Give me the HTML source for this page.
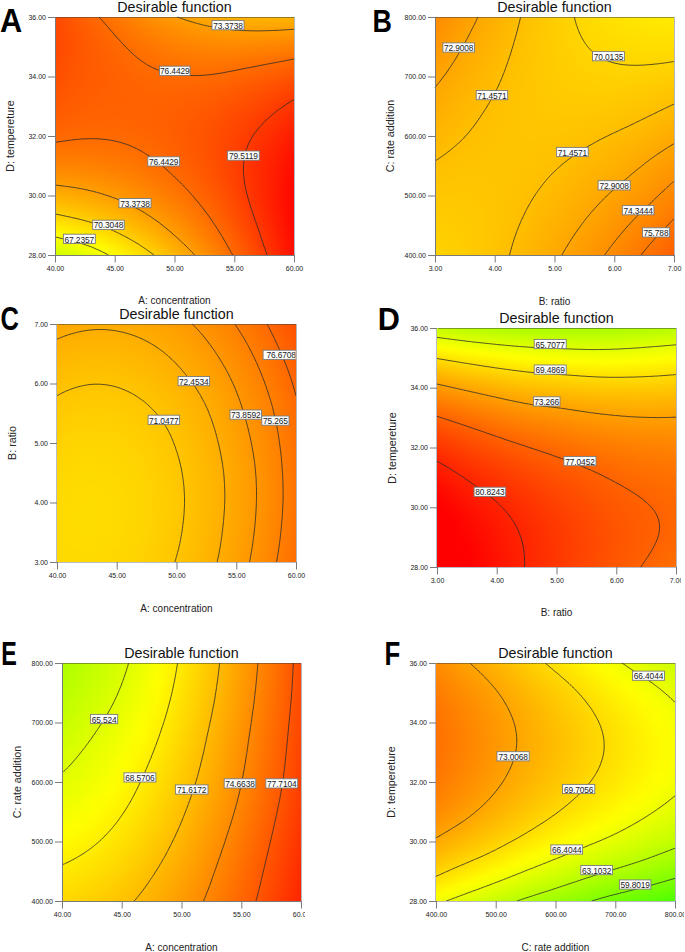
<!DOCTYPE html>
<html><head><meta charset="utf-8"><style>
html,body{margin:0;padding:0;background:#fff;}
body{width:685px;height:952px;position:relative;overflow:hidden;font-family:"Liberation Sans",sans-serif;}
.fld{position:absolute;overflow:hidden}
.fld i{position:absolute;left:0;right:0;height:2px;display:block}
svg{position:absolute;left:0;top:0}
.ct path{fill:none;stroke:#2a2a2a;stroke-width:0.8}
.ax{fill:none;stroke:#7a7a7a;stroke-width:1}
.bd{fill:none;stroke:rgba(60,60,60,0.5);stroke-width:1}
.bdr{fill:none;stroke:#b4b8bc;stroke-width:1}
.axl{fill:none;stroke:#b8bcc6;stroke-width:1}
.lbs rect{fill:#fff;stroke:#7a7a7a;stroke-width:0.9}
.lbs text{font-size:8.4px;text-anchor:middle;fill:#1a1a1a;letter-spacing:-0.12px}
.le{font-weight:bold;fill:#000}
.tk{position:absolute;font-size:7px;line-height:8px;color:#222;white-space:nowrap}
.at{position:absolute;font-size:10px;line-height:12px;color:#222;white-space:nowrap}
.yt{transform:rotate(-90deg);font-size:10.7px}
.ti{position:absolute;font-size:14.3px;line-height:16px;color:#111;white-space:nowrap}

</style></head><body>
<div class="fld" style="left:55px;top:17px;width:239px;height:238px">
<i style="top:0px;background:linear-gradient(90deg,#ff4800 0%,#ff5600 6.667%,#ff6300 13.33%,#ff6e00 20%,#ff7900 26.67%,#ff8400 33.33%,#ff8f00 40%,#ff9800 46.67%,#ff9f00 53.33%,#ffa600 60%,#ffab00 66.67%,#ffb000 73.33%,#ffb200 80%,#ffb400 86.67%,#ffb400 93.33%,#ffb300 100%)"></i>
<i style="top:2px;background:linear-gradient(90deg,#ff4800 0%,#ff5600 6.667%,#ff6200 13.33%,#ff6d00 20%,#ff7800 26.67%,#ff8200 33.33%,#ff8d00 40%,#ff9600 46.67%,#ff9d00 53.33%,#ffa300 60%,#ffa800 66.67%,#ffac00 73.33%,#ffaf00 80%,#ffb100 86.67%,#ffb100 93.33%,#ffaf00 100%)"></i>
<i style="top:4px;background:linear-gradient(90deg,#ff4800 0%,#ff5500 6.667%,#ff6100 13.33%,#ff6b00 20%,#ff7600 26.67%,#ff8100 33.33%,#ff8b00 40%,#ff9300 46.67%,#ff9b00 53.33%,#ffa100 60%,#ffa600 66.67%,#ffa900 73.33%,#ffac00 80%,#ffad00 86.67%,#ffad00 93.33%,#ffac00 100%)"></i>
<i style="top:6px;background:linear-gradient(90deg,#ff4700 0%,#ff5400 6.667%,#ff6000 13.33%,#ff6a00 20%,#ff7500 26.67%,#ff7f00 33.33%,#ff8900 40%,#ff9100 46.67%,#ff9800 53.33%,#ff9e00 60%,#ffa300 66.67%,#ffa600 73.33%,#ffa900 80%,#ffaa00 86.67%,#ffa900 93.33%,#ffa800 100%)"></i>
<i style="top:8px;background:linear-gradient(90deg,#ff4700 0%,#ff5400 6.667%,#ff5f00 13.33%,#ff6900 20%,#ff7300 26.67%,#ff7d00 33.33%,#ff8700 40%,#ff8f00 46.67%,#ff9600 53.33%,#ff9c00 60%,#ffa000 66.67%,#ffa400 73.33%,#ffa600 80%,#ffa600 86.67%,#ffa600 93.33%,#ffa400 100%)"></i>
<i style="top:10px;background:linear-gradient(90deg,#ff4700 0%,#ff5300 6.667%,#ff5e00 13.33%,#ff6800 20%,#ff7200 26.67%,#ff7c00 33.33%,#ff8500 40%,#ff8d00 46.67%,#ff9400 53.33%,#ff9900 60%,#ff9d00 66.67%,#ffa100 73.33%,#ffa300 80%,#ffa300 86.67%,#ffa200 93.33%,#ffa100 100%)"></i>
<i style="top:12px;background:linear-gradient(90deg,#ff4600 0%,#ff5300 6.667%,#ff5e00 13.33%,#ff6700 20%,#ff7100 26.67%,#ff7a00 33.33%,#ff8300 40%,#ff8b00 46.67%,#ff9200 53.33%,#ff9700 60%,#ff9b00 66.67%,#ff9e00 73.33%,#ff9f00 80%,#ffa000 86.67%,#ff9f00 93.33%,#ff9d00 100%)"></i>
<i style="top:14px;background:linear-gradient(90deg,#ff4600 0%,#ff5200 6.667%,#ff5d00 13.33%,#ff6600 20%,#ff7000 26.67%,#ff7900 33.33%,#ff8200 40%,#ff8900 46.67%,#ff8f00 53.33%,#ff9400 60%,#ff9800 66.67%,#ff9b00 73.33%,#ff9c00 80%,#ff9c00 86.67%,#ff9b00 93.33%,#ff9900 100%)"></i>
<i style="top:16px;background:linear-gradient(90deg,#ff4600 0%,#ff5200 6.667%,#ff5c00 13.33%,#ff6600 20%,#ff6f00 26.67%,#ff7800 33.33%,#ff8000 40%,#ff8700 46.67%,#ff8d00 53.33%,#ff9200 60%,#ff9600 66.67%,#ff9800 73.33%,#ff9900 80%,#ff9900 86.67%,#ff9800 93.33%,#ff9600 100%)"></i>
<i style="top:18px;background:linear-gradient(90deg,#ff4600 0%,#ff5200 6.667%,#ff5c00 13.33%,#ff6500 20%,#ff6e00 26.67%,#ff7600 33.33%,#ff7e00 40%,#ff8500 46.67%,#ff8b00 53.33%,#ff9000 60%,#ff9300 66.67%,#ff9500 73.33%,#ff9600 80%,#ff9600 86.67%,#ff9500 93.33%,#ff9200 100%)"></i>
<i style="top:20px;background:linear-gradient(90deg,#ff4600 0%,#ff5200 6.667%,#ff5b00 13.33%,#ff6400 20%,#ff6d00 26.67%,#ff7500 33.33%,#ff7d00 40%,#ff8400 46.67%,#ff8900 53.33%,#ff8e00 60%,#ff9100 66.67%,#ff9300 73.33%,#ff9300 80%,#ff9300 86.67%,#ff9100 93.33%,#ff8f00 100%)"></i>
<i style="top:22px;background:linear-gradient(90deg,#ff4600 0%,#ff5200 6.667%,#ff5b00 13.33%,#ff6300 20%,#ff6c00 26.67%,#ff7400 33.33%,#ff7b00 40%,#ff8200 46.67%,#ff8700 53.33%,#ff8b00 60%,#ff8e00 66.67%,#ff9000 73.33%,#ff9000 80%,#ff9000 86.67%,#ff8e00 93.33%,#ff8b00 100%)"></i>
<i style="top:24px;background:linear-gradient(90deg,#ff4600 0%,#ff5100 6.667%,#ff5b00 13.33%,#ff6300 20%,#ff6b00 26.67%,#ff7300 33.33%,#ff7a00 40%,#ff8000 46.67%,#ff8500 53.33%,#ff8900 60%,#ff8c00 66.67%,#ff8d00 73.33%,#ff8d00 80%,#ff8c00 86.67%,#ff8a00 93.33%,#ff8800 100%)"></i>
<i style="top:26px;background:linear-gradient(90deg,#ff4700 0%,#ff5100 6.667%,#ff5a00 13.33%,#ff6200 20%,#ff6a00 26.67%,#ff7100 33.33%,#ff7900 40%,#ff7f00 46.67%,#ff8300 53.33%,#ff8700 60%,#ff8a00 66.67%,#ff8b00 73.33%,#ff8b00 80%,#ff8900 86.67%,#ff8700 93.33%,#ff8400 100%)"></i>
<i style="top:28px;background:linear-gradient(90deg,#ff4700 0%,#ff5100 6.667%,#ff5a00 13.33%,#ff6200 20%,#ff6900 26.67%,#ff7000 33.33%,#ff7700 40%,#ff7d00 46.67%,#ff8200 53.33%,#ff8500 60%,#ff8700 66.67%,#ff8800 73.33%,#ff8800 80%,#ff8600 86.67%,#ff8400 93.33%,#ff8100 100%)"></i>
<i style="top:30px;background:linear-gradient(90deg,#ff4700 0%,#ff5100 6.667%,#ff5a00 13.33%,#ff6100 20%,#ff6800 26.67%,#ff6f00 33.33%,#ff7600 40%,#ff7b00 46.67%,#ff8000 53.33%,#ff8300 60%,#ff8500 66.67%,#ff8600 73.33%,#ff8500 80%,#ff8300 86.67%,#ff8100 93.33%,#ff7d00 100%)"></i>
<i style="top:32px;background:linear-gradient(90deg,#ff4700 0%,#ff5200 6.667%,#ff5a00 13.33%,#ff6100 20%,#ff6800 26.67%,#ff6e00 33.33%,#ff7500 40%,#ff7a00 46.67%,#ff7e00 53.33%,#ff8100 60%,#ff8300 66.67%,#ff8300 73.33%,#ff8200 80%,#ff8000 86.67%,#ff7e00 93.33%,#ff7a00 100%)"></i>
<i style="top:34px;background:linear-gradient(90deg,#ff4800 0%,#ff5200 6.667%,#ff5a00 13.33%,#ff6000 20%,#ff6700 26.67%,#ff6d00 33.33%,#ff7300 40%,#ff7800 46.67%,#ff7c00 53.33%,#ff7f00 60%,#ff8100 66.67%,#ff8100 73.33%,#ff8000 80%,#ff7e00 86.67%,#ff7b00 93.33%,#ff7700 100%)"></i>
<i style="top:36px;background:linear-gradient(90deg,#ff4800 0%,#ff5200 6.667%,#ff5900 13.33%,#ff6000 20%,#ff6600 26.67%,#ff6d00 33.33%,#ff7200 40%,#ff7700 46.67%,#ff7b00 53.33%,#ff7d00 60%,#ff7e00 66.67%,#ff7e00 73.33%,#ff7d00 80%,#ff7b00 86.67%,#ff7800 93.33%,#ff7400 100%)"></i>
<i style="top:38px;background:linear-gradient(90deg,#ff4800 0%,#ff5200 6.667%,#ff5900 13.33%,#ff6000 20%,#ff6600 26.67%,#ff6c00 33.33%,#ff7100 40%,#ff7600 46.67%,#ff7900 53.33%,#ff7b00 60%,#ff7c00 66.67%,#ff7c00 73.33%,#ff7a00 80%,#ff7800 86.67%,#ff7500 93.33%,#ff7100 100%)"></i>
<i style="top:40px;background:linear-gradient(90deg,#ff4900 0%,#ff5200 6.667%,#ff5900 13.33%,#ff5f00 20%,#ff6500 26.67%,#ff6b00 33.33%,#ff7000 40%,#ff7400 46.67%,#ff7800 53.33%,#ff7a00 60%,#ff7a00 66.67%,#ff7a00 73.33%,#ff7800 80%,#ff7500 86.67%,#ff7200 93.33%,#ff6d00 100%)"></i>
<i style="top:42px;background:linear-gradient(90deg,#ff4900 0%,#ff5200 6.667%,#ff5900 13.33%,#ff5f00 20%,#ff6500 26.67%,#ff6a00 33.33%,#ff6f00 40%,#ff7300 46.67%,#ff7600 53.33%,#ff7800 60%,#ff7800 66.67%,#ff7800 73.33%,#ff7500 80%,#ff7200 86.67%,#ff6f00 93.33%,#ff6a00 100%)"></i>
<i style="top:44px;background:linear-gradient(90deg,#ff4a00 0%,#ff5300 6.667%,#ff5900 13.33%,#ff5f00 20%,#ff6400 26.67%,#ff6900 33.33%,#ff6e00 40%,#ff7200 46.67%,#ff7500 53.33%,#ff7600 60%,#ff7600 66.67%,#ff7500 73.33%,#ff7300 80%,#ff7000 86.67%,#ff6c00 93.33%,#ff6700 100%)"></i>
<i style="top:46px;background:linear-gradient(90deg,#ff4a00 0%,#ff5300 6.667%,#ff5900 13.33%,#ff5f00 20%,#ff6400 26.67%,#ff6900 33.33%,#ff6d00 40%,#ff7100 46.67%,#ff7300 53.33%,#ff7500 60%,#ff7500 66.67%,#ff7300 73.33%,#ff7100 80%,#ff6d00 86.67%,#ff6900 93.33%,#ff6400 100%)"></i>
<i style="top:48px;background:linear-gradient(90deg,#ff4b00 0%,#ff5300 6.667%,#ff5900 13.33%,#ff5f00 20%,#ff6300 26.67%,#ff6800 33.33%,#ff6c00 40%,#ff6f00 46.67%,#ff7200 53.33%,#ff7300 60%,#ff7300 66.67%,#ff7100 73.33%,#ff6e00 80%,#ff6b00 86.67%,#ff6700 93.33%,#ff6200 100%)"></i>
<i style="top:50px;background:linear-gradient(90deg,#ff4b00 0%,#ff5400 6.667%,#ff5a00 13.33%,#ff5f00 20%,#ff6300 26.67%,#ff6700 33.33%,#ff6b00 40%,#ff6e00 46.67%,#ff7000 53.33%,#ff7100 60%,#ff7100 66.67%,#ff6f00 73.33%,#ff6c00 80%,#ff6800 86.67%,#ff6400 93.33%,#ff5f00 100%)"></i>
<i style="top:52px;background:linear-gradient(90deg,#ff4c00 0%,#ff5400 6.667%,#ff5a00 13.33%,#ff5e00 20%,#ff6300 26.67%,#ff6700 33.33%,#ff6a00 40%,#ff6d00 46.67%,#ff6f00 53.33%,#ff7000 60%,#ff6f00 66.67%,#ff6d00 73.33%,#ff6a00 80%,#ff6600 86.67%,#ff6100 93.33%,#ff5c00 100%)"></i>
<i style="top:54px;background:linear-gradient(90deg,#ff4c00 0%,#ff5400 6.667%,#ff5a00 13.33%,#ff5e00 20%,#ff6200 26.67%,#ff6600 33.33%,#ff6a00 40%,#ff6c00 46.67%,#ff6e00 53.33%,#ff6e00 60%,#ff6e00 66.67%,#ff6b00 73.33%,#ff6800 80%,#ff6400 86.67%,#ff5f00 93.33%,#ff5900 100%)"></i>
<i style="top:56px;background:linear-gradient(90deg,#ff4d00 0%,#ff5500 6.667%,#ff5a00 13.33%,#ff5e00 20%,#ff6200 26.67%,#ff6600 33.33%,#ff6900 40%,#ff6b00 46.67%,#ff6d00 53.33%,#ff6d00 60%,#ff6c00 66.67%,#ff6900 73.33%,#ff6600 80%,#ff6200 86.67%,#ff5d00 93.33%,#ff5700 100%)"></i>
<i style="top:58px;background:linear-gradient(90deg,#ff4e00 0%,#ff5500 6.667%,#ff5a00 13.33%,#ff5e00 20%,#ff6200 26.67%,#ff6500 33.33%,#ff6800 40%,#ff6a00 46.67%,#ff6b00 53.33%,#ff6c00 60%,#ff6a00 66.67%,#ff6800 73.33%,#ff6400 80%,#ff5f00 86.67%,#ff5a00 93.33%,#ff5400 100%)"></i>
<i style="top:60px;background:linear-gradient(90deg,#ff4e00 0%,#ff5500 6.667%,#ff5a00 13.33%,#ff5e00 20%,#ff6200 26.67%,#ff6500 33.33%,#ff6700 40%,#ff6900 46.67%,#ff6a00 53.33%,#ff6a00 60%,#ff6900 66.67%,#ff6600 73.33%,#ff6200 80%,#ff5d00 86.67%,#ff5800 93.33%,#ff5200 100%)"></i>
<i style="top:62px;background:linear-gradient(90deg,#ff4f00 0%,#ff5600 6.667%,#ff5b00 13.33%,#ff5e00 20%,#ff6200 26.67%,#ff6400 33.33%,#ff6700 40%,#ff6800 46.67%,#ff6900 53.33%,#ff6900 60%,#ff6700 66.67%,#ff6400 73.33%,#ff6000 80%,#ff5b00 86.67%,#ff5600 93.33%,#ff4f00 100%)"></i>
<i style="top:64px;background:linear-gradient(90deg,#ff4f00 0%,#ff5600 6.667%,#ff5b00 13.33%,#ff5e00 20%,#ff6100 26.67%,#ff6400 33.33%,#ff6600 40%,#ff6800 46.67%,#ff6800 53.33%,#ff6800 60%,#ff6600 66.67%,#ff6300 73.33%,#ff5e00 80%,#ff5900 86.67%,#ff5300 93.33%,#ff4d00 100%)"></i>
<i style="top:66px;background:linear-gradient(90deg,#ff5000 0%,#ff5700 6.667%,#ff5b00 13.33%,#ff5e00 20%,#ff6100 26.67%,#ff6400 33.33%,#ff6600 40%,#ff6700 46.67%,#ff6700 53.33%,#ff6600 60%,#ff6400 66.67%,#ff6100 73.33%,#ff5c00 80%,#ff5700 86.67%,#ff5100 93.33%,#ff4a00 100%)"></i>
<i style="top:68px;background:linear-gradient(90deg,#ff5100 0%,#ff5700 6.667%,#ff5b00 13.33%,#ff5f00 20%,#ff6100 26.67%,#ff6300 33.33%,#ff6500 40%,#ff6600 46.67%,#ff6600 53.33%,#ff6500 60%,#ff6300 66.67%,#ff5f00 73.33%,#ff5b00 80%,#ff5500 86.67%,#ff4f00 93.33%,#ff4800 100%)"></i>
<i style="top:70px;background:linear-gradient(90deg,#ff5100 0%,#ff5800 6.667%,#ff5c00 13.33%,#ff5f00 20%,#ff6100 26.67%,#ff6300 33.33%,#ff6500 40%,#ff6500 46.67%,#ff6500 53.33%,#ff6400 60%,#ff6200 66.67%,#ff5e00 73.33%,#ff5900 80%,#ff5400 86.67%,#ff4d00 93.33%,#ff4600 100%)"></i>
<i style="top:72px;background:linear-gradient(90deg,#ff5200 0%,#ff5800 6.667%,#ff5c00 13.33%,#ff5f00 20%,#ff6100 26.67%,#ff6300 33.33%,#ff6400 40%,#ff6500 46.67%,#ff6400 53.33%,#ff6300 60%,#ff6000 66.67%,#ff5c00 73.33%,#ff5700 80%,#ff5200 86.67%,#ff4b00 93.33%,#ff4300 100%)"></i>
<i style="top:74px;background:linear-gradient(90deg,#ff5300 0%,#ff5900 6.667%,#ff5c00 13.33%,#ff5f00 20%,#ff6100 26.67%,#ff6300 33.33%,#ff6400 40%,#ff6400 46.67%,#ff6300 53.33%,#ff6200 60%,#ff5f00 66.67%,#ff5b00 73.33%,#ff5600 80%,#ff5000 86.67%,#ff4900 93.33%,#ff4100 100%)"></i>
<i style="top:76px;background:linear-gradient(90deg,#ff5400 0%,#ff5900 6.667%,#ff5d00 13.33%,#ff5f00 20%,#ff6100 26.67%,#ff6200 33.33%,#ff6300 40%,#ff6300 46.67%,#ff6300 53.33%,#ff6100 60%,#ff5e00 66.67%,#ff5a00 73.33%,#ff5400 80%,#ff4e00 86.67%,#ff4700 93.33%,#ff3f00 100%)"></i>
<i style="top:78px;background:linear-gradient(90deg,#ff5400 0%,#ff5a00 6.667%,#ff5d00 13.33%,#ff5f00 20%,#ff6100 26.67%,#ff6200 33.33%,#ff6300 40%,#ff6300 46.67%,#ff6200 53.33%,#ff6000 60%,#ff5d00 66.67%,#ff5800 73.33%,#ff5300 80%,#ff4d00 86.67%,#ff4500 93.33%,#ff3d00 100%)"></i>
<i style="top:80px;background:linear-gradient(90deg,#ff5500 0%,#ff5a00 6.667%,#ff5d00 13.33%,#ff6000 20%,#ff6100 26.67%,#ff6200 33.33%,#ff6300 40%,#ff6200 46.67%,#ff6100 53.33%,#ff5f00 60%,#ff5c00 66.67%,#ff5700 73.33%,#ff5100 80%,#ff4b00 86.67%,#ff4400 93.33%,#ff3b00 100%)"></i>
<i style="top:82px;background:linear-gradient(90deg,#ff5600 0%,#ff5b00 6.667%,#ff5e00 13.33%,#ff6000 20%,#ff6100 26.67%,#ff6200 33.33%,#ff6200 40%,#ff6200 46.67%,#ff6000 53.33%,#ff5e00 60%,#ff5b00 66.67%,#ff5600 73.33%,#ff5000 80%,#ff4900 86.67%,#ff4200 93.33%,#ff3900 100%)"></i>
<i style="top:84px;background:linear-gradient(90deg,#ff5700 0%,#ff5b00 6.667%,#ff5e00 13.33%,#ff6000 20%,#ff6100 26.67%,#ff6200 33.33%,#ff6200 40%,#ff6100 46.67%,#ff6000 53.33%,#ff5d00 60%,#ff5a00 66.67%,#ff5500 73.33%,#ff4f00 80%,#ff4800 86.67%,#ff4000 93.33%,#ff3700 100%)"></i>
<i style="top:86px;background:linear-gradient(90deg,#ff5700 0%,#ff5c00 6.667%,#ff5f00 13.33%,#ff6000 20%,#ff6200 26.67%,#ff6200 33.33%,#ff6200 40%,#ff6100 46.67%,#ff5f00 53.33%,#ff5c00 60%,#ff5900 66.67%,#ff5300 73.33%,#ff4d00 80%,#ff4600 86.67%,#ff3e00 93.33%,#ff3500 100%)"></i>
<i style="top:88px;background:linear-gradient(90deg,#ff5800 0%,#ff5d00 6.667%,#ff5f00 13.33%,#ff6100 20%,#ff6200 26.67%,#ff6200 33.33%,#ff6200 40%,#ff6100 46.67%,#ff5f00 53.33%,#ff5c00 60%,#ff5800 66.67%,#ff5200 73.33%,#ff4c00 80%,#ff4500 86.67%,#ff3d00 93.33%,#ff3300 100%)"></i>
<i style="top:90px;background:linear-gradient(90deg,#ff5900 0%,#ff5d00 6.667%,#ff6000 13.33%,#ff6100 20%,#ff6200 26.67%,#ff6200 33.33%,#ff6200 40%,#ff6000 46.67%,#ff5e00 53.33%,#ff5b00 60%,#ff5700 66.67%,#ff5100 73.33%,#ff4b00 80%,#ff4400 86.67%,#ff3b00 93.33%,#ff3100 100%)"></i>
<i style="top:92px;background:linear-gradient(90deg,#ff5a00 0%,#ff5e00 6.667%,#ff6000 13.33%,#ff6200 20%,#ff6200 26.67%,#ff6200 33.33%,#ff6200 40%,#ff6000 46.67%,#ff5e00 53.33%,#ff5a00 60%,#ff5600 66.67%,#ff5000 73.33%,#ff4a00 80%,#ff4200 86.67%,#ff3a00 93.33%,#ff3000 100%)"></i>
<i style="top:94px;background:linear-gradient(90deg,#ff5a00 0%,#ff5e00 6.667%,#ff6100 13.33%,#ff6200 20%,#ff6200 26.67%,#ff6200 33.33%,#ff6200 40%,#ff6000 46.67%,#ff5d00 53.33%,#ff5a00 60%,#ff5500 66.67%,#ff4f00 73.33%,#ff4900 80%,#ff4100 86.67%,#ff3800 93.33%,#ff2e00 100%)"></i>
<i style="top:96px;background:linear-gradient(90deg,#ff5b00 0%,#ff5f00 6.667%,#ff6100 13.33%,#ff6200 20%,#ff6300 26.67%,#ff6300 33.33%,#ff6200 40%,#ff6000 46.67%,#ff5d00 53.33%,#ff5900 60%,#ff5400 66.67%,#ff4e00 73.33%,#ff4700 80%,#ff4000 86.67%,#ff3600 93.33%,#ff2c00 100%)"></i>
<i style="top:98px;background:linear-gradient(90deg,#ff5c00 0%,#ff6000 6.667%,#ff6200 13.33%,#ff6300 20%,#ff6300 26.67%,#ff6300 33.33%,#ff6200 40%,#ff6000 46.67%,#ff5d00 53.33%,#ff5900 60%,#ff5400 66.67%,#ff4d00 73.33%,#ff4600 80%,#ff3e00 86.67%,#ff3500 93.33%,#ff2a00 100%)"></i>
<i style="top:100px;background:linear-gradient(90deg,#ff5d00 0%,#ff6100 6.667%,#ff6300 13.33%,#ff6300 20%,#ff6400 26.67%,#ff6300 33.33%,#ff6200 40%,#ff5f00 46.67%,#ff5c00 53.33%,#ff5800 60%,#ff5300 66.67%,#ff4d00 73.33%,#ff4500 80%,#ff3d00 86.67%,#ff3400 93.33%,#ff2900 100%)"></i>
<i style="top:102px;background:linear-gradient(90deg,#ff5e00 0%,#ff6100 6.667%,#ff6300 13.33%,#ff6400 20%,#ff6400 26.67%,#ff6300 33.33%,#ff6200 40%,#ff5f00 46.67%,#ff5c00 53.33%,#ff5800 60%,#ff5200 66.67%,#ff4c00 73.33%,#ff4400 80%,#ff3c00 86.67%,#ff3200 93.33%,#ff2700 100%)"></i>
<i style="top:104px;background:linear-gradient(90deg,#ff5f00 0%,#ff6200 6.667%,#ff6400 13.33%,#ff6500 20%,#ff6500 26.67%,#ff6400 33.33%,#ff6200 40%,#ff5f00 46.67%,#ff5c00 53.33%,#ff5700 60%,#ff5200 66.67%,#ff4b00 73.33%,#ff4300 80%,#ff3b00 86.67%,#ff3100 93.33%,#ff2600 100%)"></i>
<i style="top:106px;background:linear-gradient(90deg,#ff6000 0%,#ff6300 6.667%,#ff6500 13.33%,#ff6500 20%,#ff6500 26.67%,#ff6400 33.33%,#ff6200 40%,#ff5f00 46.67%,#ff5c00 53.33%,#ff5700 60%,#ff5100 66.67%,#ff4a00 73.33%,#ff4200 80%,#ff3a00 86.67%,#ff2f00 93.33%,#ff2400 100%)"></i>
<i style="top:108px;background:linear-gradient(90deg,#ff6100 0%,#ff6400 6.667%,#ff6600 13.33%,#ff6600 20%,#ff6600 26.67%,#ff6400 33.33%,#ff6200 40%,#ff5f00 46.67%,#ff5c00 53.33%,#ff5700 60%,#ff5100 66.67%,#ff4a00 73.33%,#ff4100 80%,#ff3800 86.67%,#ff2e00 93.33%,#ff2300 100%)"></i>
<i style="top:110px;background:linear-gradient(90deg,#ff6200 0%,#ff6500 6.667%,#ff6600 13.33%,#ff6700 20%,#ff6600 26.67%,#ff6500 33.33%,#ff6300 40%,#ff6000 46.67%,#ff5b00 53.33%,#ff5600 60%,#ff5000 66.67%,#ff4900 73.33%,#ff4100 80%,#ff3700 86.67%,#ff2d00 93.33%,#ff2100 100%)"></i>
<i style="top:112px;background:linear-gradient(90deg,#ff6300 0%,#ff6600 6.667%,#ff6700 13.33%,#ff6800 20%,#ff6700 26.67%,#ff6500 33.33%,#ff6300 40%,#ff6000 46.67%,#ff5b00 53.33%,#ff5600 60%,#ff5000 66.67%,#ff4800 73.33%,#ff4000 80%,#ff3600 86.67%,#ff2c00 93.33%,#ff2000 100%)"></i>
<i style="top:114px;background:linear-gradient(90deg,#ff6500 0%,#ff6700 6.667%,#ff6800 13.33%,#ff6800 20%,#ff6800 26.67%,#ff6600 33.33%,#ff6300 40%,#ff6000 46.67%,#ff5b00 53.33%,#ff5600 60%,#ff4f00 66.67%,#ff4800 73.33%,#ff3f00 80%,#ff3500 86.67%,#ff2a00 93.33%,#ff1e00 100%)"></i>
<i style="top:116px;background:linear-gradient(90deg,#ff6600 0%,#ff6800 6.667%,#ff6900 13.33%,#ff6900 20%,#ff6800 26.67%,#ff6700 33.33%,#ff6400 40%,#ff6000 46.67%,#ff5b00 53.33%,#ff5600 60%,#ff4f00 66.67%,#ff4700 73.33%,#ff3e00 80%,#ff3400 86.67%,#ff2900 93.33%,#ff1d00 100%)"></i>
<i style="top:118px;background:linear-gradient(90deg,#ff6700 0%,#ff6900 6.667%,#ff6a00 13.33%,#ff6a00 20%,#ff6900 26.67%,#ff6700 33.33%,#ff6400 40%,#ff6000 46.67%,#ff5c00 53.33%,#ff5600 60%,#ff4f00 66.67%,#ff4700 73.33%,#ff3d00 80%,#ff3300 86.67%,#ff2800 93.33%,#ff1b00 100%)"></i>
<i style="top:120px;background:linear-gradient(90deg,#ff6900 0%,#ff6a00 6.667%,#ff6b00 13.33%,#ff6b00 20%,#ff6a00 26.67%,#ff6800 33.33%,#ff6500 40%,#ff6100 46.67%,#ff5c00 53.33%,#ff5600 60%,#ff4e00 66.67%,#ff4600 73.33%,#ff3d00 80%,#ff3200 86.67%,#ff2700 93.33%,#ff1a00 100%)"></i>
<i style="top:122px;background:linear-gradient(90deg,#ff6a00 0%,#ff6c00 6.667%,#ff6d00 13.33%,#ff6c00 20%,#ff6b00 26.67%,#ff6900 33.33%,#ff6500 40%,#ff6100 46.67%,#ff5c00 53.33%,#ff5600 60%,#ff4e00 66.67%,#ff4600 73.33%,#ff3c00 80%,#ff3200 86.67%,#ff2600 93.33%,#ff1900 100%)"></i>
<i style="top:124px;background:linear-gradient(90deg,#ff6c00 0%,#ff6d00 6.667%,#ff6e00 13.33%,#ff6d00 20%,#ff6c00 26.67%,#ff6900 33.33%,#ff6600 40%,#ff6200 46.67%,#ff5c00 53.33%,#ff5600 60%,#ff4e00 66.67%,#ff4500 73.33%,#ff3b00 80%,#ff3100 86.67%,#ff2500 93.33%,#ff1800 100%)"></i>
<i style="top:126px;background:linear-gradient(90deg,#ff6d00 0%,#ff6f00 6.667%,#ff6f00 13.33%,#ff6f00 20%,#ff6d00 26.67%,#ff6a00 33.33%,#ff6700 40%,#ff6200 46.67%,#ff5c00 53.33%,#ff5600 60%,#ff4e00 66.67%,#ff4500 73.33%,#ff3b00 80%,#ff3000 86.67%,#ff2400 93.33%,#ff1600 100%)"></i>
<i style="top:128px;background:linear-gradient(90deg,#ff6f00 0%,#ff7000 6.667%,#ff7100 13.33%,#ff7000 20%,#ff6e00 26.67%,#ff6b00 33.33%,#ff6700 40%,#ff6200 46.67%,#ff5d00 53.33%,#ff5600 60%,#ff4e00 66.67%,#ff4500 73.33%,#ff3a00 80%,#ff2f00 86.67%,#ff2300 93.33%,#ff1500 100%)"></i>
<i style="top:130px;background:linear-gradient(90deg,#ff7100 0%,#ff7200 6.667%,#ff7200 13.33%,#ff7100 20%,#ff6f00 26.67%,#ff6c00 33.33%,#ff6800 40%,#ff6300 46.67%,#ff5d00 53.33%,#ff5600 60%,#ff4e00 66.67%,#ff4400 73.33%,#ff3a00 80%,#ff2e00 86.67%,#ff2200 93.33%,#ff1400 100%)"></i>
<i style="top:132px;background:linear-gradient(90deg,#ff7300 0%,#ff7400 6.667%,#ff7400 13.33%,#ff7200 20%,#ff7000 26.67%,#ff6d00 33.33%,#ff6900 40%,#ff6400 46.67%,#ff5d00 53.33%,#ff5600 60%,#ff4e00 66.67%,#ff4400 73.33%,#ff3900 80%,#ff2e00 86.67%,#ff2100 93.33%,#ff1300 100%)"></i>
<i style="top:134px;background:linear-gradient(90deg,#ff7500 0%,#ff7500 6.667%,#ff7500 13.33%,#ff7400 20%,#ff7100 26.67%,#ff6e00 33.33%,#ff6a00 40%,#ff6400 46.67%,#ff5e00 53.33%,#ff5600 60%,#ff4e00 66.67%,#ff4400 73.33%,#ff3900 80%,#ff2d00 86.67%,#ff2000 93.33%,#ff1200 100%)"></i>
<i style="top:136px;background:linear-gradient(90deg,#ff7700 0%,#ff7700 6.667%,#ff7700 13.33%,#ff7500 20%,#ff7300 26.67%,#ff6f00 33.33%,#ff6a00 40%,#ff6500 46.67%,#ff5e00 53.33%,#ff5700 60%,#ff4e00 66.67%,#ff4400 73.33%,#ff3900 80%,#ff2c00 86.67%,#ff1f00 93.33%,#ff1100 100%)"></i>
<i style="top:138px;background:linear-gradient(90deg,#ff7900 0%,#ff7900 6.667%,#ff7800 13.33%,#ff7700 20%,#ff7400 26.67%,#ff7000 33.33%,#ff6b00 40%,#ff6600 46.67%,#ff5f00 53.33%,#ff5700 60%,#ff4e00 66.67%,#ff4400 73.33%,#ff3800 80%,#ff2c00 86.67%,#ff1f00 93.33%,#ff1000 100%)"></i>
<i style="top:140px;background:linear-gradient(90deg,#ff7b00 0%,#ff7b00 6.667%,#ff7a00 13.33%,#ff7800 20%,#ff7500 26.67%,#ff7100 33.33%,#ff6c00 40%,#ff6600 46.67%,#ff6000 53.33%,#ff5800 60%,#ff4e00 66.67%,#ff4400 73.33%,#ff3800 80%,#ff2b00 86.67%,#ff1e00 93.33%,#ff0f00 100%)"></i>
<i style="top:142px;background:linear-gradient(90deg,#ff7d00 0%,#ff7d00 6.667%,#ff7c00 13.33%,#ff7a00 20%,#ff7700 26.67%,#ff7300 33.33%,#ff6d00 40%,#ff6700 46.67%,#ff6000 53.33%,#ff5800 60%,#ff4e00 66.67%,#ff4400 73.33%,#ff3800 80%,#ff2b00 86.67%,#ff1d00 93.33%,#ff0e00 100%)"></i>
<i style="top:144px;background:linear-gradient(90deg,#ff7f00 0%,#ff7f00 6.667%,#ff7e00 13.33%,#ff7c00 20%,#ff7800 26.67%,#ff7400 33.33%,#ff6e00 40%,#ff6800 46.67%,#ff6100 53.33%,#ff5800 60%,#ff4f00 66.67%,#ff4400 73.33%,#ff3700 80%,#ff2a00 86.67%,#ff1c00 93.33%,#ff0d00 100%)"></i>
<i style="top:146px;background:linear-gradient(90deg,#ff8200 0%,#ff8100 6.667%,#ff8000 13.33%,#ff7d00 20%,#ff7a00 26.67%,#ff7500 33.33%,#ff7000 40%,#ff6900 46.67%,#ff6200 53.33%,#ff5900 60%,#ff4f00 66.67%,#ff4400 73.33%,#ff3700 80%,#ff2a00 86.67%,#ff1c00 93.33%,#ff0d00 100%)"></i>
<i style="top:148px;background:linear-gradient(90deg,#ff8400 0%,#ff8300 6.667%,#ff8200 13.33%,#ff7f00 20%,#ff7b00 26.67%,#ff7700 33.33%,#ff7100 40%,#ff6a00 46.67%,#ff6200 53.33%,#ff5a00 60%,#ff4f00 66.67%,#ff4400 73.33%,#ff3700 80%,#ff2a00 86.67%,#ff1b00 93.33%,#ff0c00 100%)"></i>
<i style="top:150px;background:linear-gradient(90deg,#ff8700 0%,#ff8600 6.667%,#ff8400 13.33%,#ff8100 20%,#ff7d00 26.67%,#ff7800 33.33%,#ff7200 40%,#ff6b00 46.67%,#ff6300 53.33%,#ff5a00 60%,#ff5000 66.67%,#ff4400 73.33%,#ff3700 80%,#ff2900 86.67%,#ff1b00 93.33%,#ff0b00 100%)"></i>
<i style="top:152px;background:linear-gradient(90deg,#ff8900 0%,#ff8800 6.667%,#ff8600 13.33%,#ff8300 20%,#ff7f00 26.67%,#ff7900 33.33%,#ff7300 40%,#ff6c00 46.67%,#ff6400 53.33%,#ff5b00 60%,#ff5000 66.67%,#ff4400 73.33%,#ff3700 80%,#ff2900 86.67%,#ff1a00 93.33%,#ff0a00 100%)"></i>
<i style="top:154px;background:linear-gradient(90deg,#ff8c00 0%,#ff8a00 6.667%,#ff8800 13.33%,#ff8500 20%,#ff8000 26.67%,#ff7b00 33.33%,#ff7500 40%,#ff6d00 46.67%,#ff6500 53.33%,#ff5c00 60%,#ff5100 66.67%,#ff4400 73.33%,#ff3700 80%,#ff2900 86.67%,#ff1a00 93.33%,#ff0a00 100%)"></i>
<i style="top:156px;background:linear-gradient(90deg,#ff8f00 0%,#ff8d00 6.667%,#ff8a00 13.33%,#ff8700 20%,#ff8200 26.67%,#ff7d00 33.33%,#ff7600 40%,#ff6e00 46.67%,#ff6600 53.33%,#ff5c00 60%,#ff5100 66.67%,#ff4500 73.33%,#ff3700 80%,#ff2900 86.67%,#ff1900 93.33%,#ff0900 100%)"></i>
<i style="top:158px;background:linear-gradient(90deg,#ff9100 0%,#ff8f00 6.667%,#ff8d00 13.33%,#ff8900 20%,#ff8400 26.67%,#ff7e00 33.33%,#ff7700 40%,#ff7000 46.67%,#ff6700 53.33%,#ff5d00 60%,#ff5200 66.67%,#ff4500 73.33%,#ff3700 80%,#ff2900 86.67%,#ff1900 93.33%,#ff0900 100%)"></i>
<i style="top:160px;background:linear-gradient(90deg,#ff9400 0%,#ff9200 6.667%,#ff8f00 13.33%,#ff8b00 20%,#ff8600 26.67%,#ff8000 33.33%,#ff7900 40%,#ff7100 46.67%,#ff6800 53.33%,#ff5e00 60%,#ff5200 66.67%,#ff4500 73.33%,#ff3700 80%,#ff2900 86.67%,#ff1900 93.33%,#ff0800 100%)"></i>
<i style="top:162px;background:linear-gradient(90deg,#ff9700 0%,#ff9500 6.667%,#ff9200 13.33%,#ff8d00 20%,#ff8800 26.67%,#ff8200 33.33%,#ff7a00 40%,#ff7200 46.67%,#ff6900 53.33%,#ff5f00 60%,#ff5300 66.67%,#ff4600 73.33%,#ff3800 80%,#ff2800 86.67%,#ff1900 93.33%,#ff0800 100%)"></i>
<i style="top:164px;background:linear-gradient(90deg,#ff9a00 0%,#ff9700 6.667%,#ff9400 13.33%,#ff9000 20%,#ff8a00 26.67%,#ff8300 33.33%,#ff7c00 40%,#ff7300 46.67%,#ff6a00 53.33%,#ff6000 60%,#ff5400 66.67%,#ff4600 73.33%,#ff3800 80%,#ff2800 86.67%,#ff1800 93.33%,#ff0700 100%)"></i>
<i style="top:166px;background:linear-gradient(90deg,#ff9d00 0%,#ff9a00 6.667%,#ff9700 13.33%,#ff9200 20%,#ff8c00 26.67%,#ff8500 33.33%,#ff7d00 40%,#ff7500 46.67%,#ff6b00 53.33%,#ff6100 60%,#ff5500 66.67%,#ff4700 73.33%,#ff3800 80%,#ff2900 86.67%,#ff1800 93.33%,#ff0700 100%)"></i>
<i style="top:168px;background:linear-gradient(90deg,#ffa000 0%,#ff9d00 6.667%,#ff9900 13.33%,#ff9400 20%,#ff8e00 26.67%,#ff8700 33.33%,#ff7f00 40%,#ff7600 46.67%,#ff6d00 53.33%,#ff6200 60%,#ff5500 66.67%,#ff4700 73.33%,#ff3800 80%,#ff2900 86.67%,#ff1800 93.33%,#ff0600 100%)"></i>
<i style="top:170px;background:linear-gradient(90deg,#ffa300 0%,#ffa000 6.667%,#ff9c00 13.33%,#ff9700 20%,#ff9000 26.67%,#ff8900 33.33%,#ff8100 40%,#ff7800 46.67%,#ff6e00 53.33%,#ff6300 60%,#ff5600 66.67%,#ff4800 73.33%,#ff3900 80%,#ff2900 86.67%,#ff1800 93.33%,#ff0600 100%)"></i>
<i style="top:172px;background:linear-gradient(90deg,#ffa600 0%,#ffa300 6.667%,#ff9f00 13.33%,#ff9900 20%,#ff9300 26.67%,#ff8b00 33.33%,#ff8300 40%,#ff7900 46.67%,#ff6f00 53.33%,#ff6400 60%,#ff5700 66.67%,#ff4900 73.33%,#ff3900 80%,#ff2900 86.67%,#ff1800 93.33%,#ff0600 100%)"></i>
<i style="top:174px;background:linear-gradient(90deg,#ffa900 0%,#ffa600 6.667%,#ffa100 13.33%,#ff9c00 20%,#ff9500 26.67%,#ff8d00 33.33%,#ff8400 40%,#ff7b00 46.67%,#ff7100 53.33%,#ff6500 60%,#ff5800 66.67%,#ff4a00 73.33%,#ff3a00 80%,#ff2900 86.67%,#ff1800 93.33%,#ff0500 100%)"></i>
<i style="top:176px;background:linear-gradient(90deg,#ffad00 0%,#ffa900 6.667%,#ffa400 13.33%,#ff9e00 20%,#ff9700 26.67%,#ff8f00 33.33%,#ff8600 40%,#ff7c00 46.67%,#ff7200 53.33%,#ff6600 60%,#ff5900 66.67%,#ff4a00 73.33%,#ff3a00 80%,#ff2900 86.67%,#ff1800 93.33%,#ff0500 100%)"></i>
<i style="top:178px;background:linear-gradient(90deg,#ffb000 0%,#ffac00 6.667%,#ffa700 13.33%,#ffa100 20%,#ff9a00 26.67%,#ff9100 33.33%,#ff8800 40%,#ff7e00 46.67%,#ff7300 53.33%,#ff6800 60%,#ff5a00 66.67%,#ff4b00 73.33%,#ff3b00 80%,#ff2a00 86.67%,#ff1800 93.33%,#ff0500 100%)"></i>
<i style="top:180px;background:linear-gradient(90deg,#ffb300 0%,#ffaf00 6.667%,#ffaa00 13.33%,#ffa400 20%,#ff9c00 26.67%,#ff9400 33.33%,#ff8a00 40%,#ff8000 46.67%,#ff7500 53.33%,#ff6900 60%,#ff5b00 66.67%,#ff4c00 73.33%,#ff3b00 80%,#ff2a00 86.67%,#ff1800 93.33%,#ff0500 100%)"></i>
<i style="top:182px;background:linear-gradient(90deg,#ffb700 0%,#ffb200 6.667%,#ffad00 13.33%,#ffa600 20%,#ff9f00 26.67%,#ff9600 33.33%,#ff8c00 40%,#ff8100 46.67%,#ff7600 53.33%,#ff6a00 60%,#ff5c00 66.67%,#ff4d00 73.33%,#ff3c00 80%,#ff2a00 86.67%,#ff1800 93.33%,#ff0500 100%)"></i>
<i style="top:184px;background:linear-gradient(90deg,#ffba00 0%,#ffb500 6.667%,#ffb000 13.33%,#ffa900 20%,#ffa100 26.67%,#ff9800 33.33%,#ff8e00 40%,#ff8300 46.67%,#ff7800 53.33%,#ff6b00 60%,#ff5d00 66.67%,#ff4e00 73.33%,#ff3d00 80%,#ff2b00 86.67%,#ff1800 93.33%,#ff0500 100%)"></i>
<i style="top:186px;background:linear-gradient(90deg,#ffbe00 0%,#ffb900 6.667%,#ffb300 13.33%,#ffac00 20%,#ffa400 26.67%,#ff9a00 33.33%,#ff9000 40%,#ff8500 46.67%,#ff7900 53.33%,#ff6d00 60%,#ff5f00 66.67%,#ff4f00 73.33%,#ff3d00 80%,#ff2b00 86.67%,#ff1900 93.33%,#ff0500 100%)"></i>
<i style="top:188px;background:linear-gradient(90deg,#ffc200 0%,#ffbc00 6.667%,#ffb600 13.33%,#ffaf00 20%,#ffa700 26.67%,#ff9d00 33.33%,#ff9200 40%,#ff8700 46.67%,#ff7b00 53.33%,#ff6e00 60%,#ff6000 66.67%,#ff5000 73.33%,#ff3e00 80%,#ff2c00 86.67%,#ff1900 93.33%,#ff0500 100%)"></i>
<i style="top:190px;background:linear-gradient(90deg,#ffc500 0%,#ffc000 6.667%,#ffb900 13.33%,#ffb200 20%,#ffa900 26.67%,#ff9f00 33.33%,#ff9400 40%,#ff8900 46.67%,#ff7d00 53.33%,#ff7000 60%,#ff6100 66.67%,#ff5100 73.33%,#ff3f00 80%,#ff2c00 86.67%,#ff1900 93.33%,#ff0500 100%)"></i>
<i style="top:192px;background:linear-gradient(90deg,#ffc900 0%,#ffc300 6.667%,#ffbd00 13.33%,#ffb500 20%,#ffac00 26.67%,#ffa200 33.33%,#ff9700 40%,#ff8b00 46.67%,#ff7e00 53.33%,#ff7100 60%,#ff6200 66.67%,#ff5200 73.33%,#ff4000 80%,#ff2d00 86.67%,#ff1900 93.33%,#ff0500 100%)"></i>
<i style="top:194px;background:linear-gradient(90deg,#ffcd00 0%,#ffc700 6.667%,#ffc000 13.33%,#ffb800 20%,#ffaf00 26.67%,#ffa400 33.33%,#ff9900 40%,#ff8d00 46.67%,#ff8000 53.33%,#ff7300 60%,#ff6400 66.67%,#ff5300 73.33%,#ff4100 80%,#ff2e00 86.67%,#ff1a00 93.33%,#ff0500 100%)"></i>
<i style="top:196px;background:linear-gradient(90deg,#ffd100 0%,#ffcb00 6.667%,#ffc400 13.33%,#ffbb00 20%,#ffb200 26.67%,#ffa700 33.33%,#ff9b00 40%,#ff8f00 46.67%,#ff8200 53.33%,#ff7400 60%,#ff6500 66.67%,#ff5400 73.33%,#ff4100 80%,#ff2e00 86.67%,#ff1a00 93.33%,#ff0500 100%)"></i>
<i style="top:198px;background:linear-gradient(90deg,#ffd500 0%,#ffce00 6.667%,#ffc700 13.33%,#ffbf00 20%,#ffb500 26.67%,#ffaa00 33.33%,#ff9e00 40%,#ff9100 46.67%,#ff8300 53.33%,#ff7600 60%,#ff6600 66.67%,#ff5500 73.33%,#ff4200 80%,#ff2f00 86.67%,#ff1b00 93.33%,#ff0500 100%)"></i>
<i style="top:200px;background:linear-gradient(90deg,#ffd900 0%,#ffd200 6.667%,#ffcb00 13.33%,#ffc200 20%,#ffb800 26.67%,#ffac00 33.33%,#ffa000 40%,#ff9300 46.67%,#ff8500 53.33%,#ff7700 60%,#ff6800 66.67%,#ff5600 73.33%,#ff4300 80%,#ff3000 86.67%,#ff1b00 93.33%,#ff0500 100%)"></i>
<i style="top:202px;background:linear-gradient(90deg,#ffdd00 0%,#ffd600 6.667%,#ffcf00 13.33%,#ffc600 20%,#ffbb00 26.67%,#ffaf00 33.33%,#ffa200 40%,#ff9500 46.67%,#ff8700 53.33%,#ff7900 60%,#ff6900 66.67%,#ff5700 73.33%,#ff4400 80%,#ff3100 86.67%,#ff1b00 93.33%,#ff0600 100%)"></i>
<i style="top:204px;background:linear-gradient(90deg,#ffe200 0%,#ffda00 6.667%,#ffd200 13.33%,#ffc900 20%,#ffbe00 26.67%,#ffb200 33.33%,#ffa500 40%,#ff9700 46.67%,#ff8900 53.33%,#ff7a00 60%,#ff6a00 66.67%,#ff5900 73.33%,#ff4500 80%,#ff3100 86.67%,#ff1c00 93.33%,#ff0600 100%)"></i>
<i style="top:206px;background:linear-gradient(90deg,#ffe600 0%,#ffde00 6.667%,#ffd600 13.33%,#ffcd00 20%,#ffc100 26.67%,#ffb500 33.33%,#ffa800 40%,#ff9900 46.67%,#ff8b00 53.33%,#ff7c00 60%,#ff6c00 66.67%,#ff5a00 73.33%,#ff4600 80%,#ff3200 86.67%,#ff1d00 93.33%,#ff0600 100%)"></i>
<i style="top:208px;background:linear-gradient(90deg,#ffea00 0%,#ffe300 6.667%,#ffda00 13.33%,#ffd000 20%,#ffc500 26.67%,#ffb800 33.33%,#ffaa00 40%,#ff9b00 46.67%,#ff8d00 53.33%,#ff7d00 60%,#ff6d00 66.67%,#ff5b00 73.33%,#ff4700 80%,#ff3300 86.67%,#ff1d00 93.33%,#ff0600 100%)"></i>
<i style="top:210px;background:linear-gradient(90deg,#ffef00 0%,#ffe700 6.667%,#ffde00 13.33%,#ffd400 20%,#ffc800 26.67%,#ffbb00 33.33%,#ffad00 40%,#ff9e00 46.67%,#ff8f00 53.33%,#ff7f00 60%,#ff6f00 66.67%,#ff5c00 73.33%,#ff4800 80%,#ff3400 86.67%,#ff1e00 93.33%,#ff0700 100%)"></i>
<i style="top:212px;background:linear-gradient(90deg,#fff300 0%,#ffeb00 6.667%,#ffe200 13.33%,#ffd800 20%,#ffcb00 26.67%,#ffbe00 33.33%,#ffaf00 40%,#ffa000 46.67%,#ff9100 53.33%,#ff8100 60%,#ff7000 66.67%,#ff5e00 73.33%,#ff4900 80%,#ff3500 86.67%,#ff1e00 93.33%,#ff0700 100%)"></i>
<i style="top:214px;background:linear-gradient(90deg,#fff800 0%,#fff000 6.667%,#ffe700 13.33%,#ffdb00 20%,#ffcf00 26.67%,#ffc100 33.33%,#ffb200 40%,#ffa200 46.67%,#ff9300 53.33%,#ff8300 60%,#ff7200 66.67%,#ff5f00 73.33%,#ff4b00 80%,#ff3500 86.67%,#ff1f00 93.33%,#ff0800 100%)"></i>
<i style="top:216px;background:linear-gradient(90deg,#fffd00 0%,#fff400 6.667%,#ffeb00 13.33%,#ffdf00 20%,#ffd200 26.67%,#ffc400 33.33%,#ffb500 40%,#ffa500 46.67%,#ff9500 53.33%,#ff8400 60%,#ff7300 66.67%,#ff6000 73.33%,#ff4c00 80%,#ff3600 86.67%,#ff2000 93.33%,#ff0800 100%)"></i>
<i style="top:218px;background:linear-gradient(90deg,#fdff00 0%,#fff900 6.667%,#ffef00 13.33%,#ffe300 20%,#ffd600 26.67%,#ffc700 33.33%,#ffb800 40%,#ffa700 46.67%,#ff9700 53.33%,#ff8600 60%,#ff7500 66.67%,#ff6100 73.33%,#ff4d00 80%,#ff3700 86.67%,#ff2000 93.33%,#ff0900 100%)"></i>
<i style="top:220px;background:linear-gradient(90deg,#f8ff00 0%,#fffd00 6.667%,#fff300 13.33%,#ffe700 20%,#ffd900 26.67%,#ffca00 33.33%,#ffbb00 40%,#ffaa00 46.67%,#ff9900 53.33%,#ff8800 60%,#ff7600 66.67%,#ff6300 73.33%,#ff4e00 80%,#ff3800 86.67%,#ff2100 93.33%,#ff0900 100%)"></i>
<i style="top:222px;background:linear-gradient(90deg,#f3ff00 0%,#fcff00 6.667%,#fff800 13.33%,#ffeb00 20%,#ffdd00 26.67%,#ffce00 33.33%,#ffbe00 40%,#ffad00 46.67%,#ff9b00 53.33%,#ff8a00 60%,#ff7800 66.67%,#ff6400 73.33%,#ff4f00 80%,#ff3900 86.67%,#ff2200 93.33%,#ff0a00 100%)"></i>
<i style="top:224px;background:linear-gradient(90deg,#eeff00 0%,#f8ff00 6.667%,#fffc00 13.33%,#ffef00 20%,#ffe000 26.67%,#ffd100 33.33%,#ffc100 40%,#ffaf00 46.67%,#ff9e00 53.33%,#ff8c00 60%,#ff7900 66.67%,#ff6500 73.33%,#ff5000 80%,#ff3a00 86.67%,#ff2300 93.33%,#ff0a00 100%)"></i>
<i style="top:226px;background:linear-gradient(90deg,#eaff00 0%,#f3ff00 6.667%,#fdff00 13.33%,#fff300 20%,#ffe400 26.67%,#ffd400 33.33%,#ffc400 40%,#ffb200 46.67%,#ffa000 53.33%,#ff8e00 60%,#ff7b00 66.67%,#ff6700 73.33%,#ff5100 80%,#ff3b00 86.67%,#ff2300 93.33%,#ff0b00 100%)"></i>
<i style="top:228px;background:linear-gradient(90deg,#e5ff00 0%,#eeff00 6.667%,#f9ff00 13.33%,#fff700 20%,#ffe800 26.67%,#ffd800 33.33%,#ffc700 40%,#ffb500 46.67%,#ffa200 53.33%,#ff9000 60%,#ff7d00 66.67%,#ff6800 73.33%,#ff5300 80%,#ff3c00 86.67%,#ff2400 93.33%,#ff0b00 100%)"></i>
<i style="top:230px;background:linear-gradient(90deg,#e0ff00 0%,#eaff00 6.667%,#f5ff00 13.33%,#fffb00 20%,#ffeb00 26.67%,#ffdb00 33.33%,#ffca00 40%,#ffb700 46.67%,#ffa500 53.33%,#ff9200 60%,#ff7f00 66.67%,#ff6a00 73.33%,#ff5400 80%,#ff3d00 86.67%,#ff2500 93.33%,#ff0c00 100%)"></i>
<i style="top:232px;background:linear-gradient(90deg,#dbff00 0%,#e5ff00 6.667%,#f0ff00 13.33%,#ffff00 20%,#ffef00 26.67%,#ffdf00 33.33%,#ffcd00 40%,#ffba00 46.67%,#ffa700 53.33%,#ff9400 60%,#ff8000 66.67%,#ff6b00 73.33%,#ff5500 80%,#ff3e00 86.67%,#ff2600 93.33%,#ff0d00 100%)"></i>
<i style="top:234px;background:linear-gradient(90deg,#d6ff00 0%,#e0ff00 6.667%,#ecff00 13.33%,#fbff00 20%,#fff300 26.67%,#ffe200 33.33%,#ffd000 40%,#ffbd00 46.67%,#ffaa00 53.33%,#ff9600 60%,#ff8200 66.67%,#ff6d00 73.33%,#ff5700 80%,#ff3f00 86.67%,#ff2700 93.33%,#ff0e00 100%)"></i>
<i style="top:236px;background:linear-gradient(90deg,#d1ff00 0%,#dcff00 6.667%,#e8ff00 13.33%,#f7ff00 20%,#fff700 26.67%,#ffe600 33.33%,#ffd300 40%,#ffc000 46.67%,#ffac00 53.33%,#ff9900 60%,#ff8400 66.67%,#ff6e00 73.33%,#ff5800 80%,#ff4000 86.67%,#ff2800 93.33%,#ff0e00 100%)"></i>
</div>
<div class="fld" style="left:435px;top:17px;width:239px;height:238px">
<i style="top:0px;background:linear-gradient(90deg,#ff8a00 0%,#ff9500 6.667%,#ffa000 13.33%,#ffa900 20%,#ffb200 26.67%,#ffbb00 33.33%,#ffc300 40%,#ffca00 46.67%,#ffd100 53.33%,#ffd700 60%,#ffdc00 66.67%,#ffe100 73.33%,#ffe400 80%,#ffe700 86.67%,#ffea00 93.33%,#ffeb00 100%)"></i>
<i style="top:2px;background:linear-gradient(90deg,#ff8b00 0%,#ff9600 6.667%,#ffa000 13.33%,#ffaa00 20%,#ffb300 26.67%,#ffbb00 33.33%,#ffc300 40%,#ffca00 46.67%,#ffd100 53.33%,#ffd700 60%,#ffdc00 66.67%,#ffe000 73.33%,#ffe400 80%,#ffe700 86.67%,#ffe900 93.33%,#ffeb00 100%)"></i>
<i style="top:4px;background:linear-gradient(90deg,#ff8c00 0%,#ff9700 6.667%,#ffa100 13.33%,#ffaa00 20%,#ffb300 26.67%,#ffbc00 33.33%,#ffc300 40%,#ffca00 46.67%,#ffd100 53.33%,#ffd700 60%,#ffdc00 66.67%,#ffe000 73.33%,#ffe300 80%,#ffe600 86.67%,#ffe800 93.33%,#ffea00 100%)"></i>
<i style="top:6px;background:linear-gradient(90deg,#ff8c00 0%,#ff9700 6.667%,#ffa100 13.33%,#ffab00 20%,#ffb400 26.67%,#ffbc00 33.33%,#ffc300 40%,#ffca00 46.67%,#ffd100 53.33%,#ffd600 60%,#ffdb00 66.67%,#ffdf00 73.33%,#ffe300 80%,#ffe500 86.67%,#ffe700 93.33%,#ffe900 100%)"></i>
<i style="top:8px;background:linear-gradient(90deg,#ff8d00 0%,#ff9800 6.667%,#ffa200 13.33%,#ffab00 20%,#ffb400 26.67%,#ffbc00 33.33%,#ffc400 40%,#ffca00 46.67%,#ffd100 53.33%,#ffd600 60%,#ffdb00 66.67%,#ffdf00 73.33%,#ffe200 80%,#ffe500 86.67%,#ffe600 93.33%,#ffe800 100%)"></i>
<i style="top:10px;background:linear-gradient(90deg,#ff8e00 0%,#ff9900 6.667%,#ffa300 13.33%,#ffac00 20%,#ffb400 26.67%,#ffbc00 33.33%,#ffc400 40%,#ffca00 46.67%,#ffd100 53.33%,#ffd600 60%,#ffdb00 66.67%,#ffde00 73.33%,#ffe100 80%,#ffe400 86.67%,#ffe600 93.33%,#ffe700 100%)"></i>
<i style="top:12px;background:linear-gradient(90deg,#ff8f00 0%,#ff9a00 6.667%,#ffa300 13.33%,#ffac00 20%,#ffb500 26.67%,#ffbd00 33.33%,#ffc400 40%,#ffca00 46.67%,#ffd000 53.33%,#ffd600 60%,#ffda00 66.67%,#ffde00 73.33%,#ffe100 80%,#ffe300 86.67%,#ffe500 93.33%,#ffe600 100%)"></i>
<i style="top:14px;background:linear-gradient(90deg,#ff9000 0%,#ff9a00 6.667%,#ffa400 13.33%,#ffad00 20%,#ffb500 26.67%,#ffbd00 33.33%,#ffc400 40%,#ffca00 46.67%,#ffd000 53.33%,#ffd500 60%,#ffda00 66.67%,#ffdd00 73.33%,#ffe000 80%,#ffe200 86.67%,#ffe400 93.33%,#ffe500 100%)"></i>
<i style="top:16px;background:linear-gradient(90deg,#ff9100 0%,#ff9b00 6.667%,#ffa500 13.33%,#ffad00 20%,#ffb600 26.67%,#ffbd00 33.33%,#ffc400 40%,#ffca00 46.67%,#ffd000 53.33%,#ffd500 60%,#ffd900 66.67%,#ffdd00 73.33%,#ffe000 80%,#ffe200 86.67%,#ffe300 93.33%,#ffe400 100%)"></i>
<i style="top:18px;background:linear-gradient(90deg,#ff9200 0%,#ff9c00 6.667%,#ffa500 13.33%,#ffae00 20%,#ffb600 26.67%,#ffbd00 33.33%,#ffc400 40%,#ffcb00 46.67%,#ffd000 53.33%,#ffd500 60%,#ffd900 66.67%,#ffdc00 73.33%,#ffdf00 80%,#ffe100 86.67%,#ffe200 93.33%,#ffe300 100%)"></i>
<i style="top:20px;background:linear-gradient(90deg,#ff9200 0%,#ff9c00 6.667%,#ffa600 13.33%,#ffae00 20%,#ffb600 26.67%,#ffbe00 33.33%,#ffc400 40%,#ffcb00 46.67%,#ffd000 53.33%,#ffd500 60%,#ffd900 66.67%,#ffdc00 73.33%,#ffde00 80%,#ffe000 86.67%,#ffe100 93.33%,#ffe200 100%)"></i>
<i style="top:22px;background:linear-gradient(90deg,#ff9300 0%,#ff9d00 6.667%,#ffa600 13.33%,#ffaf00 20%,#ffb700 26.67%,#ffbe00 33.33%,#ffc400 40%,#ffca00 46.67%,#ffd000 53.33%,#ffd400 60%,#ffd800 66.67%,#ffdb00 73.33%,#ffde00 80%,#ffdf00 86.67%,#ffe000 93.33%,#ffe100 100%)"></i>
<i style="top:24px;background:linear-gradient(90deg,#ff9400 0%,#ff9e00 6.667%,#ffa700 13.33%,#ffaf00 20%,#ffb700 26.67%,#ffbe00 33.33%,#ffc500 40%,#ffca00 46.67%,#ffd000 53.33%,#ffd400 60%,#ffd800 66.67%,#ffdb00 73.33%,#ffdd00 80%,#ffdf00 86.67%,#ffe000 93.33%,#ffe000 100%)"></i>
<i style="top:26px;background:linear-gradient(90deg,#ff9500 0%,#ff9f00 6.667%,#ffa800 13.33%,#ffb000 20%,#ffb700 26.67%,#ffbe00 33.33%,#ffc500 40%,#ffca00 46.67%,#ffd000 53.33%,#ffd400 60%,#ffd800 66.67%,#ffda00 73.33%,#ffdd00 80%,#ffde00 86.67%,#ffdf00 93.33%,#ffdf00 100%)"></i>
<i style="top:28px;background:linear-gradient(90deg,#ff9600 0%,#ff9f00 6.667%,#ffa800 13.33%,#ffb000 20%,#ffb800 26.67%,#ffbf00 33.33%,#ffc500 40%,#ffca00 46.67%,#ffcf00 53.33%,#ffd400 60%,#ffd700 66.67%,#ffda00 73.33%,#ffdc00 80%,#ffdd00 86.67%,#ffde00 93.33%,#ffde00 100%)"></i>
<i style="top:30px;background:linear-gradient(90deg,#ff9700 0%,#ffa000 6.667%,#ffa900 13.33%,#ffb100 20%,#ffb800 26.67%,#ffbf00 33.33%,#ffc500 40%,#ffca00 46.67%,#ffcf00 53.33%,#ffd300 60%,#ffd700 66.67%,#ffd900 73.33%,#ffdb00 80%,#ffdc00 86.67%,#ffdd00 93.33%,#ffdd00 100%)"></i>
<i style="top:32px;background:linear-gradient(90deg,#ff9700 0%,#ffa100 6.667%,#ffa900 13.33%,#ffb100 20%,#ffb900 26.67%,#ffbf00 33.33%,#ffc500 40%,#ffca00 46.67%,#ffcf00 53.33%,#ffd300 60%,#ffd600 66.67%,#ffd900 73.33%,#ffdb00 80%,#ffdc00 86.67%,#ffdc00 93.33%,#ffdc00 100%)"></i>
<i style="top:34px;background:linear-gradient(90deg,#ff9800 0%,#ffa100 6.667%,#ffaa00 13.33%,#ffb200 20%,#ffb900 26.67%,#ffbf00 33.33%,#ffc500 40%,#ffca00 46.67%,#ffcf00 53.33%,#ffd300 60%,#ffd600 66.67%,#ffd800 73.33%,#ffda00 80%,#ffdb00 86.67%,#ffdb00 93.33%,#ffdb00 100%)"></i>
<i style="top:36px;background:linear-gradient(90deg,#ff9900 0%,#ffa200 6.667%,#ffab00 13.33%,#ffb200 20%,#ffb900 26.67%,#ffc000 33.33%,#ffc500 40%,#ffca00 46.67%,#ffcf00 53.33%,#ffd300 60%,#ffd600 66.67%,#ffd800 73.33%,#ffd900 80%,#ffda00 86.67%,#ffda00 93.33%,#ffda00 100%)"></i>
<i style="top:38px;background:linear-gradient(90deg,#ff9a00 0%,#ffa300 6.667%,#ffab00 13.33%,#ffb300 20%,#ffba00 26.67%,#ffc000 33.33%,#ffc500 40%,#ffca00 46.67%,#ffcf00 53.33%,#ffd200 60%,#ffd500 66.67%,#ffd700 73.33%,#ffd900 80%,#ffd900 86.67%,#ffd900 93.33%,#ffd900 100%)"></i>
<i style="top:40px;background:linear-gradient(90deg,#ff9b00 0%,#ffa300 6.667%,#ffac00 13.33%,#ffb300 20%,#ffba00 26.67%,#ffc000 33.33%,#ffc500 40%,#ffca00 46.67%,#ffce00 53.33%,#ffd200 60%,#ffd500 66.67%,#ffd700 73.33%,#ffd800 80%,#ffd800 86.67%,#ffd800 93.33%,#ffd800 100%)"></i>
<i style="top:42px;background:linear-gradient(90deg,#ff9b00 0%,#ffa400 6.667%,#ffac00 13.33%,#ffb400 20%,#ffba00 26.67%,#ffc000 33.33%,#ffc600 40%,#ffca00 46.67%,#ffce00 53.33%,#ffd200 60%,#ffd400 66.67%,#ffd600 73.33%,#ffd700 80%,#ffd800 86.67%,#ffd700 93.33%,#ffd600 100%)"></i>
<i style="top:44px;background:linear-gradient(90deg,#ff9c00 0%,#ffa500 6.667%,#ffad00 13.33%,#ffb400 20%,#ffba00 26.67%,#ffc000 33.33%,#ffc600 40%,#ffca00 46.67%,#ffce00 53.33%,#ffd100 60%,#ffd400 66.67%,#ffd600 73.33%,#ffd700 80%,#ffd700 86.67%,#ffd600 93.33%,#ffd500 100%)"></i>
<i style="top:46px;background:linear-gradient(90deg,#ff9d00 0%,#ffa500 6.667%,#ffad00 13.33%,#ffb400 20%,#ffbb00 26.67%,#ffc100 33.33%,#ffc600 40%,#ffca00 46.67%,#ffce00 53.33%,#ffd100 60%,#ffd300 66.67%,#ffd500 73.33%,#ffd600 80%,#ffd600 86.67%,#ffd600 93.33%,#ffd400 100%)"></i>
<i style="top:48px;background:linear-gradient(90deg,#ff9e00 0%,#ffa600 6.667%,#ffae00 13.33%,#ffb500 20%,#ffbb00 26.67%,#ffc100 33.33%,#ffc600 40%,#ffca00 46.67%,#ffce00 53.33%,#ffd100 60%,#ffd300 66.67%,#ffd400 73.33%,#ffd500 80%,#ffd500 86.67%,#ffd500 93.33%,#ffd300 100%)"></i>
<i style="top:50px;background:linear-gradient(90deg,#ff9f00 0%,#ffa700 6.667%,#ffae00 13.33%,#ffb500 20%,#ffbb00 26.67%,#ffc100 33.33%,#ffc600 40%,#ffca00 46.67%,#ffce00 53.33%,#ffd000 60%,#ffd300 66.67%,#ffd400 73.33%,#ffd500 80%,#ffd400 86.67%,#ffd400 93.33%,#ffd200 100%)"></i>
<i style="top:52px;background:linear-gradient(90deg,#ff9f00 0%,#ffa700 6.667%,#ffaf00 13.33%,#ffb600 20%,#ffbc00 26.67%,#ffc100 33.33%,#ffc600 40%,#ffca00 46.67%,#ffcd00 53.33%,#ffd000 60%,#ffd200 66.67%,#ffd300 73.33%,#ffd400 80%,#ffd400 86.67%,#ffd300 93.33%,#ffd100 100%)"></i>
<i style="top:54px;background:linear-gradient(90deg,#ffa000 0%,#ffa800 6.667%,#ffaf00 13.33%,#ffb600 20%,#ffbc00 26.67%,#ffc100 33.33%,#ffc600 40%,#ffca00 46.67%,#ffcd00 53.33%,#ffd000 60%,#ffd200 66.67%,#ffd300 73.33%,#ffd300 80%,#ffd300 86.67%,#ffd200 93.33%,#ffd000 100%)"></i>
<i style="top:56px;background:linear-gradient(90deg,#ffa100 0%,#ffa900 6.667%,#ffb000 13.33%,#ffb700 20%,#ffbc00 26.67%,#ffc100 33.33%,#ffc600 40%,#ffca00 46.67%,#ffcd00 53.33%,#ffcf00 60%,#ffd100 66.67%,#ffd200 73.33%,#ffd300 80%,#ffd200 86.67%,#ffd100 93.33%,#ffcf00 100%)"></i>
<i style="top:58px;background:linear-gradient(90deg,#ffa200 0%,#ffa900 6.667%,#ffb100 13.33%,#ffb700 20%,#ffbd00 26.67%,#ffc200 33.33%,#ffc600 40%,#ffca00 46.67%,#ffcd00 53.33%,#ffcf00 60%,#ffd100 66.67%,#ffd200 73.33%,#ffd200 80%,#ffd100 86.67%,#ffd000 93.33%,#ffce00 100%)"></i>
<i style="top:60px;background:linear-gradient(90deg,#ffa300 0%,#ffaa00 6.667%,#ffb100 13.33%,#ffb700 20%,#ffbd00 26.67%,#ffc200 33.33%,#ffc600 40%,#ffca00 46.67%,#ffcc00 53.33%,#ffcf00 60%,#ffd000 66.67%,#ffd100 73.33%,#ffd100 80%,#ffd000 86.67%,#ffcf00 93.33%,#ffcd00 100%)"></i>
<i style="top:62px;background:linear-gradient(90deg,#ffa300 0%,#ffab00 6.667%,#ffb200 13.33%,#ffb800 20%,#ffbd00 26.67%,#ffc200 33.33%,#ffc600 40%,#ffc900 46.67%,#ffcc00 53.33%,#ffce00 60%,#ffd000 66.67%,#ffd000 73.33%,#ffd000 80%,#ffd000 86.67%,#ffce00 93.33%,#ffcc00 100%)"></i>
<i style="top:64px;background:linear-gradient(90deg,#ffa400 0%,#ffab00 6.667%,#ffb200 13.33%,#ffb800 20%,#ffbd00 26.67%,#ffc200 33.33%,#ffc600 40%,#ffc900 46.67%,#ffcc00 53.33%,#ffce00 60%,#ffcf00 66.67%,#ffd000 73.33%,#ffd000 80%,#ffcf00 86.67%,#ffcd00 93.33%,#ffcb00 100%)"></i>
<i style="top:66px;background:linear-gradient(90deg,#ffa500 0%,#ffac00 6.667%,#ffb300 13.33%,#ffb900 20%,#ffbe00 26.67%,#ffc200 33.33%,#ffc600 40%,#ffc900 46.67%,#ffcc00 53.33%,#ffce00 60%,#ffcf00 66.67%,#ffcf00 73.33%,#ffcf00 80%,#ffce00 86.67%,#ffcc00 93.33%,#ffc900 100%)"></i>
<i style="top:68px;background:linear-gradient(90deg,#ffa600 0%,#ffad00 6.667%,#ffb300 13.33%,#ffb900 20%,#ffbe00 26.67%,#ffc200 33.33%,#ffc600 40%,#ffc900 46.67%,#ffcc00 53.33%,#ffcd00 60%,#ffce00 66.67%,#ffcf00 73.33%,#ffce00 80%,#ffcd00 86.67%,#ffcb00 93.33%,#ffc800 100%)"></i>
<i style="top:70px;background:linear-gradient(90deg,#ffa600 0%,#ffad00 6.667%,#ffb400 13.33%,#ffb900 20%,#ffbe00 26.67%,#ffc300 33.33%,#ffc600 40%,#ffc900 46.67%,#ffcb00 53.33%,#ffcd00 60%,#ffce00 66.67%,#ffce00 73.33%,#ffcd00 80%,#ffcc00 86.67%,#ffca00 93.33%,#ffc700 100%)"></i>
<i style="top:72px;background:linear-gradient(90deg,#ffa700 0%,#ffae00 6.667%,#ffb400 13.33%,#ffba00 20%,#ffbf00 26.67%,#ffc300 33.33%,#ffc600 40%,#ffc900 46.67%,#ffcb00 53.33%,#ffcd00 60%,#ffcd00 66.67%,#ffcd00 73.33%,#ffcd00 80%,#ffcb00 86.67%,#ffc900 93.33%,#ffc600 100%)"></i>
<i style="top:74px;background:linear-gradient(90deg,#ffa800 0%,#ffaf00 6.667%,#ffb500 13.33%,#ffba00 20%,#ffbf00 26.67%,#ffc300 33.33%,#ffc600 40%,#ffc900 46.67%,#ffcb00 53.33%,#ffcc00 60%,#ffcd00 66.67%,#ffcd00 73.33%,#ffcc00 80%,#ffca00 86.67%,#ffc800 93.33%,#ffc500 100%)"></i>
<i style="top:76px;background:linear-gradient(90deg,#ffa900 0%,#ffaf00 6.667%,#ffb500 13.33%,#ffbb00 20%,#ffbf00 26.67%,#ffc300 33.33%,#ffc600 40%,#ffc900 46.67%,#ffcb00 53.33%,#ffcc00 60%,#ffcc00 66.67%,#ffcc00 73.33%,#ffcb00 80%,#ffca00 86.67%,#ffc700 93.33%,#ffc400 100%)"></i>
<i style="top:78px;background:linear-gradient(90deg,#ffa900 0%,#ffb000 6.667%,#ffb600 13.33%,#ffbb00 20%,#ffbf00 26.67%,#ffc300 33.33%,#ffc600 40%,#ffc900 46.67%,#ffca00 53.33%,#ffcb00 60%,#ffcc00 66.67%,#ffcc00 73.33%,#ffca00 80%,#ffc900 86.67%,#ffc600 93.33%,#ffc300 100%)"></i>
<i style="top:80px;background:linear-gradient(90deg,#ffaa00 0%,#ffb000 6.667%,#ffb600 13.33%,#ffbb00 20%,#ffc000 26.67%,#ffc300 33.33%,#ffc600 40%,#ffc800 46.67%,#ffca00 53.33%,#ffcb00 60%,#ffcb00 66.67%,#ffcb00 73.33%,#ffca00 80%,#ffc800 86.67%,#ffc500 93.33%,#ffc100 100%)"></i>
<i style="top:82px;background:linear-gradient(90deg,#ffab00 0%,#ffb100 6.667%,#ffb700 13.33%,#ffbc00 20%,#ffc000 26.67%,#ffc300 33.33%,#ffc600 40%,#ffc800 46.67%,#ffca00 53.33%,#ffcb00 60%,#ffcb00 66.67%,#ffca00 73.33%,#ffc900 80%,#ffc700 86.67%,#ffc400 93.33%,#ffc000 100%)"></i>
<i style="top:84px;background:linear-gradient(90deg,#ffab00 0%,#ffb200 6.667%,#ffb700 13.33%,#ffbc00 20%,#ffc000 26.67%,#ffc300 33.33%,#ffc600 40%,#ffc800 46.67%,#ffc900 53.33%,#ffca00 60%,#ffca00 66.67%,#ffca00 73.33%,#ffc800 80%,#ffc600 86.67%,#ffc300 93.33%,#ffbf00 100%)"></i>
<i style="top:86px;background:linear-gradient(90deg,#ffac00 0%,#ffb200 6.667%,#ffb800 13.33%,#ffbc00 20%,#ffc000 26.67%,#ffc400 33.33%,#ffc600 40%,#ffc800 46.67%,#ffc900 53.33%,#ffca00 60%,#ffca00 66.67%,#ffc900 73.33%,#ffc700 80%,#ffc500 86.67%,#ffc200 93.33%,#ffbe00 100%)"></i>
<i style="top:88px;background:linear-gradient(90deg,#ffad00 0%,#ffb300 6.667%,#ffb800 13.33%,#ffbd00 20%,#ffc100 26.67%,#ffc400 33.33%,#ffc600 40%,#ffc800 46.67%,#ffc900 53.33%,#ffc900 60%,#ffc900 66.67%,#ffc800 73.33%,#ffc700 80%,#ffc400 86.67%,#ffc100 93.33%,#ffbd00 100%)"></i>
<i style="top:90px;background:linear-gradient(90deg,#ffad00 0%,#ffb300 6.667%,#ffb900 13.33%,#ffbd00 20%,#ffc100 26.67%,#ffc400 33.33%,#ffc600 40%,#ffc800 46.67%,#ffc900 53.33%,#ffc900 60%,#ffc900 66.67%,#ffc800 73.33%,#ffc600 80%,#ffc300 86.67%,#ffc000 93.33%,#ffbc00 100%)"></i>
<i style="top:92px;background:linear-gradient(90deg,#ffae00 0%,#ffb400 6.667%,#ffb900 13.33%,#ffbd00 20%,#ffc100 26.67%,#ffc400 33.33%,#ffc600 40%,#ffc700 46.67%,#ffc800 53.33%,#ffc800 60%,#ffc800 66.67%,#ffc700 73.33%,#ffc500 80%,#ffc200 86.67%,#ffbf00 93.33%,#ffbb00 100%)"></i>
<i style="top:94px;background:linear-gradient(90deg,#ffaf00 0%,#ffb400 6.667%,#ffb900 13.33%,#ffbe00 20%,#ffc100 26.67%,#ffc400 33.33%,#ffc600 40%,#ffc700 46.67%,#ffc800 53.33%,#ffc800 60%,#ffc700 66.67%,#ffc600 73.33%,#ffc400 80%,#ffc100 86.67%,#ffbe00 93.33%,#ffb900 100%)"></i>
<i style="top:96px;background:linear-gradient(90deg,#ffb000 0%,#ffb500 6.667%,#ffba00 13.33%,#ffbe00 20%,#ffc100 26.67%,#ffc400 33.33%,#ffc600 40%,#ffc700 46.67%,#ffc800 53.33%,#ffc800 60%,#ffc700 66.67%,#ffc600 73.33%,#ffc300 80%,#ffc000 86.67%,#ffbd00 93.33%,#ffb800 100%)"></i>
<i style="top:98px;background:linear-gradient(90deg,#ffb000 0%,#ffb600 6.667%,#ffba00 13.33%,#ffbe00 20%,#ffc200 26.67%,#ffc400 33.33%,#ffc600 40%,#ffc700 46.67%,#ffc700 53.33%,#ffc700 60%,#ffc600 66.67%,#ffc500 73.33%,#ffc300 80%,#ffc000 86.67%,#ffbc00 93.33%,#ffb700 100%)"></i>
<i style="top:100px;background:linear-gradient(90deg,#ffb100 0%,#ffb600 6.667%,#ffbb00 13.33%,#ffbf00 20%,#ffc200 26.67%,#ffc400 33.33%,#ffc600 40%,#ffc700 46.67%,#ffc700 53.33%,#ffc700 60%,#ffc600 66.67%,#ffc400 73.33%,#ffc200 80%,#ffbf00 86.67%,#ffbb00 93.33%,#ffb600 100%)"></i>
<i style="top:102px;background:linear-gradient(90deg,#ffb200 0%,#ffb700 6.667%,#ffbb00 13.33%,#ffbf00 20%,#ffc200 26.67%,#ffc400 33.33%,#ffc600 40%,#ffc600 46.67%,#ffc700 53.33%,#ffc600 60%,#ffc500 66.67%,#ffc300 73.33%,#ffc100 80%,#ffbe00 86.67%,#ffb900 93.33%,#ffb500 100%)"></i>
<i style="top:104px;background:linear-gradient(90deg,#ffb200 0%,#ffb700 6.667%,#ffbc00 13.33%,#ffbf00 20%,#ffc200 26.67%,#ffc400 33.33%,#ffc600 40%,#ffc600 46.67%,#ffc600 53.33%,#ffc600 60%,#ffc400 66.67%,#ffc300 73.33%,#ffc000 80%,#ffbd00 86.67%,#ffb800 93.33%,#ffb300 100%)"></i>
<i style="top:106px;background:linear-gradient(90deg,#ffb300 0%,#ffb800 6.667%,#ffbc00 13.33%,#ffbf00 20%,#ffc200 26.67%,#ffc400 33.33%,#ffc500 40%,#ffc600 46.67%,#ffc600 53.33%,#ffc500 60%,#ffc400 66.67%,#ffc200 73.33%,#ffbf00 80%,#ffbc00 86.67%,#ffb700 93.33%,#ffb200 100%)"></i>
<i style="top:108px;background:linear-gradient(90deg,#ffb300 0%,#ffb800 6.667%,#ffbc00 13.33%,#ffc000 20%,#ffc200 26.67%,#ffc400 33.33%,#ffc500 40%,#ffc600 46.67%,#ffc600 53.33%,#ffc500 60%,#ffc300 66.67%,#ffc100 73.33%,#ffbe00 80%,#ffbb00 86.67%,#ffb600 93.33%,#ffb100 100%)"></i>
<i style="top:110px;background:linear-gradient(90deg,#ffb400 0%,#ffb900 6.667%,#ffbd00 13.33%,#ffc000 20%,#ffc200 26.67%,#ffc400 33.33%,#ffc500 40%,#ffc600 46.67%,#ffc500 53.33%,#ffc400 60%,#ffc300 66.67%,#ffc000 73.33%,#ffbe00 80%,#ffba00 86.67%,#ffb500 93.33%,#ffb000 100%)"></i>
<i style="top:112px;background:linear-gradient(90deg,#ffb500 0%,#ffb900 6.667%,#ffbd00 13.33%,#ffc000 20%,#ffc300 26.67%,#ffc400 33.33%,#ffc500 40%,#ffc500 46.67%,#ffc500 53.33%,#ffc400 60%,#ffc200 66.67%,#ffc000 73.33%,#ffbd00 80%,#ffb900 86.67%,#ffb400 93.33%,#ffaf00 100%)"></i>
<i style="top:114px;background:linear-gradient(90deg,#ffb500 0%,#ffba00 6.667%,#ffbd00 13.33%,#ffc000 20%,#ffc300 26.67%,#ffc400 33.33%,#ffc500 40%,#ffc500 46.67%,#ffc500 53.33%,#ffc300 60%,#ffc100 66.67%,#ffbf00 73.33%,#ffbc00 80%,#ffb800 86.67%,#ffb300 93.33%,#ffad00 100%)"></i>
<i style="top:116px;background:linear-gradient(90deg,#ffb600 0%,#ffba00 6.667%,#ffbe00 13.33%,#ffc100 20%,#ffc300 26.67%,#ffc400 33.33%,#ffc500 40%,#ffc500 46.67%,#ffc400 53.33%,#ffc300 60%,#ffc100 66.67%,#ffbe00 73.33%,#ffbb00 80%,#ffb700 86.67%,#ffb200 93.33%,#ffac00 100%)"></i>
<i style="top:118px;background:linear-gradient(90deg,#ffb700 0%,#ffbb00 6.667%,#ffbe00 13.33%,#ffc100 20%,#ffc300 26.67%,#ffc400 33.33%,#ffc500 40%,#ffc500 46.67%,#ffc400 53.33%,#ffc200 60%,#ffc000 66.67%,#ffbd00 73.33%,#ffba00 80%,#ffb600 86.67%,#ffb100 93.33%,#ffab00 100%)"></i>
<i style="top:120px;background:linear-gradient(90deg,#ffb700 0%,#ffbb00 6.667%,#ffbf00 13.33%,#ffc100 20%,#ffc300 26.67%,#ffc400 33.33%,#ffc500 40%,#ffc400 46.67%,#ffc300 53.33%,#ffc200 60%,#ffbf00 66.67%,#ffbd00 73.33%,#ffb900 80%,#ffb500 86.67%,#ffaf00 93.33%,#ffaa00 100%)"></i>
<i style="top:122px;background:linear-gradient(90deg,#ffb800 0%,#ffbc00 6.667%,#ffbf00 13.33%,#ffc100 20%,#ffc300 26.67%,#ffc400 33.33%,#ffc500 40%,#ffc400 46.67%,#ffc300 53.33%,#ffc100 60%,#ffbf00 66.67%,#ffbc00 73.33%,#ffb800 80%,#ffb400 86.67%,#ffae00 93.33%,#ffa800 100%)"></i>
<i style="top:124px;background:linear-gradient(90deg,#ffb800 0%,#ffbc00 6.667%,#ffbf00 13.33%,#ffc200 20%,#ffc300 26.67%,#ffc400 33.33%,#ffc400 40%,#ffc400 46.67%,#ffc300 53.33%,#ffc100 60%,#ffbe00 66.67%,#ffbb00 73.33%,#ffb700 80%,#ffb200 86.67%,#ffad00 93.33%,#ffa700 100%)"></i>
<i style="top:126px;background:linear-gradient(90deg,#ffb900 0%,#ffbd00 6.667%,#ffc000 13.33%,#ffc200 20%,#ffc300 26.67%,#ffc400 33.33%,#ffc400 40%,#ffc400 46.67%,#ffc200 53.33%,#ffc000 60%,#ffbe00 66.67%,#ffba00 73.33%,#ffb600 80%,#ffb100 86.67%,#ffac00 93.33%,#ffa600 100%)"></i>
<i style="top:128px;background:linear-gradient(90deg,#ffba00 0%,#ffbd00 6.667%,#ffc000 13.33%,#ffc200 20%,#ffc300 26.67%,#ffc400 33.33%,#ffc400 40%,#ffc300 46.67%,#ffc200 53.33%,#ffc000 60%,#ffbd00 66.67%,#ffb900 73.33%,#ffb500 80%,#ffb000 86.67%,#ffab00 93.33%,#ffa500 100%)"></i>
<i style="top:130px;background:linear-gradient(90deg,#ffba00 0%,#ffbe00 6.667%,#ffc000 13.33%,#ffc200 20%,#ffc400 26.67%,#ffc400 33.33%,#ffc400 40%,#ffc300 46.67%,#ffc100 53.33%,#ffbf00 60%,#ffbc00 66.67%,#ffb900 73.33%,#ffb400 80%,#ffaf00 86.67%,#ffaa00 93.33%,#ffa300 100%)"></i>
<i style="top:132px;background:linear-gradient(90deg,#ffbb00 0%,#ffbe00 6.667%,#ffc100 13.33%,#ffc200 20%,#ffc400 26.67%,#ffc400 33.33%,#ffc400 40%,#ffc300 46.67%,#ffc100 53.33%,#ffbf00 60%,#ffbc00 66.67%,#ffb800 73.33%,#ffb300 80%,#ffae00 86.67%,#ffa800 93.33%,#ffa200 100%)"></i>
<i style="top:134px;background:linear-gradient(90deg,#ffbb00 0%,#ffbe00 6.667%,#ffc100 13.33%,#ffc300 20%,#ffc400 26.67%,#ffc400 33.33%,#ffc400 40%,#ffc200 46.67%,#ffc100 53.33%,#ffbe00 60%,#ffbb00 66.67%,#ffb700 73.33%,#ffb300 80%,#ffad00 86.67%,#ffa700 93.33%,#ffa100 100%)"></i>
<i style="top:136px;background:linear-gradient(90deg,#ffbc00 0%,#ffbf00 6.667%,#ffc100 13.33%,#ffc300 20%,#ffc400 26.67%,#ffc400 33.33%,#ffc300 40%,#ffc200 46.67%,#ffc000 53.33%,#ffbd00 60%,#ffba00 66.67%,#ffb600 73.33%,#ffb200 80%,#ffac00 86.67%,#ffa600 93.33%,#ffa000 100%)"></i>
<i style="top:138px;background:linear-gradient(90deg,#ffbc00 0%,#ffbf00 6.667%,#ffc200 13.33%,#ffc300 20%,#ffc400 26.67%,#ffc400 33.33%,#ffc300 40%,#ffc200 46.67%,#ffc000 53.33%,#ffbd00 60%,#ffb900 66.67%,#ffb500 73.33%,#ffb100 80%,#ffab00 86.67%,#ffa500 93.33%,#ff9e00 100%)"></i>
<i style="top:140px;background:linear-gradient(90deg,#ffbd00 0%,#ffc000 6.667%,#ffc200 13.33%,#ffc300 20%,#ffc400 26.67%,#ffc400 33.33%,#ffc300 40%,#ffc200 46.67%,#ffbf00 53.33%,#ffbc00 60%,#ffb900 66.67%,#ffb500 73.33%,#ffb000 80%,#ffaa00 86.67%,#ffa400 93.33%,#ff9d00 100%)"></i>
<i style="top:142px;background:linear-gradient(90deg,#ffbe00 0%,#ffc000 6.667%,#ffc200 13.33%,#ffc300 20%,#ffc400 26.67%,#ffc400 33.33%,#ffc300 40%,#ffc100 46.67%,#ffbf00 53.33%,#ffbc00 60%,#ffb800 66.67%,#ffb400 73.33%,#ffaf00 80%,#ffa900 86.67%,#ffa300 93.33%,#ff9c00 100%)"></i>
<i style="top:144px;background:linear-gradient(90deg,#ffbe00 0%,#ffc100 6.667%,#ffc200 13.33%,#ffc400 20%,#ffc400 26.67%,#ffc400 33.33%,#ffc300 40%,#ffc100 46.67%,#ffbe00 53.33%,#ffbb00 60%,#ffb700 66.67%,#ffb300 73.33%,#ffae00 80%,#ffa800 86.67%,#ffa100 93.33%,#ff9b00 100%)"></i>
<i style="top:146px;background:linear-gradient(90deg,#ffbf00 0%,#ffc100 6.667%,#ffc300 13.33%,#ffc400 20%,#ffc400 26.67%,#ffc400 33.33%,#ffc300 40%,#ffc100 46.67%,#ffbe00 53.33%,#ffbb00 60%,#ffb700 66.67%,#ffb200 73.33%,#ffad00 80%,#ffa700 86.67%,#ffa000 93.33%,#ff9900 100%)"></i>
<i style="top:148px;background:linear-gradient(90deg,#ffbf00 0%,#ffc100 6.667%,#ffc300 13.33%,#ffc400 20%,#ffc400 26.67%,#ffc400 33.33%,#ffc200 40%,#ffc000 46.67%,#ffbd00 53.33%,#ffba00 60%,#ffb600 66.67%,#ffb100 73.33%,#ffac00 80%,#ffa600 86.67%,#ff9f00 93.33%,#ff9800 100%)"></i>
<i style="top:150px;background:linear-gradient(90deg,#ffc000 0%,#ffc200 6.667%,#ffc300 13.33%,#ffc400 20%,#ffc400 26.67%,#ffc400 33.33%,#ffc200 40%,#ffc000 46.67%,#ffbd00 53.33%,#ffb900 60%,#ffb500 66.67%,#ffb100 73.33%,#ffab00 80%,#ffa500 86.67%,#ff9e00 93.33%,#ff9700 100%)"></i>
<i style="top:152px;background:linear-gradient(90deg,#ffc000 0%,#ffc200 6.667%,#ffc400 13.33%,#ffc400 20%,#ffc400 26.67%,#ffc300 33.33%,#ffc200 40%,#ffc000 46.67%,#ffbd00 53.33%,#ffb900 60%,#ffb500 66.67%,#ffb000 73.33%,#ffaa00 80%,#ffa400 86.67%,#ff9d00 93.33%,#ff9500 100%)"></i>
<i style="top:154px;background:linear-gradient(90deg,#ffc100 0%,#ffc300 6.667%,#ffc400 13.33%,#ffc400 20%,#ffc400 26.67%,#ffc300 33.33%,#ffc200 40%,#ffbf00 46.67%,#ffbc00 53.33%,#ffb800 60%,#ffb400 66.67%,#ffaf00 73.33%,#ffa900 80%,#ffa300 86.67%,#ff9c00 93.33%,#ff9400 100%)"></i>
<i style="top:156px;background:linear-gradient(90deg,#ffc100 0%,#ffc300 6.667%,#ffc400 13.33%,#ffc500 20%,#ffc400 26.67%,#ffc300 33.33%,#ffc100 40%,#ffbf00 46.67%,#ffbc00 53.33%,#ffb800 60%,#ffb300 66.67%,#ffae00 73.33%,#ffa800 80%,#ffa200 86.67%,#ff9b00 93.33%,#ff9300 100%)"></i>
<i style="top:158px;background:linear-gradient(90deg,#ffc200 0%,#ffc400 6.667%,#ffc400 13.33%,#ffc500 20%,#ffc400 26.67%,#ffc300 33.33%,#ffc100 40%,#ffbf00 46.67%,#ffbb00 53.33%,#ffb700 60%,#ffb200 66.67%,#ffad00 73.33%,#ffa700 80%,#ffa100 86.67%,#ff9a00 93.33%,#ff9200 100%)"></i>
<i style="top:160px;background:linear-gradient(90deg,#ffc200 0%,#ffc400 6.667%,#ffc500 13.33%,#ffc500 20%,#ffc400 26.67%,#ffc300 33.33%,#ffc100 40%,#ffbe00 46.67%,#ffbb00 53.33%,#ffb600 60%,#ffb200 66.67%,#ffac00 73.33%,#ffa700 80%,#ffa000 86.67%,#ff9800 93.33%,#ff9000 100%)"></i>
<i style="top:162px;background:linear-gradient(90deg,#ffc300 0%,#ffc400 6.667%,#ffc500 13.33%,#ffc500 20%,#ffc400 26.67%,#ffc300 33.33%,#ffc100 40%,#ffbe00 46.67%,#ffba00 53.33%,#ffb600 60%,#ffb100 66.67%,#ffac00 73.33%,#ffa600 80%,#ff9f00 86.67%,#ff9700 93.33%,#ff8f00 100%)"></i>
<i style="top:164px;background:linear-gradient(90deg,#ffc300 0%,#ffc500 6.667%,#ffc500 13.33%,#ffc500 20%,#ffc400 26.67%,#ffc300 33.33%,#ffc100 40%,#ffbe00 46.67%,#ffba00 53.33%,#ffb500 60%,#ffb000 66.67%,#ffab00 73.33%,#ffa500 80%,#ff9e00 86.67%,#ff9600 93.33%,#ff8e00 100%)"></i>
<i style="top:166px;background:linear-gradient(90deg,#ffc400 0%,#ffc500 6.667%,#ffc600 13.33%,#ffc500 20%,#ffc400 26.67%,#ffc300 33.33%,#ffc000 40%,#ffbd00 46.67%,#ffb900 53.33%,#ffb500 60%,#ffaf00 66.67%,#ffaa00 73.33%,#ffa400 80%,#ff9d00 86.67%,#ff9500 93.33%,#ff8d00 100%)"></i>
<i style="top:168px;background:linear-gradient(90deg,#ffc400 0%,#ffc500 6.667%,#ffc600 13.33%,#ffc500 20%,#ffc400 26.67%,#ffc300 33.33%,#ffc000 40%,#ffbd00 46.67%,#ffb900 53.33%,#ffb400 60%,#ffaf00 66.67%,#ffa900 73.33%,#ffa300 80%,#ff9c00 86.67%,#ff9400 93.33%,#ff8b00 100%)"></i>
<i style="top:170px;background:linear-gradient(90deg,#ffc500 0%,#ffc600 6.667%,#ffc600 13.33%,#ffc600 20%,#ffc400 26.67%,#ffc200 33.33%,#ffc000 40%,#ffbc00 46.67%,#ffb800 53.33%,#ffb300 60%,#ffae00 66.67%,#ffa800 73.33%,#ffa200 80%,#ff9b00 86.67%,#ff9300 93.33%,#ff8a00 100%)"></i>
<i style="top:172px;background:linear-gradient(90deg,#ffc500 0%,#ffc600 6.667%,#ffc600 13.33%,#ffc600 20%,#ffc400 26.67%,#ffc200 33.33%,#ffc000 40%,#ffbc00 46.67%,#ffb800 53.33%,#ffb300 60%,#ffad00 66.67%,#ffa700 73.33%,#ffa100 80%,#ff9a00 86.67%,#ff9200 93.33%,#ff8900 100%)"></i>
<i style="top:174px;background:linear-gradient(90deg,#ffc600 0%,#ffc700 6.667%,#ffc700 13.33%,#ffc600 20%,#ffc400 26.67%,#ffc200 33.33%,#ffbf00 40%,#ffbc00 46.67%,#ffb700 53.33%,#ffb200 60%,#ffad00 66.67%,#ffa600 73.33%,#ffa000 80%,#ff9900 86.67%,#ff9100 93.33%,#ff8800 100%)"></i>
<i style="top:176px;background:linear-gradient(90deg,#ffc600 0%,#ffc700 6.667%,#ffc700 13.33%,#ffc600 20%,#ffc400 26.67%,#ffc200 33.33%,#ffbf00 40%,#ffbb00 46.67%,#ffb700 53.33%,#ffb100 60%,#ffac00 66.67%,#ffa600 73.33%,#ff9f00 80%,#ff9800 86.67%,#ff8f00 93.33%,#ff8700 100%)"></i>
<i style="top:178px;background:linear-gradient(90deg,#ffc700 0%,#ffc700 6.667%,#ffc700 13.33%,#ffc600 20%,#ffc400 26.67%,#ffc200 33.33%,#ffbf00 40%,#ffbb00 46.67%,#ffb600 53.33%,#ffb100 60%,#ffab00 66.67%,#ffa500 73.33%,#ff9e00 80%,#ff9700 86.67%,#ff8e00 93.33%,#ff8500 100%)"></i>
<i style="top:180px;background:linear-gradient(90deg,#ffc700 0%,#ffc800 6.667%,#ffc700 13.33%,#ffc600 20%,#ffc400 26.67%,#ffc200 33.33%,#ffbf00 40%,#ffba00 46.67%,#ffb600 53.33%,#ffb000 60%,#ffaa00 66.67%,#ffa400 73.33%,#ff9d00 80%,#ff9600 86.67%,#ff8d00 93.33%,#ff8400 100%)"></i>
<i style="top:182px;background:linear-gradient(90deg,#ffc800 0%,#ffc800 6.667%,#ffc700 13.33%,#ffc600 20%,#ffc400 26.67%,#ffc200 33.33%,#ffbe00 40%,#ffba00 46.67%,#ffb500 53.33%,#ffb000 60%,#ffaa00 66.67%,#ffa300 73.33%,#ff9c00 80%,#ff9400 86.67%,#ff8c00 93.33%,#ff8300 100%)"></i>
<i style="top:184px;background:linear-gradient(90deg,#ffc800 0%,#ffc800 6.667%,#ffc800 13.33%,#ffc600 20%,#ffc400 26.67%,#ffc100 33.33%,#ffbe00 40%,#ffba00 46.67%,#ffb500 53.33%,#ffaf00 60%,#ffa900 66.67%,#ffa200 73.33%,#ff9b00 80%,#ff9300 86.67%,#ff8b00 93.33%,#ff8200 100%)"></i>
<i style="top:186px;background:linear-gradient(90deg,#ffc900 0%,#ffc900 6.667%,#ffc800 13.33%,#ffc600 20%,#ffc400 26.67%,#ffc100 33.33%,#ffbe00 40%,#ffb900 46.67%,#ffb400 53.33%,#ffae00 60%,#ffa800 66.67%,#ffa100 73.33%,#ff9a00 80%,#ff9200 86.67%,#ff8a00 93.33%,#ff8000 100%)"></i>
<i style="top:188px;background:linear-gradient(90deg,#ffc900 0%,#ffc900 6.667%,#ffc800 13.33%,#ffc600 20%,#ffc400 26.67%,#ffc100 33.33%,#ffbd00 40%,#ffb900 46.67%,#ffb400 53.33%,#ffae00 60%,#ffa700 66.67%,#ffa000 73.33%,#ff9900 80%,#ff9100 86.67%,#ff8900 93.33%,#ff7f00 100%)"></i>
<i style="top:190px;background:linear-gradient(90deg,#ffca00 0%,#ffc900 6.667%,#ffc800 13.33%,#ffc700 20%,#ffc400 26.67%,#ffc100 33.33%,#ffbd00 40%,#ffb800 46.67%,#ffb300 53.33%,#ffad00 60%,#ffa600 66.67%,#ffa000 73.33%,#ff9800 80%,#ff9000 86.67%,#ff8700 93.33%,#ff7e00 100%)"></i>
<i style="top:192px;background:linear-gradient(90deg,#ffca00 0%,#ffca00 6.667%,#ffc800 13.33%,#ffc700 20%,#ffc400 26.67%,#ffc100 33.33%,#ffbd00 40%,#ffb800 46.67%,#ffb200 53.33%,#ffac00 60%,#ffa600 66.67%,#ff9f00 73.33%,#ff9700 80%,#ff8f00 86.67%,#ff8600 93.33%,#ff7c00 100%)"></i>
<i style="top:194px;background:linear-gradient(90deg,#ffcb00 0%,#ffca00 6.667%,#ffc900 13.33%,#ffc700 20%,#ffc400 26.67%,#ffc100 33.33%,#ffbc00 40%,#ffb800 46.67%,#ffb200 53.33%,#ffac00 60%,#ffa500 66.67%,#ff9e00 73.33%,#ff9600 80%,#ff8e00 86.67%,#ff8500 93.33%,#ff7b00 100%)"></i>
<i style="top:196px;background:linear-gradient(90deg,#ffcb00 0%,#ffca00 6.667%,#ffc900 13.33%,#ffc700 20%,#ffc400 26.67%,#ffc000 33.33%,#ffbc00 40%,#ffb700 46.67%,#ffb100 53.33%,#ffab00 60%,#ffa400 66.67%,#ff9d00 73.33%,#ff9500 80%,#ff8d00 86.67%,#ff8400 93.33%,#ff7a00 100%)"></i>
<i style="top:198px;background:linear-gradient(90deg,#ffcb00 0%,#ffcb00 6.667%,#ffc900 13.33%,#ffc700 20%,#ffc400 26.67%,#ffc000 33.33%,#ffbc00 40%,#ffb700 46.67%,#ffb100 53.33%,#ffaa00 60%,#ffa300 66.67%,#ff9c00 73.33%,#ff9400 80%,#ff8c00 86.67%,#ff8300 93.33%,#ff7900 100%)"></i>
<i style="top:200px;background:linear-gradient(90deg,#ffcc00 0%,#ffcb00 6.667%,#ffc900 13.33%,#ffc700 20%,#ffc400 26.67%,#ffc000 33.33%,#ffbb00 40%,#ffb600 46.67%,#ffb000 53.33%,#ffaa00 60%,#ffa300 66.67%,#ff9b00 73.33%,#ff9300 80%,#ff8b00 86.67%,#ff8100 93.33%,#ff7700 100%)"></i>
<i style="top:202px;background:linear-gradient(90deg,#ffcc00 0%,#ffcb00 6.667%,#ffc900 13.33%,#ffc700 20%,#ffc400 26.67%,#ffc000 33.33%,#ffbb00 40%,#ffb600 46.67%,#ffb000 53.33%,#ffa900 60%,#ffa200 66.67%,#ff9a00 73.33%,#ff9200 80%,#ff8a00 86.67%,#ff8000 93.33%,#ff7600 100%)"></i>
<i style="top:204px;background:linear-gradient(90deg,#ffcd00 0%,#ffcb00 6.667%,#ffca00 13.33%,#ffc700 20%,#ffc400 26.67%,#ffc000 33.33%,#ffbb00 40%,#ffb500 46.67%,#ffaf00 53.33%,#ffa800 60%,#ffa100 66.67%,#ff9a00 73.33%,#ff9100 80%,#ff8800 86.67%,#ff7f00 93.33%,#ff7500 100%)"></i>
<i style="top:206px;background:linear-gradient(90deg,#ffcd00 0%,#ffcc00 6.667%,#ffca00 13.33%,#ffc700 20%,#ffc400 26.67%,#ffbf00 33.33%,#ffbb00 40%,#ffb500 46.67%,#ffaf00 53.33%,#ffa800 60%,#ffa000 66.67%,#ff9900 73.33%,#ff9000 80%,#ff8700 86.67%,#ff7e00 93.33%,#ff7300 100%)"></i>
<i style="top:208px;background:linear-gradient(90deg,#ffce00 0%,#ffcc00 6.667%,#ffca00 13.33%,#ffc700 20%,#ffc300 26.67%,#ffbf00 33.33%,#ffba00 40%,#ffb400 46.67%,#ffae00 53.33%,#ffa700 60%,#ffa000 66.67%,#ff9800 73.33%,#ff8f00 80%,#ff8600 86.67%,#ff7c00 93.33%,#ff7200 100%)"></i>
<i style="top:210px;background:linear-gradient(90deg,#ffce00 0%,#ffcc00 6.667%,#ffca00 13.33%,#ffc700 20%,#ffc300 26.67%,#ffbf00 33.33%,#ffba00 40%,#ffb400 46.67%,#ffae00 53.33%,#ffa600 60%,#ff9f00 66.67%,#ff9700 73.33%,#ff8e00 80%,#ff8500 86.67%,#ff7b00 93.33%,#ff7000 100%)"></i>
<i style="top:212px;background:linear-gradient(90deg,#ffce00 0%,#ffcd00 6.667%,#ffca00 13.33%,#ffc700 20%,#ffc300 26.67%,#ffbf00 33.33%,#ffba00 40%,#ffb400 46.67%,#ffad00 53.33%,#ffa600 60%,#ff9e00 66.67%,#ff9600 73.33%,#ff8d00 80%,#ff8400 86.67%,#ff7a00 93.33%,#ff6f00 100%)"></i>
<i style="top:214px;background:linear-gradient(90deg,#ffcf00 0%,#ffcd00 6.667%,#ffca00 13.33%,#ffc700 20%,#ffc300 26.67%,#ffbf00 33.33%,#ffb900 40%,#ffb300 46.67%,#ffac00 53.33%,#ffa500 60%,#ff9d00 66.67%,#ff9500 73.33%,#ff8c00 80%,#ff8300 86.67%,#ff7900 93.33%,#ff6e00 100%)"></i>
<i style="top:216px;background:linear-gradient(90deg,#ffcf00 0%,#ffcd00 6.667%,#ffcb00 13.33%,#ffc700 20%,#ffc300 26.67%,#ffbe00 33.33%,#ffb900 40%,#ffb300 46.67%,#ffac00 53.33%,#ffa400 60%,#ff9d00 66.67%,#ff9400 73.33%,#ff8b00 80%,#ff8200 86.67%,#ff7700 93.33%,#ff6c00 100%)"></i>
<i style="top:218px;background:linear-gradient(90deg,#ffd000 0%,#ffcd00 6.667%,#ffcb00 13.33%,#ffc700 20%,#ffc300 26.67%,#ffbe00 33.33%,#ffb800 40%,#ffb200 46.67%,#ffab00 53.33%,#ffa400 60%,#ff9c00 66.67%,#ff9300 73.33%,#ff8a00 80%,#ff8100 86.67%,#ff7600 93.33%,#ff6b00 100%)"></i>
<i style="top:220px;background:linear-gradient(90deg,#ffd000 0%,#ffce00 6.667%,#ffcb00 13.33%,#ffc700 20%,#ffc300 26.67%,#ffbe00 33.33%,#ffb800 40%,#ffb200 46.67%,#ffab00 53.33%,#ffa300 60%,#ff9b00 66.67%,#ff9300 73.33%,#ff8900 80%,#ff7f00 86.67%,#ff7500 93.33%,#ff6a00 100%)"></i>
<i style="top:222px;background:linear-gradient(90deg,#ffd000 0%,#ffce00 6.667%,#ffcb00 13.33%,#ffc700 20%,#ffc300 26.67%,#ffbe00 33.33%,#ffb800 40%,#ffb100 46.67%,#ffaa00 53.33%,#ffa200 60%,#ff9a00 66.67%,#ff9200 73.33%,#ff8800 80%,#ff7e00 86.67%,#ff7400 93.33%,#ff6800 100%)"></i>
<i style="top:224px;background:linear-gradient(90deg,#ffd100 0%,#ffce00 6.667%,#ffcb00 13.33%,#ffc700 20%,#ffc300 26.67%,#ffbd00 33.33%,#ffb700 40%,#ffb100 46.67%,#ffaa00 53.33%,#ffa200 60%,#ff9a00 66.67%,#ff9100 73.33%,#ff8700 80%,#ff7d00 86.67%,#ff7200 93.33%,#ff6700 100%)"></i>
<i style="top:226px;background:linear-gradient(90deg,#ffd100 0%,#ffcf00 6.667%,#ffcb00 13.33%,#ffc700 20%,#ffc300 26.67%,#ffbd00 33.33%,#ffb700 40%,#ffb000 46.67%,#ffa900 53.33%,#ffa100 60%,#ff9900 66.67%,#ff9000 73.33%,#ff8600 80%,#ff7c00 86.67%,#ff7100 93.33%,#ff6500 100%)"></i>
<i style="top:228px;background:linear-gradient(90deg,#ffd200 0%,#ffcf00 6.667%,#ffcb00 13.33%,#ffc700 20%,#ffc200 26.67%,#ffbd00 33.33%,#ffb700 40%,#ffb000 46.67%,#ffa800 53.33%,#ffa000 60%,#ff9800 66.67%,#ff8f00 73.33%,#ff8500 80%,#ff7b00 86.67%,#ff7000 93.33%,#ff6400 100%)"></i>
<i style="top:230px;background:linear-gradient(90deg,#ffd200 0%,#ffcf00 6.667%,#ffcc00 13.33%,#ffc700 20%,#ffc200 26.67%,#ffbd00 33.33%,#ffb600 40%,#ffaf00 46.67%,#ffa800 53.33%,#ffa000 60%,#ff9700 66.67%,#ff8e00 73.33%,#ff8400 80%,#ff7a00 86.67%,#ff6f00 93.33%,#ff6300 100%)"></i>
<i style="top:232px;background:linear-gradient(90deg,#ffd200 0%,#ffcf00 6.667%,#ffcc00 13.33%,#ffc700 20%,#ffc200 26.67%,#ffbc00 33.33%,#ffb600 40%,#ffaf00 46.67%,#ffa700 53.33%,#ff9f00 60%,#ff9600 66.67%,#ff8d00 73.33%,#ff8300 80%,#ff7900 86.67%,#ff6d00 93.33%,#ff6100 100%)"></i>
<i style="top:234px;background:linear-gradient(90deg,#ffd300 0%,#ffd000 6.667%,#ffcc00 13.33%,#ffc700 20%,#ffc200 26.67%,#ffbc00 33.33%,#ffb600 40%,#ffaf00 46.67%,#ffa700 53.33%,#ff9e00 60%,#ff9600 66.67%,#ff8c00 73.33%,#ff8200 80%,#ff7800 86.67%,#ff6c00 93.33%,#ff6000 100%)"></i>
<i style="top:236px;background:linear-gradient(90deg,#ffd300 0%,#ffd000 6.667%,#ffcc00 13.33%,#ffc700 20%,#ffc200 26.67%,#ffbc00 33.33%,#ffb500 40%,#ffae00 46.67%,#ffa600 53.33%,#ff9e00 60%,#ff9500 66.67%,#ff8b00 73.33%,#ff8100 80%,#ff7600 86.67%,#ff6b00 93.33%,#ff5e00 100%)"></i>
</div>
<div class="fld" style="left:57px;top:324px;width:239px;height:238px">
<i style="top:0px;background:linear-gradient(90deg,#ffa600 0%,#ffa900 6.667%,#ffab00 13.33%,#ffab00 20%,#ffaa00 26.67%,#ffa800 33.33%,#ffa500 40%,#ffa000 46.67%,#ff9a00 53.33%,#ff9300 60%,#ff8b00 66.67%,#ff8100 73.33%,#ff7700 80%,#ff6b00 86.67%,#ff5e00 93.33%,#ff5000 100%)"></i>
<i style="top:2px;background:linear-gradient(90deg,#ffa700 0%,#ffaa00 6.667%,#ffac00 13.33%,#ffac00 20%,#ffab00 26.67%,#ffa900 33.33%,#ffa600 40%,#ffa100 46.67%,#ff9b00 53.33%,#ff9400 60%,#ff8c00 66.67%,#ff8200 73.33%,#ff7800 80%,#ff6c00 86.67%,#ff5f00 93.33%,#ff5100 100%)"></i>
<i style="top:4px;background:linear-gradient(90deg,#ffa800 0%,#ffab00 6.667%,#ffad00 13.33%,#ffad00 20%,#ffac00 26.67%,#ffaa00 33.33%,#ffa700 40%,#ffa200 46.67%,#ff9c00 53.33%,#ff9500 60%,#ff8c00 66.67%,#ff8300 73.33%,#ff7800 80%,#ff6d00 86.67%,#ff6000 93.33%,#ff5200 100%)"></i>
<i style="top:6px;background:linear-gradient(90deg,#ffa900 0%,#ffac00 6.667%,#ffae00 13.33%,#ffae00 20%,#ffad00 26.67%,#ffab00 33.33%,#ffa700 40%,#ffa300 46.67%,#ff9d00 53.33%,#ff9600 60%,#ff8d00 66.67%,#ff8400 73.33%,#ff7900 80%,#ff6d00 86.67%,#ff6000 93.33%,#ff5200 100%)"></i>
<i style="top:8px;background:linear-gradient(90deg,#ffaa00 0%,#ffad00 6.667%,#ffaf00 13.33%,#ffaf00 20%,#ffae00 26.67%,#ffac00 33.33%,#ffa800 40%,#ffa400 46.67%,#ff9e00 53.33%,#ff9700 60%,#ff8e00 66.67%,#ff8500 73.33%,#ff7a00 80%,#ff6e00 86.67%,#ff6100 93.33%,#ff5300 100%)"></i>
<i style="top:10px;background:linear-gradient(90deg,#ffab00 0%,#ffae00 6.667%,#ffb000 13.33%,#ffb000 20%,#ffaf00 26.67%,#ffad00 33.33%,#ffa900 40%,#ffa500 46.67%,#ff9f00 53.33%,#ff9700 60%,#ff8f00 66.67%,#ff8600 73.33%,#ff7b00 80%,#ff6f00 86.67%,#ff6200 93.33%,#ff5400 100%)"></i>
<i style="top:12px;background:linear-gradient(90deg,#ffac00 0%,#ffaf00 6.667%,#ffb100 13.33%,#ffb100 20%,#ffb000 26.67%,#ffae00 33.33%,#ffaa00 40%,#ffa500 46.67%,#ff9f00 53.33%,#ff9800 60%,#ff9000 66.67%,#ff8600 73.33%,#ff7c00 80%,#ff7000 86.67%,#ff6300 93.33%,#ff5500 100%)"></i>
<i style="top:14px;background:linear-gradient(90deg,#ffad00 0%,#ffb000 6.667%,#ffb200 13.33%,#ffb200 20%,#ffb100 26.67%,#ffaf00 33.33%,#ffab00 40%,#ffa600 46.67%,#ffa000 53.33%,#ff9900 60%,#ff9100 66.67%,#ff8700 73.33%,#ff7d00 80%,#ff7100 86.67%,#ff6400 93.33%,#ff5600 100%)"></i>
<i style="top:16px;background:linear-gradient(90deg,#ffae00 0%,#ffb100 6.667%,#ffb300 13.33%,#ffb300 20%,#ffb200 26.67%,#ffaf00 33.33%,#ffac00 40%,#ffa700 46.67%,#ffa100 53.33%,#ff9a00 60%,#ff9100 66.67%,#ff8800 73.33%,#ff7d00 80%,#ff7100 86.67%,#ff6400 93.33%,#ff5600 100%)"></i>
<i style="top:18px;background:linear-gradient(90deg,#ffaf00 0%,#ffb200 6.667%,#ffb400 13.33%,#ffb400 20%,#ffb300 26.67%,#ffb000 33.33%,#ffad00 40%,#ffa800 46.67%,#ffa200 53.33%,#ff9b00 60%,#ff9200 66.67%,#ff8900 73.33%,#ff7e00 80%,#ff7200 86.67%,#ff6500 93.33%,#ff5700 100%)"></i>
<i style="top:20px;background:linear-gradient(90deg,#ffb000 0%,#ffb300 6.667%,#ffb500 13.33%,#ffb500 20%,#ffb400 26.67%,#ffb100 33.33%,#ffae00 40%,#ffa900 46.67%,#ffa300 53.33%,#ff9c00 60%,#ff9300 66.67%,#ff8a00 73.33%,#ff7f00 80%,#ff7300 86.67%,#ff6600 93.33%,#ff5800 100%)"></i>
<i style="top:22px;background:linear-gradient(90deg,#ffb100 0%,#ffb400 6.667%,#ffb500 13.33%,#ffb600 20%,#ffb500 26.67%,#ffb200 33.33%,#ffaf00 40%,#ffaa00 46.67%,#ffa400 53.33%,#ff9c00 60%,#ff9400 66.67%,#ff8a00 73.33%,#ff8000 80%,#ff7400 86.67%,#ff6700 93.33%,#ff5900 100%)"></i>
<i style="top:24px;background:linear-gradient(90deg,#ffb200 0%,#ffb500 6.667%,#ffb600 13.33%,#ffb700 20%,#ffb500 26.67%,#ffb300 33.33%,#ffaf00 40%,#ffab00 46.67%,#ffa400 53.33%,#ff9d00 60%,#ff9500 66.67%,#ff8b00 73.33%,#ff8000 80%,#ff7500 86.67%,#ff6700 93.33%,#ff5900 100%)"></i>
<i style="top:26px;background:linear-gradient(90deg,#ffb300 0%,#ffb600 6.667%,#ffb700 13.33%,#ffb700 20%,#ffb600 26.67%,#ffb400 33.33%,#ffb000 40%,#ffab00 46.67%,#ffa500 53.33%,#ff9e00 60%,#ff9500 66.67%,#ff8c00 73.33%,#ff8100 80%,#ff7500 86.67%,#ff6800 93.33%,#ff5a00 100%)"></i>
<i style="top:28px;background:linear-gradient(90deg,#ffb400 0%,#ffb700 6.667%,#ffb800 13.33%,#ffb800 20%,#ffb700 26.67%,#ffb500 33.33%,#ffb100 40%,#ffac00 46.67%,#ffa600 53.33%,#ff9f00 60%,#ff9600 66.67%,#ff8d00 73.33%,#ff8200 80%,#ff7600 86.67%,#ff6900 93.33%,#ff5b00 100%)"></i>
<i style="top:30px;background:linear-gradient(90deg,#ffb500 0%,#ffb800 6.667%,#ffb900 13.33%,#ffb900 20%,#ffb800 26.67%,#ffb600 33.33%,#ffb200 40%,#ffad00 46.67%,#ffa700 53.33%,#ff9f00 60%,#ff9700 66.67%,#ff8d00 73.33%,#ff8300 80%,#ff7700 86.67%,#ff6a00 93.33%,#ff5c00 100%)"></i>
<i style="top:32px;background:linear-gradient(90deg,#ffb600 0%,#ffb800 6.667%,#ffba00 13.33%,#ffba00 20%,#ffb900 26.67%,#ffb600 33.33%,#ffb300 40%,#ffae00 46.67%,#ffa800 53.33%,#ffa000 60%,#ff9800 66.67%,#ff8e00 73.33%,#ff8300 80%,#ff7700 86.67%,#ff6a00 93.33%,#ff5c00 100%)"></i>
<i style="top:34px;background:linear-gradient(90deg,#ffb700 0%,#ffb900 6.667%,#ffbb00 13.33%,#ffbb00 20%,#ffba00 26.67%,#ffb700 33.33%,#ffb400 40%,#ffaf00 46.67%,#ffa800 53.33%,#ffa100 60%,#ff9800 66.67%,#ff8f00 73.33%,#ff8400 80%,#ff7800 86.67%,#ff6b00 93.33%,#ff5d00 100%)"></i>
<i style="top:36px;background:linear-gradient(90deg,#ffb700 0%,#ffba00 6.667%,#ffbc00 13.33%,#ffbc00 20%,#ffba00 26.67%,#ffb800 33.33%,#ffb400 40%,#ffaf00 46.67%,#ffa900 53.33%,#ffa200 60%,#ff9900 66.67%,#ff8f00 73.33%,#ff8500 80%,#ff7900 86.67%,#ff6c00 93.33%,#ff5e00 100%)"></i>
<i style="top:38px;background:linear-gradient(90deg,#ffb800 0%,#ffbb00 6.667%,#ffbc00 13.33%,#ffbc00 20%,#ffbb00 26.67%,#ffb900 33.33%,#ffb500 40%,#ffb000 46.67%,#ffaa00 53.33%,#ffa200 60%,#ff9a00 66.67%,#ff9000 73.33%,#ff8500 80%,#ff7a00 86.67%,#ff6d00 93.33%,#ff5e00 100%)"></i>
<i style="top:40px;background:linear-gradient(90deg,#ffb900 0%,#ffbc00 6.667%,#ffbd00 13.33%,#ffbd00 20%,#ffbc00 26.67%,#ffba00 33.33%,#ffb600 40%,#ffb100 46.67%,#ffab00 53.33%,#ffa300 60%,#ff9b00 66.67%,#ff9100 73.33%,#ff8600 80%,#ff7a00 86.67%,#ff6d00 93.33%,#ff5f00 100%)"></i>
<i style="top:42px;background:linear-gradient(90deg,#ffba00 0%,#ffbd00 6.667%,#ffbe00 13.33%,#ffbe00 20%,#ffbd00 26.67%,#ffba00 33.33%,#ffb700 40%,#ffb200 46.67%,#ffab00 53.33%,#ffa400 60%,#ff9b00 66.67%,#ff9200 73.33%,#ff8700 80%,#ff7b00 86.67%,#ff6e00 93.33%,#ff6000 100%)"></i>
<i style="top:44px;background:linear-gradient(90deg,#ffbb00 0%,#ffbd00 6.667%,#ffbf00 13.33%,#ffbf00 20%,#ffbe00 26.67%,#ffbb00 33.33%,#ffb700 40%,#ffb200 46.67%,#ffac00 53.33%,#ffa500 60%,#ff9c00 66.67%,#ff9200 73.33%,#ff8700 80%,#ff7c00 86.67%,#ff6f00 93.33%,#ff6000 100%)"></i>
<i style="top:46px;background:linear-gradient(90deg,#ffbc00 0%,#ffbe00 6.667%,#ffc000 13.33%,#ffc000 20%,#ffbe00 26.67%,#ffbc00 33.33%,#ffb800 40%,#ffb300 46.67%,#ffad00 53.33%,#ffa500 60%,#ff9d00 66.67%,#ff9300 73.33%,#ff8800 80%,#ff7c00 86.67%,#ff6f00 93.33%,#ff6100 100%)"></i>
<i style="top:48px;background:linear-gradient(90deg,#ffbc00 0%,#ffbf00 6.667%,#ffc000 13.33%,#ffc000 20%,#ffbf00 26.67%,#ffbd00 33.33%,#ffb900 40%,#ffb400 46.67%,#ffad00 53.33%,#ffa600 60%,#ff9d00 66.67%,#ff9400 73.33%,#ff8900 80%,#ff7d00 86.67%,#ff7000 93.33%,#ff6200 100%)"></i>
<i style="top:50px;background:linear-gradient(90deg,#ffbd00 0%,#ffc000 6.667%,#ffc100 13.33%,#ffc100 20%,#ffc000 26.67%,#ffbd00 33.33%,#ffba00 40%,#ffb500 46.67%,#ffae00 53.33%,#ffa700 60%,#ff9e00 66.67%,#ff9400 73.33%,#ff8900 80%,#ff7d00 86.67%,#ff7000 93.33%,#ff6200 100%)"></i>
<i style="top:52px;background:linear-gradient(90deg,#ffbe00 0%,#ffc000 6.667%,#ffc200 13.33%,#ffc200 20%,#ffc100 26.67%,#ffbe00 33.33%,#ffba00 40%,#ffb500 46.67%,#ffaf00 53.33%,#ffa700 60%,#ff9f00 66.67%,#ff9500 73.33%,#ff8a00 80%,#ff7e00 86.67%,#ff7100 93.33%,#ff6300 100%)"></i>
<i style="top:54px;background:linear-gradient(90deg,#ffbf00 0%,#ffc100 6.667%,#ffc300 13.33%,#ffc300 20%,#ffc100 26.67%,#ffbf00 33.33%,#ffbb00 40%,#ffb600 46.67%,#ffb000 53.33%,#ffa800 60%,#ff9f00 66.67%,#ff9500 73.33%,#ff8b00 80%,#ff7f00 86.67%,#ff7200 93.33%,#ff6400 100%)"></i>
<i style="top:56px;background:linear-gradient(90deg,#ffbf00 0%,#ffc200 6.667%,#ffc300 13.33%,#ffc300 20%,#ffc200 26.67%,#ffc000 33.33%,#ffbc00 40%,#ffb700 46.67%,#ffb000 53.33%,#ffa900 60%,#ffa000 66.67%,#ff9600 73.33%,#ff8b00 80%,#ff7f00 86.67%,#ff7200 93.33%,#ff6400 100%)"></i>
<i style="top:58px;background:linear-gradient(90deg,#ffc000 0%,#ffc300 6.667%,#ffc400 13.33%,#ffc400 20%,#ffc300 26.67%,#ffc000 33.33%,#ffbc00 40%,#ffb700 46.67%,#ffb100 53.33%,#ffaa00 60%,#ffa100 66.67%,#ff9700 73.33%,#ff8c00 80%,#ff8000 86.67%,#ff7300 93.33%,#ff6500 100%)"></i>
<i style="top:60px;background:linear-gradient(90deg,#ffc100 0%,#ffc300 6.667%,#ffc500 13.33%,#ffc500 20%,#ffc300 26.67%,#ffc100 33.33%,#ffbd00 40%,#ffb800 46.67%,#ffb200 53.33%,#ffaa00 60%,#ffa100 66.67%,#ff9700 73.33%,#ff8c00 80%,#ff8000 86.67%,#ff7300 93.33%,#ff6500 100%)"></i>
<i style="top:62px;background:linear-gradient(90deg,#ffc200 0%,#ffc400 6.667%,#ffc500 13.33%,#ffc500 20%,#ffc400 26.67%,#ffc200 33.33%,#ffbe00 40%,#ffb900 46.67%,#ffb200 53.33%,#ffab00 60%,#ffa200 66.67%,#ff9800 73.33%,#ff8d00 80%,#ff8100 86.67%,#ff7400 93.33%,#ff6600 100%)"></i>
<i style="top:64px;background:linear-gradient(90deg,#ffc200 0%,#ffc500 6.667%,#ffc600 13.33%,#ffc600 20%,#ffc500 26.67%,#ffc200 33.33%,#ffbe00 40%,#ffb900 46.67%,#ffb300 53.33%,#ffac00 60%,#ffa300 66.67%,#ff9800 73.33%,#ff8d00 80%,#ff8100 86.67%,#ff7500 93.33%,#ff6600 100%)"></i>
<i style="top:66px;background:linear-gradient(90deg,#ffc300 0%,#ffc600 6.667%,#ffc700 13.33%,#ffc700 20%,#ffc500 26.67%,#ffc300 33.33%,#ffbf00 40%,#ffba00 46.67%,#ffb400 53.33%,#ffac00 60%,#ffa300 66.67%,#ff9900 73.33%,#ff8e00 80%,#ff8200 86.67%,#ff7500 93.33%,#ff6700 100%)"></i>
<i style="top:68px;background:linear-gradient(90deg,#ffc400 0%,#ffc600 6.667%,#ffc700 13.33%,#ffc700 20%,#ffc600 26.67%,#ffc400 33.33%,#ffc000 40%,#ffbb00 46.67%,#ffb400 53.33%,#ffad00 60%,#ffa400 66.67%,#ff9a00 73.33%,#ff8e00 80%,#ff8200 86.67%,#ff7600 93.33%,#ff6700 100%)"></i>
<i style="top:70px;background:linear-gradient(90deg,#ffc400 0%,#ffc700 6.667%,#ffc800 13.33%,#ffc800 20%,#ffc700 26.67%,#ffc400 33.33%,#ffc000 40%,#ffbb00 46.67%,#ffb500 53.33%,#ffad00 60%,#ffa400 66.67%,#ff9a00 73.33%,#ff8f00 80%,#ff8300 86.67%,#ff7600 93.33%,#ff6800 100%)"></i>
<i style="top:72px;background:linear-gradient(90deg,#ffc500 0%,#ffc800 6.667%,#ffc900 13.33%,#ffc900 20%,#ffc700 26.67%,#ffc500 33.33%,#ffc100 40%,#ffbc00 46.67%,#ffb600 53.33%,#ffae00 60%,#ffa500 66.67%,#ff9b00 73.33%,#ff8f00 80%,#ff8300 86.67%,#ff7700 93.33%,#ff6800 100%)"></i>
<i style="top:74px;background:linear-gradient(90deg,#ffc600 0%,#ffc800 6.667%,#ffc900 13.33%,#ffc900 20%,#ffc800 26.67%,#ffc500 33.33%,#ffc200 40%,#ffbd00 46.67%,#ffb600 53.33%,#ffaf00 60%,#ffa600 66.67%,#ff9b00 73.33%,#ff9000 80%,#ff8400 86.67%,#ff7700 93.33%,#ff6900 100%)"></i>
<i style="top:76px;background:linear-gradient(90deg,#ffc600 0%,#ffc900 6.667%,#ffca00 13.33%,#ffca00 20%,#ffc900 26.67%,#ffc600 33.33%,#ffc200 40%,#ffbd00 46.67%,#ffb700 53.33%,#ffaf00 60%,#ffa600 66.67%,#ff9c00 73.33%,#ff9000 80%,#ff8400 86.67%,#ff7800 93.33%,#ff6900 100%)"></i>
<i style="top:78px;background:linear-gradient(90deg,#ffc700 0%,#ffc900 6.667%,#ffcb00 13.33%,#ffcb00 20%,#ffc900 26.67%,#ffc700 33.33%,#ffc300 40%,#ffbe00 46.67%,#ffb700 53.33%,#ffb000 60%,#ffa700 66.67%,#ff9c00 73.33%,#ff9100 80%,#ff8500 86.67%,#ff7800 93.33%,#ff6a00 100%)"></i>
<i style="top:80px;background:linear-gradient(90deg,#ffc800 0%,#ffca00 6.667%,#ffcb00 13.33%,#ffcb00 20%,#ffca00 26.67%,#ffc700 33.33%,#ffc300 40%,#ffbe00 46.67%,#ffb800 53.33%,#ffb000 60%,#ffa700 66.67%,#ff9d00 73.33%,#ff9100 80%,#ff8500 86.67%,#ff7800 93.33%,#ff6a00 100%)"></i>
<i style="top:82px;background:linear-gradient(90deg,#ffc800 0%,#ffcb00 6.667%,#ffcc00 13.33%,#ffcc00 20%,#ffca00 26.67%,#ffc800 33.33%,#ffc400 40%,#ffbf00 46.67%,#ffb800 53.33%,#ffb100 60%,#ffa800 66.67%,#ff9d00 73.33%,#ff9200 80%,#ff8600 86.67%,#ff7900 93.33%,#ff6b00 100%)"></i>
<i style="top:84px;background:linear-gradient(90deg,#ffc900 0%,#ffcb00 6.667%,#ffcc00 13.33%,#ffcc00 20%,#ffcb00 26.67%,#ffc800 33.33%,#ffc500 40%,#ffbf00 46.67%,#ffb900 53.33%,#ffb100 60%,#ffa800 66.67%,#ff9e00 73.33%,#ff9200 80%,#ff8600 86.67%,#ff7900 93.33%,#ff6b00 100%)"></i>
<i style="top:86px;background:linear-gradient(90deg,#ffc900 0%,#ffcc00 6.667%,#ffcd00 13.33%,#ffcd00 20%,#ffcc00 26.67%,#ffc900 33.33%,#ffc500 40%,#ffc000 46.67%,#ffba00 53.33%,#ffb200 60%,#ffa900 66.67%,#ff9e00 73.33%,#ff9300 80%,#ff8700 86.67%,#ff7a00 93.33%,#ff6b00 100%)"></i>
<i style="top:88px;background:linear-gradient(90deg,#ffca00 0%,#ffcc00 6.667%,#ffce00 13.33%,#ffcd00 20%,#ffcc00 26.67%,#ffc900 33.33%,#ffc600 40%,#ffc000 46.67%,#ffba00 53.33%,#ffb200 60%,#ffa900 66.67%,#ff9f00 73.33%,#ff9300 80%,#ff8700 86.67%,#ff7a00 93.33%,#ff6c00 100%)"></i>
<i style="top:90px;background:linear-gradient(90deg,#ffcb00 0%,#ffcd00 6.667%,#ffce00 13.33%,#ffce00 20%,#ffcd00 26.67%,#ffca00 33.33%,#ffc600 40%,#ffc100 46.67%,#ffbb00 53.33%,#ffb300 60%,#ffaa00 66.67%,#ff9f00 73.33%,#ff9400 80%,#ff8800 86.67%,#ff7a00 93.33%,#ff6c00 100%)"></i>
<i style="top:92px;background:linear-gradient(90deg,#ffcb00 0%,#ffce00 6.667%,#ffcf00 13.33%,#ffcf00 20%,#ffcd00 26.67%,#ffcb00 33.33%,#ffc700 40%,#ffc100 46.67%,#ffbb00 53.33%,#ffb300 60%,#ffaa00 66.67%,#ff9f00 73.33%,#ff9400 80%,#ff8800 86.67%,#ff7b00 93.33%,#ff6c00 100%)"></i>
<i style="top:94px;background:linear-gradient(90deg,#ffcc00 0%,#ffce00 6.667%,#ffcf00 13.33%,#ffcf00 20%,#ffce00 26.67%,#ffcb00 33.33%,#ffc700 40%,#ffc200 46.67%,#ffbb00 53.33%,#ffb400 60%,#ffaa00 66.67%,#ffa000 73.33%,#ff9400 80%,#ff8800 86.67%,#ff7b00 93.33%,#ff6d00 100%)"></i>
<i style="top:96px;background:linear-gradient(90deg,#ffcc00 0%,#ffcf00 6.667%,#ffd000 13.33%,#ffd000 20%,#ffce00 26.67%,#ffcb00 33.33%,#ffc800 40%,#ffc200 46.67%,#ffbc00 53.33%,#ffb400 60%,#ffab00 66.67%,#ffa000 73.33%,#ff9500 80%,#ff8900 86.67%,#ff7c00 93.33%,#ff6d00 100%)"></i>
<i style="top:98px;background:linear-gradient(90deg,#ffcd00 0%,#ffcf00 6.667%,#ffd000 13.33%,#ffd000 20%,#ffcf00 26.67%,#ffcc00 33.33%,#ffc800 40%,#ffc300 46.67%,#ffbc00 53.33%,#ffb500 60%,#ffab00 66.67%,#ffa100 73.33%,#ff9500 80%,#ff8900 86.67%,#ff7c00 93.33%,#ff6d00 100%)"></i>
<i style="top:100px;background:linear-gradient(90deg,#ffcd00 0%,#ffd000 6.667%,#ffd100 13.33%,#ffd100 20%,#ffcf00 26.67%,#ffcc00 33.33%,#ffc900 40%,#ffc300 46.67%,#ffbd00 53.33%,#ffb500 60%,#ffac00 66.67%,#ffa100 73.33%,#ff9600 80%,#ff8900 86.67%,#ff7c00 93.33%,#ff6e00 100%)"></i>
<i style="top:102px;background:linear-gradient(90deg,#ffce00 0%,#ffd000 6.667%,#ffd100 13.33%,#ffd100 20%,#ffd000 26.67%,#ffcd00 33.33%,#ffc900 40%,#ffc400 46.67%,#ffbd00 53.33%,#ffb500 60%,#ffac00 66.67%,#ffa100 73.33%,#ff9600 80%,#ff8a00 86.67%,#ff7d00 93.33%,#ff6e00 100%)"></i>
<i style="top:104px;background:linear-gradient(90deg,#ffce00 0%,#ffd100 6.667%,#ffd200 13.33%,#ffd100 20%,#ffd000 26.67%,#ffcd00 33.33%,#ffc900 40%,#ffc400 46.67%,#ffbe00 53.33%,#ffb600 60%,#ffac00 66.67%,#ffa200 73.33%,#ff9600 80%,#ff8a00 86.67%,#ff7d00 93.33%,#ff6e00 100%)"></i>
<i style="top:106px;background:linear-gradient(90deg,#ffcf00 0%,#ffd100 6.667%,#ffd200 13.33%,#ffd200 20%,#ffd000 26.67%,#ffce00 33.33%,#ffca00 40%,#ffc500 46.67%,#ffbe00 53.33%,#ffb600 60%,#ffad00 66.67%,#ffa200 73.33%,#ff9700 80%,#ff8a00 86.67%,#ff7d00 93.33%,#ff6f00 100%)"></i>
<i style="top:108px;background:linear-gradient(90deg,#ffcf00 0%,#ffd200 6.667%,#ffd300 13.33%,#ffd200 20%,#ffd100 26.67%,#ffce00 33.33%,#ffca00 40%,#ffc500 46.67%,#ffbe00 53.33%,#ffb600 60%,#ffad00 66.67%,#ffa300 73.33%,#ff9700 80%,#ff8b00 86.67%,#ff7d00 93.33%,#ff6f00 100%)"></i>
<i style="top:110px;background:linear-gradient(90deg,#ffd000 0%,#ffd200 6.667%,#ffd300 13.33%,#ffd300 20%,#ffd100 26.67%,#ffcf00 33.33%,#ffcb00 40%,#ffc500 46.67%,#ffbf00 53.33%,#ffb700 60%,#ffad00 66.67%,#ffa300 73.33%,#ff9700 80%,#ff8b00 86.67%,#ff7e00 93.33%,#ff6f00 100%)"></i>
<i style="top:112px;background:linear-gradient(90deg,#ffd000 0%,#ffd300 6.667%,#ffd300 13.33%,#ffd300 20%,#ffd200 26.67%,#ffcf00 33.33%,#ffcb00 40%,#ffc600 46.67%,#ffbf00 53.33%,#ffb700 60%,#ffae00 66.67%,#ffa300 73.33%,#ff9800 80%,#ff8b00 86.67%,#ff7e00 93.33%,#ff6f00 100%)"></i>
<i style="top:114px;background:linear-gradient(90deg,#ffd100 0%,#ffd300 6.667%,#ffd400 13.33%,#ffd400 20%,#ffd200 26.67%,#ffcf00 33.33%,#ffcb00 40%,#ffc600 46.67%,#ffbf00 53.33%,#ffb700 60%,#ffae00 66.67%,#ffa400 73.33%,#ff9800 80%,#ff8c00 86.67%,#ff7e00 93.33%,#ff7000 100%)"></i>
<i style="top:116px;background:linear-gradient(90deg,#ffd100 0%,#ffd300 6.667%,#ffd400 13.33%,#ffd400 20%,#ffd300 26.67%,#ffd000 33.33%,#ffcc00 40%,#ffc600 46.67%,#ffc000 53.33%,#ffb800 60%,#ffae00 66.67%,#ffa400 73.33%,#ff9800 80%,#ff8c00 86.67%,#ff7f00 93.33%,#ff7000 100%)"></i>
<i style="top:118px;background:linear-gradient(90deg,#ffd200 0%,#ffd400 6.667%,#ffd500 13.33%,#ffd400 20%,#ffd300 26.67%,#ffd000 33.33%,#ffcc00 40%,#ffc700 46.67%,#ffc000 53.33%,#ffb800 60%,#ffaf00 66.67%,#ffa400 73.33%,#ff9900 80%,#ff8c00 86.67%,#ff7f00 93.33%,#ff7000 100%)"></i>
<i style="top:120px;background:linear-gradient(90deg,#ffd200 0%,#ffd400 6.667%,#ffd500 13.33%,#ffd500 20%,#ffd300 26.67%,#ffd000 33.33%,#ffcc00 40%,#ffc700 46.67%,#ffc000 53.33%,#ffb800 60%,#ffaf00 66.67%,#ffa500 73.33%,#ff9900 80%,#ff8d00 86.67%,#ff7f00 93.33%,#ff7000 100%)"></i>
<i style="top:122px;background:linear-gradient(90deg,#ffd200 0%,#ffd500 6.667%,#ffd500 13.33%,#ffd500 20%,#ffd400 26.67%,#ffd100 33.33%,#ffcd00 40%,#ffc700 46.67%,#ffc100 53.33%,#ffb900 60%,#ffaf00 66.67%,#ffa500 73.33%,#ff9900 80%,#ff8d00 86.67%,#ff7f00 93.33%,#ff7100 100%)"></i>
<i style="top:124px;background:linear-gradient(90deg,#ffd300 0%,#ffd500 6.667%,#ffd600 13.33%,#ffd600 20%,#ffd400 26.67%,#ffd100 33.33%,#ffcd00 40%,#ffc800 46.67%,#ffc100 53.33%,#ffb900 60%,#ffb000 66.67%,#ffa500 73.33%,#ff9a00 80%,#ff8d00 86.67%,#ff7f00 93.33%,#ff7100 100%)"></i>
<i style="top:126px;background:linear-gradient(90deg,#ffd300 0%,#ffd500 6.667%,#ffd600 13.33%,#ffd600 20%,#ffd400 26.67%,#ffd100 33.33%,#ffcd00 40%,#ffc800 46.67%,#ffc100 53.33%,#ffb900 60%,#ffb000 66.67%,#ffa500 73.33%,#ff9a00 80%,#ff8d00 86.67%,#ff8000 93.33%,#ff7100 100%)"></i>
<i style="top:128px;background:linear-gradient(90deg,#ffd400 0%,#ffd600 6.667%,#ffd700 13.33%,#ffd600 20%,#ffd500 26.67%,#ffd200 33.33%,#ffce00 40%,#ffc800 46.67%,#ffc100 53.33%,#ffb900 60%,#ffb000 66.67%,#ffa600 73.33%,#ff9a00 80%,#ff8e00 86.67%,#ff8000 93.33%,#ff7100 100%)"></i>
<i style="top:130px;background:linear-gradient(90deg,#ffd400 0%,#ffd600 6.667%,#ffd700 13.33%,#ffd700 20%,#ffd500 26.67%,#ffd200 33.33%,#ffce00 40%,#ffc800 46.67%,#ffc200 53.33%,#ffba00 60%,#ffb000 66.67%,#ffa600 73.33%,#ff9a00 80%,#ff8e00 86.67%,#ff8000 93.33%,#ff7100 100%)"></i>
<i style="top:132px;background:linear-gradient(90deg,#ffd400 0%,#ffd600 6.667%,#ffd700 13.33%,#ffd700 20%,#ffd500 26.67%,#ffd200 33.33%,#ffce00 40%,#ffc900 46.67%,#ffc200 53.33%,#ffba00 60%,#ffb100 66.67%,#ffa600 73.33%,#ff9b00 80%,#ff8e00 86.67%,#ff8000 93.33%,#ff7100 100%)"></i>
<i style="top:134px;background:linear-gradient(90deg,#ffd500 0%,#ffd700 6.667%,#ffd800 13.33%,#ffd700 20%,#ffd500 26.67%,#ffd300 33.33%,#ffce00 40%,#ffc900 46.67%,#ffc200 53.33%,#ffba00 60%,#ffb100 66.67%,#ffa600 73.33%,#ff9b00 80%,#ff8e00 86.67%,#ff8000 93.33%,#ff7200 100%)"></i>
<i style="top:136px;background:linear-gradient(90deg,#ffd500 0%,#ffd700 6.667%,#ffd800 13.33%,#ffd700 20%,#ffd600 26.67%,#ffd300 33.33%,#ffcf00 40%,#ffc900 46.67%,#ffc200 53.33%,#ffba00 60%,#ffb100 66.67%,#ffa700 73.33%,#ff9b00 80%,#ff8e00 86.67%,#ff8100 93.33%,#ff7200 100%)"></i>
<i style="top:138px;background:linear-gradient(90deg,#ffd500 0%,#ffd700 6.667%,#ffd800 13.33%,#ffd800 20%,#ffd600 26.67%,#ffd300 33.33%,#ffcf00 40%,#ffc900 46.67%,#ffc300 53.33%,#ffbb00 60%,#ffb100 66.67%,#ffa700 73.33%,#ff9b00 80%,#ff8f00 86.67%,#ff8100 93.33%,#ff7200 100%)"></i>
<i style="top:140px;background:linear-gradient(90deg,#ffd600 0%,#ffd800 6.667%,#ffd800 13.33%,#ffd800 20%,#ffd600 26.67%,#ffd300 33.33%,#ffcf00 40%,#ffca00 46.67%,#ffc300 53.33%,#ffbb00 60%,#ffb100 66.67%,#ffa700 73.33%,#ff9c00 80%,#ff8f00 86.67%,#ff8100 93.33%,#ff7200 100%)"></i>
<i style="top:142px;background:linear-gradient(90deg,#ffd600 0%,#ffd800 6.667%,#ffd900 13.33%,#ffd800 20%,#ffd700 26.67%,#ffd400 33.33%,#ffcf00 40%,#ffca00 46.67%,#ffc300 53.33%,#ffbb00 60%,#ffb200 66.67%,#ffa700 73.33%,#ff9c00 80%,#ff8f00 86.67%,#ff8100 93.33%,#ff7200 100%)"></i>
<i style="top:144px;background:linear-gradient(90deg,#ffd600 0%,#ffd800 6.667%,#ffd900 13.33%,#ffd800 20%,#ffd700 26.67%,#ffd400 33.33%,#ffd000 40%,#ffca00 46.67%,#ffc300 53.33%,#ffbb00 60%,#ffb200 66.67%,#ffa700 73.33%,#ff9c00 80%,#ff8f00 86.67%,#ff8100 93.33%,#ff7200 100%)"></i>
<i style="top:146px;background:linear-gradient(90deg,#ffd600 0%,#ffd800 6.667%,#ffd900 13.33%,#ffd900 20%,#ffd700 26.67%,#ffd400 33.33%,#ffd000 40%,#ffca00 46.67%,#ffc300 53.33%,#ffbb00 60%,#ffb200 66.67%,#ffa800 73.33%,#ff9c00 80%,#ff8f00 86.67%,#ff8100 93.33%,#ff7200 100%)"></i>
<i style="top:148px;background:linear-gradient(90deg,#ffd700 0%,#ffd900 6.667%,#ffd900 13.33%,#ffd900 20%,#ffd700 26.67%,#ffd400 33.33%,#ffd000 40%,#ffca00 46.67%,#ffc400 53.33%,#ffbb00 60%,#ffb200 66.67%,#ffa800 73.33%,#ff9c00 80%,#ff8f00 86.67%,#ff8100 93.33%,#ff7200 100%)"></i>
<i style="top:150px;background:linear-gradient(90deg,#ffd700 0%,#ffd900 6.667%,#ffda00 13.33%,#ffd900 20%,#ffd700 26.67%,#ffd400 33.33%,#ffd000 40%,#ffcb00 46.67%,#ffc400 53.33%,#ffbc00 60%,#ffb200 66.67%,#ffa800 73.33%,#ff9c00 80%,#ff9000 86.67%,#ff8200 93.33%,#ff7300 100%)"></i>
<i style="top:152px;background:linear-gradient(90deg,#ffd700 0%,#ffd900 6.667%,#ffda00 13.33%,#ffd900 20%,#ffd800 26.67%,#ffd500 33.33%,#ffd000 40%,#ffcb00 46.67%,#ffc400 53.33%,#ffbc00 60%,#ffb200 66.67%,#ffa800 73.33%,#ff9c00 80%,#ff9000 86.67%,#ff8200 93.33%,#ff7300 100%)"></i>
<i style="top:154px;background:linear-gradient(90deg,#ffd800 0%,#ffd900 6.667%,#ffda00 13.33%,#ffda00 20%,#ffd800 26.67%,#ffd500 33.33%,#ffd000 40%,#ffcb00 46.67%,#ffc400 53.33%,#ffbc00 60%,#ffb300 66.67%,#ffa800 73.33%,#ff9d00 80%,#ff9000 86.67%,#ff8200 93.33%,#ff7300 100%)"></i>
<i style="top:156px;background:linear-gradient(90deg,#ffd800 0%,#ffda00 6.667%,#ffda00 13.33%,#ffda00 20%,#ffd800 26.67%,#ffd500 33.33%,#ffd100 40%,#ffcb00 46.67%,#ffc400 53.33%,#ffbc00 60%,#ffb300 66.67%,#ffa800 73.33%,#ff9d00 80%,#ff9000 86.67%,#ff8200 93.33%,#ff7300 100%)"></i>
<i style="top:158px;background:linear-gradient(90deg,#ffd800 0%,#ffda00 6.667%,#ffda00 13.33%,#ffda00 20%,#ffd800 26.67%,#ffd500 33.33%,#ffd100 40%,#ffcb00 46.67%,#ffc400 53.33%,#ffbc00 60%,#ffb300 66.67%,#ffa800 73.33%,#ff9d00 80%,#ff9000 86.67%,#ff8200 93.33%,#ff7300 100%)"></i>
<i style="top:160px;background:linear-gradient(90deg,#ffd800 0%,#ffda00 6.667%,#ffdb00 13.33%,#ffda00 20%,#ffd800 26.67%,#ffd500 33.33%,#ffd100 40%,#ffcb00 46.67%,#ffc400 53.33%,#ffbc00 60%,#ffb300 66.67%,#ffa800 73.33%,#ff9d00 80%,#ff9000 86.67%,#ff8200 93.33%,#ff7300 100%)"></i>
<i style="top:162px;background:linear-gradient(90deg,#ffd800 0%,#ffda00 6.667%,#ffdb00 13.33%,#ffda00 20%,#ffd800 26.67%,#ffd500 33.33%,#ffd100 40%,#ffcb00 46.67%,#ffc400 53.33%,#ffbc00 60%,#ffb300 66.67%,#ffa800 73.33%,#ff9d00 80%,#ff9000 86.67%,#ff8200 93.33%,#ff7300 100%)"></i>
<i style="top:164px;background:linear-gradient(90deg,#ffd900 0%,#ffda00 6.667%,#ffdb00 13.33%,#ffda00 20%,#ffd800 26.67%,#ffd500 33.33%,#ffd100 40%,#ffcb00 46.67%,#ffc400 53.33%,#ffbc00 60%,#ffb300 66.67%,#ffa800 73.33%,#ff9d00 80%,#ff9000 86.67%,#ff8200 93.33%,#ff7300 100%)"></i>
<i style="top:166px;background:linear-gradient(90deg,#ffd900 0%,#ffdb00 6.667%,#ffdb00 13.33%,#ffda00 20%,#ffd900 26.67%,#ffd500 33.33%,#ffd100 40%,#ffcb00 46.67%,#ffc500 53.33%,#ffbc00 60%,#ffb300 66.67%,#ffa800 73.33%,#ff9d00 80%,#ff9000 86.67%,#ff8200 93.33%,#ff7300 100%)"></i>
<i style="top:168px;background:linear-gradient(90deg,#ffd900 0%,#ffdb00 6.667%,#ffdb00 13.33%,#ffdb00 20%,#ffd900 26.67%,#ffd600 33.33%,#ffd100 40%,#ffcc00 46.67%,#ffc500 53.33%,#ffbc00 60%,#ffb300 66.67%,#ffa800 73.33%,#ff9d00 80%,#ff9000 86.67%,#ff8200 93.33%,#ff7300 100%)"></i>
<i style="top:170px;background:linear-gradient(90deg,#ffd900 0%,#ffdb00 6.667%,#ffdb00 13.33%,#ffdb00 20%,#ffd900 26.67%,#ffd600 33.33%,#ffd100 40%,#ffcc00 46.67%,#ffc500 53.33%,#ffbc00 60%,#ffb300 66.67%,#ffa800 73.33%,#ff9d00 80%,#ff9000 86.67%,#ff8200 93.33%,#ff7300 100%)"></i>
<i style="top:172px;background:linear-gradient(90deg,#ffd900 0%,#ffdb00 6.667%,#ffdb00 13.33%,#ffdb00 20%,#ffd900 26.67%,#ffd600 33.33%,#ffd100 40%,#ffcc00 46.67%,#ffc500 53.33%,#ffbc00 60%,#ffb300 66.67%,#ffa800 73.33%,#ff9d00 80%,#ff9000 86.67%,#ff8200 93.33%,#ff7300 100%)"></i>
<i style="top:174px;background:linear-gradient(90deg,#ffd900 0%,#ffdb00 6.667%,#ffdc00 13.33%,#ffdb00 20%,#ffd900 26.67%,#ffd600 33.33%,#ffd100 40%,#ffcc00 46.67%,#ffc500 53.33%,#ffbc00 60%,#ffb300 66.67%,#ffa800 73.33%,#ff9d00 80%,#ff9000 86.67%,#ff8200 93.33%,#ff7300 100%)"></i>
<i style="top:176px;background:linear-gradient(90deg,#ffd900 0%,#ffdb00 6.667%,#ffdc00 13.33%,#ffdb00 20%,#ffd900 26.67%,#ffd600 33.33%,#ffd100 40%,#ffcc00 46.67%,#ffc500 53.33%,#ffbc00 60%,#ffb300 66.67%,#ffa800 73.33%,#ff9d00 80%,#ff9000 86.67%,#ff8200 93.33%,#ff7300 100%)"></i>
<i style="top:178px;background:linear-gradient(90deg,#ffd900 0%,#ffdb00 6.667%,#ffdc00 13.33%,#ffdb00 20%,#ffd900 26.67%,#ffd600 33.33%,#ffd100 40%,#ffcc00 46.67%,#ffc500 53.33%,#ffbc00 60%,#ffb300 66.67%,#ffa800 73.33%,#ff9d00 80%,#ff9000 86.67%,#ff8200 93.33%,#ff7300 100%)"></i>
<i style="top:180px;background:linear-gradient(90deg,#ffda00 0%,#ffdb00 6.667%,#ffdc00 13.33%,#ffdb00 20%,#ffd900 26.67%,#ffd600 33.33%,#ffd100 40%,#ffcc00 46.67%,#ffc500 53.33%,#ffbc00 60%,#ffb300 66.67%,#ffa800 73.33%,#ff9d00 80%,#ff9000 86.67%,#ff8200 93.33%,#ff7300 100%)"></i>
<i style="top:182px;background:linear-gradient(90deg,#ffda00 0%,#ffdb00 6.667%,#ffdc00 13.33%,#ffdb00 20%,#ffd900 26.67%,#ffd600 33.33%,#ffd100 40%,#ffcc00 46.67%,#ffc500 53.33%,#ffbc00 60%,#ffb300 66.67%,#ffa800 73.33%,#ff9d00 80%,#ff9000 86.67%,#ff8200 93.33%,#ff7300 100%)"></i>
<i style="top:184px;background:linear-gradient(90deg,#ffda00 0%,#ffdb00 6.667%,#ffdc00 13.33%,#ffdb00 20%,#ffd900 26.67%,#ffd600 33.33%,#ffd100 40%,#ffcc00 46.67%,#ffc500 53.33%,#ffbc00 60%,#ffb300 66.67%,#ffa800 73.33%,#ff9d00 80%,#ff9000 86.67%,#ff8200 93.33%,#ff7200 100%)"></i>
<i style="top:186px;background:linear-gradient(90deg,#ffda00 0%,#ffdb00 6.667%,#ffdc00 13.33%,#ffdb00 20%,#ffd900 26.67%,#ffd600 33.33%,#ffd100 40%,#ffcc00 46.67%,#ffc500 53.33%,#ffbc00 60%,#ffb300 66.67%,#ffa800 73.33%,#ff9d00 80%,#ff9000 86.67%,#ff8200 93.33%,#ff7200 100%)"></i>
<i style="top:188px;background:linear-gradient(90deg,#ffda00 0%,#ffdc00 6.667%,#ffdc00 13.33%,#ffdb00 20%,#ffd900 26.67%,#ffd600 33.33%,#ffd100 40%,#ffcc00 46.67%,#ffc400 53.33%,#ffbc00 60%,#ffb300 66.67%,#ffa800 73.33%,#ff9c00 80%,#ff9000 86.67%,#ff8100 93.33%,#ff7200 100%)"></i>
<i style="top:190px;background:linear-gradient(90deg,#ffda00 0%,#ffdc00 6.667%,#ffdc00 13.33%,#ffdb00 20%,#ffd900 26.67%,#ffd600 33.33%,#ffd100 40%,#ffcb00 46.67%,#ffc400 53.33%,#ffbc00 60%,#ffb200 66.67%,#ffa800 73.33%,#ff9c00 80%,#ff8f00 86.67%,#ff8100 93.33%,#ff7200 100%)"></i>
<i style="top:192px;background:linear-gradient(90deg,#ffda00 0%,#ffdc00 6.667%,#ffdc00 13.33%,#ffdb00 20%,#ffd900 26.67%,#ffd600 33.33%,#ffd100 40%,#ffcb00 46.67%,#ffc400 53.33%,#ffbc00 60%,#ffb200 66.67%,#ffa800 73.33%,#ff9c00 80%,#ff8f00 86.67%,#ff8100 93.33%,#ff7200 100%)"></i>
<i style="top:194px;background:linear-gradient(90deg,#ffda00 0%,#ffdc00 6.667%,#ffdc00 13.33%,#ffdb00 20%,#ffd900 26.67%,#ffd600 33.33%,#ffd100 40%,#ffcb00 46.67%,#ffc400 53.33%,#ffbc00 60%,#ffb200 66.67%,#ffa800 73.33%,#ff9c00 80%,#ff8f00 86.67%,#ff8100 93.33%,#ff7200 100%)"></i>
<i style="top:196px;background:linear-gradient(90deg,#ffda00 0%,#ffdc00 6.667%,#ffdc00 13.33%,#ffdb00 20%,#ffd900 26.67%,#ffd600 33.33%,#ffd100 40%,#ffcb00 46.67%,#ffc400 53.33%,#ffbc00 60%,#ffb200 66.67%,#ffa800 73.33%,#ff9c00 80%,#ff8f00 86.67%,#ff8100 93.33%,#ff7200 100%)"></i>
<i style="top:198px;background:linear-gradient(90deg,#ffda00 0%,#ffdc00 6.667%,#ffdc00 13.33%,#ffdb00 20%,#ffd900 26.67%,#ffd600 33.33%,#ffd100 40%,#ffcb00 46.67%,#ffc400 53.33%,#ffbc00 60%,#ffb200 66.67%,#ffa700 73.33%,#ff9c00 80%,#ff8f00 86.67%,#ff8100 93.33%,#ff7100 100%)"></i>
<i style="top:200px;background:linear-gradient(90deg,#ffda00 0%,#ffdc00 6.667%,#ffdc00 13.33%,#ffdb00 20%,#ffd900 26.67%,#ffd600 33.33%,#ffd100 40%,#ffcb00 46.67%,#ffc400 53.33%,#ffbb00 60%,#ffb200 66.67%,#ffa700 73.33%,#ff9c00 80%,#ff8f00 86.67%,#ff8100 93.33%,#ff7100 100%)"></i>
<i style="top:202px;background:linear-gradient(90deg,#ffda00 0%,#ffdc00 6.667%,#ffdc00 13.33%,#ffdb00 20%,#ffd900 26.67%,#ffd500 33.33%,#ffd100 40%,#ffcb00 46.67%,#ffc400 53.33%,#ffbb00 60%,#ffb200 66.67%,#ffa700 73.33%,#ff9c00 80%,#ff8f00 86.67%,#ff8000 93.33%,#ff7100 100%)"></i>
<i style="top:204px;background:linear-gradient(90deg,#ffda00 0%,#ffdb00 6.667%,#ffdc00 13.33%,#ffdb00 20%,#ffd900 26.67%,#ffd500 33.33%,#ffd100 40%,#ffcb00 46.67%,#ffc400 53.33%,#ffbb00 60%,#ffb200 66.67%,#ffa700 73.33%,#ff9b00 80%,#ff8e00 86.67%,#ff8000 93.33%,#ff7100 100%)"></i>
<i style="top:206px;background:linear-gradient(90deg,#ffda00 0%,#ffdb00 6.667%,#ffdc00 13.33%,#ffdb00 20%,#ffd900 26.67%,#ffd500 33.33%,#ffd100 40%,#ffcb00 46.67%,#ffc300 53.33%,#ffbb00 60%,#ffb100 66.67%,#ffa700 73.33%,#ff9b00 80%,#ff8e00 86.67%,#ff8000 93.33%,#ff7100 100%)"></i>
<i style="top:208px;background:linear-gradient(90deg,#ffda00 0%,#ffdb00 6.667%,#ffdc00 13.33%,#ffdb00 20%,#ffd900 26.67%,#ffd500 33.33%,#ffd000 40%,#ffcb00 46.67%,#ffc300 53.33%,#ffbb00 60%,#ffb100 66.67%,#ffa700 73.33%,#ff9b00 80%,#ff8e00 86.67%,#ff8000 93.33%,#ff7100 100%)"></i>
<i style="top:210px;background:linear-gradient(90deg,#ffda00 0%,#ffdb00 6.667%,#ffdc00 13.33%,#ffdb00 20%,#ffd800 26.67%,#ffd500 33.33%,#ffd000 40%,#ffca00 46.67%,#ffc300 53.33%,#ffbb00 60%,#ffb100 66.67%,#ffa700 73.33%,#ff9b00 80%,#ff8e00 86.67%,#ff8000 93.33%,#ff7000 100%)"></i>
<i style="top:212px;background:linear-gradient(90deg,#ffda00 0%,#ffdb00 6.667%,#ffdb00 13.33%,#ffda00 20%,#ffd800 26.67%,#ffd500 33.33%,#ffd000 40%,#ffca00 46.67%,#ffc300 53.33%,#ffbb00 60%,#ffb100 66.67%,#ffa600 73.33%,#ff9b00 80%,#ff8e00 86.67%,#ff7f00 93.33%,#ff7000 100%)"></i>
<i style="top:214px;background:linear-gradient(90deg,#ffda00 0%,#ffdb00 6.667%,#ffdb00 13.33%,#ffda00 20%,#ffd800 26.67%,#ffd500 33.33%,#ffd000 40%,#ffca00 46.67%,#ffc300 53.33%,#ffba00 60%,#ffb100 66.67%,#ffa600 73.33%,#ff9a00 80%,#ff8d00 86.67%,#ff7f00 93.33%,#ff7000 100%)"></i>
<i style="top:216px;background:linear-gradient(90deg,#ffda00 0%,#ffdb00 6.667%,#ffdb00 13.33%,#ffda00 20%,#ffd800 26.67%,#ffd500 33.33%,#ffd000 40%,#ffca00 46.67%,#ffc300 53.33%,#ffba00 60%,#ffb100 66.67%,#ffa600 73.33%,#ff9a00 80%,#ff8d00 86.67%,#ff7f00 93.33%,#ff7000 100%)"></i>
<i style="top:218px;background:linear-gradient(90deg,#ffd900 0%,#ffdb00 6.667%,#ffdb00 13.33%,#ffda00 20%,#ffd800 26.67%,#ffd400 33.33%,#ffd000 40%,#ffca00 46.67%,#ffc200 53.33%,#ffba00 60%,#ffb000 66.67%,#ffa600 73.33%,#ff9a00 80%,#ff8d00 86.67%,#ff7f00 93.33%,#ff6f00 100%)"></i>
<i style="top:220px;background:linear-gradient(90deg,#ffd900 0%,#ffdb00 6.667%,#ffdb00 13.33%,#ffda00 20%,#ffd800 26.67%,#ffd400 33.33%,#ffcf00 40%,#ffc900 46.67%,#ffc200 53.33%,#ffba00 60%,#ffb000 66.67%,#ffa600 73.33%,#ff9a00 80%,#ff8d00 86.67%,#ff7f00 93.33%,#ff6f00 100%)"></i>
<i style="top:222px;background:linear-gradient(90deg,#ffd900 0%,#ffdb00 6.667%,#ffdb00 13.33%,#ffda00 20%,#ffd800 26.67%,#ffd400 33.33%,#ffcf00 40%,#ffc900 46.67%,#ffc200 53.33%,#ffba00 60%,#ffb000 66.67%,#ffa500 73.33%,#ff9a00 80%,#ff8d00 86.67%,#ff7e00 93.33%,#ff6f00 100%)"></i>
<i style="top:224px;background:linear-gradient(90deg,#ffd900 0%,#ffda00 6.667%,#ffdb00 13.33%,#ffda00 20%,#ffd700 26.67%,#ffd400 33.33%,#ffcf00 40%,#ffc900 46.67%,#ffc200 53.33%,#ffb900 60%,#ffb000 66.67%,#ffa500 73.33%,#ff9900 80%,#ff8c00 86.67%,#ff7e00 93.33%,#ff6f00 100%)"></i>
<i style="top:226px;background:linear-gradient(90deg,#ffd900 0%,#ffda00 6.667%,#ffda00 13.33%,#ffd900 20%,#ffd700 26.67%,#ffd400 33.33%,#ffcf00 40%,#ffc900 46.67%,#ffc200 53.33%,#ffb900 60%,#ffb000 66.67%,#ffa500 73.33%,#ff9900 80%,#ff8c00 86.67%,#ff7e00 93.33%,#ff6e00 100%)"></i>
<i style="top:228px;background:linear-gradient(90deg,#ffd900 0%,#ffda00 6.667%,#ffda00 13.33%,#ffd900 20%,#ffd700 26.67%,#ffd300 33.33%,#ffcf00 40%,#ffc900 46.67%,#ffc100 53.33%,#ffb900 60%,#ffaf00 66.67%,#ffa500 73.33%,#ff9900 80%,#ff8c00 86.67%,#ff7d00 93.33%,#ff6e00 100%)"></i>
<i style="top:230px;background:linear-gradient(90deg,#ffd900 0%,#ffda00 6.667%,#ffda00 13.33%,#ffd900 20%,#ffd700 26.67%,#ffd300 33.33%,#ffce00 40%,#ffc800 46.67%,#ffc100 53.33%,#ffb900 60%,#ffaf00 66.67%,#ffa400 73.33%,#ff9800 80%,#ff8b00 86.67%,#ff7d00 93.33%,#ff6e00 100%)"></i>
<i style="top:232px;background:linear-gradient(90deg,#ffd800 0%,#ffda00 6.667%,#ffda00 13.33%,#ffd900 20%,#ffd600 26.67%,#ffd300 33.33%,#ffce00 40%,#ffc800 46.67%,#ffc100 53.33%,#ffb800 60%,#ffaf00 66.67%,#ffa400 73.33%,#ff9800 80%,#ff8b00 86.67%,#ff7d00 93.33%,#ff6d00 100%)"></i>
<i style="top:234px;background:linear-gradient(90deg,#ffd800 0%,#ffda00 6.667%,#ffda00 13.33%,#ffd900 20%,#ffd600 26.67%,#ffd300 33.33%,#ffce00 40%,#ffc800 46.67%,#ffc100 53.33%,#ffb800 60%,#ffae00 66.67%,#ffa400 73.33%,#ff9800 80%,#ff8b00 86.67%,#ff7d00 93.33%,#ff6d00 100%)"></i>
<i style="top:236px;background:linear-gradient(90deg,#ffd800 0%,#ffd900 6.667%,#ffd900 13.33%,#ffd800 20%,#ffd600 26.67%,#ffd200 33.33%,#ffce00 40%,#ffc800 46.67%,#ffc000 53.33%,#ffb800 60%,#ffae00 66.67%,#ffa300 73.33%,#ff9800 80%,#ff8b00 86.67%,#ff7c00 93.33%,#ff6d00 100%)"></i>
</div>
<div class="fld" style="left:437px;top:328px;width:239px;height:239px">
<i style="top:0px;background:linear-gradient(90deg,#c7ff00 0%,#c0ff00 6.667%,#bbff00 13.33%,#b6ff00 20%,#b2ff00 26.67%,#afff00 33.33%,#acff00 40%,#abff00 46.67%,#aaff00 53.33%,#aaff00 60%,#aaff00 66.67%,#acff00 73.33%,#afff00 80%,#b2ff00 86.67%,#b6ff00 93.33%,#baff00 100%)"></i>
<i style="top:2px;background:linear-gradient(90deg,#cdff00 0%,#c7ff00 6.667%,#c1ff00 13.33%,#bcff00 20%,#b8ff00 26.67%,#b5ff00 33.33%,#b2ff00 40%,#b1ff00 46.67%,#b0ff00 53.33%,#afff00 60%,#b0ff00 66.67%,#b1ff00 73.33%,#b4ff00 80%,#b7ff00 86.67%,#bbff00 93.33%,#c0ff00 100%)"></i>
<i style="top:4px;background:linear-gradient(90deg,#d4ff00 0%,#cdff00 6.667%,#c8ff00 13.33%,#c3ff00 20%,#beff00 26.67%,#bbff00 33.33%,#b8ff00 40%,#b7ff00 46.67%,#b6ff00 53.33%,#b5ff00 60%,#b6ff00 66.67%,#b7ff00 73.33%,#baff00 80%,#bdff00 86.67%,#c1ff00 93.33%,#c5ff00 100%)"></i>
<i style="top:6px;background:linear-gradient(90deg,#daff00 0%,#d4ff00 6.667%,#ceff00 13.33%,#c9ff00 20%,#c5ff00 26.67%,#c1ff00 33.33%,#beff00 40%,#bdff00 46.67%,#bcff00 53.33%,#bbff00 60%,#bbff00 66.67%,#bdff00 73.33%,#bfff00 80%,#c2ff00 86.67%,#c6ff00 93.33%,#caff00 100%)"></i>
<i style="top:8px;background:linear-gradient(90deg,#e0ff00 0%,#daff00 6.667%,#d4ff00 13.33%,#cfff00 20%,#cbff00 26.67%,#c7ff00 33.33%,#c4ff00 40%,#c2ff00 46.67%,#c1ff00 53.33%,#c1ff00 60%,#c1ff00 66.67%,#c2ff00 73.33%,#c4ff00 80%,#c7ff00 86.67%,#cbff00 93.33%,#cfff00 100%)"></i>
<i style="top:10px;background:linear-gradient(90deg,#e7ff00 0%,#e0ff00 6.667%,#daff00 13.33%,#d5ff00 20%,#d1ff00 26.67%,#cdff00 33.33%,#caff00 40%,#c8ff00 46.67%,#c7ff00 53.33%,#c6ff00 60%,#c6ff00 66.67%,#c7ff00 73.33%,#caff00 80%,#cdff00 86.67%,#d0ff00 93.33%,#d4ff00 100%)"></i>
<i style="top:12px;background:linear-gradient(90deg,#edff00 0%,#e6ff00 6.667%,#e0ff00 13.33%,#dbff00 20%,#d6ff00 26.67%,#d3ff00 33.33%,#d0ff00 40%,#ceff00 46.67%,#cdff00 53.33%,#ccff00 60%,#cbff00 66.67%,#cdff00 73.33%,#cfff00 80%,#d2ff00 86.67%,#d5ff00 93.33%,#d9ff00 100%)"></i>
<i style="top:14px;background:linear-gradient(90deg,#f3ff00 0%,#ecff00 6.667%,#e6ff00 13.33%,#e1ff00 20%,#dcff00 26.67%,#d8ff00 33.33%,#d5ff00 40%,#d3ff00 46.67%,#d2ff00 53.33%,#d1ff00 60%,#d1ff00 66.67%,#d2ff00 73.33%,#d4ff00 80%,#d7ff00 86.67%,#daff00 93.33%,#ddff00 100%)"></i>
<i style="top:16px;background:linear-gradient(90deg,#f9ff00 0%,#f2ff00 6.667%,#ecff00 13.33%,#e7ff00 20%,#e2ff00 26.67%,#deff00 33.33%,#dbff00 40%,#d9ff00 46.67%,#d7ff00 53.33%,#d6ff00 60%,#d6ff00 66.67%,#d7ff00 73.33%,#d9ff00 80%,#dcff00 86.67%,#dfff00 93.33%,#e2ff00 100%)"></i>
<i style="top:18px;background:linear-gradient(90deg,#ffff00 0%,#f8ff00 6.667%,#f2ff00 13.33%,#ecff00 20%,#e8ff00 26.67%,#e4ff00 33.33%,#e0ff00 40%,#deff00 46.67%,#ddff00 53.33%,#dcff00 60%,#dbff00 66.67%,#dcff00 73.33%,#deff00 80%,#e1ff00 86.67%,#e4ff00 93.33%,#e7ff00 100%)"></i>
<i style="top:20px;background:linear-gradient(90deg,#fff900 0%,#feff00 6.667%,#f8ff00 13.33%,#f2ff00 20%,#edff00 26.67%,#e9ff00 33.33%,#e6ff00 40%,#e4ff00 46.67%,#e2ff00 53.33%,#e1ff00 60%,#e0ff00 66.67%,#e1ff00 73.33%,#e3ff00 80%,#e5ff00 86.67%,#e8ff00 93.33%,#ebff00 100%)"></i>
<i style="top:22px;background:linear-gradient(90deg,#fff300 0%,#fffa00 6.667%,#fdff00 13.33%,#f8ff00 20%,#f3ff00 26.67%,#eeff00 33.33%,#ebff00 40%,#e9ff00 46.67%,#e7ff00 53.33%,#e6ff00 60%,#e5ff00 66.67%,#e6ff00 73.33%,#e8ff00 80%,#eaff00 86.67%,#edff00 93.33%,#f0ff00 100%)"></i>
<i style="top:24px;background:linear-gradient(90deg,#ffee00 0%,#fff500 6.667%,#fffb00 13.33%,#fdff00 20%,#f8ff00 26.67%,#f4ff00 33.33%,#f0ff00 40%,#eeff00 46.67%,#ecff00 53.33%,#ebff00 60%,#eaff00 66.67%,#ebff00 73.33%,#ecff00 80%,#efff00 86.67%,#f1ff00 93.33%,#f4ff00 100%)"></i>
<i style="top:26px;background:linear-gradient(90deg,#ffe800 0%,#ffef00 6.667%,#fff500 13.33%,#fffb00 20%,#fdff00 26.67%,#f9ff00 33.33%,#f6ff00 40%,#f3ff00 46.67%,#f2ff00 53.33%,#f0ff00 60%,#efff00 66.67%,#efff00 73.33%,#f1ff00 80%,#f3ff00 86.67%,#f6ff00 93.33%,#f9ff00 100%)"></i>
<i style="top:28px;background:linear-gradient(90deg,#ffe200 0%,#ffea00 6.667%,#fff000 13.33%,#fff600 20%,#fffb00 26.67%,#feff00 33.33%,#fbff00 40%,#f8ff00 46.67%,#f7ff00 53.33%,#f5ff00 60%,#f4ff00 66.67%,#f4ff00 73.33%,#f6ff00 80%,#f8ff00 86.67%,#faff00 93.33%,#fdff00 100%)"></i>
<i style="top:30px;background:linear-gradient(90deg,#ffdd00 0%,#ffe400 6.667%,#ffeb00 13.33%,#fff100 20%,#fff600 26.67%,#fffb00 33.33%,#fffe00 40%,#fdff00 46.67%,#fbff00 53.33%,#faff00 60%,#f9ff00 66.67%,#f9ff00 73.33%,#faff00 80%,#fcff00 86.67%,#feff00 93.33%,#fffd00 100%)"></i>
<i style="top:32px;background:linear-gradient(90deg,#ffd800 0%,#ffdf00 6.667%,#ffe500 13.33%,#ffeb00 20%,#fff100 26.67%,#fff600 33.33%,#fff900 40%,#fffc00 46.67%,#fffe00 53.33%,#feff00 60%,#fdff00 66.67%,#fdff00 73.33%,#feff00 80%,#fffe00 86.67%,#fffb00 93.33%,#fff900 100%)"></i>
<i style="top:34px;background:linear-gradient(90deg,#ffd200 0%,#ffda00 6.667%,#ffe000 13.33%,#ffe600 20%,#ffec00 26.67%,#fff100 33.33%,#fff400 40%,#fff700 46.67%,#fff900 53.33%,#fffb00 60%,#fffc00 66.67%,#fffc00 73.33%,#fffb00 80%,#fff900 86.67%,#fff700 93.33%,#fff400 100%)"></i>
<i style="top:36px;background:linear-gradient(90deg,#ffcd00 0%,#ffd400 6.667%,#ffdb00 13.33%,#ffe100 20%,#ffe700 26.67%,#ffec00 33.33%,#fff000 40%,#fff200 46.67%,#fff400 53.33%,#fff600 60%,#fff800 66.67%,#fff800 73.33%,#fff700 80%,#fff500 86.67%,#fff300 93.33%,#fff000 100%)"></i>
<i style="top:38px;background:linear-gradient(90deg,#ffc800 0%,#ffcf00 6.667%,#ffd600 13.33%,#ffdc00 20%,#ffe200 26.67%,#ffe700 33.33%,#ffeb00 40%,#ffee00 46.67%,#fff000 53.33%,#fff200 60%,#fff300 66.67%,#fff300 73.33%,#fff300 80%,#fff100 86.67%,#ffef00 93.33%,#ffed00 100%)"></i>
<i style="top:40px;background:linear-gradient(90deg,#ffc300 0%,#ffca00 6.667%,#ffd100 13.33%,#ffd800 20%,#ffdd00 26.67%,#ffe200 33.33%,#ffe600 40%,#ffe900 46.67%,#ffeb00 53.33%,#ffed00 60%,#ffef00 66.67%,#ffef00 73.33%,#ffef00 80%,#ffed00 86.67%,#ffeb00 93.33%,#ffe900 100%)"></i>
<i style="top:42px;background:linear-gradient(90deg,#ffbe00 0%,#ffc600 6.667%,#ffcc00 13.33%,#ffd300 20%,#ffd900 26.67%,#ffde00 33.33%,#ffe200 40%,#ffe400 46.67%,#ffe700 53.33%,#ffe900 60%,#ffeb00 66.67%,#ffeb00 73.33%,#ffea00 80%,#ffe900 86.67%,#ffe700 93.33%,#ffe500 100%)"></i>
<i style="top:44px;background:linear-gradient(90deg,#ffb900 0%,#ffc100 6.667%,#ffc800 13.33%,#ffce00 20%,#ffd400 26.67%,#ffd900 33.33%,#ffdd00 40%,#ffe000 46.67%,#ffe200 53.33%,#ffe500 60%,#ffe600 66.67%,#ffe700 73.33%,#ffe600 80%,#ffe500 86.67%,#ffe300 93.33%,#ffe100 100%)"></i>
<i style="top:46px;background:linear-gradient(90deg,#ffb500 0%,#ffbc00 6.667%,#ffc300 13.33%,#ffca00 20%,#ffcf00 26.67%,#ffd500 33.33%,#ffd900 40%,#ffdc00 46.67%,#ffde00 53.33%,#ffe000 60%,#ffe200 66.67%,#ffe300 73.33%,#ffe300 80%,#ffe100 86.67%,#ffe000 93.33%,#ffde00 100%)"></i>
<i style="top:48px;background:linear-gradient(90deg,#ffb000 0%,#ffb700 6.667%,#ffbe00 13.33%,#ffc500 20%,#ffcb00 26.67%,#ffd000 33.33%,#ffd500 40%,#ffd700 46.67%,#ffda00 53.33%,#ffdc00 60%,#ffde00 66.67%,#ffdf00 73.33%,#ffdf00 80%,#ffde00 86.67%,#ffdc00 93.33%,#ffda00 100%)"></i>
<i style="top:50px;background:linear-gradient(90deg,#ffab00 0%,#ffb300 6.667%,#ffba00 13.33%,#ffc100 20%,#ffc700 26.67%,#ffcc00 33.33%,#ffd000 40%,#ffd300 46.67%,#ffd600 53.33%,#ffd800 60%,#ffda00 66.67%,#ffdb00 73.33%,#ffdb00 80%,#ffda00 86.67%,#ffd900 93.33%,#ffd600 100%)"></i>
<i style="top:52px;background:linear-gradient(90deg,#ffa700 0%,#ffae00 6.667%,#ffb600 13.33%,#ffbc00 20%,#ffc200 26.67%,#ffc800 33.33%,#ffcc00 40%,#ffcf00 46.67%,#ffd100 53.33%,#ffd400 60%,#ffd600 66.67%,#ffd700 73.33%,#ffd700 80%,#ffd600 86.67%,#ffd500 93.33%,#ffd300 100%)"></i>
<i style="top:54px;background:linear-gradient(90deg,#ffa200 0%,#ffaa00 6.667%,#ffb100 13.33%,#ffb800 20%,#ffbe00 26.67%,#ffc400 33.33%,#ffc800 40%,#ffcb00 46.67%,#ffcd00 53.33%,#ffd000 60%,#ffd200 66.67%,#ffd300 73.33%,#ffd400 80%,#ffd300 86.67%,#ffd200 93.33%,#ffd000 100%)"></i>
<i style="top:56px;background:linear-gradient(90deg,#ff9e00 0%,#ffa600 6.667%,#ffad00 13.33%,#ffb400 20%,#ffba00 26.67%,#ffc000 33.33%,#ffc400 40%,#ffc700 46.67%,#ffca00 53.33%,#ffcc00 60%,#ffcf00 66.67%,#ffd000 73.33%,#ffd000 80%,#ffcf00 86.67%,#ffce00 93.33%,#ffcc00 100%)"></i>
<i style="top:58px;background:linear-gradient(90deg,#ff9a00 0%,#ffa100 6.667%,#ffa900 13.33%,#ffb000 20%,#ffb600 26.67%,#ffbc00 33.33%,#ffc000 40%,#ffc300 46.67%,#ffc600 53.33%,#ffc800 60%,#ffcb00 66.67%,#ffcc00 73.33%,#ffcc00 80%,#ffcc00 86.67%,#ffcb00 93.33%,#ffc900 100%)"></i>
<i style="top:60px;background:linear-gradient(90deg,#ff9500 0%,#ff9d00 6.667%,#ffa500 13.33%,#ffac00 20%,#ffb200 26.67%,#ffb800 33.33%,#ffbc00 40%,#ffbf00 46.67%,#ffc200 53.33%,#ffc500 60%,#ffc700 66.67%,#ffc900 73.33%,#ffc900 80%,#ffc900 86.67%,#ffc800 93.33%,#ffc600 100%)"></i>
<i style="top:62px;background:linear-gradient(90deg,#ff9100 0%,#ff9900 6.667%,#ffa000 13.33%,#ffa800 20%,#ffae00 26.67%,#ffb400 33.33%,#ffb800 40%,#ffbc00 46.67%,#ffbe00 53.33%,#ffc100 60%,#ffc400 66.67%,#ffc500 73.33%,#ffc600 80%,#ffc500 86.67%,#ffc500 93.33%,#ffc300 100%)"></i>
<i style="top:64px;background:linear-gradient(90deg,#ff8d00 0%,#ff9500 6.667%,#ff9d00 13.33%,#ffa400 20%,#ffaa00 26.67%,#ffb000 33.33%,#ffb500 40%,#ffb800 46.67%,#ffbb00 53.33%,#ffbe00 60%,#ffc000 66.67%,#ffc200 73.33%,#ffc200 80%,#ffc200 86.67%,#ffc100 93.33%,#ffc000 100%)"></i>
<i style="top:66px;background:linear-gradient(90deg,#ff8900 0%,#ff9100 6.667%,#ff9900 13.33%,#ffa000 20%,#ffa600 26.67%,#ffac00 33.33%,#ffb100 40%,#ffb400 46.67%,#ffb700 53.33%,#ffba00 60%,#ffbd00 66.67%,#ffbe00 73.33%,#ffbf00 80%,#ffbf00 86.67%,#ffbe00 93.33%,#ffbd00 100%)"></i>
<i style="top:68px;background:linear-gradient(90deg,#ff8500 0%,#ff8d00 6.667%,#ff9500 13.33%,#ff9c00 20%,#ffa300 26.67%,#ffa900 33.33%,#ffad00 40%,#ffb100 46.67%,#ffb300 53.33%,#ffb700 60%,#ffb900 66.67%,#ffbb00 73.33%,#ffbc00 80%,#ffbc00 86.67%,#ffbb00 93.33%,#ffba00 100%)"></i>
<i style="top:70px;background:linear-gradient(90deg,#ff8100 0%,#ff8900 6.667%,#ff9100 13.33%,#ff9800 20%,#ff9f00 26.67%,#ffa500 33.33%,#ffaa00 40%,#ffad00 46.67%,#ffb000 53.33%,#ffb300 60%,#ffb600 66.67%,#ffb800 73.33%,#ffb900 80%,#ffb900 86.67%,#ffb900 93.33%,#ffb700 100%)"></i>
<i style="top:72px;background:linear-gradient(90deg,#ff7d00 0%,#ff8600 6.667%,#ff8d00 13.33%,#ff9400 20%,#ff9b00 26.67%,#ffa100 33.33%,#ffa600 40%,#ffaa00 46.67%,#ffad00 53.33%,#ffb000 60%,#ffb300 66.67%,#ffb500 73.33%,#ffb600 80%,#ffb600 86.67%,#ffb600 93.33%,#ffb400 100%)"></i>
<i style="top:74px;background:linear-gradient(90deg,#ff7a00 0%,#ff8200 6.667%,#ff8900 13.33%,#ff9100 20%,#ff9800 26.67%,#ff9e00 33.33%,#ffa300 40%,#ffa600 46.67%,#ffa900 53.33%,#ffad00 60%,#ffb000 66.67%,#ffb200 73.33%,#ffb300 80%,#ffb300 86.67%,#ffb300 93.33%,#ffb200 100%)"></i>
<i style="top:76px;background:linear-gradient(90deg,#ff7600 0%,#ff7e00 6.667%,#ff8600 13.33%,#ff8d00 20%,#ff9400 26.67%,#ff9a00 33.33%,#ffa000 40%,#ffa300 46.67%,#ffa600 53.33%,#ffaa00 60%,#ffad00 66.67%,#ffaf00 73.33%,#ffb000 80%,#ffb000 86.67%,#ffb000 93.33%,#ffaf00 100%)"></i>
<i style="top:78px;background:linear-gradient(90deg,#ff7200 0%,#ff7a00 6.667%,#ff8200 13.33%,#ff8a00 20%,#ff9100 26.67%,#ff9700 33.33%,#ff9c00 40%,#ffa000 46.67%,#ffa300 53.33%,#ffa600 60%,#ffa900 66.67%,#ffac00 73.33%,#ffad00 80%,#ffae00 86.67%,#ffad00 93.33%,#ffad00 100%)"></i>
<i style="top:80px;background:linear-gradient(90deg,#ff6f00 0%,#ff7700 6.667%,#ff7f00 13.33%,#ff8600 20%,#ff8d00 26.67%,#ff9400 33.33%,#ff9900 40%,#ff9c00 46.67%,#ffa000 53.33%,#ffa300 60%,#ffa600 66.67%,#ffa900 73.33%,#ffaa00 80%,#ffab00 86.67%,#ffab00 93.33%,#ffaa00 100%)"></i>
<i style="top:82px;background:linear-gradient(90deg,#ff6b00 0%,#ff7300 6.667%,#ff7b00 13.33%,#ff8300 20%,#ff8a00 26.67%,#ff9000 33.33%,#ff9600 40%,#ff9900 46.67%,#ff9d00 53.33%,#ffa000 60%,#ffa400 66.67%,#ffa600 73.33%,#ffa700 80%,#ffa800 86.67%,#ffa800 93.33%,#ffa700 100%)"></i>
<i style="top:84px;background:linear-gradient(90deg,#ff6800 0%,#ff7000 6.667%,#ff7800 13.33%,#ff8000 20%,#ff8700 26.67%,#ff8d00 33.33%,#ff9200 40%,#ff9600 46.67%,#ff9a00 53.33%,#ff9d00 60%,#ffa100 66.67%,#ffa300 73.33%,#ffa500 80%,#ffa600 86.67%,#ffa600 93.33%,#ffa500 100%)"></i>
<i style="top:86px;background:linear-gradient(90deg,#ff6400 0%,#ff6d00 6.667%,#ff7500 13.33%,#ff7c00 20%,#ff8300 26.67%,#ff8a00 33.33%,#ff8f00 40%,#ff9300 46.67%,#ff9700 53.33%,#ff9a00 60%,#ff9e00 66.67%,#ffa000 73.33%,#ffa200 80%,#ffa300 86.67%,#ffa300 93.33%,#ffa300 100%)"></i>
<i style="top:88px;background:linear-gradient(90deg,#ff6100 0%,#ff6900 6.667%,#ff7100 13.33%,#ff7900 20%,#ff8000 26.67%,#ff8700 33.33%,#ff8c00 40%,#ff9000 46.67%,#ff9400 53.33%,#ff9800 60%,#ff9b00 66.67%,#ff9e00 73.33%,#ffa000 80%,#ffa100 86.67%,#ffa100 93.33%,#ffa000 100%)"></i>
<i style="top:90px;background:linear-gradient(90deg,#ff5d00 0%,#ff6600 6.667%,#ff6e00 13.33%,#ff7600 20%,#ff7d00 26.67%,#ff8400 33.33%,#ff8900 40%,#ff8d00 46.67%,#ff9100 53.33%,#ff9500 60%,#ff9800 66.67%,#ff9b00 73.33%,#ff9d00 80%,#ff9e00 86.67%,#ff9e00 93.33%,#ff9e00 100%)"></i>
<i style="top:92px;background:linear-gradient(90deg,#ff5a00 0%,#ff6300 6.667%,#ff6b00 13.33%,#ff7300 20%,#ff7a00 26.67%,#ff8100 33.33%,#ff8600 40%,#ff8a00 46.67%,#ff8e00 53.33%,#ff9200 60%,#ff9600 66.67%,#ff9800 73.33%,#ff9a00 80%,#ff9c00 86.67%,#ff9c00 93.33%,#ff9c00 100%)"></i>
<i style="top:94px;background:linear-gradient(90deg,#ff5700 0%,#ff6000 6.667%,#ff6800 13.33%,#ff7000 20%,#ff7700 26.67%,#ff7e00 33.33%,#ff8300 40%,#ff8700 46.67%,#ff8b00 53.33%,#ff8f00 60%,#ff9300 66.67%,#ff9600 73.33%,#ff9800 80%,#ff9900 86.67%,#ff9a00 93.33%,#ff9a00 100%)"></i>
<i style="top:96px;background:linear-gradient(90deg,#ff5400 0%,#ff5d00 6.667%,#ff6500 13.33%,#ff6d00 20%,#ff7400 26.67%,#ff7b00 33.33%,#ff8000 40%,#ff8500 46.67%,#ff8900 53.33%,#ff8d00 60%,#ff9000 66.67%,#ff9300 73.33%,#ff9600 80%,#ff9700 86.67%,#ff9800 93.33%,#ff9700 100%)"></i>
<i style="top:98px;background:linear-gradient(90deg,#ff5100 0%,#ff5a00 6.667%,#ff6200 13.33%,#ff6a00 20%,#ff7100 26.67%,#ff7800 33.33%,#ff7d00 40%,#ff8200 46.67%,#ff8600 53.33%,#ff8a00 60%,#ff8e00 66.67%,#ff9100 73.33%,#ff9300 80%,#ff9500 86.67%,#ff9500 93.33%,#ff9500 100%)"></i>
<i style="top:100px;background:linear-gradient(90deg,#ff4e00 0%,#ff5700 6.667%,#ff5f00 13.33%,#ff6700 20%,#ff6e00 26.67%,#ff7500 33.33%,#ff7b00 40%,#ff7f00 46.67%,#ff8400 53.33%,#ff8800 60%,#ff8b00 66.67%,#ff8f00 73.33%,#ff9100 80%,#ff9300 86.67%,#ff9300 93.33%,#ff9300 100%)"></i>
<i style="top:102px;background:linear-gradient(90deg,#ff4b00 0%,#ff5400 6.667%,#ff5c00 13.33%,#ff6400 20%,#ff6b00 26.67%,#ff7200 33.33%,#ff7800 40%,#ff7d00 46.67%,#ff8100 53.33%,#ff8500 60%,#ff8900 66.67%,#ff8c00 73.33%,#ff8f00 80%,#ff9000 86.67%,#ff9100 93.33%,#ff9100 100%)"></i>
<i style="top:104px;background:linear-gradient(90deg,#ff4800 0%,#ff5100 6.667%,#ff5900 13.33%,#ff6100 20%,#ff6900 26.67%,#ff6f00 33.33%,#ff7500 40%,#ff7a00 46.67%,#ff7f00 53.33%,#ff8300 60%,#ff8700 66.67%,#ff8a00 73.33%,#ff8c00 80%,#ff8e00 86.67%,#ff8f00 93.33%,#ff8f00 100%)"></i>
<i style="top:106px;background:linear-gradient(90deg,#ff4500 0%,#ff4e00 6.667%,#ff5600 13.33%,#ff5e00 20%,#ff6600 26.67%,#ff6d00 33.33%,#ff7200 40%,#ff7800 46.67%,#ff7c00 53.33%,#ff8000 60%,#ff8400 66.67%,#ff8800 73.33%,#ff8a00 80%,#ff8c00 86.67%,#ff8d00 93.33%,#ff8e00 100%)"></i>
<i style="top:108px;background:linear-gradient(90deg,#ff4200 0%,#ff4b00 6.667%,#ff5400 13.33%,#ff5c00 20%,#ff6300 26.67%,#ff6a00 33.33%,#ff7000 40%,#ff7500 46.67%,#ff7a00 53.33%,#ff7e00 60%,#ff8200 66.67%,#ff8600 73.33%,#ff8800 80%,#ff8a00 86.67%,#ff8b00 93.33%,#ff8c00 100%)"></i>
<i style="top:110px;background:linear-gradient(90deg,#ff3f00 0%,#ff4800 6.667%,#ff5100 13.33%,#ff5900 20%,#ff6100 26.67%,#ff6700 33.33%,#ff6d00 40%,#ff7300 46.67%,#ff7700 53.33%,#ff7c00 60%,#ff8000 66.67%,#ff8300 73.33%,#ff8600 80%,#ff8800 86.67%,#ff8900 93.33%,#ff8a00 100%)"></i>
<i style="top:112px;background:linear-gradient(90deg,#ff3c00 0%,#ff4600 6.667%,#ff4e00 13.33%,#ff5600 20%,#ff5e00 26.67%,#ff6500 33.33%,#ff6b00 40%,#ff7000 46.67%,#ff7500 53.33%,#ff7a00 60%,#ff7e00 66.67%,#ff8100 73.33%,#ff8400 80%,#ff8600 86.67%,#ff8800 93.33%,#ff8800 100%)"></i>
<i style="top:114px;background:linear-gradient(90deg,#ff3a00 0%,#ff4300 6.667%,#ff4c00 13.33%,#ff5400 20%,#ff5b00 26.67%,#ff6200 33.33%,#ff6800 40%,#ff6e00 46.67%,#ff7300 53.33%,#ff7700 60%,#ff7c00 66.67%,#ff7f00 73.33%,#ff8200 80%,#ff8400 86.67%,#ff8600 93.33%,#ff8600 100%)"></i>
<i style="top:116px;background:linear-gradient(90deg,#ff3700 0%,#ff4000 6.667%,#ff4900 13.33%,#ff5100 20%,#ff5900 26.67%,#ff6000 33.33%,#ff6600 40%,#ff6c00 46.67%,#ff7100 53.33%,#ff7500 60%,#ff7a00 66.67%,#ff7d00 73.33%,#ff8000 80%,#ff8300 86.67%,#ff8400 93.33%,#ff8500 100%)"></i>
<i style="top:118px;background:linear-gradient(90deg,#ff3500 0%,#ff3e00 6.667%,#ff4700 13.33%,#ff4f00 20%,#ff5700 26.67%,#ff5e00 33.33%,#ff6400 40%,#ff6900 46.67%,#ff6e00 53.33%,#ff7300 60%,#ff7800 66.67%,#ff7b00 73.33%,#ff7e00 80%,#ff8100 86.67%,#ff8200 93.33%,#ff8300 100%)"></i>
<i style="top:120px;background:linear-gradient(90deg,#ff3200 0%,#ff3b00 6.667%,#ff4400 13.33%,#ff4d00 20%,#ff5400 26.67%,#ff5b00 33.33%,#ff6100 40%,#ff6700 46.67%,#ff6c00 53.33%,#ff7100 60%,#ff7600 66.67%,#ff7900 73.33%,#ff7d00 80%,#ff7f00 86.67%,#ff8100 93.33%,#ff8200 100%)"></i>
<i style="top:122px;background:linear-gradient(90deg,#ff3000 0%,#ff3900 6.667%,#ff4200 13.33%,#ff4a00 20%,#ff5200 26.67%,#ff5900 33.33%,#ff5f00 40%,#ff6500 46.67%,#ff6a00 53.33%,#ff6f00 60%,#ff7400 66.67%,#ff7800 73.33%,#ff7b00 80%,#ff7d00 86.67%,#ff7f00 93.33%,#ff8000 100%)"></i>
<i style="top:124px;background:linear-gradient(90deg,#ff2d00 0%,#ff3700 6.667%,#ff4000 13.33%,#ff4800 20%,#ff5000 26.67%,#ff5700 33.33%,#ff5d00 40%,#ff6300 46.67%,#ff6800 53.33%,#ff6d00 60%,#ff7200 66.67%,#ff7600 73.33%,#ff7900 80%,#ff7c00 86.67%,#ff7e00 93.33%,#ff7f00 100%)"></i>
<i style="top:126px;background:linear-gradient(90deg,#ff2b00 0%,#ff3400 6.667%,#ff3d00 13.33%,#ff4600 20%,#ff4d00 26.67%,#ff5400 33.33%,#ff5b00 40%,#ff6100 46.67%,#ff6600 53.33%,#ff6b00 60%,#ff7000 66.67%,#ff7400 73.33%,#ff7800 80%,#ff7a00 86.67%,#ff7c00 93.33%,#ff7d00 100%)"></i>
<i style="top:128px;background:linear-gradient(90deg,#ff2800 0%,#ff3200 6.667%,#ff3b00 13.33%,#ff4300 20%,#ff4b00 26.67%,#ff5200 33.33%,#ff5900 40%,#ff5f00 46.67%,#ff6400 53.33%,#ff6900 60%,#ff6e00 66.67%,#ff7200 73.33%,#ff7600 80%,#ff7900 86.67%,#ff7b00 93.33%,#ff7c00 100%)"></i>
<i style="top:130px;background:linear-gradient(90deg,#ff2600 0%,#ff3000 6.667%,#ff3900 13.33%,#ff4100 20%,#ff4900 26.67%,#ff5000 33.33%,#ff5700 40%,#ff5d00 46.67%,#ff6300 53.33%,#ff6800 60%,#ff6c00 66.67%,#ff7100 73.33%,#ff7400 80%,#ff7700 86.67%,#ff7900 93.33%,#ff7b00 100%)"></i>
<i style="top:132px;background:linear-gradient(90deg,#ff2400 0%,#ff2e00 6.667%,#ff3700 13.33%,#ff3f00 20%,#ff4700 26.67%,#ff4e00 33.33%,#ff5500 40%,#ff5b00 46.67%,#ff6100 53.33%,#ff6600 60%,#ff6b00 66.67%,#ff6f00 73.33%,#ff7300 80%,#ff7600 86.67%,#ff7800 93.33%,#ff7900 100%)"></i>
<i style="top:134px;background:linear-gradient(90deg,#ff2200 0%,#ff2b00 6.667%,#ff3500 13.33%,#ff3d00 20%,#ff4500 26.67%,#ff4c00 33.33%,#ff5300 40%,#ff5900 46.67%,#ff5f00 53.33%,#ff6400 60%,#ff6900 66.67%,#ff6e00 73.33%,#ff7100 80%,#ff7400 86.67%,#ff7600 93.33%,#ff7800 100%)"></i>
<i style="top:136px;background:linear-gradient(90deg,#ff2000 0%,#ff2900 6.667%,#ff3300 13.33%,#ff3b00 20%,#ff4300 26.67%,#ff4a00 33.33%,#ff5100 40%,#ff5700 46.67%,#ff5d00 53.33%,#ff6300 60%,#ff6800 66.67%,#ff6c00 73.33%,#ff7000 80%,#ff7300 86.67%,#ff7500 93.33%,#ff7700 100%)"></i>
<i style="top:138px;background:linear-gradient(90deg,#ff1e00 0%,#ff2700 6.667%,#ff3100 13.33%,#ff3900 20%,#ff4100 26.67%,#ff4800 33.33%,#ff4f00 40%,#ff5600 46.67%,#ff5c00 53.33%,#ff6100 60%,#ff6600 66.67%,#ff6b00 73.33%,#ff6f00 80%,#ff7200 86.67%,#ff7400 93.33%,#ff7600 100%)"></i>
<i style="top:140px;background:linear-gradient(90deg,#ff1c00 0%,#ff2500 6.667%,#ff2f00 13.33%,#ff3700 20%,#ff3f00 26.67%,#ff4600 33.33%,#ff4d00 40%,#ff5400 46.67%,#ff5a00 53.33%,#ff5f00 60%,#ff6500 66.67%,#ff6900 73.33%,#ff6d00 80%,#ff7000 86.67%,#ff7300 93.33%,#ff7500 100%)"></i>
<i style="top:142px;background:linear-gradient(90deg,#ff1a00 0%,#ff2300 6.667%,#ff2d00 13.33%,#ff3500 20%,#ff3d00 26.67%,#ff4500 33.33%,#ff4c00 40%,#ff5200 46.67%,#ff5800 53.33%,#ff5e00 60%,#ff6300 66.67%,#ff6800 73.33%,#ff6c00 80%,#ff6f00 86.67%,#ff7200 93.33%,#ff7400 100%)"></i>
<i style="top:144px;background:linear-gradient(90deg,#ff1800 0%,#ff2200 6.667%,#ff2b00 13.33%,#ff3400 20%,#ff3b00 26.67%,#ff4300 33.33%,#ff4a00 40%,#ff5100 46.67%,#ff5700 53.33%,#ff5c00 60%,#ff6200 66.67%,#ff6700 73.33%,#ff6b00 80%,#ff6e00 86.67%,#ff7100 93.33%,#ff7300 100%)"></i>
<i style="top:146px;background:linear-gradient(90deg,#ff1600 0%,#ff2000 6.667%,#ff2900 13.33%,#ff3200 20%,#ff3a00 26.67%,#ff4100 33.33%,#ff4800 40%,#ff4f00 46.67%,#ff5500 53.33%,#ff5b00 60%,#ff6000 66.67%,#ff6500 73.33%,#ff6900 80%,#ff6d00 86.67%,#ff6f00 93.33%,#ff7200 100%)"></i>
<i style="top:148px;background:linear-gradient(90deg,#ff1400 0%,#ff1e00 6.667%,#ff2700 13.33%,#ff3000 20%,#ff3800 26.67%,#ff4000 33.33%,#ff4700 40%,#ff4e00 46.67%,#ff5400 53.33%,#ff5a00 60%,#ff5f00 66.67%,#ff6400 73.33%,#ff6800 80%,#ff6c00 86.67%,#ff6e00 93.33%,#ff7100 100%)"></i>
<i style="top:150px;background:linear-gradient(90deg,#ff1200 0%,#ff1c00 6.667%,#ff2600 13.33%,#ff2e00 20%,#ff3600 26.67%,#ff3e00 33.33%,#ff4500 40%,#ff4c00 46.67%,#ff5200 53.33%,#ff5800 60%,#ff5e00 66.67%,#ff6300 73.33%,#ff6700 80%,#ff6b00 86.67%,#ff6d00 93.33%,#ff7000 100%)"></i>
<i style="top:152px;background:linear-gradient(90deg,#ff1000 0%,#ff1a00 6.667%,#ff2400 13.33%,#ff2d00 20%,#ff3500 26.67%,#ff3c00 33.33%,#ff4400 40%,#ff4b00 46.67%,#ff5100 53.33%,#ff5700 60%,#ff5d00 66.67%,#ff6200 73.33%,#ff6600 80%,#ff6a00 86.67%,#ff6d00 93.33%,#ff6f00 100%)"></i>
<i style="top:154px;background:linear-gradient(90deg,#ff0f00 0%,#ff1900 6.667%,#ff2200 13.33%,#ff2b00 20%,#ff3300 26.67%,#ff3b00 33.33%,#ff4200 40%,#ff4900 46.67%,#ff5000 53.33%,#ff5600 60%,#ff5b00 66.67%,#ff6100 73.33%,#ff6500 80%,#ff6900 86.67%,#ff6c00 93.33%,#ff6e00 100%)"></i>
<i style="top:156px;background:linear-gradient(90deg,#ff0d00 0%,#ff1700 6.667%,#ff2100 13.33%,#ff2900 20%,#ff3100 26.67%,#ff3900 33.33%,#ff4100 40%,#ff4800 46.67%,#ff4e00 53.33%,#ff5500 60%,#ff5a00 66.67%,#ff6000 73.33%,#ff6400 80%,#ff6800 86.67%,#ff6b00 93.33%,#ff6d00 100%)"></i>
<i style="top:158px;background:linear-gradient(90deg,#ff0b00 0%,#ff1500 6.667%,#ff1f00 13.33%,#ff2800 20%,#ff3000 26.67%,#ff3800 33.33%,#ff3f00 40%,#ff4700 46.67%,#ff4d00 53.33%,#ff5300 60%,#ff5900 66.67%,#ff5f00 73.33%,#ff6300 80%,#ff6700 86.67%,#ff6a00 93.33%,#ff6d00 100%)"></i>
<i style="top:160px;background:linear-gradient(90deg,#ff0a00 0%,#ff1400 6.667%,#ff1e00 13.33%,#ff2600 20%,#ff2e00 26.67%,#ff3600 33.33%,#ff3e00 40%,#ff4500 46.67%,#ff4c00 53.33%,#ff5200 60%,#ff5800 66.67%,#ff5e00 73.33%,#ff6200 80%,#ff6600 86.67%,#ff6900 93.33%,#ff6c00 100%)"></i>
<i style="top:162px;background:linear-gradient(90deg,#ff0800 0%,#ff1200 6.667%,#ff1c00 13.33%,#ff2500 20%,#ff2d00 26.67%,#ff3500 33.33%,#ff3d00 40%,#ff4400 46.67%,#ff4b00 53.33%,#ff5100 60%,#ff5700 66.67%,#ff5d00 73.33%,#ff6100 80%,#ff6500 86.67%,#ff6800 93.33%,#ff6b00 100%)"></i>
<i style="top:164px;background:linear-gradient(90deg,#ff0700 0%,#ff1100 6.667%,#ff1b00 13.33%,#ff2300 20%,#ff2c00 26.67%,#ff3400 33.33%,#ff3c00 40%,#ff4300 46.67%,#ff4a00 53.33%,#ff5000 60%,#ff5600 66.67%,#ff5c00 73.33%,#ff6100 80%,#ff6400 86.67%,#ff6800 93.33%,#ff6b00 100%)"></i>
<i style="top:166px;background:linear-gradient(90deg,#ff0500 0%,#ff1000 6.667%,#ff1900 13.33%,#ff2200 20%,#ff2a00 26.67%,#ff3200 33.33%,#ff3a00 40%,#ff4200 46.67%,#ff4900 53.33%,#ff4f00 60%,#ff5500 66.67%,#ff5b00 73.33%,#ff6000 80%,#ff6400 86.67%,#ff6700 93.33%,#ff6a00 100%)"></i>
<i style="top:168px;background:linear-gradient(90deg,#ff0400 0%,#ff0e00 6.667%,#ff1800 13.33%,#ff2100 20%,#ff2900 26.67%,#ff3100 33.33%,#ff3900 40%,#ff4100 46.67%,#ff4800 53.33%,#ff4e00 60%,#ff5500 66.67%,#ff5a00 73.33%,#ff5f00 80%,#ff6300 86.67%,#ff6700 93.33%,#ff6a00 100%)"></i>
<i style="top:170px;background:linear-gradient(90deg,#ff0200 0%,#ff0d00 6.667%,#ff1600 13.33%,#ff1f00 20%,#ff2800 26.67%,#ff3000 33.33%,#ff3800 40%,#ff4000 46.67%,#ff4700 53.33%,#ff4e00 60%,#ff5400 66.67%,#ff5900 73.33%,#ff5e00 80%,#ff6200 86.67%,#ff6600 93.33%,#ff6900 100%)"></i>
<i style="top:172px;background:linear-gradient(90deg,#ff0100 0%,#ff0b00 6.667%,#ff1500 13.33%,#ff1e00 20%,#ff2700 26.67%,#ff2f00 33.33%,#ff3700 40%,#ff3f00 46.67%,#ff4600 53.33%,#ff4d00 60%,#ff5300 66.67%,#ff5900 73.33%,#ff5e00 80%,#ff6200 86.67%,#ff6500 93.33%,#ff6900 100%)"></i>
<i style="top:174px;background:linear-gradient(90deg,#ff0000 0%,#ff0a00 6.667%,#ff1400 13.33%,#ff1d00 20%,#ff2500 26.67%,#ff2e00 33.33%,#ff3600 40%,#ff3e00 46.67%,#ff4500 53.33%,#ff4c00 60%,#ff5200 66.67%,#ff5800 73.33%,#ff5d00 80%,#ff6100 86.67%,#ff6500 93.33%,#ff6800 100%)"></i>
<i style="top:176px;background:linear-gradient(90deg,#ff0000 0%,#ff0900 6.667%,#ff1300 13.33%,#ff1c00 20%,#ff2400 26.67%,#ff2d00 33.33%,#ff3500 40%,#ff3d00 46.67%,#ff4400 53.33%,#ff4b00 60%,#ff5100 66.67%,#ff5700 73.33%,#ff5c00 80%,#ff6100 86.67%,#ff6400 93.33%,#ff6800 100%)"></i>
<i style="top:178px;background:linear-gradient(90deg,#ff0000 0%,#ff0800 6.667%,#ff1100 13.33%,#ff1b00 20%,#ff2300 26.67%,#ff2c00 33.33%,#ff3400 40%,#ff3c00 46.67%,#ff4300 53.33%,#ff4a00 60%,#ff5100 66.67%,#ff5700 73.33%,#ff5c00 80%,#ff6000 86.67%,#ff6400 93.33%,#ff6800 100%)"></i>
<i style="top:180px;background:linear-gradient(90deg,#ff0000 0%,#ff0700 6.667%,#ff1000 13.33%,#ff1900 20%,#ff2200 26.67%,#ff2b00 33.33%,#ff3300 40%,#ff3b00 46.67%,#ff4300 53.33%,#ff4a00 60%,#ff5000 66.67%,#ff5600 73.33%,#ff5b00 80%,#ff6000 86.67%,#ff6400 93.33%,#ff6700 100%)"></i>
<i style="top:182px;background:linear-gradient(90deg,#ff0000 0%,#ff0500 6.667%,#ff0f00 13.33%,#ff1800 20%,#ff2100 26.67%,#ff2a00 33.33%,#ff3200 40%,#ff3a00 46.67%,#ff4200 53.33%,#ff4900 60%,#ff5000 66.67%,#ff5600 73.33%,#ff5b00 80%,#ff5f00 86.67%,#ff6300 93.33%,#ff6700 100%)"></i>
<i style="top:184px;background:linear-gradient(90deg,#ff0000 0%,#ff0400 6.667%,#ff0e00 13.33%,#ff1700 20%,#ff2000 26.67%,#ff2900 33.33%,#ff3100 40%,#ff3a00 46.67%,#ff4100 53.33%,#ff4800 60%,#ff4f00 66.67%,#ff5500 73.33%,#ff5a00 80%,#ff5f00 86.67%,#ff6300 93.33%,#ff6700 100%)"></i>
<i style="top:186px;background:linear-gradient(90deg,#ff0000 0%,#ff0300 6.667%,#ff0d00 13.33%,#ff1600 20%,#ff1f00 26.67%,#ff2800 33.33%,#ff3100 40%,#ff3900 46.67%,#ff4100 53.33%,#ff4800 60%,#ff4f00 66.67%,#ff5500 73.33%,#ff5a00 80%,#ff5f00 86.67%,#ff6300 93.33%,#ff6700 100%)"></i>
<i style="top:188px;background:linear-gradient(90deg,#ff0000 0%,#ff0200 6.667%,#ff0c00 13.33%,#ff1600 20%,#ff1f00 26.67%,#ff2700 33.33%,#ff3000 40%,#ff3800 46.67%,#ff4000 53.33%,#ff4700 60%,#ff4e00 66.67%,#ff5400 73.33%,#ff5a00 80%,#ff5e00 86.67%,#ff6300 93.33%,#ff6700 100%)"></i>
<i style="top:190px;background:linear-gradient(90deg,#ff0000 0%,#ff0100 6.667%,#ff0b00 13.33%,#ff1500 20%,#ff1e00 26.67%,#ff2700 33.33%,#ff2f00 40%,#ff3700 46.67%,#ff3f00 53.33%,#ff4700 60%,#ff4e00 66.67%,#ff5400 73.33%,#ff5900 80%,#ff5e00 86.67%,#ff6200 93.33%,#ff6600 100%)"></i>
<i style="top:192px;background:linear-gradient(90deg,#ff0000 0%,#ff0000 6.667%,#ff0a00 13.33%,#ff1400 20%,#ff1d00 26.67%,#ff2600 33.33%,#ff2f00 40%,#ff3700 46.67%,#ff3f00 53.33%,#ff4600 60%,#ff4d00 66.67%,#ff5300 73.33%,#ff5900 80%,#ff5e00 86.67%,#ff6200 93.33%,#ff6600 100%)"></i>
<i style="top:194px;background:linear-gradient(90deg,#ff0000 0%,#ff0000 6.667%,#ff0a00 13.33%,#ff1300 20%,#ff1c00 26.67%,#ff2500 33.33%,#ff2e00 40%,#ff3600 46.67%,#ff3e00 53.33%,#ff4600 60%,#ff4d00 66.67%,#ff5300 73.33%,#ff5900 80%,#ff5e00 86.67%,#ff6200 93.33%,#ff6600 100%)"></i>
<i style="top:196px;background:linear-gradient(90deg,#ff0000 0%,#ff0000 6.667%,#ff0900 13.33%,#ff1200 20%,#ff1c00 26.67%,#ff2400 33.33%,#ff2d00 40%,#ff3600 46.67%,#ff3e00 53.33%,#ff4500 60%,#ff4d00 66.67%,#ff5300 73.33%,#ff5900 80%,#ff5e00 86.67%,#ff6200 93.33%,#ff6600 100%)"></i>
<i style="top:198px;background:linear-gradient(90deg,#ff0000 0%,#ff0000 6.667%,#ff0800 13.33%,#ff1200 20%,#ff1b00 26.67%,#ff2400 33.33%,#ff2d00 40%,#ff3500 46.67%,#ff3d00 53.33%,#ff4500 60%,#ff4c00 66.67%,#ff5300 73.33%,#ff5800 80%,#ff5e00 86.67%,#ff6200 93.33%,#ff6700 100%)"></i>
<i style="top:200px;background:linear-gradient(90deg,#ff0000 0%,#ff0000 6.667%,#ff0700 13.33%,#ff1100 20%,#ff1a00 26.67%,#ff2300 33.33%,#ff2c00 40%,#ff3500 46.67%,#ff3d00 53.33%,#ff4500 60%,#ff4c00 66.67%,#ff5300 73.33%,#ff5800 80%,#ff5d00 86.67%,#ff6200 93.33%,#ff6700 100%)"></i>
<i style="top:202px;background:linear-gradient(90deg,#ff0000 0%,#ff0000 6.667%,#ff0700 13.33%,#ff1000 20%,#ff1a00 26.67%,#ff2300 33.33%,#ff2c00 40%,#ff3400 46.67%,#ff3d00 53.33%,#ff4400 60%,#ff4c00 66.67%,#ff5200 73.33%,#ff5800 80%,#ff5d00 86.67%,#ff6200 93.33%,#ff6700 100%)"></i>
<i style="top:204px;background:linear-gradient(90deg,#ff0000 0%,#ff0000 6.667%,#ff0600 13.33%,#ff1000 20%,#ff1900 26.67%,#ff2200 33.33%,#ff2b00 40%,#ff3400 46.67%,#ff3c00 53.33%,#ff4400 60%,#ff4c00 66.67%,#ff5200 73.33%,#ff5800 80%,#ff5e00 86.67%,#ff6200 93.33%,#ff6700 100%)"></i>
<i style="top:206px;background:linear-gradient(90deg,#ff0000 0%,#ff0000 6.667%,#ff0500 13.33%,#ff0f00 20%,#ff1900 26.67%,#ff2200 33.33%,#ff2b00 40%,#ff3400 46.67%,#ff3c00 53.33%,#ff4400 60%,#ff4b00 66.67%,#ff5200 73.33%,#ff5800 80%,#ff5e00 86.67%,#ff6200 93.33%,#ff6700 100%)"></i>
<i style="top:208px;background:linear-gradient(90deg,#ff0000 0%,#ff0000 6.667%,#ff0500 13.33%,#ff0f00 20%,#ff1800 26.67%,#ff2100 33.33%,#ff2b00 40%,#ff3300 46.67%,#ff3c00 53.33%,#ff4400 60%,#ff4b00 66.67%,#ff5200 73.33%,#ff5800 80%,#ff5e00 86.67%,#ff6300 93.33%,#ff6700 100%)"></i>
<i style="top:210px;background:linear-gradient(90deg,#ff0000 0%,#ff0000 6.667%,#ff0400 13.33%,#ff0e00 20%,#ff1800 26.67%,#ff2100 33.33%,#ff2a00 40%,#ff3300 46.67%,#ff3c00 53.33%,#ff4400 60%,#ff4b00 66.67%,#ff5200 73.33%,#ff5800 80%,#ff5e00 86.67%,#ff6300 93.33%,#ff6800 100%)"></i>
<i style="top:212px;background:linear-gradient(90deg,#ff0000 0%,#ff0000 6.667%,#ff0400 13.33%,#ff0e00 20%,#ff1700 26.67%,#ff2100 33.33%,#ff2a00 40%,#ff3300 46.67%,#ff3b00 53.33%,#ff4400 60%,#ff4b00 66.67%,#ff5200 73.33%,#ff5800 80%,#ff5e00 86.67%,#ff6300 93.33%,#ff6800 100%)"></i>
<i style="top:214px;background:linear-gradient(90deg,#ff0000 0%,#ff0000 6.667%,#ff0300 13.33%,#ff0d00 20%,#ff1700 26.67%,#ff2000 33.33%,#ff2a00 40%,#ff3300 46.67%,#ff3b00 53.33%,#ff4300 60%,#ff4b00 66.67%,#ff5200 73.33%,#ff5900 80%,#ff5e00 86.67%,#ff6300 93.33%,#ff6800 100%)"></i>
<i style="top:216px;background:linear-gradient(90deg,#ff0000 0%,#ff0000 6.667%,#ff0300 13.33%,#ff0d00 20%,#ff1700 26.67%,#ff2000 33.33%,#ff2900 40%,#ff3300 46.67%,#ff3b00 53.33%,#ff4300 60%,#ff4b00 66.67%,#ff5200 73.33%,#ff5900 80%,#ff5e00 86.67%,#ff6400 93.33%,#ff6900 100%)"></i>
<i style="top:218px;background:linear-gradient(90deg,#ff0000 0%,#ff0000 6.667%,#ff0200 13.33%,#ff0c00 20%,#ff1600 26.67%,#ff2000 33.33%,#ff2900 40%,#ff3200 46.67%,#ff3b00 53.33%,#ff4300 60%,#ff4b00 66.67%,#ff5200 73.33%,#ff5900 80%,#ff5f00 86.67%,#ff6400 93.33%,#ff6900 100%)"></i>
<i style="top:220px;background:linear-gradient(90deg,#ff0000 0%,#ff0000 6.667%,#ff0200 13.33%,#ff0c00 20%,#ff1600 26.67%,#ff2000 33.33%,#ff2900 40%,#ff3200 46.67%,#ff3b00 53.33%,#ff4300 60%,#ff4b00 66.67%,#ff5300 73.33%,#ff5900 80%,#ff5f00 86.67%,#ff6400 93.33%,#ff6a00 100%)"></i>
<i style="top:222px;background:linear-gradient(90deg,#ff0000 0%,#ff0000 6.667%,#ff0100 13.33%,#ff0c00 20%,#ff1600 26.67%,#ff1f00 33.33%,#ff2900 40%,#ff3200 46.67%,#ff3b00 53.33%,#ff4300 60%,#ff4b00 66.67%,#ff5300 73.33%,#ff5900 80%,#ff5f00 86.67%,#ff6500 93.33%,#ff6a00 100%)"></i>
<i style="top:224px;background:linear-gradient(90deg,#ff0000 0%,#ff0000 6.667%,#ff0100 13.33%,#ff0b00 20%,#ff1500 26.67%,#ff1f00 33.33%,#ff2900 40%,#ff3200 46.67%,#ff3b00 53.33%,#ff4300 60%,#ff4b00 66.67%,#ff5300 73.33%,#ff5a00 80%,#ff6000 86.67%,#ff6500 93.33%,#ff6b00 100%)"></i>
<i style="top:226px;background:linear-gradient(90deg,#ff0000 0%,#ff0000 6.667%,#ff0100 13.33%,#ff0b00 20%,#ff1500 26.67%,#ff1f00 33.33%,#ff2900 40%,#ff3200 46.67%,#ff3b00 53.33%,#ff4400 60%,#ff4c00 66.67%,#ff5300 73.33%,#ff5a00 80%,#ff6000 86.67%,#ff6600 93.33%,#ff6b00 100%)"></i>
<i style="top:228px;background:linear-gradient(90deg,#ff0000 0%,#ff0000 6.667%,#ff0100 13.33%,#ff0b00 20%,#ff1500 26.67%,#ff1f00 33.33%,#ff2900 40%,#ff3200 46.67%,#ff3b00 53.33%,#ff4400 60%,#ff4c00 66.67%,#ff5300 73.33%,#ff5a00 80%,#ff6100 86.67%,#ff6600 93.33%,#ff6c00 100%)"></i>
<i style="top:230px;background:linear-gradient(90deg,#ff0000 0%,#ff0000 6.667%,#ff0000 13.33%,#ff0b00 20%,#ff1500 26.67%,#ff1f00 33.33%,#ff2900 40%,#ff3200 46.67%,#ff3b00 53.33%,#ff4400 60%,#ff4c00 66.67%,#ff5400 73.33%,#ff5b00 80%,#ff6100 86.67%,#ff6700 93.33%,#ff6c00 100%)"></i>
<i style="top:232px;background:linear-gradient(90deg,#ff0000 0%,#ff0000 6.667%,#ff0000 13.33%,#ff0b00 20%,#ff1500 26.67%,#ff1f00 33.33%,#ff2900 40%,#ff3200 46.67%,#ff3b00 53.33%,#ff4400 60%,#ff4c00 66.67%,#ff5400 73.33%,#ff5b00 80%,#ff6200 86.67%,#ff6700 93.33%,#ff6d00 100%)"></i>
<i style="top:234px;background:linear-gradient(90deg,#ff0000 0%,#ff0000 6.667%,#ff0000 13.33%,#ff0a00 20%,#ff1500 26.67%,#ff1f00 33.33%,#ff2900 40%,#ff3200 46.67%,#ff3b00 53.33%,#ff4400 60%,#ff4c00 66.67%,#ff5400 73.33%,#ff5c00 80%,#ff6200 86.67%,#ff6800 93.33%,#ff6e00 100%)"></i>
<i style="top:236px;background:linear-gradient(90deg,#ff0000 0%,#ff0000 6.667%,#ff0000 13.33%,#ff0a00 20%,#ff1500 26.67%,#ff1f00 33.33%,#ff2900 40%,#ff3200 46.67%,#ff3b00 53.33%,#ff4400 60%,#ff4d00 66.67%,#ff5500 73.33%,#ff5c00 80%,#ff6300 86.67%,#ff6900 93.33%,#ff6e00 100%)"></i>
<i style="top:238px;background:linear-gradient(90deg,#ff0000 0%,#ff0000 6.667%,#ff0000 13.33%,#ff0a00 20%,#ff1500 26.67%,#ff1f00 33.33%,#ff2900 40%,#ff3200 46.67%,#ff3c00 53.33%,#ff4500 60%,#ff4d00 66.67%,#ff5500 73.33%,#ff5d00 80%,#ff6300 86.67%,#ff6900 93.33%,#ff6f00 100%)"></i>
</div>
<div class="fld" style="left:62px;top:663px;width:239px;height:238px">
<i style="top:0px;background:linear-gradient(90deg,#aeff00 0%,#b8ff00 6.667%,#c3ff00 13.33%,#cfff00 20%,#dcff00 26.67%,#ebff00 33.33%,#fbff00 40%,#fff200 46.67%,#ffe000 53.33%,#ffcd00 60%,#ffb900 66.67%,#ffa500 73.33%,#ff8f00 80%,#ff7a00 86.67%,#ff6300 93.33%,#ff4b00 100%)"></i>
<i style="top:2px;background:linear-gradient(90deg,#afff00 0%,#b9ff00 6.667%,#c3ff00 13.33%,#cfff00 20%,#ddff00 26.67%,#ebff00 33.33%,#fbff00 40%,#fff100 46.67%,#ffdf00 53.33%,#ffcc00 60%,#ffb900 66.67%,#ffa400 73.33%,#ff8f00 80%,#ff7900 86.67%,#ff6300 93.33%,#ff4b00 100%)"></i>
<i style="top:4px;background:linear-gradient(90deg,#b0ff00 0%,#b9ff00 6.667%,#c4ff00 13.33%,#d0ff00 20%,#ddff00 26.67%,#ecff00 33.33%,#fcff00 40%,#fff100 46.67%,#ffdf00 53.33%,#ffcc00 60%,#ffb800 66.67%,#ffa400 73.33%,#ff8f00 80%,#ff7900 86.67%,#ff6300 93.33%,#ff4b00 100%)"></i>
<i style="top:6px;background:linear-gradient(90deg,#b0ff00 0%,#baff00 6.667%,#c5ff00 13.33%,#d1ff00 20%,#deff00 26.67%,#ecff00 33.33%,#fcff00 40%,#fff100 46.67%,#ffdf00 53.33%,#ffcc00 60%,#ffb800 66.67%,#ffa400 73.33%,#ff8f00 80%,#ff7900 86.67%,#ff6300 93.33%,#ff4b00 100%)"></i>
<i style="top:8px;background:linear-gradient(90deg,#b1ff00 0%,#bbff00 6.667%,#c5ff00 13.33%,#d1ff00 20%,#deff00 26.67%,#edff00 33.33%,#fdff00 40%,#fff000 46.67%,#ffde00 53.33%,#ffcb00 60%,#ffb800 66.67%,#ffa300 73.33%,#ff8e00 80%,#ff7900 86.67%,#ff6200 93.33%,#ff4b00 100%)"></i>
<i style="top:10px;background:linear-gradient(90deg,#b2ff00 0%,#bcff00 6.667%,#c6ff00 13.33%,#d2ff00 20%,#dfff00 26.67%,#edff00 33.33%,#fdff00 40%,#fff000 46.67%,#ffde00 53.33%,#ffcb00 60%,#ffb800 66.67%,#ffa300 73.33%,#ff8e00 80%,#ff7900 86.67%,#ff6200 93.33%,#ff4b00 100%)"></i>
<i style="top:12px;background:linear-gradient(90deg,#b3ff00 0%,#bcff00 6.667%,#c7ff00 13.33%,#d2ff00 20%,#dfff00 26.67%,#eeff00 33.33%,#feff00 40%,#ffef00 46.67%,#ffde00 53.33%,#ffcb00 60%,#ffb700 66.67%,#ffa300 73.33%,#ff8e00 80%,#ff7800 86.67%,#ff6200 93.33%,#ff4b00 100%)"></i>
<i style="top:14px;background:linear-gradient(90deg,#b4ff00 0%,#bdff00 6.667%,#c8ff00 13.33%,#d3ff00 20%,#e0ff00 26.67%,#eeff00 33.33%,#feff00 40%,#ffef00 46.67%,#ffdd00 53.33%,#ffca00 60%,#ffb700 66.67%,#ffa300 73.33%,#ff8e00 80%,#ff7800 86.67%,#ff6200 93.33%,#ff4b00 100%)"></i>
<i style="top:16px;background:linear-gradient(90deg,#b4ff00 0%,#beff00 6.667%,#c8ff00 13.33%,#d4ff00 20%,#e1ff00 26.67%,#efff00 33.33%,#ffff00 40%,#ffef00 46.67%,#ffdd00 53.33%,#ffca00 60%,#ffb700 66.67%,#ffa200 73.33%,#ff8d00 80%,#ff7800 86.67%,#ff6200 93.33%,#ff4a00 100%)"></i>
<i style="top:18px;background:linear-gradient(90deg,#b5ff00 0%,#bfff00 6.667%,#c9ff00 13.33%,#d4ff00 20%,#e1ff00 26.67%,#f0ff00 33.33%,#ffff00 40%,#ffee00 46.67%,#ffdc00 53.33%,#ffca00 60%,#ffb600 66.67%,#ffa200 73.33%,#ff8d00 80%,#ff7800 86.67%,#ff6200 93.33%,#ff4a00 100%)"></i>
<i style="top:20px;background:linear-gradient(90deg,#b6ff00 0%,#bfff00 6.667%,#caff00 13.33%,#d5ff00 20%,#e2ff00 26.67%,#f0ff00 33.33%,#fffe00 40%,#ffee00 46.67%,#ffdc00 53.33%,#ffc900 60%,#ffb600 66.67%,#ffa200 73.33%,#ff8d00 80%,#ff7800 86.67%,#ff6100 93.33%,#ff4a00 100%)"></i>
<i style="top:22px;background:linear-gradient(90deg,#b7ff00 0%,#c0ff00 6.667%,#caff00 13.33%,#d6ff00 20%,#e2ff00 26.67%,#f1ff00 33.33%,#fffe00 40%,#ffed00 46.67%,#ffdc00 53.33%,#ffc900 60%,#ffb600 66.67%,#ffa100 73.33%,#ff8d00 80%,#ff7700 86.67%,#ff6100 93.33%,#ff4a00 100%)"></i>
<i style="top:24px;background:linear-gradient(90deg,#b8ff00 0%,#c1ff00 6.667%,#cbff00 13.33%,#d6ff00 20%,#e3ff00 26.67%,#f1ff00 33.33%,#fffd00 40%,#ffed00 46.67%,#ffdb00 53.33%,#ffc900 60%,#ffb500 66.67%,#ffa100 73.33%,#ff8c00 80%,#ff7700 86.67%,#ff6100 93.33%,#ff4a00 100%)"></i>
<i style="top:26px;background:linear-gradient(90deg,#b9ff00 0%,#c2ff00 6.667%,#ccff00 13.33%,#d7ff00 20%,#e4ff00 26.67%,#f2ff00 33.33%,#fffd00 40%,#ffec00 46.67%,#ffdb00 53.33%,#ffc800 60%,#ffb500 66.67%,#ffa100 73.33%,#ff8c00 80%,#ff7700 86.67%,#ff6100 93.33%,#ff4a00 100%)"></i>
<i style="top:28px;background:linear-gradient(90deg,#b9ff00 0%,#c3ff00 6.667%,#cdff00 13.33%,#d8ff00 20%,#e4ff00 26.67%,#f2ff00 33.33%,#fffc00 40%,#ffec00 46.67%,#ffda00 53.33%,#ffc800 60%,#ffb500 66.67%,#ffa000 73.33%,#ff8c00 80%,#ff7700 86.67%,#ff6100 93.33%,#ff4900 100%)"></i>
<i style="top:30px;background:linear-gradient(90deg,#baff00 0%,#c3ff00 6.667%,#cdff00 13.33%,#d9ff00 20%,#e5ff00 26.67%,#f3ff00 33.33%,#fffc00 40%,#ffeb00 46.67%,#ffda00 53.33%,#ffc700 60%,#ffb400 66.67%,#ffa000 73.33%,#ff8c00 80%,#ff7600 86.67%,#ff6000 93.33%,#ff4900 100%)"></i>
<i style="top:32px;background:linear-gradient(90deg,#bbff00 0%,#c4ff00 6.667%,#ceff00 13.33%,#d9ff00 20%,#e6ff00 26.67%,#f4ff00 33.33%,#fffb00 40%,#ffeb00 46.67%,#ffd900 53.33%,#ffc700 60%,#ffb400 66.67%,#ffa000 73.33%,#ff8b00 80%,#ff7600 86.67%,#ff6000 93.33%,#ff4900 100%)"></i>
<i style="top:34px;background:linear-gradient(90deg,#bcff00 0%,#c5ff00 6.667%,#cfff00 13.33%,#daff00 20%,#e6ff00 26.67%,#f4ff00 33.33%,#fffb00 40%,#ffea00 46.67%,#ffd900 53.33%,#ffc700 60%,#ffb300 66.67%,#ff9f00 73.33%,#ff8b00 80%,#ff7600 86.67%,#ff6000 93.33%,#ff4900 100%)"></i>
<i style="top:36px;background:linear-gradient(90deg,#bdff00 0%,#c6ff00 6.667%,#d0ff00 13.33%,#dbff00 20%,#e7ff00 26.67%,#f5ff00 33.33%,#fffa00 40%,#ffea00 46.67%,#ffd800 53.33%,#ffc600 60%,#ffb300 66.67%,#ff9f00 73.33%,#ff8b00 80%,#ff7500 86.67%,#ff6000 93.33%,#ff4900 100%)"></i>
<i style="top:38px;background:linear-gradient(90deg,#beff00 0%,#c7ff00 6.667%,#d1ff00 13.33%,#dbff00 20%,#e8ff00 26.67%,#f5ff00 33.33%,#fffa00 40%,#ffe900 46.67%,#ffd800 53.33%,#ffc600 60%,#ffb300 66.67%,#ff9f00 73.33%,#ff8a00 80%,#ff7500 86.67%,#ff5f00 93.33%,#ff4800 100%)"></i>
<i style="top:40px;background:linear-gradient(90deg,#bfff00 0%,#c8ff00 6.667%,#d1ff00 13.33%,#dcff00 20%,#e8ff00 26.67%,#f6ff00 33.33%,#fff900 40%,#ffe900 46.67%,#ffd700 53.33%,#ffc500 60%,#ffb200 66.67%,#ff9e00 73.33%,#ff8a00 80%,#ff7500 86.67%,#ff5f00 93.33%,#ff4800 100%)"></i>
<i style="top:42px;background:linear-gradient(90deg,#c0ff00 0%,#c8ff00 6.667%,#d2ff00 13.33%,#ddff00 20%,#e9ff00 26.67%,#f7ff00 33.33%,#fff800 40%,#ffe800 46.67%,#ffd700 53.33%,#ffc500 60%,#ffb200 66.67%,#ff9e00 73.33%,#ff8a00 80%,#ff7500 86.67%,#ff5f00 93.33%,#ff4800 100%)"></i>
<i style="top:44px;background:linear-gradient(90deg,#c1ff00 0%,#c9ff00 6.667%,#d3ff00 13.33%,#deff00 20%,#eaff00 26.67%,#f7ff00 33.33%,#fff800 40%,#ffe800 46.67%,#ffd600 53.33%,#ffc400 60%,#ffb100 66.67%,#ff9e00 73.33%,#ff8900 80%,#ff7400 86.67%,#ff5f00 93.33%,#ff4800 100%)"></i>
<i style="top:46px;background:linear-gradient(90deg,#c1ff00 0%,#caff00 6.667%,#d4ff00 13.33%,#dfff00 20%,#ebff00 26.67%,#f8ff00 33.33%,#fff700 40%,#ffe700 46.67%,#ffd600 53.33%,#ffc400 60%,#ffb100 66.67%,#ff9d00 73.33%,#ff8900 80%,#ff7400 86.67%,#ff5e00 93.33%,#ff4800 100%)"></i>
<i style="top:48px;background:linear-gradient(90deg,#c2ff00 0%,#cbff00 6.667%,#d5ff00 13.33%,#dfff00 20%,#ebff00 26.67%,#f9ff00 33.33%,#fff700 40%,#ffe700 46.67%,#ffd500 53.33%,#ffc300 60%,#ffb000 66.67%,#ff9d00 73.33%,#ff8900 80%,#ff7400 86.67%,#ff5e00 93.33%,#ff4700 100%)"></i>
<i style="top:50px;background:linear-gradient(90deg,#c3ff00 0%,#ccff00 6.667%,#d6ff00 13.33%,#e0ff00 20%,#ecff00 26.67%,#f9ff00 33.33%,#fff600 40%,#ffe600 46.67%,#ffd500 53.33%,#ffc300 60%,#ffb000 66.67%,#ff9c00 73.33%,#ff8800 80%,#ff7300 86.67%,#ff5e00 93.33%,#ff4700 100%)"></i>
<i style="top:52px;background:linear-gradient(90deg,#c4ff00 0%,#cdff00 6.667%,#d6ff00 13.33%,#e1ff00 20%,#edff00 26.67%,#faff00 33.33%,#fff500 40%,#ffe500 46.67%,#ffd400 53.33%,#ffc200 60%,#ffaf00 66.67%,#ff9c00 73.33%,#ff8800 80%,#ff7300 86.67%,#ff5d00 93.33%,#ff4700 100%)"></i>
<i style="top:54px;background:linear-gradient(90deg,#c5ff00 0%,#ceff00 6.667%,#d7ff00 13.33%,#e2ff00 20%,#eeff00 26.67%,#fbff00 33.33%,#fff500 40%,#ffe500 46.67%,#ffd400 53.33%,#ffc200 60%,#ffaf00 66.67%,#ff9c00 73.33%,#ff8700 80%,#ff7300 86.67%,#ff5d00 93.33%,#ff4700 100%)"></i>
<i style="top:56px;background:linear-gradient(90deg,#c6ff00 0%,#cfff00 6.667%,#d8ff00 13.33%,#e3ff00 20%,#eeff00 26.67%,#fbff00 33.33%,#fff400 40%,#ffe400 46.67%,#ffd300 53.33%,#ffc100 60%,#ffaf00 66.67%,#ff9b00 73.33%,#ff8700 80%,#ff7200 86.67%,#ff5d00 93.33%,#ff4600 100%)"></i>
<i style="top:58px;background:linear-gradient(90deg,#c7ff00 0%,#cfff00 6.667%,#d9ff00 13.33%,#e3ff00 20%,#efff00 26.67%,#fcff00 33.33%,#fff300 40%,#ffe400 46.67%,#ffd300 53.33%,#ffc100 60%,#ffae00 66.67%,#ff9b00 73.33%,#ff8700 80%,#ff7200 86.67%,#ff5d00 93.33%,#ff4600 100%)"></i>
<i style="top:60px;background:linear-gradient(90deg,#c8ff00 0%,#d0ff00 6.667%,#daff00 13.33%,#e4ff00 20%,#f0ff00 26.67%,#fdff00 33.33%,#fff300 40%,#ffe300 46.67%,#ffd200 53.33%,#ffc000 60%,#ffae00 66.67%,#ff9a00 73.33%,#ff8600 80%,#ff7200 86.67%,#ff5c00 93.33%,#ff4600 100%)"></i>
<i style="top:62px;background:linear-gradient(90deg,#c9ff00 0%,#d1ff00 6.667%,#dbff00 13.33%,#e5ff00 20%,#f1ff00 26.67%,#feff00 33.33%,#fff200 40%,#ffe300 46.67%,#ffd200 53.33%,#ffc000 60%,#ffad00 66.67%,#ff9a00 73.33%,#ff8600 80%,#ff7100 86.67%,#ff5c00 93.33%,#ff4600 100%)"></i>
<i style="top:64px;background:linear-gradient(90deg,#caff00 0%,#d2ff00 6.667%,#dcff00 13.33%,#e6ff00 20%,#f1ff00 26.67%,#feff00 33.33%,#fff200 40%,#ffe200 46.67%,#ffd100 53.33%,#ffbf00 60%,#ffad00 66.67%,#ff9900 73.33%,#ff8600 80%,#ff7100 86.67%,#ff5c00 93.33%,#ff4600 100%)"></i>
<i style="top:66px;background:linear-gradient(90deg,#cbff00 0%,#d3ff00 6.667%,#dcff00 13.33%,#e7ff00 20%,#f2ff00 26.67%,#ffff00 33.33%,#fff100 40%,#ffe100 46.67%,#ffd100 53.33%,#ffbf00 60%,#ffac00 66.67%,#ff9900 73.33%,#ff8500 80%,#ff7100 86.67%,#ff5c00 93.33%,#ff4500 100%)"></i>
<i style="top:68px;background:linear-gradient(90deg,#cbff00 0%,#d4ff00 6.667%,#ddff00 13.33%,#e7ff00 20%,#f3ff00 26.67%,#fffe00 33.33%,#fff000 40%,#ffe100 46.67%,#ffd000 53.33%,#ffbe00 60%,#ffac00 66.67%,#ff9900 73.33%,#ff8500 80%,#ff7100 86.67%,#ff5b00 93.33%,#ff4500 100%)"></i>
<i style="top:70px;background:linear-gradient(90deg,#ccff00 0%,#d5ff00 6.667%,#deff00 13.33%,#e8ff00 20%,#f4ff00 26.67%,#fffe00 33.33%,#fff000 40%,#ffe000 46.67%,#ffcf00 53.33%,#ffbe00 60%,#ffab00 66.67%,#ff9800 73.33%,#ff8500 80%,#ff7000 86.67%,#ff5b00 93.33%,#ff4500 100%)"></i>
<i style="top:72px;background:linear-gradient(90deg,#cdff00 0%,#d6ff00 6.667%,#dfff00 13.33%,#e9ff00 20%,#f4ff00 26.67%,#fffd00 33.33%,#ffef00 40%,#ffdf00 46.67%,#ffcf00 53.33%,#ffbd00 60%,#ffab00 66.67%,#ff9800 73.33%,#ff8400 80%,#ff7000 86.67%,#ff5b00 93.33%,#ff4500 100%)"></i>
<i style="top:74px;background:linear-gradient(90deg,#ceff00 0%,#d7ff00 6.667%,#e0ff00 13.33%,#eaff00 20%,#f5ff00 26.67%,#fffc00 33.33%,#ffee00 40%,#ffdf00 46.67%,#ffce00 53.33%,#ffbd00 60%,#ffaa00 66.67%,#ff9700 73.33%,#ff8400 80%,#ff7000 86.67%,#ff5a00 93.33%,#ff4400 100%)"></i>
<i style="top:76px;background:linear-gradient(90deg,#cfff00 0%,#d7ff00 6.667%,#e1ff00 13.33%,#ebff00 20%,#f6ff00 26.67%,#fffb00 33.33%,#ffee00 40%,#ffde00 46.67%,#ffce00 53.33%,#ffbc00 60%,#ffaa00 66.67%,#ff9700 73.33%,#ff8400 80%,#ff6f00 86.67%,#ff5a00 93.33%,#ff4400 100%)"></i>
<i style="top:78px;background:linear-gradient(90deg,#d0ff00 0%,#d8ff00 6.667%,#e1ff00 13.33%,#ebff00 20%,#f7ff00 26.67%,#fffb00 33.33%,#ffed00 40%,#ffde00 46.67%,#ffcd00 53.33%,#ffbc00 60%,#ffaa00 66.67%,#ff9700 73.33%,#ff8300 80%,#ff6f00 86.67%,#ff5a00 93.33%,#ff4400 100%)"></i>
<i style="top:80px;background:linear-gradient(90deg,#d1ff00 0%,#d9ff00 6.667%,#e2ff00 13.33%,#ecff00 20%,#f7ff00 26.67%,#fffa00 33.33%,#ffec00 40%,#ffdd00 46.67%,#ffcd00 53.33%,#ffbb00 60%,#ffa900 66.67%,#ff9600 73.33%,#ff8300 80%,#ff6f00 86.67%,#ff5a00 93.33%,#ff4400 100%)"></i>
<i style="top:82px;background:linear-gradient(90deg,#d2ff00 0%,#daff00 6.667%,#e3ff00 13.33%,#edff00 20%,#f8ff00 26.67%,#fff900 33.33%,#ffec00 40%,#ffdc00 46.67%,#ffcc00 53.33%,#ffbb00 60%,#ffa900 66.67%,#ff9600 73.33%,#ff8200 80%,#ff6e00 86.67%,#ff5900 93.33%,#ff4300 100%)"></i>
<i style="top:84px;background:linear-gradient(90deg,#d3ff00 0%,#dbff00 6.667%,#e4ff00 13.33%,#eeff00 20%,#f9ff00 26.67%,#fff900 33.33%,#ffeb00 40%,#ffdc00 46.67%,#ffcc00 53.33%,#ffba00 60%,#ffa800 66.67%,#ff9600 73.33%,#ff8200 80%,#ff6e00 86.67%,#ff5900 93.33%,#ff4300 100%)"></i>
<i style="top:86px;background:linear-gradient(90deg,#d4ff00 0%,#dcff00 6.667%,#e5ff00 13.33%,#efff00 20%,#faff00 26.67%,#fff800 33.33%,#ffea00 40%,#ffdb00 46.67%,#ffcb00 53.33%,#ffba00 60%,#ffa800 66.67%,#ff9500 73.33%,#ff8200 80%,#ff6e00 86.67%,#ff5900 93.33%,#ff4300 100%)"></i>
<i style="top:88px;background:linear-gradient(90deg,#d5ff00 0%,#ddff00 6.667%,#e6ff00 13.33%,#efff00 20%,#faff00 26.67%,#fff700 33.33%,#ffea00 40%,#ffdb00 46.67%,#ffca00 53.33%,#ffb900 60%,#ffa700 66.67%,#ff9500 73.33%,#ff8100 80%,#ff6d00 86.67%,#ff5900 93.33%,#ff4300 100%)"></i>
<i style="top:90px;background:linear-gradient(90deg,#d6ff00 0%,#deff00 6.667%,#e6ff00 13.33%,#f0ff00 20%,#fbff00 26.67%,#fff600 33.33%,#ffe900 40%,#ffda00 46.67%,#ffca00 53.33%,#ffb900 60%,#ffa700 66.67%,#ff9400 73.33%,#ff8100 80%,#ff6d00 86.67%,#ff5800 93.33%,#ff4200 100%)"></i>
<i style="top:92px;background:linear-gradient(90deg,#d7ff00 0%,#deff00 6.667%,#e7ff00 13.33%,#f1ff00 20%,#fcff00 26.67%,#fff600 33.33%,#ffe800 40%,#ffd900 46.67%,#ffc900 53.33%,#ffb800 60%,#ffa600 66.67%,#ff9400 73.33%,#ff8100 80%,#ff6d00 86.67%,#ff5800 93.33%,#ff4200 100%)"></i>
<i style="top:94px;background:linear-gradient(90deg,#d7ff00 0%,#dfff00 6.667%,#e8ff00 13.33%,#f2ff00 20%,#fdff00 26.67%,#fff500 33.33%,#ffe700 40%,#ffd900 46.67%,#ffc900 53.33%,#ffb800 60%,#ffa600 66.67%,#ff9400 73.33%,#ff8000 80%,#ff6d00 86.67%,#ff5800 93.33%,#ff4200 100%)"></i>
<i style="top:96px;background:linear-gradient(90deg,#d8ff00 0%,#e0ff00 6.667%,#e9ff00 13.33%,#f3ff00 20%,#fdff00 26.67%,#fff400 33.33%,#ffe700 40%,#ffd800 46.67%,#ffc800 53.33%,#ffb700 60%,#ffa600 66.67%,#ff9300 73.33%,#ff8000 80%,#ff6c00 86.67%,#ff5800 93.33%,#ff4200 100%)"></i>
<i style="top:98px;background:linear-gradient(90deg,#d9ff00 0%,#e1ff00 6.667%,#eaff00 13.33%,#f3ff00 20%,#feff00 26.67%,#fff400 33.33%,#ffe600 40%,#ffd700 46.67%,#ffc800 53.33%,#ffb700 60%,#ffa500 66.67%,#ff9300 73.33%,#ff8000 80%,#ff6c00 86.67%,#ff5700 93.33%,#ff4100 100%)"></i>
<i style="top:100px;background:linear-gradient(90deg,#daff00 0%,#e2ff00 6.667%,#ebff00 13.33%,#f4ff00 20%,#ffff00 26.67%,#fff300 33.33%,#ffe500 40%,#ffd700 46.67%,#ffc700 53.33%,#ffb600 60%,#ffa500 66.67%,#ff9200 73.33%,#ff7f00 80%,#ff6c00 86.67%,#ff5700 93.33%,#ff4100 100%)"></i>
<i style="top:102px;background:linear-gradient(90deg,#dbff00 0%,#e3ff00 6.667%,#ebff00 13.33%,#f5ff00 20%,#fffe00 26.67%,#fff200 33.33%,#ffe500 40%,#ffd600 46.67%,#ffc600 53.33%,#ffb600 60%,#ffa400 66.67%,#ff9200 73.33%,#ff7f00 80%,#ff6b00 86.67%,#ff5700 93.33%,#ff4100 100%)"></i>
<i style="top:104px;background:linear-gradient(90deg,#dcff00 0%,#e4ff00 6.667%,#ecff00 13.33%,#f6ff00 20%,#fffe00 26.67%,#fff100 33.33%,#ffe400 40%,#ffd600 46.67%,#ffc600 53.33%,#ffb500 60%,#ffa400 66.67%,#ff9200 73.33%,#ff7f00 80%,#ff6b00 86.67%,#ff5600 93.33%,#ff4100 100%)"></i>
<i style="top:106px;background:linear-gradient(90deg,#ddff00 0%,#e5ff00 6.667%,#edff00 13.33%,#f6ff00 20%,#fffd00 26.67%,#fff100 33.33%,#ffe300 40%,#ffd500 46.67%,#ffc500 53.33%,#ffb500 60%,#ffa300 66.67%,#ff9100 73.33%,#ff7e00 80%,#ff6b00 86.67%,#ff5600 93.33%,#ff4000 100%)"></i>
<i style="top:108px;background:linear-gradient(90deg,#deff00 0%,#e5ff00 6.667%,#eeff00 13.33%,#f7ff00 20%,#fffc00 26.67%,#fff000 33.33%,#ffe300 40%,#ffd400 46.67%,#ffc500 53.33%,#ffb400 60%,#ffa300 66.67%,#ff9100 73.33%,#ff7e00 80%,#ff6a00 86.67%,#ff5600 93.33%,#ff4000 100%)"></i>
<i style="top:110px;background:linear-gradient(90deg,#dfff00 0%,#e6ff00 6.667%,#efff00 13.33%,#f8ff00 20%,#fffb00 26.67%,#ffef00 33.33%,#ffe200 40%,#ffd400 46.67%,#ffc400 53.33%,#ffb400 60%,#ffa200 66.67%,#ff9000 73.33%,#ff7d00 80%,#ff6a00 86.67%,#ff5500 93.33%,#ff4000 100%)"></i>
<i style="top:112px;background:linear-gradient(90deg,#e0ff00 0%,#e7ff00 6.667%,#efff00 13.33%,#f9ff00 20%,#fffb00 26.67%,#ffef00 33.33%,#ffe100 40%,#ffd300 46.67%,#ffc400 53.33%,#ffb300 60%,#ffa200 66.67%,#ff9000 73.33%,#ff7d00 80%,#ff6900 86.67%,#ff5500 93.33%,#ff3f00 100%)"></i>
<i style="top:114px;background:linear-gradient(90deg,#e1ff00 0%,#e8ff00 6.667%,#f0ff00 13.33%,#faff00 20%,#fffa00 26.67%,#ffee00 33.33%,#ffe100 40%,#ffd200 46.67%,#ffc300 53.33%,#ffb300 60%,#ffa100 66.67%,#ff8f00 73.33%,#ff7d00 80%,#ff6900 86.67%,#ff5500 93.33%,#ff3f00 100%)"></i>
<i style="top:116px;background:linear-gradient(90deg,#e2ff00 0%,#e9ff00 6.667%,#f1ff00 13.33%,#faff00 20%,#fff900 26.67%,#ffed00 33.33%,#ffe000 40%,#ffd200 46.67%,#ffc200 53.33%,#ffb200 60%,#ffa100 66.67%,#ff8f00 73.33%,#ff7c00 80%,#ff6900 86.67%,#ff5400 93.33%,#ff3f00 100%)"></i>
<i style="top:118px;background:linear-gradient(90deg,#e3ff00 0%,#eaff00 6.667%,#f2ff00 13.33%,#fbff00 20%,#fff800 26.67%,#ffec00 33.33%,#ffdf00 40%,#ffd100 46.67%,#ffc200 53.33%,#ffb100 60%,#ffa000 66.67%,#ff8e00 73.33%,#ff7c00 80%,#ff6800 86.67%,#ff5400 93.33%,#ff3e00 100%)"></i>
<i style="top:120px;background:linear-gradient(90deg,#e4ff00 0%,#ebff00 6.667%,#f3ff00 13.33%,#fcff00 20%,#fff700 26.67%,#ffec00 33.33%,#ffdf00 40%,#ffd000 46.67%,#ffc100 53.33%,#ffb100 60%,#ffa000 66.67%,#ff8e00 73.33%,#ff7b00 80%,#ff6800 86.67%,#ff5400 93.33%,#ff3e00 100%)"></i>
<i style="top:122px;background:linear-gradient(90deg,#e5ff00 0%,#ecff00 6.667%,#f4ff00 13.33%,#fdff00 20%,#fff700 26.67%,#ffeb00 33.33%,#ffde00 40%,#ffd000 46.67%,#ffc000 53.33%,#ffb000 60%,#ff9f00 66.67%,#ff8d00 73.33%,#ff7b00 80%,#ff6700 86.67%,#ff5300 93.33%,#ff3e00 100%)"></i>
<i style="top:124px;background:linear-gradient(90deg,#e6ff00 0%,#edff00 6.667%,#f5ff00 13.33%,#feff00 20%,#fff600 26.67%,#ffea00 33.33%,#ffdd00 40%,#ffcf00 46.67%,#ffc000 53.33%,#ffb000 60%,#ff9f00 66.67%,#ff8d00 73.33%,#ff7a00 80%,#ff6700 86.67%,#ff5300 93.33%,#ff3d00 100%)"></i>
<i style="top:126px;background:linear-gradient(90deg,#e7ff00 0%,#eeff00 6.667%,#f5ff00 13.33%,#feff00 20%,#fff500 26.67%,#ffe900 33.33%,#ffdc00 40%,#ffce00 46.67%,#ffbf00 53.33%,#ffaf00 60%,#ff9e00 66.67%,#ff8c00 73.33%,#ff7a00 80%,#ff6700 86.67%,#ff5200 93.33%,#ff3d00 100%)"></i>
<i style="top:128px;background:linear-gradient(90deg,#e8ff00 0%,#eeff00 6.667%,#f6ff00 13.33%,#ffff00 20%,#fff400 26.67%,#ffe900 33.33%,#ffdc00 40%,#ffce00 46.67%,#ffbe00 53.33%,#ffae00 60%,#ff9d00 66.67%,#ff8c00 73.33%,#ff7900 80%,#ff6600 86.67%,#ff5200 93.33%,#ff3d00 100%)"></i>
<i style="top:130px;background:linear-gradient(90deg,#e9ff00 0%,#efff00 6.667%,#f7ff00 13.33%,#fffe00 20%,#fff400 26.67%,#ffe800 33.33%,#ffdb00 40%,#ffcd00 46.67%,#ffbe00 53.33%,#ffae00 60%,#ff9d00 66.67%,#ff8b00 73.33%,#ff7900 80%,#ff6600 86.67%,#ff5100 93.33%,#ff3c00 100%)"></i>
<i style="top:132px;background:linear-gradient(90deg,#eaff00 0%,#f0ff00 6.667%,#f8ff00 13.33%,#fffd00 20%,#fff300 26.67%,#ffe700 33.33%,#ffda00 40%,#ffcc00 46.67%,#ffbd00 53.33%,#ffad00 60%,#ff9c00 66.67%,#ff8b00 73.33%,#ff7800 80%,#ff6500 86.67%,#ff5100 93.33%,#ff3c00 100%)"></i>
<i style="top:134px;background:linear-gradient(90deg,#ebff00 0%,#f1ff00 6.667%,#f9ff00 13.33%,#fffc00 20%,#fff200 26.67%,#ffe600 33.33%,#ffd900 40%,#ffcb00 46.67%,#ffbc00 53.33%,#ffac00 60%,#ff9c00 66.67%,#ff8a00 73.33%,#ff7800 80%,#ff6500 86.67%,#ff5100 93.33%,#ff3b00 100%)"></i>
<i style="top:136px;background:linear-gradient(90deg,#ecff00 0%,#f2ff00 6.667%,#faff00 13.33%,#fffb00 20%,#fff100 26.67%,#ffe600 33.33%,#ffd900 40%,#ffcb00 46.67%,#ffbc00 53.33%,#ffac00 60%,#ff9b00 66.67%,#ff8900 73.33%,#ff7700 80%,#ff6400 86.67%,#ff5000 93.33%,#ff3b00 100%)"></i>
<i style="top:138px;background:linear-gradient(90deg,#edff00 0%,#f3ff00 6.667%,#fbff00 13.33%,#fffb00 20%,#fff000 26.67%,#ffe500 33.33%,#ffd800 40%,#ffca00 46.67%,#ffbb00 53.33%,#ffab00 60%,#ff9a00 66.67%,#ff8900 73.33%,#ff7700 80%,#ff6400 86.67%,#ff5000 93.33%,#ff3b00 100%)"></i>
<i style="top:140px;background:linear-gradient(90deg,#eeff00 0%,#f4ff00 6.667%,#fcff00 13.33%,#fffa00 20%,#fff000 26.67%,#ffe400 33.33%,#ffd700 40%,#ffc900 46.67%,#ffba00 53.33%,#ffaa00 60%,#ff9a00 66.67%,#ff8800 73.33%,#ff7600 80%,#ff6300 86.67%,#ff4f00 93.33%,#ff3a00 100%)"></i>
<i style="top:142px;background:linear-gradient(90deg,#efff00 0%,#f5ff00 6.667%,#fdff00 13.33%,#fff900 20%,#ffef00 26.67%,#ffe300 33.33%,#ffd600 40%,#ffc800 46.67%,#ffba00 53.33%,#ffaa00 60%,#ff9900 66.67%,#ff8800 73.33%,#ff7500 80%,#ff6200 86.67%,#ff4f00 93.33%,#ff3a00 100%)"></i>
<i style="top:144px;background:linear-gradient(90deg,#f0ff00 0%,#f6ff00 6.667%,#fdff00 13.33%,#fff800 20%,#ffee00 26.67%,#ffe200 33.33%,#ffd600 40%,#ffc800 46.67%,#ffb900 53.33%,#ffa900 60%,#ff9800 66.67%,#ff8700 73.33%,#ff7500 80%,#ff6200 86.67%,#ff4e00 93.33%,#ff3900 100%)"></i>
<i style="top:146px;background:linear-gradient(90deg,#f1ff00 0%,#f7ff00 6.667%,#feff00 13.33%,#fff700 20%,#ffed00 26.67%,#ffe200 33.33%,#ffd500 40%,#ffc700 46.67%,#ffb800 53.33%,#ffa800 60%,#ff9800 66.67%,#ff8600 73.33%,#ff7400 80%,#ff6100 86.67%,#ff4e00 93.33%,#ff3900 100%)"></i>
<i style="top:148px;background:linear-gradient(90deg,#f2ff00 0%,#f8ff00 6.667%,#ffff00 13.33%,#fff600 20%,#ffec00 26.67%,#ffe100 33.33%,#ffd400 40%,#ffc600 46.67%,#ffb700 53.33%,#ffa800 60%,#ff9700 66.67%,#ff8600 73.33%,#ff7400 80%,#ff6100 86.67%,#ff4d00 93.33%,#ff3800 100%)"></i>
<i style="top:150px;background:linear-gradient(90deg,#f3ff00 0%,#f9ff00 6.667%,#fffe00 13.33%,#fff500 20%,#ffeb00 26.67%,#ffe000 33.33%,#ffd300 40%,#ffc500 46.67%,#ffb700 53.33%,#ffa700 60%,#ff9600 66.67%,#ff8500 73.33%,#ff7300 80%,#ff6000 86.67%,#ff4d00 93.33%,#ff3800 100%)"></i>
<i style="top:152px;background:linear-gradient(90deg,#f4ff00 0%,#faff00 6.667%,#fffd00 13.33%,#fff400 20%,#ffeb00 26.67%,#ffdf00 33.33%,#ffd200 40%,#ffc500 46.67%,#ffb600 53.33%,#ffa600 60%,#ff9600 66.67%,#ff8500 73.33%,#ff7300 80%,#ff6000 86.67%,#ff4c00 93.33%,#ff3800 100%)"></i>
<i style="top:154px;background:linear-gradient(90deg,#f5ff00 0%,#fbff00 6.667%,#fffc00 13.33%,#fff300 20%,#ffea00 26.67%,#ffde00 33.33%,#ffd200 40%,#ffc400 46.67%,#ffb500 53.33%,#ffa600 60%,#ff9500 66.67%,#ff8400 73.33%,#ff7200 80%,#ff5f00 86.67%,#ff4c00 93.33%,#ff3700 100%)"></i>
<i style="top:156px;background:linear-gradient(90deg,#f6ff00 0%,#fcff00 6.667%,#fffb00 13.33%,#fff300 20%,#ffe900 26.67%,#ffdd00 33.33%,#ffd100 40%,#ffc300 46.67%,#ffb400 53.33%,#ffa500 60%,#ff9400 66.67%,#ff8300 73.33%,#ff7100 80%,#ff5f00 86.67%,#ff4b00 93.33%,#ff3700 100%)"></i>
<i style="top:158px;background:linear-gradient(90deg,#f7ff00 0%,#fdff00 6.667%,#fffa00 13.33%,#fff200 20%,#ffe800 26.67%,#ffdd00 33.33%,#ffd000 40%,#ffc200 46.67%,#ffb400 53.33%,#ffa400 60%,#ff9400 66.67%,#ff8300 73.33%,#ff7100 80%,#ff5e00 86.67%,#ff4b00 93.33%,#ff3600 100%)"></i>
<i style="top:160px;background:linear-gradient(90deg,#f9ff00 0%,#feff00 6.667%,#fff900 13.33%,#fff100 20%,#ffe700 26.67%,#ffdc00 33.33%,#ffcf00 40%,#ffc200 46.67%,#ffb300 53.33%,#ffa300 60%,#ff9300 66.67%,#ff8200 73.33%,#ff7000 80%,#ff5d00 86.67%,#ff4a00 93.33%,#ff3600 100%)"></i>
<i style="top:162px;background:linear-gradient(90deg,#faff00 0%,#ffff00 6.667%,#fff800 13.33%,#fff000 20%,#ffe600 26.67%,#ffdb00 33.33%,#ffce00 40%,#ffc100 46.67%,#ffb200 53.33%,#ffa300 60%,#ff9200 66.67%,#ff8100 73.33%,#ff6f00 80%,#ff5d00 86.67%,#ff4a00 93.33%,#ff3500 100%)"></i>
<i style="top:164px;background:linear-gradient(90deg,#fbff00 0%,#fffe00 6.667%,#fff700 13.33%,#ffef00 20%,#ffe500 26.67%,#ffda00 33.33%,#ffcd00 40%,#ffc000 46.67%,#ffb100 53.33%,#ffa200 60%,#ff9200 66.67%,#ff8100 73.33%,#ff6f00 80%,#ff5c00 86.67%,#ff4900 93.33%,#ff3500 100%)"></i>
<i style="top:166px;background:linear-gradient(90deg,#fcff00 0%,#fffd00 6.667%,#fff600 13.33%,#ffee00 20%,#ffe400 26.67%,#ffd900 33.33%,#ffcd00 40%,#ffbf00 46.67%,#ffb100 53.33%,#ffa100 60%,#ff9100 66.67%,#ff8000 73.33%,#ff6e00 80%,#ff5c00 86.67%,#ff4800 93.33%,#ff3400 100%)"></i>
<i style="top:168px;background:linear-gradient(90deg,#fdff00 0%,#fffb00 6.667%,#fff500 13.33%,#ffed00 20%,#ffe300 26.67%,#ffd800 33.33%,#ffcc00 40%,#ffbe00 46.67%,#ffb000 53.33%,#ffa000 60%,#ff9000 66.67%,#ff7f00 73.33%,#ff6e00 80%,#ff5b00 86.67%,#ff4800 93.33%,#ff3400 100%)"></i>
<i style="top:170px;background:linear-gradient(90deg,#feff00 0%,#fffa00 6.667%,#fff400 13.33%,#ffec00 20%,#ffe200 26.67%,#ffd700 33.33%,#ffcb00 40%,#ffbe00 46.67%,#ffaf00 53.33%,#ffa000 60%,#ff9000 66.67%,#ff7f00 73.33%,#ff6d00 80%,#ff5b00 86.67%,#ff4700 93.33%,#ff3300 100%)"></i>
<i style="top:172px;background:linear-gradient(90deg,#ffff00 0%,#fff900 6.667%,#fff300 13.33%,#ffeb00 20%,#ffe100 26.67%,#ffd600 33.33%,#ffca00 40%,#ffbd00 46.67%,#ffae00 53.33%,#ff9f00 60%,#ff8f00 66.67%,#ff7e00 73.33%,#ff6c00 80%,#ff5a00 86.67%,#ff4700 93.33%,#ff3300 100%)"></i>
<i style="top:174px;background:linear-gradient(90deg,#fffd00 0%,#fff800 6.667%,#fff200 13.33%,#ffea00 20%,#ffe000 26.67%,#ffd500 33.33%,#ffc900 40%,#ffbc00 46.67%,#ffae00 53.33%,#ff9e00 60%,#ff8e00 66.67%,#ff7d00 73.33%,#ff6c00 80%,#ff5a00 86.67%,#ff4600 93.33%,#ff3200 100%)"></i>
<i style="top:176px;background:linear-gradient(90deg,#fffc00 0%,#fff700 6.667%,#fff100 13.33%,#ffe900 20%,#ffdf00 26.67%,#ffd400 33.33%,#ffc800 40%,#ffbb00 46.67%,#ffad00 53.33%,#ff9d00 60%,#ff8d00 66.67%,#ff7d00 73.33%,#ff6b00 80%,#ff5900 86.67%,#ff4600 93.33%,#ff3200 100%)"></i>
<i style="top:178px;background:linear-gradient(90deg,#fffb00 0%,#fff600 6.667%,#fff000 13.33%,#ffe800 20%,#ffde00 26.67%,#ffd300 33.33%,#ffc700 40%,#ffba00 46.67%,#ffac00 53.33%,#ff9d00 60%,#ff8d00 66.67%,#ff7c00 73.33%,#ff6b00 80%,#ff5800 86.67%,#ff4500 93.33%,#ff3200 100%)"></i>
<i style="top:180px;background:linear-gradient(90deg,#fffa00 0%,#fff500 6.667%,#ffee00 13.33%,#ffe700 20%,#ffdd00 26.67%,#ffd300 33.33%,#ffc600 40%,#ffb900 46.67%,#ffab00 53.33%,#ff9c00 60%,#ff8c00 66.67%,#ff7b00 73.33%,#ff6a00 80%,#ff5800 86.67%,#ff4500 93.33%,#ff3100 100%)"></i>
<i style="top:182px;background:linear-gradient(90deg,#fff900 0%,#fff400 6.667%,#ffed00 13.33%,#ffe600 20%,#ffdc00 26.67%,#ffd200 33.33%,#ffc600 40%,#ffb900 46.67%,#ffaa00 53.33%,#ff9b00 60%,#ff8b00 66.67%,#ff7b00 73.33%,#ff6900 80%,#ff5700 86.67%,#ff4400 93.33%,#ff3100 100%)"></i>
<i style="top:184px;background:linear-gradient(90deg,#fff800 0%,#fff300 6.667%,#ffec00 13.33%,#ffe500 20%,#ffdb00 26.67%,#ffd100 33.33%,#ffc500 40%,#ffb800 46.67%,#ffaa00 53.33%,#ff9a00 60%,#ff8b00 66.67%,#ff7a00 73.33%,#ff6900 80%,#ff5700 86.67%,#ff4400 93.33%,#ff3000 100%)"></i>
<i style="top:186px;background:linear-gradient(90deg,#fff600 0%,#fff100 6.667%,#ffeb00 13.33%,#ffe300 20%,#ffda00 26.67%,#ffd000 33.33%,#ffc400 40%,#ffb700 46.67%,#ffa900 53.33%,#ff9a00 60%,#ff8a00 66.67%,#ff7900 73.33%,#ff6800 80%,#ff5600 86.67%,#ff4300 93.33%,#ff3000 100%)"></i>
<i style="top:188px;background:linear-gradient(90deg,#fff500 0%,#fff000 6.667%,#ffea00 13.33%,#ffe200 20%,#ffd900 26.67%,#ffcf00 33.33%,#ffc300 40%,#ffb600 46.67%,#ffa800 53.33%,#ff9900 60%,#ff8900 66.67%,#ff7900 73.33%,#ff6800 80%,#ff5600 86.67%,#ff4300 93.33%,#ff2f00 100%)"></i>
<i style="top:190px;background:linear-gradient(90deg,#fff400 0%,#ffef00 6.667%,#ffe900 13.33%,#ffe100 20%,#ffd800 26.67%,#ffce00 33.33%,#ffc200 40%,#ffb500 46.67%,#ffa700 53.33%,#ff9800 60%,#ff8900 66.67%,#ff7800 73.33%,#ff6700 80%,#ff5500 86.67%,#ff4200 93.33%,#ff2f00 100%)"></i>
<i style="top:192px;background:linear-gradient(90deg,#fff300 0%,#ffee00 6.667%,#ffe800 13.33%,#ffe000 20%,#ffd700 26.67%,#ffcd00 33.33%,#ffc100 40%,#ffb400 46.67%,#ffa600 53.33%,#ff9800 60%,#ff8800 66.67%,#ff7800 73.33%,#ff6600 80%,#ff5500 86.67%,#ff4200 93.33%,#ff2e00 100%)"></i>
<i style="top:194px;background:linear-gradient(90deg,#fff200 0%,#ffed00 6.667%,#ffe700 13.33%,#ffdf00 20%,#ffd600 26.67%,#ffcc00 33.33%,#ffc000 40%,#ffb300 46.67%,#ffa600 53.33%,#ff9700 60%,#ff8700 66.67%,#ff7700 73.33%,#ff6600 80%,#ff5400 86.67%,#ff4100 93.33%,#ff2e00 100%)"></i>
<i style="top:196px;background:linear-gradient(90deg,#fff000 0%,#ffec00 6.667%,#ffe600 13.33%,#ffde00 20%,#ffd500 26.67%,#ffcb00 33.33%,#ffbf00 40%,#ffb300 46.67%,#ffa500 53.33%,#ff9600 60%,#ff8600 66.67%,#ff7600 73.33%,#ff6500 80%,#ff5300 86.67%,#ff4100 93.33%,#ff2d00 100%)"></i>
<i style="top:198px;background:linear-gradient(90deg,#ffef00 0%,#ffea00 6.667%,#ffe400 13.33%,#ffdd00 20%,#ffd400 26.67%,#ffca00 33.33%,#ffbe00 40%,#ffb200 46.67%,#ffa400 53.33%,#ff9500 60%,#ff8600 66.67%,#ff7600 73.33%,#ff6500 80%,#ff5300 86.67%,#ff4000 93.33%,#ff2d00 100%)"></i>
<i style="top:200px;background:linear-gradient(90deg,#ffee00 0%,#ffe900 6.667%,#ffe300 13.33%,#ffdc00 20%,#ffd300 26.67%,#ffc900 33.33%,#ffbd00 40%,#ffb100 46.67%,#ffa300 53.33%,#ff9500 60%,#ff8500 66.67%,#ff7500 73.33%,#ff6400 80%,#ff5200 86.67%,#ff4000 93.33%,#ff2d00 100%)"></i>
<i style="top:202px;background:linear-gradient(90deg,#ffed00 0%,#ffe800 6.667%,#ffe200 13.33%,#ffdb00 20%,#ffd200 26.67%,#ffc800 33.33%,#ffbc00 40%,#ffb000 46.67%,#ffa200 53.33%,#ff9400 60%,#ff8400 66.67%,#ff7400 73.33%,#ff6400 80%,#ff5200 86.67%,#ff3f00 93.33%,#ff2c00 100%)"></i>
<i style="top:204px;background:linear-gradient(90deg,#ffec00 0%,#ffe700 6.667%,#ffe100 13.33%,#ffda00 20%,#ffd100 26.67%,#ffc700 33.33%,#ffbc00 40%,#ffaf00 46.67%,#ffa200 53.33%,#ff9300 60%,#ff8400 66.67%,#ff7400 73.33%,#ff6300 80%,#ff5100 86.67%,#ff3f00 93.33%,#ff2c00 100%)"></i>
<i style="top:206px;background:linear-gradient(90deg,#ffea00 0%,#ffe600 6.667%,#ffe000 13.33%,#ffd900 20%,#ffd000 26.67%,#ffc600 33.33%,#ffbb00 40%,#ffae00 46.67%,#ffa100 53.33%,#ff9200 60%,#ff8300 66.67%,#ff7300 73.33%,#ff6200 80%,#ff5100 86.67%,#ff3e00 93.33%,#ff2b00 100%)"></i>
<i style="top:208px;background:linear-gradient(90deg,#ffe900 0%,#ffe500 6.667%,#ffdf00 13.33%,#ffd800 20%,#ffcf00 26.67%,#ffc500 33.33%,#ffba00 40%,#ffad00 46.67%,#ffa000 53.33%,#ff9200 60%,#ff8300 66.67%,#ff7300 73.33%,#ff6200 80%,#ff5000 86.67%,#ff3e00 93.33%,#ff2b00 100%)"></i>
<i style="top:210px;background:linear-gradient(90deg,#ffe800 0%,#ffe300 6.667%,#ffde00 13.33%,#ffd700 20%,#ffce00 26.67%,#ffc400 33.33%,#ffb900 40%,#ffad00 46.67%,#ff9f00 53.33%,#ff9100 60%,#ff8200 66.67%,#ff7200 73.33%,#ff6100 80%,#ff5000 86.67%,#ff3e00 93.33%,#ff2a00 100%)"></i>
<i style="top:212px;background:linear-gradient(90deg,#ffe700 0%,#ffe200 6.667%,#ffdc00 13.33%,#ffd500 20%,#ffcd00 26.67%,#ffc300 33.33%,#ffb800 40%,#ffac00 46.67%,#ff9f00 53.33%,#ff9000 60%,#ff8100 66.67%,#ff7100 73.33%,#ff6100 80%,#ff4f00 86.67%,#ff3d00 93.33%,#ff2a00 100%)"></i>
<i style="top:214px;background:linear-gradient(90deg,#ffe600 0%,#ffe100 6.667%,#ffdb00 13.33%,#ffd400 20%,#ffcc00 26.67%,#ffc200 33.33%,#ffb700 40%,#ffab00 46.67%,#ff9e00 53.33%,#ff9000 60%,#ff8100 66.67%,#ff7100 73.33%,#ff6000 80%,#ff4f00 86.67%,#ff3d00 93.33%,#ff2900 100%)"></i>
<i style="top:216px;background:linear-gradient(90deg,#ffe400 0%,#ffe000 6.667%,#ffda00 13.33%,#ffd300 20%,#ffcb00 26.67%,#ffc100 33.33%,#ffb600 40%,#ffaa00 46.67%,#ff9d00 53.33%,#ff8f00 60%,#ff8000 66.67%,#ff7000 73.33%,#ff6000 80%,#ff4e00 86.67%,#ff3c00 93.33%,#ff2900 100%)"></i>
<i style="top:218px;background:linear-gradient(90deg,#ffe300 0%,#ffdf00 6.667%,#ffd900 13.33%,#ffd200 20%,#ffca00 26.67%,#ffc000 33.33%,#ffb500 40%,#ffa900 46.67%,#ff9c00 53.33%,#ff8e00 60%,#ff7f00 66.67%,#ff7000 73.33%,#ff5f00 80%,#ff4e00 86.67%,#ff3c00 93.33%,#ff2800 100%)"></i>
<i style="top:220px;background:linear-gradient(90deg,#ffe200 0%,#ffde00 6.667%,#ffd800 13.33%,#ffd100 20%,#ffc900 26.67%,#ffbf00 33.33%,#ffb400 40%,#ffa800 46.67%,#ff9b00 53.33%,#ff8e00 60%,#ff7f00 66.67%,#ff6f00 73.33%,#ff5f00 80%,#ff4d00 86.67%,#ff3b00 93.33%,#ff2800 100%)"></i>
<i style="top:222px;background:linear-gradient(90deg,#ffe100 0%,#ffdc00 6.667%,#ffd700 13.33%,#ffd000 20%,#ffc800 26.67%,#ffbe00 33.33%,#ffb300 40%,#ffa800 46.67%,#ff9b00 53.33%,#ff8d00 60%,#ff7e00 66.67%,#ff6f00 73.33%,#ff5e00 80%,#ff4d00 86.67%,#ff3b00 93.33%,#ff2800 100%)"></i>
<i style="top:224px;background:linear-gradient(90deg,#ffe000 0%,#ffdb00 6.667%,#ffd600 13.33%,#ffcf00 20%,#ffc700 26.67%,#ffbd00 33.33%,#ffb200 40%,#ffa700 46.67%,#ff9a00 53.33%,#ff8c00 60%,#ff7d00 66.67%,#ff6e00 73.33%,#ff5e00 80%,#ff4c00 86.67%,#ff3a00 93.33%,#ff2700 100%)"></i>
<i style="top:226px;background:linear-gradient(90deg,#ffde00 0%,#ffda00 6.667%,#ffd400 13.33%,#ffce00 20%,#ffc600 26.67%,#ffbc00 33.33%,#ffb200 40%,#ffa600 46.67%,#ff9900 53.33%,#ff8b00 60%,#ff7d00 66.67%,#ff6d00 73.33%,#ff5d00 80%,#ff4c00 86.67%,#ff3a00 93.33%,#ff2700 100%)"></i>
<i style="top:228px;background:linear-gradient(90deg,#ffdd00 0%,#ffd900 6.667%,#ffd300 13.33%,#ffcd00 20%,#ffc500 26.67%,#ffbb00 33.33%,#ffb100 40%,#ffa500 46.67%,#ff9800 53.33%,#ff8b00 60%,#ff7c00 66.67%,#ff6d00 73.33%,#ff5d00 80%,#ff4b00 86.67%,#ff3900 93.33%,#ff2600 100%)"></i>
<i style="top:230px;background:linear-gradient(90deg,#ffdc00 0%,#ffd800 6.667%,#ffd200 13.33%,#ffcc00 20%,#ffc400 26.67%,#ffba00 33.33%,#ffb000 40%,#ffa400 46.67%,#ff9800 53.33%,#ff8a00 60%,#ff7b00 66.67%,#ff6c00 73.33%,#ff5c00 80%,#ff4b00 86.67%,#ff3900 93.33%,#ff2600 100%)"></i>
<i style="top:232px;background:linear-gradient(90deg,#ffdb00 0%,#ffd600 6.667%,#ffd100 13.33%,#ffca00 20%,#ffc300 26.67%,#ffb900 33.33%,#ffaf00 40%,#ffa300 46.67%,#ff9700 53.33%,#ff8900 60%,#ff7b00 66.67%,#ff6c00 73.33%,#ff5b00 80%,#ff4a00 86.67%,#ff3800 93.33%,#ff2500 100%)"></i>
<i style="top:234px;background:linear-gradient(90deg,#ffda00 0%,#ffd500 6.667%,#ffd000 13.33%,#ffc900 20%,#ffc200 26.67%,#ffb800 33.33%,#ffae00 40%,#ffa200 46.67%,#ff9600 53.33%,#ff8900 60%,#ff7a00 66.67%,#ff6b00 73.33%,#ff5b00 80%,#ff4a00 86.67%,#ff3800 93.33%,#ff2500 100%)"></i>
<i style="top:236px;background:linear-gradient(90deg,#ffd800 0%,#ffd400 6.667%,#ffcf00 13.33%,#ffc800 20%,#ffc000 26.67%,#ffb700 33.33%,#ffad00 40%,#ffa200 46.67%,#ff9500 53.33%,#ff8800 60%,#ff7a00 66.67%,#ff6a00 73.33%,#ff5a00 80%,#ff4900 86.67%,#ff3700 93.33%,#ff2400 100%)"></i>
</div>
<div class="fld" style="left:436px;top:663px;width:239px;height:238px">
<i style="top:0px;background:linear-gradient(90deg,#ff8c00 0%,#ff9700 6.667%,#ffa200 13.33%,#ffad00 20%,#ffb900 26.67%,#ffc400 33.33%,#ffd000 40%,#ffdc00 46.67%,#ffe700 53.33%,#fff200 60%,#fffd00 66.67%,#f5ff00 73.33%,#eaff00 80%,#e0ff00 86.67%,#d7ff00 93.33%,#cdff00 100%)"></i>
<i style="top:2px;background:linear-gradient(90deg,#ff8b00 0%,#ff9600 6.667%,#ffa100 13.33%,#ffac00 20%,#ffb700 26.67%,#ffc300 33.33%,#ffce00 40%,#ffda00 46.67%,#ffe500 53.33%,#fff000 60%,#fffc00 66.67%,#f7ff00 73.33%,#ecff00 80%,#e2ff00 86.67%,#d9ff00 93.33%,#cfff00 100%)"></i>
<i style="top:4px;background:linear-gradient(90deg,#ff8900 0%,#ff9400 6.667%,#ff9f00 13.33%,#ffaa00 20%,#ffb500 26.67%,#ffc100 33.33%,#ffcd00 40%,#ffd800 46.67%,#ffe300 53.33%,#ffee00 60%,#fffa00 66.67%,#f9ff00 73.33%,#eeff00 80%,#e4ff00 86.67%,#dbff00 93.33%,#d1ff00 100%)"></i>
<i style="top:6px;background:linear-gradient(90deg,#ff8800 0%,#ff9300 6.667%,#ff9e00 13.33%,#ffa900 20%,#ffb400 26.67%,#ffbf00 33.33%,#ffcb00 40%,#ffd700 46.67%,#ffe200 53.33%,#ffed00 60%,#fff800 66.67%,#fbff00 73.33%,#f0ff00 80%,#e6ff00 86.67%,#ddff00 93.33%,#d3ff00 100%)"></i>
<i style="top:8px;background:linear-gradient(90deg,#ff8700 0%,#ff9200 6.667%,#ff9d00 13.33%,#ffa700 20%,#ffb200 26.67%,#ffbe00 33.33%,#ffca00 40%,#ffd500 46.67%,#ffe000 53.33%,#ffeb00 60%,#fff600 66.67%,#fdff00 73.33%,#f2ff00 80%,#e8ff00 86.67%,#dfff00 93.33%,#d5ff00 100%)"></i>
<i style="top:10px;background:linear-gradient(90deg,#ff8600 0%,#ff9000 6.667%,#ff9b00 13.33%,#ffa600 20%,#ffb100 26.67%,#ffbc00 33.33%,#ffc800 40%,#ffd300 46.67%,#ffde00 53.33%,#ffe900 60%,#fff400 66.67%,#ffff00 73.33%,#f4ff00 80%,#eaff00 86.67%,#e1ff00 93.33%,#d7ff00 100%)"></i>
<i style="top:12px;background:linear-gradient(90deg,#ff8400 0%,#ff8f00 6.667%,#ff9a00 13.33%,#ffa500 20%,#ffb000 26.67%,#ffbb00 33.33%,#ffc700 40%,#ffd200 46.67%,#ffdd00 53.33%,#ffe800 60%,#fff300 66.67%,#fffe00 73.33%,#f6ff00 80%,#ecff00 86.67%,#e3ff00 93.33%,#d9ff00 100%)"></i>
<i style="top:14px;background:linear-gradient(90deg,#ff8300 0%,#ff8e00 6.667%,#ff9900 13.33%,#ffa300 20%,#ffae00 26.67%,#ffba00 33.33%,#ffc500 40%,#ffd000 46.67%,#ffdb00 53.33%,#ffe600 60%,#fff100 66.67%,#fffc00 73.33%,#f8ff00 80%,#eeff00 86.67%,#e4ff00 93.33%,#dbff00 100%)"></i>
<i style="top:16px;background:linear-gradient(90deg,#ff8200 0%,#ff8d00 6.667%,#ff9700 13.33%,#ffa200 20%,#ffad00 26.67%,#ffb800 33.33%,#ffc400 40%,#ffcf00 46.67%,#ffda00 53.33%,#ffe400 60%,#ffef00 66.67%,#fffa00 73.33%,#f9ff00 80%,#f0ff00 86.67%,#e6ff00 93.33%,#dcff00 100%)"></i>
<i style="top:18px;background:linear-gradient(90deg,#ff8100 0%,#ff8c00 6.667%,#ff9600 13.33%,#ffa100 20%,#ffac00 26.67%,#ffb700 33.33%,#ffc200 40%,#ffcd00 46.67%,#ffd800 53.33%,#ffe300 60%,#ffee00 66.67%,#fff900 73.33%,#fbff00 80%,#f1ff00 86.67%,#e8ff00 93.33%,#deff00 100%)"></i>
<i style="top:20px;background:linear-gradient(90deg,#ff8000 0%,#ff8a00 6.667%,#ff9500 13.33%,#ffa000 20%,#ffaa00 26.67%,#ffb600 33.33%,#ffc100 40%,#ffcc00 46.67%,#ffd700 53.33%,#ffe100 60%,#ffec00 66.67%,#fff700 73.33%,#fdff00 80%,#f3ff00 86.67%,#eaff00 93.33%,#e0ff00 100%)"></i>
<i style="top:22px;background:linear-gradient(90deg,#ff7f00 0%,#ff8900 6.667%,#ff9400 13.33%,#ff9e00 20%,#ffa900 26.67%,#ffb400 33.33%,#ffc000 40%,#ffcb00 46.67%,#ffd500 53.33%,#ffe000 60%,#ffeb00 66.67%,#fff600 73.33%,#feff00 80%,#f5ff00 86.67%,#ebff00 93.33%,#e1ff00 100%)"></i>
<i style="top:24px;background:linear-gradient(90deg,#ff7e00 0%,#ff8800 6.667%,#ff9300 13.33%,#ff9d00 20%,#ffa800 26.67%,#ffb300 33.33%,#ffbe00 40%,#ffc900 46.67%,#ffd400 53.33%,#ffdf00 60%,#ffe900 66.67%,#fff400 73.33%,#fffe00 80%,#f6ff00 86.67%,#edff00 93.33%,#e3ff00 100%)"></i>
<i style="top:26px;background:linear-gradient(90deg,#ff7d00 0%,#ff8700 6.667%,#ff9200 13.33%,#ff9c00 20%,#ffa700 26.67%,#ffb200 33.33%,#ffbd00 40%,#ffc800 46.67%,#ffd300 53.33%,#ffdd00 60%,#ffe800 66.67%,#fff300 73.33%,#fffd00 80%,#f8ff00 86.67%,#eeff00 93.33%,#e5ff00 100%)"></i>
<i style="top:28px;background:linear-gradient(90deg,#ff7c00 0%,#ff8600 6.667%,#ff9100 13.33%,#ff9b00 20%,#ffa600 26.67%,#ffb100 33.33%,#ffbc00 40%,#ffc700 46.67%,#ffd100 53.33%,#ffdc00 60%,#ffe700 66.67%,#fff100 73.33%,#fffb00 80%,#f9ff00 86.67%,#f0ff00 93.33%,#e6ff00 100%)"></i>
<i style="top:30px;background:linear-gradient(90deg,#ff7b00 0%,#ff8500 6.667%,#ff9000 13.33%,#ff9a00 20%,#ffa500 26.67%,#ffb000 33.33%,#ffbb00 40%,#ffc600 46.67%,#ffd000 53.33%,#ffdb00 60%,#ffe500 66.67%,#fff000 73.33%,#fffa00 80%,#fbff00 86.67%,#f1ff00 93.33%,#e8ff00 100%)"></i>
<i style="top:32px;background:linear-gradient(90deg,#ff7a00 0%,#ff8400 6.667%,#ff8f00 13.33%,#ff9900 20%,#ffa400 26.67%,#ffaf00 33.33%,#ffba00 40%,#ffc500 46.67%,#ffcf00 53.33%,#ffda00 60%,#ffe400 66.67%,#ffef00 73.33%,#fff900 80%,#fcff00 86.67%,#f3ff00 93.33%,#e9ff00 100%)"></i>
<i style="top:34px;background:linear-gradient(90deg,#ff7900 0%,#ff8400 6.667%,#ff8e00 13.33%,#ff9800 20%,#ffa300 26.67%,#ffae00 33.33%,#ffb900 40%,#ffc400 46.67%,#ffce00 53.33%,#ffd800 60%,#ffe300 66.67%,#ffed00 73.33%,#fff700 80%,#fdff00 86.67%,#f4ff00 93.33%,#eaff00 100%)"></i>
<i style="top:36px;background:linear-gradient(90deg,#ff7900 0%,#ff8300 6.667%,#ff8d00 13.33%,#ff9700 20%,#ffa200 26.67%,#ffad00 33.33%,#ffb800 40%,#ffc300 46.67%,#ffcd00 53.33%,#ffd700 60%,#ffe200 66.67%,#ffec00 73.33%,#fff600 80%,#feff00 86.67%,#f5ff00 93.33%,#ecff00 100%)"></i>
<i style="top:38px;background:linear-gradient(90deg,#ff7800 0%,#ff8200 6.667%,#ff8c00 13.33%,#ff9700 20%,#ffa100 26.67%,#ffac00 33.33%,#ffb700 40%,#ffc200 46.67%,#ffcc00 53.33%,#ffd600 60%,#ffe100 66.67%,#ffeb00 73.33%,#fff500 80%,#fffe00 86.67%,#f6ff00 93.33%,#edff00 100%)"></i>
<i style="top:40px;background:linear-gradient(90deg,#ff7700 0%,#ff8100 6.667%,#ff8c00 13.33%,#ff9600 20%,#ffa000 26.67%,#ffab00 33.33%,#ffb600 40%,#ffc100 46.67%,#ffcb00 53.33%,#ffd500 60%,#ffe000 66.67%,#ffea00 73.33%,#fff400 80%,#fffd00 86.67%,#f7ff00 93.33%,#eeff00 100%)"></i>
<i style="top:42px;background:linear-gradient(90deg,#ff7600 0%,#ff8100 6.667%,#ff8b00 13.33%,#ff9500 20%,#ffa000 26.67%,#ffaa00 33.33%,#ffb500 40%,#ffc000 46.67%,#ffca00 53.33%,#ffd400 60%,#ffdf00 66.67%,#ffe900 73.33%,#fff300 80%,#fffc00 86.67%,#f9ff00 93.33%,#efff00 100%)"></i>
<i style="top:44px;background:linear-gradient(90deg,#ff7600 0%,#ff8000 6.667%,#ff8a00 13.33%,#ff9400 20%,#ff9f00 26.67%,#ffaa00 33.33%,#ffb400 40%,#ffbf00 46.67%,#ffc900 53.33%,#ffd300 60%,#ffde00 66.67%,#ffe800 73.33%,#fff200 80%,#fffb00 86.67%,#faff00 93.33%,#f0ff00 100%)"></i>
<i style="top:46px;background:linear-gradient(90deg,#ff7500 0%,#ff7f00 6.667%,#ff8900 13.33%,#ff9400 20%,#ff9e00 26.67%,#ffa900 33.33%,#ffb400 40%,#ffbe00 46.67%,#ffc800 53.33%,#ffd300 60%,#ffdd00 66.67%,#ffe700 73.33%,#fff100 80%,#fffa00 86.67%,#fbff00 93.33%,#f1ff00 100%)"></i>
<i style="top:48px;background:linear-gradient(90deg,#ff7400 0%,#ff7f00 6.667%,#ff8900 13.33%,#ff9300 20%,#ff9e00 26.67%,#ffa800 33.33%,#ffb300 40%,#ffbd00 46.67%,#ffc800 53.33%,#ffd200 60%,#ffdc00 66.67%,#ffe600 73.33%,#fff000 80%,#fff900 86.67%,#fcff00 93.33%,#f2ff00 100%)"></i>
<i style="top:50px;background:linear-gradient(90deg,#ff7400 0%,#ff7e00 6.667%,#ff8800 13.33%,#ff9300 20%,#ff9d00 26.67%,#ffa800 33.33%,#ffb200 40%,#ffbd00 46.67%,#ffc700 53.33%,#ffd100 60%,#ffdb00 66.67%,#ffe500 73.33%,#ffef00 80%,#fff800 86.67%,#fcff00 93.33%,#f3ff00 100%)"></i>
<i style="top:52px;background:linear-gradient(90deg,#ff7300 0%,#ff7e00 6.667%,#ff8800 13.33%,#ff9200 20%,#ff9d00 26.67%,#ffa700 33.33%,#ffb200 40%,#ffbc00 46.67%,#ffc600 53.33%,#ffd000 60%,#ffda00 66.67%,#ffe400 73.33%,#ffee00 80%,#fff800 86.67%,#fdff00 93.33%,#f4ff00 100%)"></i>
<i style="top:54px;background:linear-gradient(90deg,#ff7300 0%,#ff7d00 6.667%,#ff8700 13.33%,#ff9200 20%,#ff9c00 26.67%,#ffa700 33.33%,#ffb100 40%,#ffbc00 46.67%,#ffc600 53.33%,#ffd000 60%,#ffda00 66.67%,#ffe400 73.33%,#ffed00 80%,#fff700 86.67%,#feff00 93.33%,#f5ff00 100%)"></i>
<i style="top:56px;background:linear-gradient(90deg,#ff7200 0%,#ff7d00 6.667%,#ff8700 13.33%,#ff9100 20%,#ff9c00 26.67%,#ffa600 33.33%,#ffb100 40%,#ffbb00 46.67%,#ffc500 53.33%,#ffcf00 60%,#ffd900 66.67%,#ffe300 73.33%,#ffed00 80%,#fff600 86.67%,#ffff00 93.33%,#f6ff00 100%)"></i>
<i style="top:58px;background:linear-gradient(90deg,#ff7200 0%,#ff7c00 6.667%,#ff8600 13.33%,#ff9100 20%,#ff9b00 26.67%,#ffa600 33.33%,#ffb000 40%,#ffba00 46.67%,#ffc500 53.33%,#ffcf00 60%,#ffd900 66.67%,#ffe200 73.33%,#ffec00 80%,#fff500 86.67%,#fffe00 93.33%,#f7ff00 100%)"></i>
<i style="top:60px;background:linear-gradient(90deg,#ff7200 0%,#ff7c00 6.667%,#ff8600 13.33%,#ff9000 20%,#ff9b00 26.67%,#ffa500 33.33%,#ffb000 40%,#ffba00 46.67%,#ffc400 53.33%,#ffce00 60%,#ffd800 66.67%,#ffe200 73.33%,#ffeb00 80%,#fff500 86.67%,#fffe00 93.33%,#f7ff00 100%)"></i>
<i style="top:62px;background:linear-gradient(90deg,#ff7100 0%,#ff7c00 6.667%,#ff8600 13.33%,#ff9000 20%,#ff9a00 26.67%,#ffa500 33.33%,#ffaf00 40%,#ffba00 46.67%,#ffc400 53.33%,#ffce00 60%,#ffd800 66.67%,#ffe100 73.33%,#ffeb00 80%,#fff400 86.67%,#fffd00 93.33%,#f8ff00 100%)"></i>
<i style="top:64px;background:linear-gradient(90deg,#ff7100 0%,#ff7b00 6.667%,#ff8500 13.33%,#ff9000 20%,#ff9a00 26.67%,#ffa500 33.33%,#ffaf00 40%,#ffb900 46.67%,#ffc300 53.33%,#ffcd00 60%,#ffd700 66.67%,#ffe100 73.33%,#ffea00 80%,#fff400 86.67%,#fffd00 93.33%,#f8ff00 100%)"></i>
<i style="top:66px;background:linear-gradient(90deg,#ff7100 0%,#ff7b00 6.667%,#ff8500 13.33%,#ff9000 20%,#ff9a00 26.67%,#ffa400 33.33%,#ffaf00 40%,#ffb900 46.67%,#ffc300 53.33%,#ffcd00 60%,#ffd700 66.67%,#ffe000 73.33%,#ffea00 80%,#fff300 86.67%,#fffc00 93.33%,#f9ff00 100%)"></i>
<i style="top:68px;background:linear-gradient(90deg,#ff7100 0%,#ff7b00 6.667%,#ff8500 13.33%,#ff8f00 20%,#ff9a00 26.67%,#ffa400 33.33%,#ffae00 40%,#ffb900 46.67%,#ffc300 53.33%,#ffcd00 60%,#ffd600 66.67%,#ffe000 73.33%,#ffe900 80%,#fff300 86.67%,#fffc00 93.33%,#faff00 100%)"></i>
<i style="top:70px;background:linear-gradient(90deg,#ff7000 0%,#ff7b00 6.667%,#ff8500 13.33%,#ff8f00 20%,#ff9a00 26.67%,#ffa400 33.33%,#ffae00 40%,#ffb800 46.67%,#ffc300 53.33%,#ffcc00 60%,#ffd600 66.67%,#ffe000 73.33%,#ffe900 80%,#fff200 86.67%,#fffb00 93.33%,#faff00 100%)"></i>
<i style="top:72px;background:linear-gradient(90deg,#ff7000 0%,#ff7a00 6.667%,#ff8500 13.33%,#ff8f00 20%,#ff9900 26.67%,#ffa400 33.33%,#ffae00 40%,#ffb800 46.67%,#ffc200 53.33%,#ffcc00 60%,#ffd600 66.67%,#ffdf00 73.33%,#ffe900 80%,#fff200 86.67%,#fffb00 93.33%,#faff00 100%)"></i>
<i style="top:74px;background:linear-gradient(90deg,#ff7000 0%,#ff7a00 6.667%,#ff8500 13.33%,#ff8f00 20%,#ff9900 26.67%,#ffa400 33.33%,#ffae00 40%,#ffb800 46.67%,#ffc200 53.33%,#ffcc00 60%,#ffd600 66.67%,#ffdf00 73.33%,#ffe900 80%,#fff200 86.67%,#fffb00 93.33%,#fbff00 100%)"></i>
<i style="top:76px;background:linear-gradient(90deg,#ff7000 0%,#ff7a00 6.667%,#ff8500 13.33%,#ff8f00 20%,#ff9900 26.67%,#ffa400 33.33%,#ffae00 40%,#ffb800 46.67%,#ffc200 53.33%,#ffcc00 60%,#ffd600 66.67%,#ffdf00 73.33%,#ffe800 80%,#fff100 86.67%,#fffa00 93.33%,#fbff00 100%)"></i>
<i style="top:78px;background:linear-gradient(90deg,#ff7000 0%,#ff7a00 6.667%,#ff8500 13.33%,#ff8f00 20%,#ff9900 26.67%,#ffa400 33.33%,#ffae00 40%,#ffb800 46.67%,#ffc200 53.33%,#ffcc00 60%,#ffd600 66.67%,#ffdf00 73.33%,#ffe800 80%,#fff100 86.67%,#fffa00 93.33%,#fbff00 100%)"></i>
<i style="top:80px;background:linear-gradient(90deg,#ff7000 0%,#ff7a00 6.667%,#ff8500 13.33%,#ff8f00 20%,#ff9900 26.67%,#ffa400 33.33%,#ffae00 40%,#ffb800 46.67%,#ffc200 53.33%,#ffcc00 60%,#ffd500 66.67%,#ffdf00 73.33%,#ffe800 80%,#fff100 86.67%,#fffa00 93.33%,#fbff00 100%)"></i>
<i style="top:82px;background:linear-gradient(90deg,#ff7000 0%,#ff7a00 6.667%,#ff8500 13.33%,#ff8f00 20%,#ff9900 26.67%,#ffa400 33.33%,#ffae00 40%,#ffb800 46.67%,#ffc200 53.33%,#ffcc00 60%,#ffd500 66.67%,#ffdf00 73.33%,#ffe800 80%,#fff100 86.67%,#fffa00 93.33%,#fbff00 100%)"></i>
<i style="top:84px;background:linear-gradient(90deg,#ff7000 0%,#ff7b00 6.667%,#ff8500 13.33%,#ff8f00 20%,#ff9a00 26.67%,#ffa400 33.33%,#ffae00 40%,#ffb800 46.67%,#ffc200 53.33%,#ffcc00 60%,#ffd600 66.67%,#ffdf00 73.33%,#ffe800 80%,#fff100 86.67%,#fffa00 93.33%,#fcff00 100%)"></i>
<i style="top:86px;background:linear-gradient(90deg,#ff7100 0%,#ff7b00 6.667%,#ff8500 13.33%,#ff8f00 20%,#ff9a00 26.67%,#ffa400 33.33%,#ffae00 40%,#ffb800 46.67%,#ffc200 53.33%,#ffcc00 60%,#ffd600 66.67%,#ffdf00 73.33%,#ffe800 80%,#fff100 86.67%,#fffa00 93.33%,#fcff00 100%)"></i>
<i style="top:88px;background:linear-gradient(90deg,#ff7100 0%,#ff7b00 6.667%,#ff8500 13.33%,#ff9000 20%,#ff9a00 26.67%,#ffa400 33.33%,#ffaf00 40%,#ffb900 46.67%,#ffc300 53.33%,#ffcc00 60%,#ffd600 66.67%,#ffdf00 73.33%,#ffe800 80%,#fff100 86.67%,#fffa00 93.33%,#fbff00 100%)"></i>
<i style="top:90px;background:linear-gradient(90deg,#ff7100 0%,#ff7b00 6.667%,#ff8500 13.33%,#ff9000 20%,#ff9a00 26.67%,#ffa500 33.33%,#ffaf00 40%,#ffb900 46.67%,#ffc300 53.33%,#ffcc00 60%,#ffd600 66.67%,#ffdf00 73.33%,#ffe800 80%,#fff100 86.67%,#fffa00 93.33%,#fbff00 100%)"></i>
<i style="top:92px;background:linear-gradient(90deg,#ff7100 0%,#ff7b00 6.667%,#ff8600 13.33%,#ff9000 20%,#ff9b00 26.67%,#ffa500 33.33%,#ffaf00 40%,#ffb900 46.67%,#ffc300 53.33%,#ffcd00 60%,#ffd600 66.67%,#ffdf00 73.33%,#ffe900 80%,#fff100 86.67%,#fffa00 93.33%,#fbff00 100%)"></i>
<i style="top:94px;background:linear-gradient(90deg,#ff7200 0%,#ff7c00 6.667%,#ff8600 13.33%,#ff9000 20%,#ff9b00 26.67%,#ffa500 33.33%,#ffb000 40%,#ffba00 46.67%,#ffc300 53.33%,#ffcd00 60%,#ffd700 66.67%,#ffe000 73.33%,#ffe900 80%,#fff200 86.67%,#fffa00 93.33%,#fbff00 100%)"></i>
<i style="top:96px;background:linear-gradient(90deg,#ff7200 0%,#ff7c00 6.667%,#ff8600 13.33%,#ff9100 20%,#ff9b00 26.67%,#ffa600 33.33%,#ffb000 40%,#ffba00 46.67%,#ffc400 53.33%,#ffcd00 60%,#ffd700 66.67%,#ffe000 73.33%,#ffe900 80%,#fff200 86.67%,#fffb00 93.33%,#fbff00 100%)"></i>
<i style="top:98px;background:linear-gradient(90deg,#ff7200 0%,#ff7c00 6.667%,#ff8700 13.33%,#ff9100 20%,#ff9c00 26.67%,#ffa600 33.33%,#ffb000 40%,#ffba00 46.67%,#ffc400 53.33%,#ffce00 60%,#ffd700 66.67%,#ffe000 73.33%,#ffe900 80%,#fff200 86.67%,#fffb00 93.33%,#faff00 100%)"></i>
<i style="top:100px;background:linear-gradient(90deg,#ff7300 0%,#ff7d00 6.667%,#ff8700 13.33%,#ff9200 20%,#ff9c00 26.67%,#ffa700 33.33%,#ffb100 40%,#ffbb00 46.67%,#ffc500 53.33%,#ffce00 60%,#ffd800 66.67%,#ffe100 73.33%,#ffea00 80%,#fff300 86.67%,#fffb00 93.33%,#faff00 100%)"></i>
<i style="top:102px;background:linear-gradient(90deg,#ff7300 0%,#ff7d00 6.667%,#ff8800 13.33%,#ff9200 20%,#ff9d00 26.67%,#ffa700 33.33%,#ffb100 40%,#ffbb00 46.67%,#ffc500 53.33%,#ffcf00 60%,#ffd800 66.67%,#ffe100 73.33%,#ffea00 80%,#fff300 86.67%,#fffc00 93.33%,#faff00 100%)"></i>
<i style="top:104px;background:linear-gradient(90deg,#ff7400 0%,#ff7e00 6.667%,#ff8800 13.33%,#ff9300 20%,#ff9d00 26.67%,#ffa800 33.33%,#ffb200 40%,#ffbc00 46.67%,#ffc600 53.33%,#ffcf00 60%,#ffd900 66.67%,#ffe200 73.33%,#ffeb00 80%,#fff400 86.67%,#fffc00 93.33%,#f9ff00 100%)"></i>
<i style="top:106px;background:linear-gradient(90deg,#ff7400 0%,#ff7f00 6.667%,#ff8900 13.33%,#ff9300 20%,#ff9e00 26.67%,#ffa800 33.33%,#ffb300 40%,#ffbd00 46.67%,#ffc600 53.33%,#ffd000 60%,#ffd900 66.67%,#ffe200 73.33%,#ffeb00 80%,#fff400 86.67%,#fffd00 93.33%,#f9ff00 100%)"></i>
<i style="top:108px;background:linear-gradient(90deg,#ff7500 0%,#ff7f00 6.667%,#ff8a00 13.33%,#ff9400 20%,#ff9f00 26.67%,#ffa900 33.33%,#ffb300 40%,#ffbd00 46.67%,#ffc700 53.33%,#ffd100 60%,#ffda00 66.67%,#ffe300 73.33%,#ffec00 80%,#fff500 86.67%,#fffd00 93.33%,#f8ff00 100%)"></i>
<i style="top:110px;background:linear-gradient(90deg,#ff7600 0%,#ff8000 6.667%,#ff8a00 13.33%,#ff9500 20%,#ff9f00 26.67%,#ffaa00 33.33%,#ffb400 40%,#ffbe00 46.67%,#ffc800 53.33%,#ffd100 60%,#ffdb00 66.67%,#ffe300 73.33%,#ffec00 80%,#fff500 86.67%,#fffe00 93.33%,#f7ff00 100%)"></i>
<i style="top:112px;background:linear-gradient(90deg,#ff7600 0%,#ff8100 6.667%,#ff8b00 13.33%,#ff9500 20%,#ffa000 26.67%,#ffaa00 33.33%,#ffb500 40%,#ffbf00 46.67%,#ffc800 53.33%,#ffd200 60%,#ffdb00 66.67%,#ffe400 73.33%,#ffed00 80%,#fff600 86.67%,#ffff00 93.33%,#f7ff00 100%)"></i>
<i style="top:114px;background:linear-gradient(90deg,#ff7700 0%,#ff8100 6.667%,#ff8c00 13.33%,#ff9600 20%,#ffa100 26.67%,#ffab00 33.33%,#ffb500 40%,#ffbf00 46.67%,#ffc900 53.33%,#ffd300 60%,#ffdc00 66.67%,#ffe500 73.33%,#ffee00 80%,#fff700 86.67%,#ffff00 93.33%,#f6ff00 100%)"></i>
<i style="top:116px;background:linear-gradient(90deg,#ff7800 0%,#ff8200 6.667%,#ff8c00 13.33%,#ff9700 20%,#ffa200 26.67%,#ffac00 33.33%,#ffb600 40%,#ffc000 46.67%,#ffca00 53.33%,#ffd400 60%,#ffdd00 66.67%,#ffe600 73.33%,#ffef00 80%,#fff700 86.67%,#feff00 93.33%,#f5ff00 100%)"></i>
<i style="top:118px;background:linear-gradient(90deg,#ff7900 0%,#ff8300 6.667%,#ff8d00 13.33%,#ff9800 20%,#ffa200 26.67%,#ffad00 33.33%,#ffb700 40%,#ffc100 46.67%,#ffcb00 53.33%,#ffd400 60%,#ffde00 66.67%,#ffe700 73.33%,#ffef00 80%,#fff800 86.67%,#fdff00 93.33%,#f4ff00 100%)"></i>
<i style="top:120px;background:linear-gradient(90deg,#ff7a00 0%,#ff8400 6.667%,#ff8e00 13.33%,#ff9900 20%,#ffa300 26.67%,#ffae00 33.33%,#ffb800 40%,#ffc200 46.67%,#ffcc00 53.33%,#ffd500 60%,#ffdf00 66.67%,#ffe700 73.33%,#fff000 80%,#fff900 86.67%,#fcff00 93.33%,#f3ff00 100%)"></i>
<i style="top:122px;background:linear-gradient(90deg,#ff7b00 0%,#ff8500 6.667%,#ff8f00 13.33%,#ff9a00 20%,#ffa400 26.67%,#ffaf00 33.33%,#ffb900 40%,#ffc300 46.67%,#ffcd00 53.33%,#ffd600 60%,#ffdf00 66.67%,#ffe800 73.33%,#fff100 80%,#fffa00 86.67%,#fbff00 93.33%,#f3ff00 100%)"></i>
<i style="top:124px;background:linear-gradient(90deg,#ff7b00 0%,#ff8600 6.667%,#ff9000 13.33%,#ff9b00 20%,#ffa500 26.67%,#ffb000 33.33%,#ffba00 40%,#ffc400 46.67%,#ffce00 53.33%,#ffd700 60%,#ffe000 66.67%,#ffe900 73.33%,#fff200 80%,#fffb00 86.67%,#faff00 93.33%,#f1ff00 100%)"></i>
<i style="top:126px;background:linear-gradient(90deg,#ff7d00 0%,#ff8700 6.667%,#ff9100 13.33%,#ff9c00 20%,#ffa600 26.67%,#ffb100 33.33%,#ffbb00 40%,#ffc500 46.67%,#ffcf00 53.33%,#ffd800 60%,#ffe100 66.67%,#ffea00 73.33%,#fff300 80%,#fffc00 86.67%,#f9ff00 93.33%,#f0ff00 100%)"></i>
<i style="top:128px;background:linear-gradient(90deg,#ff7e00 0%,#ff8800 6.667%,#ff9200 13.33%,#ff9d00 20%,#ffa700 26.67%,#ffb200 33.33%,#ffbc00 40%,#ffc600 46.67%,#ffd000 53.33%,#ffda00 60%,#ffe300 66.67%,#ffeb00 73.33%,#fff400 80%,#fffd00 86.67%,#f8ff00 93.33%,#efff00 100%)"></i>
<i style="top:130px;background:linear-gradient(90deg,#ff7f00 0%,#ff8900 6.667%,#ff9300 13.33%,#ff9e00 20%,#ffa800 26.67%,#ffb300 33.33%,#ffbd00 40%,#ffc700 46.67%,#ffd100 53.33%,#ffdb00 60%,#ffe400 66.67%,#ffed00 73.33%,#fff500 80%,#fffe00 86.67%,#f7ff00 93.33%,#eeff00 100%)"></i>
<i style="top:132px;background:linear-gradient(90deg,#ff8000 0%,#ff8a00 6.667%,#ff9400 13.33%,#ff9f00 20%,#ffaa00 26.67%,#ffb400 33.33%,#ffbe00 40%,#ffc900 46.67%,#ffd200 53.33%,#ffdc00 60%,#ffe500 66.67%,#ffee00 73.33%,#fff700 80%,#feff00 86.67%,#f6ff00 93.33%,#edff00 100%)"></i>
<i style="top:134px;background:linear-gradient(90deg,#ff8100 0%,#ff8b00 6.667%,#ff9600 13.33%,#ffa000 20%,#ffab00 26.67%,#ffb500 33.33%,#ffc000 40%,#ffca00 46.67%,#ffd400 53.33%,#ffdd00 60%,#ffe600 66.67%,#ffef00 73.33%,#fff800 80%,#fdff00 86.67%,#f4ff00 93.33%,#ecff00 100%)"></i>
<i style="top:136px;background:linear-gradient(90deg,#ff8200 0%,#ff8d00 6.667%,#ff9700 13.33%,#ffa100 20%,#ffac00 26.67%,#ffb700 33.33%,#ffc100 40%,#ffcb00 46.67%,#ffd500 53.33%,#ffde00 60%,#ffe700 66.67%,#fff000 73.33%,#fff900 80%,#fcff00 86.67%,#f3ff00 93.33%,#eaff00 100%)"></i>
<i style="top:138px;background:linear-gradient(90deg,#ff8400 0%,#ff8e00 6.667%,#ff9800 13.33%,#ffa300 20%,#ffad00 26.67%,#ffb800 33.33%,#ffc200 40%,#ffcd00 46.67%,#ffd600 53.33%,#ffe000 60%,#ffe900 66.67%,#fff200 73.33%,#fffa00 80%,#fbff00 86.67%,#f2ff00 93.33%,#e9ff00 100%)"></i>
<i style="top:140px;background:linear-gradient(90deg,#ff8500 0%,#ff8f00 6.667%,#ff9900 13.33%,#ffa400 20%,#ffaf00 26.67%,#ffb900 33.33%,#ffc400 40%,#ffce00 46.67%,#ffd800 53.33%,#ffe100 60%,#ffea00 66.67%,#fff300 73.33%,#fffc00 80%,#f9ff00 86.67%,#f0ff00 93.33%,#e7ff00 100%)"></i>
<i style="top:142px;background:linear-gradient(90deg,#ff8600 0%,#ff9100 6.667%,#ff9b00 13.33%,#ffa500 20%,#ffb000 26.67%,#ffbb00 33.33%,#ffc500 40%,#ffcf00 46.67%,#ffd900 53.33%,#ffe300 60%,#ffec00 66.67%,#fff400 73.33%,#fffd00 80%,#f8ff00 86.67%,#efff00 93.33%,#e6ff00 100%)"></i>
<i style="top:144px;background:linear-gradient(90deg,#ff8800 0%,#ff9200 6.667%,#ff9c00 13.33%,#ffa700 20%,#ffb200 26.67%,#ffbc00 33.33%,#ffc700 40%,#ffd100 46.67%,#ffdb00 53.33%,#ffe400 60%,#ffed00 66.67%,#fff600 73.33%,#ffff00 80%,#f6ff00 86.67%,#edff00 93.33%,#e4ff00 100%)"></i>
<i style="top:146px;background:linear-gradient(90deg,#ff8900 0%,#ff9400 6.667%,#ff9e00 13.33%,#ffa800 20%,#ffb300 26.67%,#ffbe00 33.33%,#ffc800 40%,#ffd200 46.67%,#ffdc00 53.33%,#ffe600 60%,#ffef00 66.67%,#fff700 73.33%,#feff00 80%,#f4ff00 86.67%,#ebff00 93.33%,#e3ff00 100%)"></i>
<i style="top:148px;background:linear-gradient(90deg,#ff8b00 0%,#ff9500 6.667%,#ff9f00 13.33%,#ffaa00 20%,#ffb500 26.67%,#ffbf00 33.33%,#ffca00 40%,#ffd400 46.67%,#ffde00 53.33%,#ffe700 60%,#fff000 66.67%,#fff900 73.33%,#fcff00 80%,#f3ff00 86.67%,#eaff00 93.33%,#e1ff00 100%)"></i>
<i style="top:150px;background:linear-gradient(90deg,#ff8d00 0%,#ff9700 6.667%,#ffa100 13.33%,#ffac00 20%,#ffb600 26.67%,#ffc100 33.33%,#ffcc00 40%,#ffd600 46.67%,#ffe000 53.33%,#ffe900 60%,#fff200 66.67%,#fffb00 73.33%,#faff00 80%,#f1ff00 86.67%,#e8ff00 93.33%,#dfff00 100%)"></i>
<i style="top:152px;background:linear-gradient(90deg,#ff8e00 0%,#ff9900 6.667%,#ffa300 13.33%,#ffad00 20%,#ffb800 26.67%,#ffc300 33.33%,#ffcd00 40%,#ffd700 46.67%,#ffe100 53.33%,#ffeb00 60%,#fff400 66.67%,#fffc00 73.33%,#f9ff00 80%,#efff00 86.67%,#e6ff00 93.33%,#ddff00 100%)"></i>
<i style="top:154px;background:linear-gradient(90deg,#ff9000 0%,#ff9a00 6.667%,#ffa400 13.33%,#ffaf00 20%,#ffba00 26.67%,#ffc400 33.33%,#ffcf00 40%,#ffd900 46.67%,#ffe300 53.33%,#ffec00 60%,#fff500 66.67%,#fffe00 73.33%,#f7ff00 80%,#eeff00 86.67%,#e4ff00 93.33%,#dcff00 100%)"></i>
<i style="top:156px;background:linear-gradient(90deg,#ff9200 0%,#ff9c00 6.667%,#ffa600 13.33%,#ffb100 20%,#ffbc00 26.67%,#ffc600 33.33%,#ffd100 40%,#ffdb00 46.67%,#ffe500 53.33%,#ffee00 60%,#fff700 66.67%,#feff00 73.33%,#f5ff00 80%,#ecff00 86.67%,#e2ff00 93.33%,#daff00 100%)"></i>
<i style="top:158px;background:linear-gradient(90deg,#ff9400 0%,#ff9e00 6.667%,#ffa800 13.33%,#ffb300 20%,#ffbd00 26.67%,#ffc800 33.33%,#ffd300 40%,#ffdd00 46.67%,#ffe700 53.33%,#fff000 60%,#fff900 66.67%,#fcff00 73.33%,#f3ff00 80%,#eaff00 86.67%,#e1ff00 93.33%,#d8ff00 100%)"></i>
<i style="top:160px;background:linear-gradient(90deg,#ff9600 0%,#ffa000 6.667%,#ffaa00 13.33%,#ffb500 20%,#ffbf00 26.67%,#ffca00 33.33%,#ffd500 40%,#ffdf00 46.67%,#ffe900 53.33%,#fff200 60%,#fffb00 66.67%,#faff00 73.33%,#f1ff00 80%,#e8ff00 86.67%,#deff00 93.33%,#d6ff00 100%)"></i>
<i style="top:162px;background:linear-gradient(90deg,#ff9800 0%,#ffa200 6.667%,#ffac00 13.33%,#ffb700 20%,#ffc100 26.67%,#ffcc00 33.33%,#ffd700 40%,#ffe100 46.67%,#ffeb00 53.33%,#fff400 60%,#fffd00 66.67%,#f8ff00 73.33%,#efff00 80%,#e6ff00 86.67%,#dcff00 93.33%,#d3ff00 100%)"></i>
<i style="top:164px;background:linear-gradient(90deg,#ff9a00 0%,#ffa400 6.667%,#ffae00 13.33%,#ffb900 20%,#ffc300 26.67%,#ffce00 33.33%,#ffd900 40%,#ffe300 46.67%,#ffed00 53.33%,#fff600 60%,#ffff00 66.67%,#f6ff00 73.33%,#edff00 80%,#e3ff00 86.67%,#daff00 93.33%,#d1ff00 100%)"></i>
<i style="top:166px;background:linear-gradient(90deg,#ff9c00 0%,#ffa600 6.667%,#ffb000 13.33%,#ffbb00 20%,#ffc500 26.67%,#ffd000 33.33%,#ffdb00 40%,#ffe500 46.67%,#ffef00 53.33%,#fff800 60%,#fdff00 66.67%,#f4ff00 73.33%,#ebff00 80%,#e1ff00 86.67%,#d8ff00 93.33%,#cfff00 100%)"></i>
<i style="top:168px;background:linear-gradient(90deg,#ff9e00 0%,#ffa800 6.667%,#ffb200 13.33%,#ffbd00 20%,#ffc800 26.67%,#ffd200 33.33%,#ffdd00 40%,#ffe700 46.67%,#fff100 53.33%,#fffb00 60%,#faff00 66.67%,#f1ff00 73.33%,#e8ff00 80%,#dfff00 86.67%,#d6ff00 93.33%,#ccff00 100%)"></i>
<i style="top:170px;background:linear-gradient(90deg,#ffa000 0%,#ffaa00 6.667%,#ffb500 13.33%,#ffbf00 20%,#ffca00 26.67%,#ffd500 33.33%,#ffdf00 40%,#ffea00 46.67%,#fff400 53.33%,#fffd00 60%,#f8ff00 66.67%,#efff00 73.33%,#e6ff00 80%,#ddff00 86.67%,#d3ff00 93.33%,#caff00 100%)"></i>
<i style="top:172px;background:linear-gradient(90deg,#ffa200 0%,#ffad00 6.667%,#ffb700 13.33%,#ffc100 20%,#ffcc00 26.67%,#ffd700 33.33%,#ffe200 40%,#ffec00 46.67%,#fff600 53.33%,#ffff00 60%,#f6ff00 66.67%,#edff00 73.33%,#e3ff00 80%,#daff00 86.67%,#d1ff00 93.33%,#c8ff00 100%)"></i>
<i style="top:174px;background:linear-gradient(90deg,#ffa500 0%,#ffaf00 6.667%,#ffb900 13.33%,#ffc400 20%,#ffce00 26.67%,#ffd900 33.33%,#ffe400 40%,#ffef00 46.67%,#fff800 53.33%,#fcff00 60%,#f3ff00 66.67%,#eaff00 73.33%,#e1ff00 80%,#d8ff00 86.67%,#ceff00 93.33%,#c5ff00 100%)"></i>
<i style="top:176px;background:linear-gradient(90deg,#ffa700 0%,#ffb100 6.667%,#ffbc00 13.33%,#ffc600 20%,#ffd100 26.67%,#ffdc00 33.33%,#ffe700 40%,#fff100 46.67%,#fffb00 53.33%,#faff00 60%,#f1ff00 66.67%,#e8ff00 73.33%,#deff00 80%,#d5ff00 86.67%,#ccff00 93.33%,#c2ff00 100%)"></i>
<i style="top:178px;background:linear-gradient(90deg,#ffa900 0%,#ffb400 6.667%,#ffbe00 13.33%,#ffc800 20%,#ffd300 26.67%,#ffde00 33.33%,#ffe900 40%,#fff400 46.67%,#fffe00 53.33%,#f7ff00 60%,#eeff00 66.67%,#e5ff00 73.33%,#dcff00 80%,#d2ff00 86.67%,#c9ff00 93.33%,#c0ff00 100%)"></i>
<i style="top:180px;background:linear-gradient(90deg,#ffac00 0%,#ffb600 6.667%,#ffc100 13.33%,#ffcb00 20%,#ffd600 26.67%,#ffe100 33.33%,#ffec00 40%,#fff600 46.67%,#feff00 53.33%,#f4ff00 60%,#ebff00 66.67%,#e2ff00 73.33%,#d9ff00 80%,#d0ff00 86.67%,#c6ff00 93.33%,#bdff00 100%)"></i>
<i style="top:182px;background:linear-gradient(90deg,#ffae00 0%,#ffb900 6.667%,#ffc300 13.33%,#ffce00 20%,#ffd800 26.67%,#ffe400 33.33%,#ffee00 40%,#fff900 46.67%,#fbff00 53.33%,#f2ff00 60%,#e8ff00 66.67%,#dfff00 73.33%,#d6ff00 80%,#cdff00 86.67%,#c3ff00 93.33%,#baff00 100%)"></i>
<i style="top:184px;background:linear-gradient(90deg,#ffb100 0%,#ffbb00 6.667%,#ffc600 13.33%,#ffd000 20%,#ffdb00 26.67%,#ffe600 33.33%,#fff100 40%,#fffc00 46.67%,#f8ff00 53.33%,#efff00 60%,#e6ff00 66.67%,#dcff00 73.33%,#d3ff00 80%,#caff00 86.67%,#c0ff00 93.33%,#b7ff00 100%)"></i>
<i style="top:186px;background:linear-gradient(90deg,#ffb300 0%,#ffbe00 6.667%,#ffc900 13.33%,#ffd300 20%,#ffde00 26.67%,#ffe900 33.33%,#fff400 40%,#fffe00 46.67%,#f5ff00 53.33%,#ecff00 60%,#e3ff00 66.67%,#d9ff00 73.33%,#d0ff00 80%,#c7ff00 86.67%,#bdff00 93.33%,#b4ff00 100%)"></i>
<i style="top:188px;background:linear-gradient(90deg,#ffb600 0%,#ffc100 6.667%,#ffcb00 13.33%,#ffd600 20%,#ffe100 26.67%,#ffec00 33.33%,#fff700 40%,#fdff00 46.67%,#f3ff00 53.33%,#e9ff00 60%,#e0ff00 66.67%,#d6ff00 73.33%,#cdff00 80%,#c4ff00 86.67%,#baff00 93.33%,#b1ff00 100%)"></i>
<i style="top:190px;background:linear-gradient(90deg,#ffb900 0%,#ffc400 6.667%,#ffce00 13.33%,#ffd900 20%,#ffe400 26.67%,#ffef00 33.33%,#fffa00 40%,#faff00 46.67%,#f0ff00 53.33%,#e6ff00 60%,#dcff00 66.67%,#d3ff00 73.33%,#caff00 80%,#c1ff00 86.67%,#b7ff00 93.33%,#aeff00 100%)"></i>
<i style="top:192px;background:linear-gradient(90deg,#ffbb00 0%,#ffc700 6.667%,#ffd100 13.33%,#ffdb00 20%,#ffe700 26.67%,#fff200 33.33%,#fffd00 40%,#f7ff00 46.67%,#edff00 53.33%,#e3ff00 60%,#d9ff00 66.67%,#d0ff00 73.33%,#c7ff00 80%,#beff00 86.67%,#b4ff00 93.33%,#aaff00 100%)"></i>
<i style="top:194px;background:linear-gradient(90deg,#ffbe00 0%,#ffc900 6.667%,#ffd400 13.33%,#ffde00 20%,#ffea00 26.67%,#fff500 33.33%,#feff00 40%,#f4ff00 46.67%,#e9ff00 53.33%,#e0ff00 60%,#d6ff00 66.67%,#cdff00 73.33%,#c4ff00 80%,#baff00 86.67%,#b1ff00 93.33%,#a7ff00 100%)"></i>
<i style="top:196px;background:linear-gradient(90deg,#ffc100 0%,#ffcc00 6.667%,#ffd700 13.33%,#ffe200 20%,#ffed00 26.67%,#fff800 33.33%,#fbff00 40%,#f0ff00 46.67%,#e6ff00 53.33%,#dcff00 60%,#d3ff00 66.67%,#c9ff00 73.33%,#c0ff00 80%,#b7ff00 86.67%,#adff00 93.33%,#a4ff00 100%)"></i>
<i style="top:198px;background:linear-gradient(90deg,#ffc400 0%,#ffcf00 6.667%,#ffda00 13.33%,#ffe500 20%,#fff000 26.67%,#fffb00 33.33%,#f8ff00 40%,#edff00 46.67%,#e3ff00 53.33%,#d9ff00 60%,#cfff00 66.67%,#c6ff00 73.33%,#bdff00 80%,#b3ff00 86.67%,#aaff00 93.33%,#a0ff00 100%)"></i>
<i style="top:200px;background:linear-gradient(90deg,#ffc700 0%,#ffd300 6.667%,#ffdd00 13.33%,#ffe800 20%,#fff300 26.67%,#fffe00 33.33%,#f5ff00 40%,#eaff00 46.67%,#e0ff00 53.33%,#d6ff00 60%,#ccff00 66.67%,#c2ff00 73.33%,#b9ff00 80%,#b0ff00 86.67%,#a6ff00 93.33%,#9cff00 100%)"></i>
<i style="top:202px;background:linear-gradient(90deg,#ffca00 0%,#ffd600 6.667%,#ffe000 13.33%,#ffeb00 20%,#fff600 26.67%,#fcff00 33.33%,#f1ff00 40%,#e7ff00 46.67%,#dcff00 53.33%,#d2ff00 60%,#c8ff00 66.67%,#bfff00 73.33%,#b5ff00 80%,#acff00 86.67%,#a3ff00 93.33%,#99ff00 100%)"></i>
<i style="top:204px;background:linear-gradient(90deg,#ffcd00 0%,#ffd900 6.667%,#ffe400 13.33%,#ffee00 20%,#fffa00 26.67%,#f9ff00 33.33%,#eeff00 40%,#e3ff00 46.67%,#d9ff00 53.33%,#ceff00 60%,#c4ff00 66.67%,#bbff00 73.33%,#b2ff00 80%,#a9ff00 86.67%,#9fff00 93.33%,#95ff00 100%)"></i>
<i style="top:206px;background:linear-gradient(90deg,#ffd000 0%,#ffdc00 6.667%,#ffe700 13.33%,#fff200 20%,#fffd00 26.67%,#f5ff00 33.33%,#eaff00 40%,#e0ff00 46.67%,#d5ff00 53.33%,#cbff00 60%,#c1ff00 66.67%,#b7ff00 73.33%,#aeff00 80%,#a5ff00 86.67%,#9bff00 93.33%,#91ff00 100%)"></i>
<i style="top:208px;background:linear-gradient(90deg,#ffd400 0%,#ffdf00 6.667%,#ffea00 13.33%,#fff500 20%,#fdff00 26.67%,#f2ff00 33.33%,#e7ff00 40%,#dcff00 46.67%,#d2ff00 53.33%,#c7ff00 60%,#bdff00 66.67%,#b3ff00 73.33%,#aaff00 80%,#a1ff00 86.67%,#97ff00 93.33%,#8dff00 100%)"></i>
<i style="top:210px;background:linear-gradient(90deg,#ffd700 0%,#ffe300 6.667%,#ffee00 13.33%,#fff900 20%,#faff00 26.67%,#eeff00 33.33%,#e3ff00 40%,#d8ff00 46.67%,#ceff00 53.33%,#c3ff00 60%,#b9ff00 66.67%,#afff00 73.33%,#a6ff00 80%,#9dff00 86.67%,#93ff00 93.33%,#89ff00 100%)"></i>
<i style="top:212px;background:linear-gradient(90deg,#ffda00 0%,#ffe600 6.667%,#fff100 13.33%,#fffc00 20%,#f6ff00 26.67%,#ebff00 33.33%,#e0ff00 40%,#d5ff00 46.67%,#caff00 53.33%,#bfff00 60%,#b5ff00 66.67%,#abff00 73.33%,#a2ff00 80%,#99ff00 86.67%,#8fff00 93.33%,#85ff00 100%)"></i>
<i style="top:214px;background:linear-gradient(90deg,#ffde00 0%,#ffe900 6.667%,#fff500 13.33%,#feff00 20%,#f3ff00 26.67%,#e7ff00 33.33%,#dcff00 40%,#d1ff00 46.67%,#c6ff00 53.33%,#bcff00 60%,#b1ff00 66.67%,#a7ff00 73.33%,#9eff00 80%,#95ff00 86.67%,#8bff00 93.33%,#81ff00 100%)"></i>
<i style="top:216px;background:linear-gradient(90deg,#ffe100 0%,#ffed00 6.667%,#fff800 13.33%,#faff00 20%,#efff00 26.67%,#e3ff00 33.33%,#d8ff00 40%,#cdff00 46.67%,#c2ff00 53.33%,#b8ff00 60%,#adff00 66.67%,#a3ff00 73.33%,#9aff00 80%,#90ff00 86.67%,#87ff00 93.33%,#7dff00 100%)"></i>
<i style="top:218px;background:linear-gradient(90deg,#ffe400 0%,#fff000 6.667%,#fffc00 13.33%,#f7ff00 20%,#ebff00 26.67%,#dfff00 33.33%,#d4ff00 40%,#c9ff00 46.67%,#beff00 53.33%,#b3ff00 60%,#a9ff00 66.67%,#9fff00 73.33%,#95ff00 80%,#8cff00 86.67%,#82ff00 93.33%,#79ff00 100%)"></i>
<i style="top:220px;background:linear-gradient(90deg,#ffe800 0%,#fff400 6.667%,#feff00 13.33%,#f3ff00 20%,#e7ff00 26.67%,#dcff00 33.33%,#d0ff00 40%,#c5ff00 46.67%,#baff00 53.33%,#afff00 60%,#a5ff00 66.67%,#9aff00 73.33%,#91ff00 80%,#88ff00 86.67%,#7eff00 93.33%,#74ff00 100%)"></i>
<i style="top:222px;background:linear-gradient(90deg,#ffec00 0%,#fff800 6.667%,#fbff00 13.33%,#efff00 20%,#e3ff00 26.67%,#d8ff00 33.33%,#ccff00 40%,#c1ff00 46.67%,#b6ff00 53.33%,#abff00 60%,#a0ff00 66.67%,#96ff00 73.33%,#8dff00 80%,#83ff00 86.67%,#7aff00 93.33%,#70ff00 100%)"></i>
<i style="top:224px;background:linear-gradient(90deg,#ffef00 0%,#fffb00 6.667%,#f7ff00 13.33%,#ebff00 20%,#dfff00 26.67%,#d4ff00 33.33%,#c8ff00 40%,#bdff00 46.67%,#b2ff00 53.33%,#a7ff00 60%,#9cff00 66.67%,#92ff00 73.33%,#88ff00 80%,#7fff00 86.67%,#75ff00 93.33%,#6bff00 100%)"></i>
<i style="top:226px;background:linear-gradient(90deg,#fff300 0%,#ffff00 6.667%,#f3ff00 13.33%,#e7ff00 20%,#dbff00 26.67%,#cfff00 33.33%,#c4ff00 40%,#b9ff00 46.67%,#aeff00 53.33%,#a2ff00 60%,#97ff00 66.67%,#8dff00 73.33%,#84ff00 80%,#7aff00 86.67%,#71ff00 93.33%,#67ff00 100%)"></i>
<i style="top:228px;background:linear-gradient(90deg,#fff700 0%,#fbff00 6.667%,#efff00 13.33%,#e3ff00 20%,#d7ff00 26.67%,#cbff00 33.33%,#c0ff00 40%,#b5ff00 46.67%,#a9ff00 53.33%,#9eff00 60%,#93ff00 66.67%,#88ff00 73.33%,#7fff00 80%,#76ff00 86.67%,#6cff00 93.33%,#62ff00 100%)"></i>
<i style="top:230px;background:linear-gradient(90deg,#fffb00 0%,#f7ff00 6.667%,#ebff00 13.33%,#dfff00 20%,#d3ff00 26.67%,#c7ff00 33.33%,#bbff00 40%,#b0ff00 46.67%,#a5ff00 53.33%,#99ff00 60%,#8eff00 66.67%,#84ff00 73.33%,#7aff00 80%,#71ff00 86.67%,#67ff00 93.33%,#5dff00 100%)"></i>
<i style="top:232px;background:linear-gradient(90deg,#ffff00 0%,#f3ff00 6.667%,#e7ff00 13.33%,#dbff00 20%,#cfff00 26.67%,#c3ff00 33.33%,#b7ff00 40%,#acff00 46.67%,#a0ff00 53.33%,#95ff00 60%,#8aff00 66.67%,#7fff00 73.33%,#75ff00 80%,#6cff00 86.67%,#62ff00 93.33%,#58ff00 100%)"></i>
<i style="top:234px;background:linear-gradient(90deg,#fbff00 0%,#efff00 6.667%,#e3ff00 13.33%,#d7ff00 20%,#caff00 26.67%,#beff00 33.33%,#b3ff00 40%,#a7ff00 46.67%,#9cff00 53.33%,#90ff00 60%,#85ff00 66.67%,#7aff00 73.33%,#71ff00 80%,#67ff00 86.67%,#5dff00 93.33%,#54ff00 100%)"></i>
<i style="top:236px;background:linear-gradient(90deg,#f7ff00 0%,#ebff00 6.667%,#deff00 13.33%,#d2ff00 20%,#c6ff00 26.67%,#baff00 33.33%,#aeff00 40%,#a3ff00 46.67%,#97ff00 53.33%,#8cff00 60%,#80ff00 66.67%,#75ff00 73.33%,#6cff00 80%,#62ff00 86.67%,#58ff00 93.33%,#4fff00 100%)"></i>
</div>
<span class="tk" style="left:35.5px;top:264.5px;width:40px;text-align:center">40.00</span>
<span class="tk" style="left:95.2px;top:264.5px;width:40px;text-align:center">45.00</span>
<span class="tk" style="left:155.0px;top:264.5px;width:40px;text-align:center">50.00</span>
<span class="tk" style="left:214.8px;top:264.5px;width:40px;text-align:center">55.00</span>
<span class="tk" style="left:274.5px;top:264.5px;width:40px;text-align:center">60.00</span>
<span class="tk" style="left:6px;top:251.5px;width:40px;text-align:right">28.00</span>
<span class="tk" style="left:6px;top:192.0px;width:40px;text-align:right">30.00</span>
<span class="tk" style="left:6px;top:132.5px;width:40px;text-align:right">32.00</span>
<span class="tk" style="left:6px;top:73.0px;width:40px;text-align:right">34.00</span>
<span class="tk" style="left:6px;top:13.5px;width:40px;text-align:right">36.00</span>
<span class="at" style="left:114.5px;top:295.2px;width:120px;text-align:center">A: concentration</span>
<span class="at yt" style="left:-49.7px;top:130.0px;width:120px;text-align:center">D: tempereture</span>
<span class="ti" style="left:94.5px;top:-1.3999999999999986px;width:160px;text-align:center">Desirable function</span>
<span class="tk" style="left:415.5px;top:264.5px;width:40px;text-align:center">3.00</span>
<span class="tk" style="left:475.2px;top:264.5px;width:40px;text-align:center">4.00</span>
<span class="tk" style="left:535.0px;top:264.5px;width:40px;text-align:center">5.00</span>
<span class="tk" style="left:594.8px;top:264.5px;width:40px;text-align:center">6.00</span>
<span class="tk" style="left:654.5px;top:264.5px;width:40px;text-align:center">7.00</span>
<span class="tk" style="left:386px;top:251.5px;width:40px;text-align:right">400.00</span>
<span class="tk" style="left:386px;top:192.0px;width:40px;text-align:right">500.00</span>
<span class="tk" style="left:386px;top:132.5px;width:40px;text-align:right">600.00</span>
<span class="tk" style="left:386px;top:73.0px;width:40px;text-align:right">700.00</span>
<span class="tk" style="left:386px;top:13.5px;width:40px;text-align:right">800.00</span>
<span class="at" style="left:494.5px;top:296px;width:120px;text-align:center">B: ratio</span>
<span class="at yt" style="left:330.3px;top:130.0px;width:120px;text-align:center">C: rate addition</span>
<span class="ti" style="left:474.5px;top:-1.3999999999999986px;width:160px;text-align:center">Desirable function</span>
<span class="tk" style="left:37.5px;top:571.5px;width:40px;text-align:center">40.00</span>
<span class="tk" style="left:97.2px;top:571.5px;width:40px;text-align:center">45.00</span>
<span class="tk" style="left:157.0px;top:571.5px;width:40px;text-align:center">50.00</span>
<span class="tk" style="left:216.8px;top:571.5px;width:40px;text-align:center">55.00</span>
<span class="tk" style="left:276.5px;top:571.5px;width:40px;text-align:center">60.00</span>
<span class="tk" style="left:8px;top:558.5px;width:40px;text-align:right">3.00</span>
<span class="tk" style="left:8px;top:499.0px;width:40px;text-align:right">4.00</span>
<span class="tk" style="left:8px;top:439.5px;width:40px;text-align:right">5.00</span>
<span class="tk" style="left:8px;top:380.0px;width:40px;text-align:right">6.00</span>
<span class="tk" style="left:8px;top:320.5px;width:40px;text-align:right">7.00</span>
<span class="at" style="left:116.5px;top:603px;width:120px;text-align:center">A: concentration</span>
<span class="at yt" style="left:-47.7px;top:437.0px;width:120px;text-align:center">B: ratio</span>
<span class="ti" style="left:96.5px;top:305.6px;width:160px;text-align:center">Desirable function</span>
<span class="tk" style="left:417.5px;top:576.5px;width:40px;text-align:center">3.00</span>
<span class="tk" style="left:477.2px;top:576.5px;width:40px;text-align:center">4.00</span>
<span class="tk" style="left:537.0px;top:576.5px;width:40px;text-align:center">5.00</span>
<span class="tk" style="left:596.8px;top:576.5px;width:40px;text-align:center">6.00</span>
<span class="tk" style="left:656.5px;top:576.5px;width:24.5px;overflow:hidden"><span style="display:block;width:40px;text-align:center">7.00</span></span>
<span class="tk" style="left:388px;top:563.5px;width:40px;text-align:right">28.00</span>
<span class="tk" style="left:388px;top:503.8px;width:40px;text-align:right">30.00</span>
<span class="tk" style="left:388px;top:444.0px;width:40px;text-align:right">32.00</span>
<span class="tk" style="left:388px;top:384.2px;width:40px;text-align:right">34.00</span>
<span class="tk" style="left:388px;top:324.5px;width:40px;text-align:right">36.00</span>
<span class="at" style="left:496.5px;top:607.0px;width:120px;text-align:center">B: ratio</span>
<span class="at yt" style="left:332.3px;top:441.5px;width:120px;text-align:center">D: tempereture</span>
<span class="ti" style="left:476.5px;top:309.6px;width:160px;text-align:center">Desirable function</span>
<span class="tk" style="left:42.5px;top:910.5px;width:40px;text-align:center">40.00</span>
<span class="tk" style="left:102.2px;top:910.5px;width:40px;text-align:center">45.00</span>
<span class="tk" style="left:162.0px;top:910.5px;width:40px;text-align:center">50.00</span>
<span class="tk" style="left:221.8px;top:910.5px;width:40px;text-align:center">55.00</span>
<span class="tk" style="left:281.5px;top:910.5px;width:23.2px;overflow:hidden"><span style="display:block;width:40px;text-align:center">60.00</span></span>
<span class="tk" style="left:13px;top:897.5px;width:40px;text-align:right">400.00</span>
<span class="tk" style="left:13px;top:838.0px;width:40px;text-align:right">500.00</span>
<span class="tk" style="left:13px;top:778.5px;width:40px;text-align:right">600.00</span>
<span class="tk" style="left:13px;top:719.0px;width:40px;text-align:right">700.00</span>
<span class="tk" style="left:13px;top:659.5px;width:40px;text-align:right">800.00</span>
<span class="at" style="left:121.5px;top:942px;width:120px;text-align:center">A: concentration</span>
<span class="at yt" style="left:-42.7px;top:776.0px;width:120px;text-align:center">C: rate addition</span>
<span class="ti" style="left:101.5px;top:644.6px;width:160px;text-align:center">Desirable function</span>
<span class="tk" style="left:416.5px;top:910.5px;width:40px;text-align:center">400.00</span>
<span class="tk" style="left:476.2px;top:910.5px;width:40px;text-align:center">500.00</span>
<span class="tk" style="left:536.0px;top:910.5px;width:40px;text-align:center">600.00</span>
<span class="tk" style="left:595.8px;top:910.5px;width:40px;text-align:center">700.00</span>
<span class="tk" style="left:655.5px;top:910.5px;width:28.0px;overflow:hidden"><span style="display:block;width:40px;text-align:center">800.00</span></span>
<span class="tk" style="left:387px;top:897.5px;width:40px;text-align:right">28.00</span>
<span class="tk" style="left:387px;top:838.0px;width:40px;text-align:right">30.00</span>
<span class="tk" style="left:387px;top:778.5px;width:40px;text-align:right">32.00</span>
<span class="tk" style="left:387px;top:719.0px;width:40px;text-align:right">34.00</span>
<span class="tk" style="left:387px;top:659.5px;width:40px;text-align:right">36.00</span>
<span class="at" style="left:495.5px;top:942px;width:120px;text-align:center">C: rate addition</span>
<span class="at yt" style="left:331.3px;top:776.0px;width:120px;text-align:center">D: tempereture</span>
<span class="ti" style="left:475.5px;top:644.6px;width:160px;text-align:center">Desirable function</span>
<svg width="685" height="952" class="cl">
<g class="ct">
<path d="M108.5,255.0 L107.4,254.4 L106.2,253.8 L105.0,253.2 L103.8,252.6 L102.6,252.0 L101.4,251.4 L100.2,250.8 L98.9,250.2 L97.6,249.6 L96.3,249.1 L95.1,248.5 L93.9,248.0 L92.7,247.5 L91.5,247.0 L90.3,246.5 L89.0,246.1 L87.3,245.5 L86.1,245.1 L84.9,244.7 L83.7,244.3 L82.0,243.7 L80.8,243.4 L79.6,243.0 L77.8,242.5 L76.6,242.2 L75.4,241.9 L73.6,241.4 L72.4,241.1 L70.8,240.7 L69.4,240.3 L68.2,240.0 L66.4,239.6 L65.2,239.3 L63.6,238.9 L62.2,238.6 L61.0,238.3 L59.2,237.9 L58.0,237.6 L56.2,237.2 L55.0,236.9 L55.0,236.9"/>
<path d="M154.0,255.0 L153.2,254.4 L152.0,253.5 L150.8,252.7 L150.0,252.0 L149.0,251.4 L147.8,250.5 L146.6,249.7 L145.8,249.0 L144.8,248.4 L143.7,247.6 L142.5,246.8 L141.3,246.1 L140.4,245.5 L139.5,244.8 L138.3,244.1 L137.1,243.4 L135.9,242.6 L134.7,241.9 L133.6,241.3 L132.6,240.7 L131.6,240.1 L130.5,239.5 L129.3,238.8 L128.1,238.1 L126.9,237.5 L125.7,236.8 L124.5,236.2 L123.3,235.6 L122.1,235.0 L120.9,234.3 L119.7,233.7 L118.5,233.1 L117.3,232.6 L116.1,232.0 L114.9,231.4 L113.7,230.9 L112.5,230.3 L111.3,229.8 L110.1,229.3 L108.9,228.8 L107.4,228.2 L106.0,227.6 L104.7,227.1 L103.5,226.6 L102.3,226.2 L101.1,225.7 L99.6,225.2 L98.1,224.7 L96.9,224.3 L95.7,223.9 L94.2,223.4 L92.7,222.9 L91.5,222.6 L90.3,222.2 L88.5,221.7 L87.3,221.3 L86.1,221.0 L84.4,220.5 L83.2,220.2 L81.6,219.8 L80.2,219.4 L79.0,219.1 L77.2,218.7 L76.0,218.4 L74.2,218.0 L73.0,217.8 L71.5,217.4 L70.0,217.1 L68.8,216.8 L67.0,216.4 L65.8,216.2 L64.0,215.8 L62.8,215.5 L61.0,215.1 L59.8,214.9 L58.0,214.5 L56.8,214.3 L55.0,213.9 L55.0,213.9"/>
<path d="M194.7,255.0 L194.0,254.3 L193.0,253.2 L192.2,252.4 L191.3,251.4 L190.4,250.5 L189.5,249.6 L188.6,248.7 L187.7,247.8 L186.8,246.9 L186.0,246.1 L185.0,245.1 L184.1,244.3 L183.2,243.4 L182.2,242.5 L181.4,241.7 L180.3,240.7 L179.6,240.0 L178.4,238.9 L177.7,238.3 L176.6,237.3 L175.7,236.5 L174.8,235.7 L173.7,234.7 L173.0,234.1 L171.8,233.0 L171.0,232.3 L170.0,231.5 L168.9,230.5 L168.2,229.9 L167.0,228.9 L166.1,228.2 L165.2,227.4 L164.0,226.5 L163.1,225.8 L162.2,225.0 L161.0,224.1 L160.1,223.4 L159.2,222.7 L158.0,221.8 L156.9,221.0 L156.0,220.4 L155.0,219.7 L153.8,218.8 L152.6,218.0 L151.8,217.4 L150.8,216.8 L149.6,216.0 L148.4,215.2 L147.2,214.5 L146.2,213.8 L145.3,213.2 L144.3,212.6 L143.1,211.9 L141.9,211.2 L140.7,210.5 L139.5,209.8 L138.3,209.2 L137.1,208.5 L135.9,207.9 L134.8,207.3 L133.6,206.7 L132.5,206.1 L131.3,205.5 L130.1,204.9 L128.9,204.3 L127.6,203.7 L126.3,203.1 L125.1,202.5 L123.9,202.0 L122.7,201.5 L121.5,200.9 L120.3,200.4 L119.1,199.9 L117.9,199.5 L116.6,198.9 L115.1,198.3 L113.7,197.8 L112.5,197.4 L111.3,196.9 L110.1,196.5 L108.5,195.9 L107.1,195.5 L105.9,195.1 L104.7,194.7 L103.1,194.2 L101.7,193.7 L100.5,193.4 L99.1,193.0 L97.5,192.5 L96.3,192.2 L94.7,191.8 L93.3,191.4 L92.1,191.1 L90.3,190.7 L89.1,190.4 L87.3,190.0 L86.1,189.7 L84.5,189.4 L83.2,189.1 L81.5,188.8 L80.2,188.5 L78.4,188.2 L77.2,188.0 L75.4,187.7 L74.2,187.5 L72.4,187.2 L70.9,187.0 L69.4,186.8 L67.6,186.5 L66.4,186.4 L64.6,186.2 L62.8,185.9 L61.6,185.8 L59.8,185.6 L58.0,185.4 L56.4,185.2 L55.0,185.1 L55.0,185.1"/>
<path d="M177.3,17.0 L178.8,17.6 L180.2,18.1 L181.4,18.5 L182.6,19.0 L183.8,19.4 L185.6,20.0 L186.8,20.4 L188.0,20.8 L189.3,21.2 L191.0,21.7 L192.2,22.0 L193.4,22.4 L195.2,22.9 L196.4,23.2 L197.6,23.6 L199.4,24.0 L200.6,24.3 L202.2,24.8 L203.6,25.1 L204.8,25.4 L206.5,25.8 L207.7,26.0 L209.5,26.4 L210.7,26.6 L212.5,27.0 L213.7,27.2 L215.5,27.5 L216.8,27.7 L218.5,28.0 L220.3,28.3 L221.5,28.5 L223.3,28.7 L224.8,28.9 L226.3,29.1 L228.1,29.3 L229.9,29.5 L231.1,29.7 L232.9,29.8 L234.7,30.0 L236.3,30.1 L237.7,30.2 L239.5,30.4 L241.3,30.5 L243.1,30.6 L244.9,30.6 L246.7,30.7 L247.9,30.7 L249.7,30.8 L251.5,30.8 L253.3,30.8 L255.1,30.9 L256.9,30.9 L258.7,30.9 L260.5,30.8 L262.3,30.8 L264.1,30.8 L265.8,30.7 L267.0,30.7 L268.8,30.6 L270.6,30.6 L272.4,30.5 L274.2,30.4 L276.0,30.4 L277.8,30.3 L279.6,30.2 L280.8,30.1 L282.6,30.0 L284.4,29.9 L286.2,29.8 L288.0,29.7 L289.8,29.5 L291.0,29.5 L292.8,29.3 L294.0,29.2"/>
<path d="M232.7,255.0 L232.0,253.8 L231.3,252.6 L230.6,251.4 L230.0,250.2 L229.3,249.1 L228.7,248.0 L228.1,247.0 L227.5,245.9 L226.9,244.8 L226.3,243.7 L225.6,242.5 L224.9,241.3 L224.2,240.1 L223.5,238.9 L222.9,237.7 L222.2,236.5 L221.5,235.5 L220.9,234.5 L220.3,233.5 L219.6,232.3 L218.8,231.1 L218.1,229.9 L217.3,228.8 L216.7,227.9 L216.1,226.9 L215.4,225.8 L214.6,224.6 L213.8,223.4 L213.1,222.4 L212.5,221.5 L211.8,220.4 L211.0,219.2 L210.2,218.0 L209.5,217.1 L208.9,216.2 L208.0,215.0 L207.2,213.8 L206.5,213.0 L205.8,212.1 L204.9,210.9 L204.2,209.9 L203.5,209.1 L202.6,207.9 L201.8,206.8 L201.2,206.0 L200.2,204.9 L199.4,203.8 L198.8,203.1 L197.8,201.9 L197.0,200.9 L196.3,200.1 L195.3,198.9 L194.6,198.0 L193.8,197.1 L192.8,195.9 L192.2,195.2 L191.2,194.2 L190.4,193.2 L189.6,192.4 L188.6,191.2 L188.0,190.6 L186.9,189.4 L186.2,188.6 L185.2,187.6 L184.4,186.8 L183.5,185.8 L182.6,184.9 L181.7,184.0 L180.8,183.1 L179.9,182.2 L179.0,181.3 L178.1,180.4 L177.2,179.6 L176.3,178.6 L175.4,177.8 L174.4,176.9 L173.6,176.1 L172.5,175.1 L171.8,174.4 L170.6,173.3 L170.0,172.7 L168.8,171.6 L168.0,170.9 L167.0,170.0 L166.0,169.1 L165.2,168.4 L164.0,167.3 L163.3,166.7 L162.2,165.8 L161.2,164.9 L160.4,164.3 L159.2,163.4 L158.2,162.5 L157.4,161.9 L156.2,161.0 L155.1,160.2 L154.3,159.6 L153.2,158.8 L152.0,158.0 L150.9,157.2 L150.0,156.6 L149.0,155.9 L147.8,155.1 L146.6,154.4 L145.4,153.6 L144.5,153.0 L143.5,152.4 L142.4,151.8 L141.3,151.1 L140.1,150.5 L138.9,149.8 L137.7,149.2 L136.5,148.6 L135.3,148.0 L134.1,147.5 L132.9,146.9 L131.7,146.4 L130.4,145.8 L128.9,145.2 L127.5,144.7 L126.3,144.3 L125.1,143.9 L123.9,143.5 L122.1,142.9 L120.9,142.5 L119.7,142.2 L117.9,141.7 L116.7,141.4 L115.1,141.1 L113.7,140.8 L112.2,140.5 L110.7,140.2 L108.9,139.9 L107.7,139.8 L105.9,139.5 L104.1,139.3 L102.9,139.2 L101.1,139.1 L99.3,138.9 L97.5,138.8 L95.7,138.8 L93.9,138.7 L92.1,138.7 L90.3,138.7 L88.5,138.7 L86.7,138.8 L84.9,138.8 L83.2,138.9 L81.4,139.0 L79.6,139.2 L78.4,139.3 L76.6,139.5 L74.8,139.6 L73.0,139.8 L71.8,140.0 L70.0,140.2 L68.2,140.4 L67.0,140.6 L65.2,140.8 L63.6,141.1 L62.2,141.3 L60.4,141.6 L59.2,141.7 L57.4,142.0 L55.6,142.3 L55.0,142.4"/>
<path d="M99.1,17.0 L99.9,17.9 L100.7,18.8 L101.7,19.9 L102.3,20.6 L103.3,21.8 L104.1,22.7 L104.9,23.6 L105.9,24.8 L106.5,25.5 L107.5,26.5 L108.3,27.5 L109.0,28.3 L110.0,29.5 L110.7,30.3 L111.6,31.3 L112.5,32.4 L113.1,33.1 L114.2,34.3 L114.9,35.1 L115.7,36.1 L116.7,37.2 L117.3,37.9 L118.4,39.1 L119.1,39.8 L120.0,40.9 L120.9,41.8 L121.7,42.6 L122.7,43.7 L123.4,44.4 L124.5,45.6 L125.1,46.3 L126.2,47.4 L126.9,48.1 L127.9,49.2 L128.7,49.9 L129.8,51.0 L130.5,51.7 L131.6,52.8 L132.3,53.4 L133.5,54.5 L134.3,55.2 L135.3,56.0 L136.4,57.0 L137.1,57.6 L138.3,58.5 L139.3,59.4 L140.1,59.9 L141.3,60.8 L142.5,61.6 L143.5,62.3 L144.3,62.9 L145.4,63.6 L146.6,64.4 L147.8,65.1 L149.0,65.8 L150.2,66.4 L151.4,67.0 L152.6,67.6 L153.8,68.2 L155.0,68.7 L156.2,69.2 L157.4,69.7 L158.6,70.2 L160.0,70.7 L161.6,71.2 L162.8,71.6 L164.0,71.9 L165.8,72.4 L167.0,72.7 L168.5,73.1 L170.0,73.4 L171.4,73.7 L173.0,73.9 L174.8,74.2 L176.0,74.4 L177.8,74.6 L179.6,74.8 L180.8,75.0 L182.6,75.1 L184.4,75.2 L186.2,75.3 L188.0,75.4 L189.2,75.5 L191.0,75.5 L192.8,75.5 L194.6,75.6 L196.4,75.6 L198.2,75.5 L200.0,75.5 L201.2,75.4 L203.0,75.3 L204.7,75.2 L206.5,75.0 L207.9,74.9 L209.5,74.7 L211.3,74.5 L213.1,74.3 L214.3,74.1 L216.1,73.8 L217.3,73.7 L219.1,73.4 L220.9,73.1 L222.1,72.9 L223.9,72.6 L225.1,72.3 L226.9,72.0 L228.1,71.8 L229.9,71.4 L231.1,71.2 L232.9,70.9 L234.1,70.6 L235.9,70.3 L237.1,70.0 L238.9,69.7 L240.1,69.4 L241.9,69.0 L243.1,68.8 L244.9,68.5 L246.1,68.2 L247.9,67.9 L249.1,67.7 L250.9,67.3 L252.1,67.1 L253.9,66.8 L255.1,66.5 L256.9,66.2 L258.2,65.9 L259.9,65.6 L261.3,65.3 L262.9,65.0 L264.3,64.7 L265.8,64.4 L267.4,64.1 L268.8,63.8 L270.4,63.5 L271.8,63.3 L273.6,62.9 L274.8,62.7 L276.6,62.4 L277.8,62.1 L279.6,61.8 L280.8,61.6 L282.6,61.2 L283.8,61.0 L285.6,60.7 L286.8,60.4 L288.6,60.1 L289.8,59.8 L291.6,59.5 L292.8,59.2 L294.0,59.0"/>
<path d="M267.2,255.0 L266.7,253.8 L266.3,252.6 L265.8,251.4 L265.2,249.8 L264.8,248.4 L264.4,247.2 L263.9,246.1 L263.5,244.6 L262.9,243.1 L262.5,241.9 L262.1,240.7 L261.7,239.3 L261.1,237.7 L260.7,236.5 L260.4,235.3 L259.9,233.8 L259.4,232.3 L259.0,231.1 L258.6,229.9 L258.1,228.4 L257.5,227.0 L257.1,225.8 L256.7,224.6 L256.3,223.3 L255.7,221.6 L255.2,220.4 L254.8,219.2 L254.4,218.0 L253.9,216.5 L253.4,215.0 L253.0,213.8 L252.6,212.6 L252.1,211.2 L251.6,209.7 L251.2,208.5 L250.8,207.3 L250.3,205.6 L249.9,204.3 L249.5,203.1 L249.1,201.7 L248.6,200.1 L248.3,198.9 L247.9,197.5 L247.4,195.9 L247.1,194.8 L246.7,193.0 L246.4,191.8 L246.1,190.5 L245.7,188.8 L245.4,187.6 L245.1,185.8 L244.9,184.6 L244.6,182.8 L244.3,181.0 L244.2,179.8 L244.0,178.1 L243.8,176.3 L243.7,175.1 L243.6,173.3 L243.5,171.5 L243.4,169.7 L243.4,167.9 L243.5,166.1 L243.6,164.3 L243.7,162.7 L243.8,161.4 L244.0,159.6 L244.3,158.0 L244.5,156.6 L244.9,154.9 L245.2,153.6 L245.5,152.4 L246.0,150.6 L246.4,149.4 L246.8,148.2 L247.3,146.9 L247.9,145.4 L248.4,144.1 L249.0,142.9 L249.6,141.7 L250.2,140.5 L250.8,139.3 L251.5,138.2 L252.1,137.2 L252.7,136.2 L253.4,135.1 L254.2,133.9 L255.0,132.7 L255.7,131.9 L256.4,130.9 L257.3,129.7 L258.1,128.8 L258.8,127.9 L259.8,126.8 L260.5,126.0 L261.5,125.0 L262.3,124.1 L263.2,123.2 L264.1,122.3 L264.9,121.4 L265.8,120.5 L266.8,119.6 L267.6,118.8 L268.7,117.8 L269.4,117.2 L270.6,116.1 L271.5,115.4 L272.4,114.6 L273.6,113.6 L274.4,113.0 L275.4,112.2 L276.6,111.2 L277.4,110.6 L278.4,109.9 L279.6,109.0 L280.6,108.3 L281.5,107.7 L282.6,106.8 L283.8,106.0 L284.9,105.3 L285.8,104.7 L286.8,104.0 L288.0,103.2 L289.2,102.5 L290.4,101.7 L291.4,101.1 L292.4,100.5 L293.5,99.9 L294.0,99.6"/>
<path d="M574.3,17.0 L574.6,18.2 L575.0,20.0 L575.4,21.2 L575.8,22.6 L576.2,24.2 L576.6,25.4 L577.0,26.5 L577.6,28.1 L578.1,29.5 L578.6,30.7 L579.0,31.9 L579.6,33.1 L580.1,34.3 L580.7,35.5 L581.3,36.7 L581.9,37.9 L582.6,39.1 L583.3,40.3 L584.0,41.5 L584.7,42.6 L585.3,43.5 L586.0,44.4 L586.9,45.6 L587.7,46.7 L588.3,47.4 L589.4,48.6 L590.1,49.4 L591.1,50.4 L591.9,51.2 L593.0,52.2 L593.7,52.9 L594.9,53.8 L595.9,54.6 L596.7,55.2 L597.9,56.0 L599.1,56.8 L600.3,57.5 L601.5,58.1 L602.7,58.8 L603.9,59.4 L605.1,59.9 L606.3,60.4 L607.5,60.9 L608.7,61.3 L609.9,61.7 L611.7,62.3 L612.9,62.6 L614.1,63.0 L615.9,63.4 L617.1,63.6 L618.9,64.0 L620.1,64.2 L621.9,64.5 L623.7,64.7 L624.9,64.8 L626.7,65.0 L628.5,65.1 L630.3,65.2 L632.1,65.2 L633.9,65.3 L635.7,65.3 L637.5,65.3 L639.3,65.2 L641.1,65.2 L642.9,65.1 L644.6,65.0 L646.4,64.8 L648.1,64.7 L649.4,64.6 L651.2,64.5 L653.0,64.3 L654.7,64.1 L656.0,64.0 L657.8,63.8 L659.6,63.6 L660.8,63.4 L662.6,63.2 L664.4,63.0 L665.6,62.8 L667.4,62.5 L668.8,62.3 L670.4,62.1 L672.2,61.8 L673.4,61.6 L674.0,61.5"/>
<path d="M509.5,255.0 L509.9,253.6 L510.3,252.0 L510.6,250.8 L511.1,249.3 L511.5,247.8 L511.8,246.6 L512.3,245.1 L512.7,243.7 L513.1,242.5 L513.5,241.2 L514.0,239.5 L514.4,238.3 L514.8,237.1 L515.3,235.8 L515.8,234.1 L516.3,232.9 L516.7,231.7 L517.2,230.5 L517.7,229.2 L518.3,227.7 L518.8,226.4 L519.3,225.2 L519.8,224.0 L520.3,222.8 L520.8,221.6 L521.3,220.4 L521.9,219.2 L522.5,217.9 L523.1,216.7 L523.7,215.4 L524.3,214.2 L524.8,213.0 L525.4,211.8 L526.0,210.6 L526.6,209.5 L527.2,208.3 L527.8,207.2 L528.4,206.1 L529.1,204.9 L529.8,203.7 L530.5,202.5 L531.2,201.3 L531.9,200.1 L532.6,198.9 L533.2,197.9 L533.8,197.0 L534.5,195.9 L535.3,194.8 L536.1,193.6 L536.8,192.5 L537.4,191.6 L538.2,190.6 L539.0,189.4 L539.8,188.3 L540.4,187.5 L541.3,186.4 L542.2,185.2 L542.8,184.4 L543.6,183.4 L544.6,182.2 L545.2,181.4 L546.1,180.4 L547.0,179.3 L547.6,178.6 L548.7,177.5 L549.4,176.6 L550.3,175.7 L551.2,174.7 L552.0,173.9 L553.0,172.9 L553.8,172.1 L554.8,171.1 L555.6,170.3 L556.6,169.4 L557.5,168.5 L558.4,167.7 L559.5,166.7 L560.2,166.1 L561.4,165.1 L562.3,164.3 L563.2,163.6 L564.4,162.6 L565.2,161.9 L566.2,161.2 L567.4,160.2 L568.2,159.6 L569.2,158.9 L570.4,158.0 L571.5,157.2 L572.3,156.6 L573.4,155.8 L574.6,155.0 L575.7,154.2 L576.6,153.6 L577.6,152.9 L578.8,152.2 L580.0,151.4 L581.1,150.6 L582.1,150.0 L583.0,149.4 L584.2,148.7 L585.3,148.0 L586.5,147.3 L587.7,146.6 L588.9,145.9 L590.0,145.2 L591.1,144.6 L592.1,144.1 L593.2,143.5 L594.3,142.8 L595.5,142.2 L596.7,141.5 L597.9,140.9 L599.1,140.2 L600.3,139.6 L601.5,139.0 L602.7,138.4 L603.9,137.8 L605.1,137.1 L606.3,136.5 L607.5,136.0 L608.7,135.4 L609.9,134.8 L611.1,134.2 L612.3,133.7 L613.5,133.1 L614.7,132.5 L615.9,132.0 L617.1,131.4 L618.3,130.9 L619.5,130.3 L620.7,129.7 L622.0,129.1 L623.3,128.5 L624.5,127.9 L625.8,127.4 L627.1,126.8 L628.3,126.2 L629.6,125.6 L630.8,125.0 L632.0,124.4 L633.3,123.8 L634.5,123.2 L635.7,122.6 L636.9,122.0 L638.1,121.4 L639.3,120.9 L640.5,120.3 L641.7,119.7 L642.9,119.1 L644.1,118.5 L645.2,118.0 L646.4,117.4 L647.6,116.8 L648.8,116.2 L650.0,115.6 L651.2,115.0 L652.4,114.5 L653.6,113.9 L654.8,113.3 L656.0,112.7 L657.2,112.1 L658.4,111.5 L659.6,110.9 L660.8,110.4 L662.0,109.8 L663.2,109.2 L664.4,108.6 L665.6,108.1 L666.8,107.5 L668.0,106.9 L669.2,106.4 L670.4,105.8 L671.6,105.2 L672.8,104.7 L674.0,104.2"/>
<path d="M520.6,17.0 L520.2,18.8 L519.9,20.0 L519.5,21.8 L519.2,23.0 L518.9,24.3 L518.4,25.9 L518.1,27.1 L517.7,28.9 L517.4,30.1 L517.1,31.3 L516.6,33.1 L516.3,34.3 L515.9,35.7 L515.4,37.3 L515.1,38.5 L514.7,40.0 L514.2,41.5 L513.9,42.6 L513.5,44.1 L513.0,45.6 L512.7,46.8 L512.3,48.1 L511.7,49.8 L511.4,51.0 L511.0,52.2 L510.5,53.9 L510.1,55.2 L509.7,56.4 L509.3,57.6 L508.7,59.4 L508.3,60.5 L507.9,61.7 L507.5,62.9 L506.9,64.6 L506.4,65.9 L506.0,67.1 L505.5,68.3 L505.1,69.6 L504.5,71.2 L504.0,72.5 L503.5,73.7 L503.0,74.9 L502.6,76.1 L502.1,77.2 L501.5,78.7 L500.9,80.1 L500.3,81.4 L499.8,82.6 L499.3,83.8 L498.7,85.0 L498.2,86.2 L497.6,87.4 L497.0,88.6 L496.4,89.8 L495.8,91.0 L495.2,92.2 L494.6,93.4 L494.0,94.5 L493.3,95.7 L492.7,96.9 L492.0,98.1 L491.3,99.3 L490.7,100.4 L490.1,101.4 L489.5,102.4 L488.9,103.5 L488.1,104.7 L487.4,105.9 L486.7,107.1 L486.0,108.3 L485.3,109.3 L484.7,110.2 L484.1,111.2 L483.3,112.4 L482.5,113.6 L481.7,114.8 L481.1,115.7 L480.5,116.6 L479.7,117.8 L478.9,119.0 L478.1,120.1 L477.5,120.9 L476.8,122.0 L475.9,123.2 L475.1,124.2 L474.5,125.1 L473.7,126.2 L472.8,127.4 L472.1,128.2 L471.4,129.1 L470.5,130.3 L469.7,131.3 L469.0,132.1 L468.0,133.3 L467.3,134.1 L466.5,135.1 L465.5,136.1 L464.8,136.9 L463.8,138.0 L463.1,138.7 L462.0,139.8 L461.3,140.5 L460.2,141.6 L459.4,142.3 L458.4,143.2 L457.5,144.1 L456.6,144.9 L455.4,145.8 L454.7,146.4 L453.6,147.4 L452.6,148.2 L451.8,148.9 L450.6,149.9 L449.7,150.6 L448.8,151.3 L447.6,152.2 L446.6,153.0 L445.8,153.6 L444.6,154.5 L443.4,155.3 L442.5,156.0 L441.6,156.6 L440.4,157.5 L439.2,158.3 L438.2,159.0 L437.3,159.6 L436.2,160.3 L435.0,161.1 L435.0,161.1"/>
<path d="M562.0,255.0 L562.6,253.9 L563.2,252.8 L563.8,251.8 L564.4,250.8 L565.0,249.6 L565.7,248.4 L566.4,247.2 L567.2,246.1 L567.9,244.9 L568.6,243.7 L569.2,242.8 L569.8,241.8 L570.5,240.7 L571.2,239.5 L572.0,238.3 L572.8,237.1 L573.4,236.2 L574.0,235.3 L574.8,234.1 L575.6,232.9 L576.4,231.8 L577.0,231.0 L577.7,229.9 L578.5,228.8 L579.4,227.6 L580.0,226.8 L580.7,225.8 L581.6,224.6 L582.4,223.5 L583.0,222.8 L583.8,221.6 L584.7,220.4 L585.3,219.7 L586.2,218.6 L587.1,217.4 L587.7,216.7 L588.6,215.6 L589.5,214.5 L590.1,213.8 L591.1,212.6 L591.9,211.6 L592.6,210.9 L593.7,209.7 L594.3,208.9 L595.3,207.9 L596.1,206.9 L596.9,206.1 L597.9,205.0 L598.5,204.3 L599.7,203.1 L600.3,202.4 L601.4,201.3 L602.1,200.6 L603.1,199.5 L603.9,198.7 L604.9,197.7 L605.7,197.0 L606.8,195.9 L607.5,195.2 L608.6,194.2 L609.3,193.5 L610.5,192.4 L611.2,191.8 L612.3,190.8 L613.2,190.0 L614.1,189.2 L615.2,188.2 L615.9,187.6 L617.1,186.5 L617.9,185.8 L618.9,185.0 L620.0,184.0 L620.7,183.4 L621.9,182.4 L622.8,181.6 L623.7,180.9 L624.9,179.9 L625.6,179.2 L626.7,178.4 L627.8,177.5 L628.5,176.8 L629.7,175.8 L630.6,175.1 L631.5,174.3 L632.7,173.3 L633.5,172.7 L634.5,171.8 L635.6,170.9 L636.4,170.3 L637.5,169.4 L638.5,168.5 L639.3,167.9 L640.5,167.0 L641.5,166.1 L642.3,165.5 L643.5,164.6 L644.5,163.7 L645.3,163.1 L646.4,162.2 L647.6,161.4 L648.4,160.8 L649.4,160.0 L650.6,159.1 L651.6,158.4 L652.4,157.8 L653.6,156.9 L654.8,156.1 L655.8,155.4 L656.7,154.8 L657.8,154.0 L659.0,153.2 L660.2,152.4 L661.2,151.8 L662.1,151.2 L663.2,150.5 L664.4,149.7 L665.6,148.9 L666.7,148.2 L667.7,147.6 L668.6,147.0 L669.8,146.3 L671.0,145.5 L672.2,144.8 L673.3,144.1 L674.0,143.6"/>
<path d="M477.9,17.0 L477.3,18.2 L476.8,19.4 L476.2,20.6 L475.6,21.8 L475.1,23.0 L474.5,24.2 L473.9,25.4 L473.3,26.5 L472.7,27.7 L472.1,28.9 L471.5,30.1 L470.9,31.3 L470.3,32.5 L469.7,33.7 L469.1,34.9 L468.5,36.1 L467.8,37.3 L467.2,38.5 L466.6,39.7 L465.9,40.9 L465.3,42.1 L464.6,43.2 L463.9,44.4 L463.3,45.6 L462.6,46.8 L462.0,48.0 L461.4,49.0 L460.8,50.1 L460.2,51.1 L459.5,52.2 L458.8,53.4 L458.1,54.6 L457.4,55.8 L456.7,57.0 L456.0,58.1 L455.4,59.1 L454.8,60.1 L454.1,61.1 L453.3,62.3 L452.6,63.5 L451.8,64.7 L451.2,65.7 L450.6,66.6 L449.8,67.7 L449.0,68.9 L448.2,70.1 L447.6,71.0 L447.0,71.9 L446.1,73.1 L445.2,74.3 L444.6,75.2 L443.9,76.1 L443.0,77.2 L442.2,78.4 L441.6,79.2 L440.8,80.2 L439.9,81.4 L439.2,82.3 L438.5,83.2 L437.5,84.4 L436.8,85.3 L436.1,86.2 L435.1,87.4 L435.0,87.6"/>
<path d="M604.6,255.0 L605.5,253.8 L606.3,252.7 L606.9,251.9 L607.7,250.8 L608.6,249.6 L609.3,248.6 L609.9,247.8 L610.8,246.6 L611.7,245.5 L612.3,244.7 L613.1,243.7 L614.0,242.5 L614.7,241.6 L615.4,240.7 L616.4,239.5 L617.1,238.6 L617.8,237.7 L618.8,236.5 L619.5,235.6 L620.3,234.7 L621.3,233.5 L621.9,232.8 L622.8,231.7 L623.7,230.7 L624.3,229.9 L625.4,228.8 L626.1,227.9 L626.9,227.0 L627.9,225.9 L628.6,225.2 L629.6,224.0 L630.3,223.3 L631.3,222.2 L632.1,221.4 L633.0,220.4 L633.9,219.5 L634.7,218.6 L635.7,217.6 L636.4,216.8 L637.5,215.8 L638.2,215.0 L639.3,214.0 L640.0,213.2 L641.1,212.2 L641.8,211.5 L642.9,210.5 L643.7,209.7 L644.6,208.8 L645.6,207.9 L646.4,207.0 L647.4,206.1 L648.2,205.3 L649.3,204.3 L650.0,203.6 L651.2,202.5 L651.8,201.9 L653.0,200.8 L653.7,200.1 L654.8,199.0 L655.6,198.3 L656.6,197.3 L657.4,196.5 L658.4,195.6 L659.3,194.8 L660.2,193.8 L661.2,193.0 L662.0,192.1 L663.0,191.2 L663.8,190.5 L665.0,189.4 L665.6,188.8 L666.8,187.7 L667.6,187.0 L668.6,186.0 L669.5,185.2 L670.4,184.4 L671.6,183.4 L672.2,182.8 L673.4,181.8 L674.0,181.3"/>
<path d="M641.0,255.0 L641.7,254.2 L642.5,253.2 L643.5,252.0 L644.1,251.3 L644.9,250.2 L645.8,249.1 L646.4,248.4 L647.4,247.2 L648.2,246.2 L648.9,245.5 L649.9,244.3 L650.6,243.4 L651.5,242.5 L652.4,241.4 L653.0,240.7 L654.1,239.5 L654.8,238.7 L655.7,237.7 L656.6,236.7 L657.4,235.9 L658.4,234.8 L659.1,234.1 L660.2,232.9 L660.8,232.3 L661.9,231.1 L662.6,230.4 L663.6,229.4 L664.4,228.5 L665.4,227.6 L666.2,226.7 L667.1,225.8 L668.0,224.9 L668.9,224.0 L669.8,223.0 L670.6,222.2 L671.6,221.2 L672.4,220.4 L673.4,219.4 L674.0,218.8"/>
<path d="M174.8,562.0 L175.2,560.8 L175.6,559.6 L176.1,557.8 L176.5,556.6 L176.8,555.4 L177.3,553.6 L177.6,552.5 L178.0,551.0 L178.4,549.5 L178.7,548.3 L179.1,546.5 L179.4,545.3 L179.8,543.5 L180.0,542.3 L180.4,540.5 L180.6,539.3 L180.9,537.5 L181.2,536.4 L181.5,534.6 L181.7,533.4 L182.0,531.6 L182.2,530.0 L182.4,528.6 L182.6,526.8 L182.8,525.6 L183.0,523.8 L183.2,522.0 L183.4,520.7 L183.6,519.1 L183.7,517.3 L183.9,515.5 L184.0,514.1 L184.1,512.5 L184.2,510.7 L184.3,508.9 L184.4,507.1 L184.5,505.3 L184.5,503.5 L184.5,501.8 L184.5,500.0 L184.5,498.2 L184.5,496.4 L184.4,494.6 L184.3,492.8 L184.2,491.0 L184.1,489.2 L184.0,487.6 L183.9,486.2 L183.7,484.5 L183.5,482.7 L183.4,481.5 L183.1,479.7 L182.9,477.9 L182.7,476.7 L182.4,474.9 L182.2,473.4 L181.9,471.9 L181.6,470.2 L181.4,468.9 L181.0,467.2 L180.7,466.0 L180.4,464.5 L180.0,463.0 L179.7,461.8 L179.3,460.0 L178.9,458.8 L178.6,457.5 L178.1,455.8 L177.7,454.6 L177.4,453.4 L176.8,451.6 L176.4,450.5 L176.0,449.3 L175.6,448.1 L175.0,446.4 L174.5,445.1 L174.1,443.9 L173.6,442.7 L173.2,441.5 L172.6,440.1 L172.0,438.7 L171.4,437.3 L170.9,436.1 L170.4,434.9 L169.8,433.8 L169.2,432.6 L168.6,431.4 L168.0,430.2 L167.3,429.0 L166.6,427.8 L166.0,426.8 L165.4,425.8 L164.8,424.8 L164.0,423.6 L163.2,422.4 L162.4,421.2 L161.8,420.4 L161.1,419.4 L160.2,418.2 L159.4,417.2 L158.8,416.4 L157.9,415.3 L157.0,414.3 L156.4,413.5 L155.3,412.3 L154.6,411.5 L153.7,410.5 L152.8,409.6 L151.9,408.7 L151.0,407.8 L150.1,406.9 L149.2,406.1 L148.2,405.1 L147.4,404.5 L146.3,403.4 L145.4,402.7 L144.5,401.9 L143.3,401.0 L142.4,400.4 L141.5,399.6 L140.3,398.8 L139.1,398.0 L138.3,397.4 L137.3,396.7 L136.1,395.9 L134.9,395.2 L133.7,394.5 L132.5,393.8 L131.3,393.2 L130.2,392.6 L129.0,392.0 L127.8,391.4 L126.5,390.8 L125.3,390.3 L124.1,389.7 L122.9,389.3 L121.7,388.8 L120.5,388.3 L119.0,387.8 L117.5,387.3 L116.3,387.0 L115.1,386.6 L113.3,386.2 L112.1,385.9 L110.3,385.5 L109.1,385.3 L107.3,385.0 L106.1,384.8 L104.3,384.6 L102.5,384.4 L100.7,384.3 L99.5,384.2 L97.7,384.2 L95.9,384.2 L94.1,384.2 L92.9,384.3 L91.1,384.4 L89.3,384.6 L87.7,384.8 L86.4,385.0 L84.6,385.4 L83.4,385.6 L81.6,386.0 L80.4,386.3 L78.9,386.6 L77.4,387.0 L76.2,387.4 L74.8,387.8 L73.2,388.4 L72.0,388.8 L70.8,389.2 L69.6,389.7 L68.2,390.2 L66.8,390.8 L65.4,391.4 L64.2,392.0 L63.0,392.5 L61.8,393.1 L60.6,393.7 L59.4,394.4 L58.3,395.0 L57.2,395.6 L57.0,395.7"/>
<path d="M217.2,562.0 L217.5,560.4 L217.8,559.0 L218.1,557.6 L218.5,556.0 L218.7,554.7 L219.1,553.1 L219.3,551.6 L219.6,550.1 L219.9,548.3 L220.1,547.1 L220.4,545.3 L220.6,544.1 L220.9,542.3 L221.1,540.9 L221.3,539.3 L221.6,537.5 L221.8,536.4 L222.0,534.6 L222.2,532.8 L222.3,531.6 L222.6,529.8 L222.8,528.0 L222.9,526.5 L223.1,525.0 L223.3,523.2 L223.5,521.4 L223.6,520.2 L223.7,518.5 L223.9,516.7 L224.0,514.9 L224.1,513.7 L224.2,511.9 L224.4,510.1 L224.5,508.3 L224.5,506.5 L224.6,504.7 L224.7,502.9 L224.7,501.6 L224.8,500.0 L224.8,498.2 L224.8,496.4 L224.8,494.6 L224.8,492.8 L224.8,491.0 L224.7,489.2 L224.7,488.0 L224.6,486.2 L224.5,484.5 L224.4,482.7 L224.3,480.9 L224.2,479.1 L224.1,477.9 L224.0,476.1 L223.8,474.3 L223.6,472.5 L223.5,471.3 L223.2,469.5 L223.0,467.8 L222.8,466.6 L222.6,464.8 L222.3,463.0 L222.1,461.8 L221.8,460.0 L221.6,458.8 L221.3,457.0 L221.1,455.8 L220.7,454.0 L220.5,452.8 L220.1,451.1 L219.9,449.9 L219.5,448.1 L219.2,446.9 L218.8,445.1 L218.5,443.9 L218.1,442.3 L217.8,440.9 L217.5,439.7 L217.1,437.9 L216.7,436.7 L216.3,435.1 L216.0,433.8 L215.6,432.6 L215.1,430.8 L214.8,429.6 L214.4,428.4 L213.9,426.8 L213.5,425.4 L213.1,424.2 L212.7,423.0 L212.1,421.3 L211.7,420.0 L211.3,418.8 L210.8,417.6 L210.3,416.3 L209.7,414.8 L209.2,413.5 L208.7,412.3 L208.3,411.1 L207.8,409.9 L207.2,408.7 L206.7,407.5 L206.1,406.3 L205.6,405.1 L205.0,403.8 L204.4,402.6 L203.8,401.5 L203.2,400.3 L202.5,399.2 L201.9,398.0 L201.2,396.8 L200.6,395.6 L199.9,394.4 L199.1,393.2 L198.4,392.0 L197.8,390.9 L197.2,390.0 L196.5,389.0 L195.7,387.8 L194.9,386.6 L194.2,385.6 L193.6,384.7 L192.8,383.6 L191.9,382.5 L191.2,381.5 L190.6,380.7 L189.6,379.5 L188.8,378.4 L188.2,377.6 L187.3,376.5 L186.4,375.4 L185.8,374.7 L184.8,373.5 L184.0,372.5 L183.3,371.7 L182.3,370.5 L181.6,369.7 L180.8,368.7 L179.8,367.6 L179.2,366.9 L178.1,365.8 L177.4,365.0 L176.4,364.0 L175.6,363.1 L174.7,362.2 L173.8,361.3 L172.9,360.4 L172.0,359.5 L171.0,358.6 L170.2,357.9 L169.0,356.8 L168.4,356.2 L167.2,355.2 L166.3,354.4 L165.4,353.7 L164.2,352.7 L163.4,352.0 L162.4,351.3 L161.2,350.4 L160.2,349.6 L159.4,349.1 L158.2,348.2 L157.0,347.4 L155.9,346.7 L155.0,346.1 L154.0,345.4 L152.8,344.7 L151.6,344.0 L150.4,343.3 L149.2,342.6 L148.0,341.9 L146.9,341.3 L145.7,340.7 L144.5,340.1 L143.3,339.5 L142.1,338.9 L140.9,338.4 L139.7,337.9 L138.5,337.4 L137.3,336.9 L136.1,336.4 L134.9,335.9 L133.2,335.3 L131.9,334.9 L130.7,334.5 L129.5,334.1 L127.7,333.6 L126.5,333.2 L125.3,332.9 L123.5,332.4 L122.3,332.1 L120.7,331.8 L119.3,331.5 L117.8,331.2 L116.3,330.9 L114.5,330.6 L113.3,330.4 L111.5,330.2 L109.7,330.0 L108.5,329.9 L106.7,329.7 L104.9,329.6 L103.1,329.5 L101.3,329.5 L99.5,329.5 L97.7,329.5 L95.9,329.6 L94.1,329.7 L92.3,329.8 L90.6,330.0 L89.3,330.1 L87.5,330.3 L85.9,330.6 L84.6,330.8 L82.8,331.1 L81.6,331.3 L79.8,331.7 L78.6,331.9 L76.8,332.4 L75.6,332.7 L74.4,333.0 L72.6,333.5 L71.4,333.8 L70.2,334.2 L68.5,334.7 L67.2,335.2 L66.0,335.6 L64.8,336.0 L63.5,336.5 L62.0,337.1 L60.6,337.7 L59.4,338.2 L58.2,338.7 L57.0,339.2 L57.0,339.2"/>
<path d="M249.5,562.0 L249.9,560.3 L250.1,559.0 L250.5,557.2 L250.7,556.0 L251.0,554.2 L251.2,553.1 L251.5,551.3 L251.7,550.1 L252.0,548.3 L252.3,546.5 L252.5,545.3 L252.7,543.5 L252.9,542.3 L253.1,540.5 L253.4,538.7 L253.5,537.5 L253.8,535.8 L254.0,534.0 L254.1,532.8 L254.3,531.0 L254.5,529.2 L254.7,527.7 L254.8,526.2 L255.0,524.4 L255.2,522.6 L255.3,521.3 L255.4,519.6 L255.5,517.9 L255.7,516.1 L255.8,514.3 L255.9,513.1 L256.0,511.3 L256.1,509.5 L256.2,507.7 L256.3,505.9 L256.3,504.1 L256.4,502.4 L256.4,500.6 L256.5,499.4 L256.5,497.6 L256.5,495.8 L256.5,494.0 L256.5,492.2 L256.5,490.4 L256.5,489.2 L256.4,487.4 L256.4,485.6 L256.3,483.9 L256.2,482.1 L256.2,480.3 L256.1,478.5 L255.9,476.7 L255.9,475.5 L255.7,473.7 L255.6,471.9 L255.4,470.1 L255.3,468.4 L255.1,467.2 L254.9,465.4 L254.7,463.6 L254.6,462.4 L254.3,460.6 L254.1,458.8 L253.9,457.6 L253.6,455.8 L253.4,454.6 L253.1,452.8 L252.9,451.2 L252.6,449.9 L252.3,448.1 L252.1,446.9 L251.8,445.1 L251.5,443.9 L251.2,442.1 L250.9,440.9 L250.5,439.1 L250.3,437.9 L249.9,436.2 L249.6,434.9 L249.3,433.6 L248.9,432.0 L248.6,430.8 L248.2,429.0 L247.9,427.8 L247.5,426.2 L247.1,424.8 L246.8,423.6 L246.3,421.8 L246.0,420.6 L245.7,419.4 L245.2,417.6 L244.8,416.5 L244.5,415.3 L243.9,413.5 L243.6,412.3 L243.2,411.1 L242.7,409.5 L242.2,408.1 L241.9,406.9 L241.5,405.7 L240.9,404.0 L240.5,402.7 L240.1,401.5 L239.7,400.4 L239.1,398.8 L238.6,397.4 L238.2,396.2 L237.7,395.0 L237.2,393.8 L236.7,392.4 L236.1,390.9 L235.6,389.6 L235.1,388.4 L234.6,387.2 L234.1,386.0 L233.6,384.8 L233.0,383.6 L232.5,382.5 L231.9,381.2 L231.3,380.0 L230.7,378.7 L230.1,377.5 L229.5,376.3 L228.9,375.1 L228.3,373.9 L227.7,372.8 L227.1,371.7 L226.5,370.5 L225.8,369.3 L225.2,368.1 L224.5,366.9 L223.8,365.8 L223.1,364.6 L222.4,363.4 L221.7,362.2 L221.1,361.2 L220.5,360.2 L219.9,359.2 L219.1,358.0 L218.4,356.8 L217.6,355.6 L216.9,354.5 L216.3,353.6 L215.7,352.6 L214.9,351.4 L214.1,350.2 L213.3,349.2 L212.7,348.4 L212.0,347.3 L211.1,346.1 L210.3,345.0 L209.7,344.2 L208.9,343.1 L208.0,341.9 L207.3,341.1 L206.6,340.1 L205.6,338.9 L205.0,338.0 L204.2,337.1 L203.2,335.9 L202.6,335.1 L201.7,334.1 L200.8,333.0 L200.2,332.4 L199.1,331.2 L198.4,330.3 L197.5,329.4 L196.6,328.4 L195.8,327.6 L194.8,326.5 L194.0,325.8 L193.0,324.7 L192.2,324.0 L192.2,324.0"/>
<path d="M276.6,562.0 L276.8,560.7 L277.1,559.0 L277.4,557.3 L277.6,556.0 L277.9,554.2 L278.1,553.1 L278.4,551.3 L278.6,549.7 L278.8,548.3 L279.1,546.5 L279.3,545.3 L279.5,543.5 L279.7,541.7 L279.9,540.5 L280.1,538.7 L280.3,536.9 L280.4,535.8 L280.6,534.0 L280.8,532.2 L281.0,530.4 L281.1,529.2 L281.3,527.4 L281.5,525.6 L281.6,523.8 L281.7,522.6 L281.9,520.8 L282.0,519.1 L282.2,517.3 L282.3,516.1 L282.4,514.3 L282.5,512.5 L282.6,510.7 L282.7,508.9 L282.8,507.1 L282.8,505.9 L282.9,504.1 L283.0,502.4 L283.0,500.6 L283.1,498.8 L283.1,497.0 L283.1,495.2 L283.1,493.4 L283.1,491.6 L283.1,489.8 L283.1,488.0 L283.0,486.2 L283.0,484.5 L282.9,482.7 L282.9,480.9 L282.8,479.3 L282.8,477.9 L282.7,476.1 L282.6,474.3 L282.5,472.5 L282.3,470.7 L282.2,468.9 L282.1,467.8 L282.0,466.0 L281.9,464.2 L281.7,462.4 L281.6,461.2 L281.5,459.4 L281.3,457.6 L281.1,455.8 L281.0,454.6 L280.8,452.8 L280.6,451.1 L280.4,449.7 L280.2,448.1 L280.0,446.3 L279.8,445.0 L279.6,443.3 L279.3,441.5 L279.2,440.3 L278.9,438.5 L278.6,436.7 L278.5,435.5 L278.2,433.8 L278.0,432.6 L277.7,430.8 L277.4,429.4 L277.1,427.8 L276.8,426.2 L276.6,424.8 L276.2,423.2 L275.9,421.8 L275.6,420.4 L275.3,418.8 L275.0,417.6 L274.6,415.9 L274.3,414.7 L273.9,412.9 L273.6,411.7 L273.2,410.1 L272.9,408.7 L272.6,407.5 L272.1,405.7 L271.7,404.5 L271.4,403.3 L270.9,401.5 L270.5,400.4 L270.2,399.2 L269.6,397.4 L269.2,396.2 L268.9,395.0 L268.4,393.7 L267.9,392.0 L267.5,390.8 L267.1,389.6 L266.6,388.3 L266.1,386.6 L265.6,385.4 L265.2,384.2 L264.8,383.1 L264.3,381.6 L263.7,380.1 L263.2,378.9 L262.8,377.7 L262.3,376.5 L261.8,375.3 L261.3,373.8 L260.7,372.4 L260.2,371.1 L259.7,369.9 L259.2,368.7 L258.6,367.5 L258.1,366.4 L257.6,365.2 L257.1,363.9 L256.5,362.6 L255.9,361.3 L255.3,360.0 L254.7,358.7 L254.1,357.4 L253.5,356.2 L252.9,355.0 L252.3,353.8 L251.7,352.6 L251.1,351.4 L250.5,350.2 L249.9,349.1 L249.3,347.9 L248.7,346.8 L248.1,345.6 L247.5,344.5 L246.9,343.5 L246.3,342.4 L245.7,341.3 L245.0,340.1 L244.3,338.9 L243.6,337.7 L242.9,336.5 L242.1,335.3 L241.5,334.3 L240.9,333.3 L240.3,332.4 L239.5,331.2 L238.8,330.0 L238.0,328.8 L237.3,327.8 L236.7,326.9 L236.0,325.8 L235.2,324.6 L234.7,324.0"/>
<path d="M296.0,395.9 L295.6,394.4 L295.3,393.2 L294.8,391.4 L294.5,390.2 L294.1,389.0 L293.6,387.2 L293.3,386.0 L292.9,384.8 L292.4,383.2 L292.0,381.9 L291.6,380.7 L291.2,379.5 L290.6,377.7 L290.2,376.5 L289.8,375.3 L289.4,374.1 L288.8,372.4 L288.3,371.1 L287.9,369.9 L287.5,368.7 L287.0,367.5 L286.4,366.0 L285.9,364.6 L285.4,363.4 L284.9,362.2 L284.4,361.0 L283.9,359.8 L283.4,358.6 L282.8,357.2 L282.2,355.8 L281.6,354.4 L281.1,353.2 L280.6,352.0 L280.1,350.8 L279.5,349.6 L279.0,348.5 L278.5,347.3 L277.9,346.1 L277.4,344.9 L276.8,343.6 L276.2,342.3 L275.6,341.0 L275.0,339.8 L274.4,338.5 L273.8,337.3 L273.2,336.0 L272.6,334.8 L272.0,333.6 L271.4,332.4 L270.8,331.2 L270.2,330.0 L269.6,328.9 L269.0,327.7 L268.4,326.6 L267.8,325.5 L267.2,324.4 L267.0,324.0"/>
<path d="M437.0,337.4 L438.7,337.6 L440.0,337.8 L441.8,338.0 L443.2,338.2 L444.8,338.4 L446.6,338.6 L447.8,338.8 L449.6,339.0 L451.4,339.3 L452.6,339.4 L454.4,339.6 L456.2,339.9 L457.4,340.0 L459.2,340.2 L461.0,340.5 L462.2,340.6 L464.0,340.8 L465.8,341.1 L466.9,341.2 L468.7,341.4 L470.5,341.6 L471.7,341.8 L473.5,342.0 L475.3,342.2 L477.0,342.4 L478.3,342.5 L480.1,342.7 L481.9,342.9 L483.1,343.0 L484.9,343.2 L486.7,343.4 L488.1,343.6 L489.7,343.7 L491.5,343.9 L493.3,344.1 L494.5,344.2 L496.3,344.4 L498.1,344.6 L499.9,344.8 L501.1,344.9 L502.9,345.0 L504.7,345.2 L506.4,345.4 L507.7,345.5 L509.5,345.6 L511.3,345.8 L513.1,346.0 L514.3,346.1 L516.1,346.2 L517.9,346.3 L519.7,346.5 L520.9,346.6 L522.7,346.7 L524.5,346.8 L526.3,347.0 L528.0,347.1 L529.2,347.2 L531.0,347.3 L532.8,347.4 L534.6,347.5 L536.4,347.6 L538.2,347.7 L539.4,347.8 L541.2,347.9 L543.0,347.9 L544.8,348.0 L546.6,348.1 L548.4,348.2 L550.2,348.3 L552.0,348.3 L553.2,348.4 L555.0,348.4 L556.8,348.5 L558.6,348.6 L560.4,348.6 L562.2,348.7 L564.0,348.8 L565.8,348.8 L567.6,348.9 L569.4,348.9 L570.6,349.0 L572.4,349.0 L574.2,349.1 L576.0,349.2 L577.8,349.2 L579.6,349.3 L581.4,349.3 L583.2,349.4 L585.0,349.4 L586.7,349.5 L588.5,349.5 L590.3,349.5 L592.1,349.6 L593.9,349.6 L595.7,349.6 L597.5,349.5 L599.3,349.5 L601.1,349.5 L602.9,349.5 L604.7,349.4 L606.5,349.4 L608.3,349.4 L610.1,349.3 L611.9,349.3 L613.7,349.2 L615.5,349.1 L617.3,349.1 L619.1,349.0 L620.3,348.9 L622.1,348.8 L623.9,348.7 L625.7,348.6 L627.5,348.5 L629.3,348.4 L630.5,348.4 L632.3,348.2 L634.1,348.1 L635.9,348.0 L637.7,347.9 L639.2,347.8 L640.7,347.7 L642.5,347.5 L644.3,347.4 L646.1,347.2 L647.2,347.2 L649.0,347.0 L650.8,346.9 L652.6,346.7 L654.4,346.6 L655.6,346.5 L657.4,346.4 L659.2,346.2 L661.0,346.1 L662.4,346.0 L664.0,345.8 L665.8,345.7 L667.6,345.5 L669.4,345.4 L670.6,345.3 L672.4,345.1 L674.2,344.9 L675.7,344.8 L676.0,344.7"/>
<path d="M437.0,358.5 L438.2,358.7 L440.0,359.0 L441.2,359.2 L443.0,359.5 L444.3,359.7 L446.0,360.0 L447.8,360.3 L449.0,360.5 L450.8,360.8 L452.0,361.0 L453.8,361.3 L455.1,361.5 L456.8,361.8 L458.6,362.1 L459.8,362.3 L461.6,362.6 L462.8,362.8 L464.6,363.1 L466.3,363.3 L467.5,363.5 L469.3,363.8 L470.5,364.0 L472.3,364.3 L474.0,364.5 L475.3,364.8 L477.1,365.0 L478.3,365.2 L480.1,365.5 L481.6,365.7 L483.1,366.0 L484.9,366.3 L486.1,366.4 L487.9,366.7 L489.4,366.9 L490.9,367.2 L492.7,367.4 L493.9,367.6 L495.7,367.9 L497.5,368.1 L498.7,368.3 L500.5,368.5 L501.9,368.7 L503.5,369.0 L505.3,369.2 L506.5,369.4 L508.3,369.6 L510.1,369.9 L511.3,370.0 L513.1,370.3 L514.9,370.5 L516.1,370.6 L517.9,370.9 L519.7,371.1 L520.9,371.2 L522.7,371.5 L524.5,371.7 L525.7,371.8 L527.4,372.0 L529.2,372.2 L530.7,372.3 L532.2,372.5 L534.0,372.6 L535.8,372.8 L537.2,372.9 L538.8,373.1 L540.6,373.2 L542.4,373.3 L544.2,373.5 L545.4,373.6 L547.2,373.7 L549.0,373.8 L550.8,373.9 L552.6,374.0 L553.8,374.1 L555.6,374.2 L557.4,374.3 L559.2,374.5 L561.0,374.6 L562.8,374.7 L564.0,374.8 L565.8,374.9 L567.6,375.0 L569.4,375.1 L571.2,375.3 L572.4,375.4 L574.2,375.5 L576.0,375.6 L577.8,375.8 L579.6,375.9 L580.8,376.0 L582.6,376.1 L584.4,376.2 L586.2,376.3 L587.9,376.5 L589.1,376.5 L590.9,376.6 L592.7,376.7 L594.5,376.8 L596.3,376.9 L598.1,377.0 L599.9,377.0 L601.7,377.1 L602.9,377.1 L604.7,377.2 L606.5,377.2 L608.3,377.3 L610.1,377.3 L611.9,377.3 L613.7,377.3 L615.5,377.3 L617.3,377.3 L619.1,377.3 L620.9,377.3 L622.7,377.3 L624.5,377.2 L626.3,377.2 L628.1,377.2 L629.9,377.1 L631.1,377.1 L632.9,377.1 L634.7,377.0 L636.5,377.0 L638.3,376.9 L640.1,376.8 L641.9,376.8 L643.7,376.7 L645.5,376.6 L647.2,376.5 L648.4,376.5 L650.2,376.4 L652.0,376.3 L653.8,376.2 L655.6,376.1 L657.4,376.0 L658.6,375.9 L660.4,375.8 L662.2,375.7 L664.0,375.5 L665.8,375.4 L667.0,375.3 L668.8,375.2 L670.6,375.0 L672.4,374.9 L674.2,374.7 L675.4,374.6 L676.0,374.6"/>
<path d="M437.0,384.0 L438.2,384.3 L440.0,384.7 L441.2,385.0 L443.0,385.4 L444.2,385.6 L446.0,386.1 L447.2,386.3 L448.9,386.7 L450.2,387.0 L451.6,387.3 L453.2,387.7 L454.4,387.9 L456.2,388.3 L457.4,388.6 L459.2,389.0 L460.4,389.3 L462.2,389.7 L463.4,389.9 L464.9,390.3 L466.4,390.6 L467.6,390.9 L469.3,391.3 L470.5,391.6 L472.3,392.0 L473.5,392.2 L475.3,392.6 L476.5,392.9 L478.3,393.3 L479.5,393.6 L480.9,393.9 L482.5,394.3 L483.7,394.5 L485.5,394.9 L486.7,395.2 L488.5,395.6 L489.7,395.9 L491.5,396.3 L492.7,396.5 L494.2,396.9 L495.7,397.2 L496.9,397.5 L498.7,397.9 L499.9,398.1 L501.7,398.5 L502.9,398.8 L504.7,399.2 L505.9,399.5 L507.7,399.9 L508.9,400.1 L510.6,400.5 L511.9,400.7 L513.5,401.1 L514.9,401.4 L516.4,401.7 L517.9,402.0 L519.4,402.3 L520.9,402.6 L522.4,402.9 L523.9,403.2 L525.6,403.5 L526.8,403.7 L528.6,404.0 L529.8,404.2 L531.6,404.6 L532.8,404.7 L534.6,405.0 L536.4,405.3 L537.6,405.4 L539.4,405.7 L541.1,405.9 L542.4,406.0 L544.2,406.2 L546.0,406.4 L547.2,406.6 L549.0,406.8 L550.8,407.0 L552.0,407.1 L553.8,407.3 L555.6,407.5 L556.8,407.7 L558.6,407.9 L560.4,408.2 L561.6,408.3 L563.4,408.6 L565.2,408.8 L566.4,409.0 L568.2,409.3 L569.4,409.5 L571.2,409.7 L573.0,410.0 L574.2,410.2 L576.0,410.5 L577.3,410.7 L579.0,410.9 L580.8,411.2 L582.0,411.4 L583.8,411.6 L585.3,411.9 L586.7,412.1 L588.5,412.3 L589.7,412.5 L591.5,412.8 L593.3,413.0 L594.5,413.1 L596.3,413.4 L598.1,413.6 L599.3,413.7 L601.1,414.0 L602.9,414.2 L604.1,414.3 L605.9,414.5 L607.7,414.7 L609.3,414.9 L610.7,415.0 L612.5,415.2 L614.3,415.4 L615.5,415.5 L617.3,415.6 L619.1,415.8 L620.9,416.0 L622.1,416.1 L623.9,416.2 L625.7,416.3 L627.5,416.5 L629.3,416.6 L630.5,416.7 L632.3,416.8 L634.1,416.9 L635.9,417.0 L637.7,417.1 L639.5,417.1 L641.3,417.2 L642.5,417.3 L644.3,417.3 L646.1,417.4 L647.8,417.4 L649.6,417.5 L651.4,417.5 L653.2,417.5 L655.0,417.6 L656.8,417.6 L658.6,417.6 L660.4,417.6 L662.2,417.5 L664.0,417.5 L665.8,417.5 L667.6,417.5 L669.4,417.4 L671.2,417.3 L673.0,417.3 L674.2,417.2 L676.0,417.2 L676.0,417.2"/>
<path d="M437.0,416.3 L438.2,416.7 L439.9,417.3 L441.2,417.7 L442.4,418.1 L443.6,418.5 L445.3,419.0 L446.6,419.5 L447.8,419.8 L449.0,420.2 L450.8,420.8 L452.0,421.2 L453.2,421.6 L454.4,422.0 L456.2,422.6 L457.4,423.0 L458.6,423.4 L459.8,423.8 L461.6,424.4 L462.8,424.8 L464.0,425.2 L465.2,425.6 L466.9,426.2 L468.1,426.6 L469.3,427.1 L470.5,427.5 L472.2,428.0 L473.5,428.5 L474.7,428.9 L475.9,429.3 L477.4,429.8 L478.9,430.3 L480.1,430.8 L481.3,431.2 L482.6,431.6 L484.3,432.2 L485.5,432.6 L486.7,433.1 L487.9,433.5 L489.5,434.0 L490.9,434.5 L492.1,434.9 L493.3,435.3 L494.7,435.8 L496.3,436.4 L497.5,436.8 L498.7,437.2 L499.9,437.6 L501.6,438.2 L502.9,438.6 L504.1,439.1 L505.3,439.5 L506.9,440.0 L508.3,440.5 L509.5,440.9 L510.7,441.3 L512.2,441.8 L513.7,442.3 L514.9,442.7 L516.1,443.1 L517.6,443.6 L519.1,444.1 L520.3,444.5 L521.5,444.9 L523.0,445.4 L524.5,445.9 L525.7,446.3 L526.8,446.7 L528.5,447.2 L529.8,447.7 L531.0,448.0 L532.2,448.4 L533.9,449.0 L535.2,449.4 L536.4,449.8 L537.6,450.2 L539.3,450.8 L540.6,451.2 L541.8,451.7 L543.0,452.1 L544.6,452.6 L546.0,453.1 L547.2,453.5 L548.4,453.9 L549.8,454.4 L551.4,454.9 L552.6,455.4 L553.8,455.8 L555.0,456.2 L556.7,456.8 L558.0,457.3 L559.2,457.7 L560.4,458.1 L561.7,458.6 L563.3,459.2 L564.6,459.7 L565.8,460.1 L567.0,460.5 L568.2,461.0 L569.7,461.6 L571.2,462.1 L572.4,462.6 L573.6,463.1 L574.8,463.5 L576.0,464.0 L577.5,464.6 L579.0,465.2 L580.2,465.7 L581.4,466.1 L582.6,466.6 L583.8,467.1 L585.0,467.6 L586.3,468.2 L587.7,468.8 L589.1,469.4 L590.3,469.9 L591.5,470.4 L592.7,471.0 L593.9,471.5 L595.1,472.1 L596.3,472.6 L597.5,473.2 L598.7,473.8 L599.9,474.3 L601.1,474.9 L602.3,475.5 L603.5,476.1 L604.7,476.7 L605.9,477.3 L607.1,477.9 L608.3,478.5 L609.5,479.2 L610.7,479.8 L611.9,480.4 L613.1,481.1 L614.3,481.7 L615.5,482.4 L616.7,483.0 L617.9,483.7 L619.1,484.3 L620.2,484.9 L621.3,485.5 L622.3,486.1 L623.4,486.7 L624.5,487.4 L625.7,488.1 L626.9,488.8 L628.1,489.5 L629.3,490.2 L630.4,490.9 L631.4,491.5 L632.4,492.1 L633.5,492.8 L634.7,493.6 L635.9,494.4 L636.9,495.1 L637.8,495.7 L638.9,496.5 L640.1,497.4 L641.1,498.1 L641.9,498.7 L643.1,499.6 L644.2,500.5 L644.9,501.1 L646.1,502.1 L647.0,502.9 L647.8,503.7 L648.9,504.7 L649.6,505.4 L650.7,506.5 L651.4,507.3 L652.3,508.3 L653.2,509.5 L653.8,510.3 L654.6,511.3 L655.3,512.5 L656.0,513.7 L656.7,514.9 L657.2,516.1 L657.7,517.3 L658.2,518.5 L658.6,519.9 L659.0,521.5 L659.2,522.7 L659.5,524.5 L659.6,526.3 L659.5,528.1 L659.4,529.9 L659.2,531.3 L659.0,532.9 L658.6,534.5 L658.3,535.9 L657.9,537.1 L657.4,538.6 L656.9,540.0 L656.4,541.2 L655.9,542.4 L655.4,543.6 L654.8,544.8 L654.2,546.0 L653.5,547.2 L652.9,548.4 L652.2,549.6 L651.5,550.8 L650.8,551.9 L650.2,552.9 L649.6,553.8 L648.9,555.0 L648.1,556.2 L647.3,557.4 L646.6,558.4 L646.1,559.3 L645.3,560.4 L644.5,561.6 L643.7,562.8 L643.1,563.7 L642.4,564.6 L641.6,565.8 L640.8,567.0 L640.8,567.0"/>
<path d="M437.0,461.1 L438.2,461.8 L439.4,462.5 L440.6,463.2 L441.8,463.9 L443.0,464.6 L444.0,465.2 L445.0,465.8 L446.0,466.4 L447.2,467.1 L448.4,467.8 L449.6,468.5 L450.8,469.3 L451.9,470.0 L452.8,470.6 L453.8,471.2 L455.0,471.9 L456.2,472.7 L457.4,473.4 L458.5,474.2 L459.4,474.8 L460.4,475.4 L461.6,476.2 L462.8,477.0 L463.9,477.7 L464.8,478.3 L465.8,479.0 L466.9,479.9 L468.1,480.7 L469.1,481.3 L470.0,481.9 L471.1,482.8 L472.3,483.6 L473.4,484.3 L474.2,484.9 L475.3,485.7 L476.5,486.5 L477.7,487.3 L478.5,487.9 L479.5,488.6 L480.7,489.5 L481.9,490.3 L482.7,490.9 L483.7,491.7 L484.9,492.5 L486.0,493.3 L486.8,493.9 L487.9,494.8 L489.1,495.7 L489.9,496.3 L490.9,497.1 L492.1,498.1 L492.9,498.7 L493.9,499.6 L495.0,500.5 L495.7,501.2 L496.9,502.2 L497.6,502.9 L498.7,503.9 L499.5,504.7 L500.5,505.7 L501.3,506.5 L502.3,507.5 L503.0,508.3 L504.1,509.5 L504.7,510.1 L505.7,511.3 L506.5,512.2 L507.2,513.1 L508.2,514.3 L508.9,515.1 L509.6,516.1 L510.5,517.3 L511.3,518.4 L511.9,519.3 L512.6,520.3 L513.3,521.5 L514.1,522.7 L514.8,523.9 L515.5,525.1 L516.1,526.2 L516.7,527.3 L517.3,528.5 L517.9,529.8 L518.4,531.1 L519.0,532.3 L519.4,533.5 L519.9,534.7 L520.3,535.9 L520.9,537.4 L521.3,538.8 L521.7,540.0 L522.1,541.5 L522.4,543.0 L522.7,544.2 L523.1,546.0 L523.3,547.2 L523.6,549.0 L523.8,550.8 L524.0,552.0 L524.2,553.8 L524.4,555.6 L524.5,557.0 L524.5,558.6 L524.6,560.4 L524.6,562.2 L524.6,564.0 L524.6,565.8 L524.6,567.0"/>
<path d="M62.0,773.1 L63.0,772.2 L63.8,771.4 L64.9,770.4 L65.6,769.7 L66.7,768.6 L67.4,767.9 L68.5,766.8 L69.2,766.0 L70.2,765.0 L71.0,764.1 L71.8,763.2 L72.8,762.1 L73.4,761.4 L74.4,760.2 L75.2,759.4 L76.0,758.4 L77.0,757.2 L77.6,756.5 L78.4,755.5 L79.4,754.3 L80.0,753.5 L80.8,752.5 L81.7,751.3 L82.4,750.5 L83.1,749.5 L84.1,748.3 L84.8,747.4 L85.4,746.5 L86.3,745.3 L87.2,744.2 L87.8,743.4 L88.6,742.3 L89.4,741.1 L90.2,740.1 L90.8,739.3 L91.6,738.2 L92.4,737.0 L93.1,735.9 L93.7,735.1 L94.5,734.0 L95.3,732.8 L96.1,731.6 L96.7,730.7 L97.3,729.8 L98.1,728.6 L98.9,727.4 L99.7,726.2 L100.3,725.3 L100.9,724.4 L101.7,723.2 L102.4,722.1 L103.2,720.9 L103.9,719.7 L104.5,718.7 L105.1,717.7 L105.8,716.7 L106.5,715.5 L107.2,714.3 L107.9,713.1 L108.6,711.9 L109.3,710.7 L109.9,709.5 L110.5,708.4 L111.1,707.3 L111.7,706.2 L112.3,705.1 L112.9,703.9 L113.5,702.8 L114.1,701.6 L114.7,700.3 L115.3,699.1 L115.9,697.8 L116.5,696.5 L117.1,695.2 L117.6,694.0 L118.1,692.8 L118.6,691.6 L119.1,690.4 L119.6,689.2 L120.1,688.1 L120.7,686.6 L121.3,685.1 L121.8,683.9 L122.2,682.7 L122.6,681.5 L123.1,680.3 L123.7,678.6 L124.1,677.3 L124.5,676.1 L124.9,674.9 L125.5,673.2 L125.9,671.9 L126.3,670.8 L126.7,669.4 L127.2,667.8 L127.6,666.6 L127.9,665.4 L128.4,663.6 L128.6,663.0"/>
<path d="M62.0,865.0 L63.2,864.4 L64.4,863.9 L65.6,863.3 L66.8,862.8 L68.0,862.2 L69.2,861.6 L70.4,861.0 L71.6,860.4 L72.8,859.7 L74.0,859.1 L75.2,858.4 L76.4,857.8 L77.6,857.1 L78.8,856.4 L79.9,855.7 L80.9,855.1 L81.9,854.5 L83.0,853.8 L84.2,853.0 L85.4,852.2 L86.4,851.5 L87.3,850.9 L88.4,850.1 L89.6,849.3 L90.6,848.5 L91.4,847.9 L92.5,847.0 L93.7,846.1 L94.4,845.5 L95.5,844.6 L96.6,843.7 L97.3,843.1 L98.5,842.0 L99.3,841.4 L100.3,840.4 L101.2,839.6 L102.1,838.7 L103.1,837.8 L103.9,836.9 L104.9,836.0 L105.7,835.1 L106.6,834.2 L107.5,833.2 L108.3,832.4 L109.3,831.3 L109.9,830.6 L111.0,829.4 L111.7,828.6 L112.5,827.6 L113.5,826.5 L114.1,825.7 L115.0,824.6 L115.9,823.5 L116.5,822.7 L117.3,821.7 L118.2,820.5 L118.9,819.5 L119.5,818.6 L120.3,817.5 L121.2,816.3 L121.9,815.2 L122.5,814.3 L123.2,813.3 L124.0,812.1 L124.8,810.9 L125.5,809.8 L126.1,808.8 L126.7,807.9 L127.4,806.8 L128.1,805.6 L128.8,804.4 L129.5,803.2 L130.2,802.0 L130.9,800.8 L131.5,799.7 L132.1,798.6 L132.7,797.5 L133.3,796.4 L133.9,795.2 L134.5,794.0 L135.1,792.9 L135.7,791.7 L136.3,790.5 L136.9,789.2 L137.5,788.0 L138.1,786.8 L138.7,785.5 L139.3,784.2 L139.9,783.0 L140.5,781.7 L141.0,780.5 L141.6,779.3 L142.1,778.1 L142.7,776.9 L143.2,775.7 L143.8,774.5 L144.3,773.4 L144.8,772.2 L145.4,771.0 L145.9,769.8 L146.5,768.5 L147.1,767.1 L147.7,765.7 L148.2,764.4 L148.7,763.2 L149.2,762.0 L149.7,760.8 L150.2,759.6 L150.7,758.4 L151.3,757.0 L151.8,755.5 L152.4,754.3 L152.8,753.1 L153.3,751.9 L153.8,750.7 L154.2,749.4 L154.8,747.9 L155.4,746.5 L155.8,745.3 L156.3,744.1 L156.7,742.9 L157.2,741.5 L157.8,739.9 L158.2,738.8 L158.6,737.6 L159.1,736.4 L159.6,734.7 L160.1,733.4 L160.5,732.2 L160.9,731.0 L161.4,729.5 L161.9,728.0 L162.3,726.8 L162.7,725.6 L163.2,724.1 L163.7,722.6 L164.1,721.5 L164.4,720.3 L165.0,718.5 L165.4,717.3 L165.7,716.1 L166.2,714.4 L166.6,713.1 L167.0,711.9 L167.4,710.3 L167.8,708.9 L168.1,707.7 L168.6,705.9 L168.9,704.8 L169.2,703.6 L169.7,701.8 L170.0,700.6 L170.4,699.0 L170.8,697.6 L171.1,696.4 L171.5,694.6 L171.8,693.4 L172.2,691.6 L172.5,690.4 L172.8,688.8 L173.1,687.5 L173.4,686.0 L173.7,684.5 L174.0,683.1 L174.3,681.5 L174.6,680.1 L174.9,678.5 L175.2,676.9 L175.5,675.5 L175.8,673.7 L176.0,672.5 L176.3,670.8 L176.5,669.6 L176.8,667.8 L177.0,666.6 L177.3,664.8 L177.6,663.2 L177.6,663.0"/>
<path d="M134.2,901.0 L135.1,900.0 L135.8,899.2 L136.8,898.0 L137.5,897.2 L138.3,896.2 L139.2,895.0 L139.9,894.2 L140.6,893.2 L141.6,892.1 L142.3,891.1 L142.9,890.3 L143.8,889.1 L144.7,887.9 L145.3,887.1 L146.0,886.1 L146.8,884.9 L147.7,883.7 L148.3,882.8 L148.9,881.9 L149.7,880.7 L150.5,879.5 L151.3,878.4 L151.8,877.6 L152.5,876.5 L153.3,875.4 L154.1,874.2 L154.8,873.0 L155.4,872.1 L156.0,871.1 L156.8,870.0 L157.5,868.8 L158.2,867.6 L159.0,866.4 L159.6,865.3 L160.2,864.3 L160.8,863.3 L161.5,862.2 L162.1,861.0 L162.8,859.8 L163.5,858.6 L164.2,857.5 L164.8,856.3 L165.5,855.1 L166.1,853.9 L166.8,852.7 L167.4,851.5 L168.0,850.4 L168.6,849.2 L169.2,848.1 L169.8,846.9 L170.4,845.7 L171.0,844.5 L171.6,843.3 L172.2,842.1 L172.8,840.9 L173.4,839.7 L174.0,838.4 L174.6,837.2 L175.2,836.0 L175.7,834.8 L176.3,833.6 L176.8,832.4 L177.4,831.2 L177.9,830.0 L178.4,828.8 L179.0,827.6 L179.5,826.4 L180.0,825.2 L180.6,823.9 L181.2,822.4 L181.8,821.1 L182.3,819.9 L182.7,818.7 L183.2,817.5 L183.7,816.3 L184.2,815.1 L184.8,813.5 L185.3,812.1 L185.8,810.9 L186.3,809.7 L186.7,808.5 L187.2,807.3 L187.8,805.6 L188.3,804.4 L188.7,803.2 L189.1,802.0 L189.6,800.7 L190.2,799.0 L190.6,797.8 L191.0,796.6 L191.4,795.4 L192.0,793.8 L192.4,792.4 L192.8,791.2 L193.2,790.1 L193.8,788.4 L194.2,787.1 L194.6,785.9 L195.0,784.7 L195.6,782.9 L195.9,781.7 L196.3,780.5 L196.8,778.8 L197.1,777.5 L197.5,776.3 L198.0,774.6 L198.3,773.4 L198.6,772.2 L199.1,770.4 L199.4,769.2 L199.8,767.9 L200.2,766.2 L200.5,765.0 L200.9,763.2 L201.2,762.0 L201.6,760.7 L202.0,759.0 L202.2,757.8 L202.7,756.1 L202.9,754.9 L203.4,753.1 L203.6,751.9 L204.0,750.4 L204.3,748.9 L204.6,747.7 L205.0,745.9 L205.2,744.7 L205.6,742.9 L205.9,741.7 L206.3,739.9 L206.5,738.8 L206.9,737.0 L207.1,735.8 L207.5,734.0 L207.8,732.8 L208.2,731.1 L208.4,729.8 L208.8,728.4 L209.1,726.8 L209.4,725.6 L209.8,723.8 L210.0,722.6 L210.4,720.9 L210.7,719.7 L211.0,717.9 L211.3,716.7 L211.7,714.9 L211.9,713.7 L212.3,711.9 L212.5,710.7 L212.9,708.9 L213.1,707.7 L213.4,705.9 L213.7,704.8 L214.0,703.0 L214.2,701.8 L214.5,700.0 L214.8,698.8 L215.1,697.0 L215.3,695.2 L215.5,694.0 L215.8,692.2 L216.0,691.0 L216.3,689.2 L216.5,687.5 L216.7,686.3 L216.9,684.5 L217.1,683.1 L217.4,681.5 L217.6,679.7 L217.8,678.5 L218.0,676.7 L218.2,674.9 L218.4,673.7 L218.6,671.9 L218.8,670.2 L219.0,669.0 L219.2,667.2 L219.4,665.4 L219.5,664.1 L219.7,663.0"/>
<path d="M203.5,901.0 L204.0,899.8 L204.6,898.5 L205.2,897.1 L205.8,895.6 L206.2,894.4 L206.7,893.2 L207.2,892.1 L207.6,890.9 L208.2,889.5 L208.8,887.9 L209.2,886.7 L209.7,885.5 L210.1,884.3 L210.6,883.1 L211.2,881.4 L211.6,880.1 L212.0,878.9 L212.5,877.7 L212.9,876.4 L213.5,874.8 L213.9,873.6 L214.3,872.4 L214.8,871.2 L215.3,869.5 L215.8,868.2 L216.2,867.0 L216.6,865.8 L217.1,864.3 L217.7,862.8 L218.1,861.6 L218.5,860.4 L218.9,859.2 L219.5,857.5 L220.0,856.3 L220.4,855.1 L220.8,853.9 L221.3,852.3 L221.8,850.9 L222.2,849.7 L222.6,848.5 L223.1,847.1 L223.7,845.5 L224.1,844.3 L224.5,843.1 L224.9,841.7 L225.5,840.2 L225.8,839.0 L226.2,837.8 L226.7,836.3 L227.2,834.8 L227.6,833.6 L228.0,832.4 L228.5,830.7 L228.9,829.4 L229.3,828.2 L229.7,826.9 L230.3,825.2 L230.6,824.1 L231.0,822.9 L231.5,821.2 L231.9,819.9 L232.3,818.7 L232.7,817.2 L233.2,815.7 L233.5,814.5 L233.9,813.2 L234.4,811.5 L234.7,810.3 L235.1,809.0 L235.6,807.4 L235.9,806.2 L236.3,804.7 L236.7,803.2 L237.0,802.0 L237.5,800.3 L237.8,799.0 L238.1,797.8 L238.6,796.0 L238.9,794.8 L239.3,793.1 L239.6,791.8 L239.9,790.6 L240.3,788.9 L240.6,787.7 L241.0,785.9 L241.2,784.7 L241.6,782.9 L241.8,781.7 L242.2,779.9 L242.4,778.7 L242.8,776.9 L243.0,775.7 L243.3,773.9 L243.5,772.8 L243.9,771.0 L244.1,769.6 L244.4,768.0 L244.7,766.2 L244.9,765.0 L245.2,763.2 L245.4,762.0 L245.7,760.2 L245.9,758.8 L246.1,757.2 L246.4,755.5 L246.6,754.3 L246.9,752.5 L247.1,750.9 L247.3,749.5 L247.6,747.7 L247.7,746.5 L248.0,744.7 L248.2,742.9 L248.4,741.7 L248.7,739.9 L248.9,738.4 L249.1,737.0 L249.3,735.2 L249.5,734.0 L249.8,732.2 L250.0,730.4 L250.2,729.2 L250.5,727.4 L250.7,726.1 L250.9,724.4 L251.2,722.6 L251.4,721.5 L251.6,719.7 L251.9,718.0 L252.1,716.7 L252.3,714.9 L252.5,713.7 L252.7,711.9 L253.0,710.1 L253.2,708.9 L253.4,707.1 L253.6,705.4 L253.8,704.2 L254.0,702.4 L254.2,700.6 L254.4,699.4 L254.6,697.6 L254.8,695.8 L254.9,694.6 L255.1,692.8 L255.3,691.0 L255.5,689.8 L255.7,688.1 L255.8,686.3 L256.0,684.5 L256.1,683.3 L256.3,681.5 L256.5,679.7 L256.6,677.9 L256.8,676.7 L256.9,674.9 L257.1,673.1 L257.2,671.4 L257.3,670.2 L257.5,668.4 L257.6,666.6 L257.8,664.8 L257.9,663.4 L257.9,663.0"/>
<path d="M256.0,901.0 L256.3,899.8 L256.7,898.6 L257.1,896.8 L257.5,895.6 L257.9,894.0 L258.2,892.6 L258.5,891.5 L259.0,889.7 L259.3,888.5 L259.7,886.8 L260.0,885.5 L260.3,884.3 L260.7,882.5 L261.0,881.3 L261.4,879.5 L261.7,878.3 L262.1,876.8 L262.4,875.4 L262.7,874.2 L263.1,872.4 L263.4,871.2 L263.8,869.4 L264.1,868.2 L264.5,866.5 L264.8,865.2 L265.1,863.9 L265.5,862.2 L265.8,861.0 L266.2,859.2 L266.5,858.1 L266.9,856.4 L267.2,855.1 L267.5,853.9 L267.9,852.1 L268.2,850.9 L268.6,849.1 L268.9,847.9 L269.3,846.4 L269.6,844.9 L269.9,843.7 L270.3,841.9 L270.6,840.8 L271.0,839.0 L271.3,837.8 L271.6,836.3 L272.0,834.8 L272.3,833.6 L272.7,831.8 L273.0,830.6 L273.4,828.8 L273.6,827.6 L274.0,825.9 L274.3,824.6 L274.6,823.2 L275.0,821.7 L275.3,820.5 L275.7,818.7 L275.9,817.5 L276.3,815.7 L276.6,814.5 L277.0,812.7 L277.2,811.5 L277.6,809.7 L277.9,808.5 L278.2,806.8 L278.5,805.6 L278.8,803.8 L279.1,802.6 L279.4,800.8 L279.7,799.6 L280.0,797.8 L280.2,796.6 L280.6,794.8 L280.8,793.6 L281.1,791.8 L281.3,790.6 L281.6,788.9 L281.8,787.6 L282.1,785.9 L282.4,784.1 L282.6,782.9 L282.9,781.1 L283.0,779.9 L283.3,778.1 L283.5,776.3 L283.7,775.1 L283.9,773.4 L284.1,771.6 L284.3,770.4 L284.5,768.6 L284.7,766.8 L284.8,765.6 L285.0,763.8 L285.2,762.0 L285.4,760.2 L285.5,759.0 L285.7,757.2 L285.9,755.5 L286.0,754.2 L286.2,752.5 L286.4,750.7 L286.6,748.9 L286.7,747.7 L286.8,745.9 L287.0,744.1 L287.2,742.3 L287.3,741.1 L287.5,739.4 L287.6,737.6 L287.8,735.8 L287.9,734.6 L288.1,732.8 L288.3,731.0 L288.4,729.3 L288.5,728.0 L288.7,726.2 L288.9,724.4 L289.0,723.1 L289.2,721.5 L289.4,719.7 L289.5,717.9 L289.6,716.7 L289.8,714.9 L290.0,713.1 L290.1,711.3 L290.2,710.1 L290.4,708.3 L290.6,706.5 L290.7,704.8 L290.8,703.5 L291.0,701.8 L291.1,700.0 L291.3,698.2 L291.4,696.4 L291.5,695.2 L291.6,693.4 L291.7,691.6 L291.9,689.8 L292.0,688.1 L292.1,686.9 L292.2,685.1 L292.3,683.3 L292.4,681.5 L292.5,679.7 L292.6,677.9 L292.7,676.7 L292.8,674.9 L292.9,673.1 L292.9,671.4 L293.0,669.6 L293.1,667.8 L293.2,666.0 L293.3,664.8 L293.3,663.0 L293.3,663.0"/>
<path d="M675.0,878.4 L673.2,878.9 L672.0,879.2 L670.8,879.6 L669.0,880.1 L667.8,880.4 L666.6,880.8 L664.8,881.3 L663.6,881.7 L662.4,882.0 L660.7,882.5 L659.4,882.9 L658.2,883.2 L656.5,883.7 L655.2,884.1 L654.0,884.4 L652.3,884.9 L651.0,885.2 L649.8,885.6 L648.0,886.0 L646.8,886.4 L645.6,886.7 L643.9,887.1 L642.7,887.5 L641.0,887.9 L639.7,888.2 L638.5,888.5 L636.7,889.0 L635.5,889.3 L634.0,889.7 L632.5,890.1 L631.3,890.4 L629.5,890.8 L628.3,891.1 L626.9,891.5 L625.3,891.9 L624.1,892.2 L622.3,892.6 L621.1,892.9 L619.8,893.2 L618.1,893.7 L616.9,894.0 L615.1,894.4 L613.9,894.7 L612.7,895.1 L610.9,895.5 L609.7,895.8 L608.3,896.2 L606.7,896.6 L605.5,897.0 L604.0,897.4 L602.5,897.8 L601.3,898.2 L599.8,898.6 L598.3,899.0 L597.1,899.4 L595.7,899.8 L594.1,900.3 L592.9,900.6 L591.6,901.0 L591.6,901.0"/>
<path d="M675.0,848.2 L673.8,848.7 L672.6,849.1 L671.1,849.7 L669.6,850.3 L668.4,850.7 L667.2,851.2 L666.0,851.7 L664.8,852.1 L663.3,852.7 L661.8,853.3 L660.6,853.7 L659.4,854.2 L658.2,854.6 L657.0,855.1 L655.5,855.7 L654.0,856.2 L652.8,856.6 L651.6,857.1 L650.4,857.5 L649.0,858.1 L647.4,858.6 L646.2,859.1 L645.1,859.5 L643.9,859.9 L642.3,860.4 L640.9,860.9 L639.7,861.3 L638.5,861.7 L637.0,862.2 L635.5,862.7 L634.3,863.1 L633.1,863.5 L631.4,864.0 L630.1,864.4 L628.9,864.8 L627.6,865.2 L625.9,865.8 L624.7,866.1 L623.5,866.5 L621.9,867.0 L620.5,867.4 L619.3,867.8 L618.0,868.2 L616.3,868.7 L615.1,869.1 L613.9,869.4 L612.1,870.0 L610.9,870.4 L609.7,870.7 L608.2,871.2 L606.7,871.6 L605.5,872.0 L604.3,872.4 L602.5,872.9 L601.3,873.3 L600.1,873.7 L598.7,874.2 L597.1,874.6 L595.9,875.0 L594.7,875.4 L593.1,875.9 L591.7,876.4 L590.5,876.8 L589.3,877.2 L587.6,877.7 L586.3,878.1 L585.2,878.5 L583.9,878.9 L582.2,879.5 L581.0,879.9 L579.8,880.3 L578.5,880.7 L576.8,881.3 L575.6,881.7 L574.4,882.1 L573.2,882.5 L571.4,883.1 L570.2,883.5 L569.0,883.9 L567.8,884.3 L566.1,884.9 L564.8,885.3 L563.6,885.7 L562.4,886.1 L560.8,886.7 L559.4,887.1 L558.2,887.5 L557.0,887.9 L555.4,888.5 L554.0,888.9 L552.8,889.3 L551.6,889.7 L549.9,890.3 L548.6,890.7 L547.4,891.1 L546.2,891.5 L544.4,892.0 L543.2,892.4 L542.0,892.8 L540.6,893.2 L539.0,893.8 L537.8,894.2 L536.6,894.5 L535.1,895.0 L533.6,895.5 L532.4,895.9 L531.2,896.3 L529.6,896.8 L528.2,897.3 L527.0,897.7 L525.8,898.0 L524.1,898.6 L522.9,899.0 L521.7,899.4 L520.5,899.8 L518.7,900.4 L517.5,900.8 L516.9,901.0"/>
<path d="M675.0,795.8 L674.1,796.6 L673.2,797.3 L672.0,798.3 L671.1,799.0 L670.2,799.7 L669.0,800.7 L668.1,801.4 L667.2,802.1 L666.0,803.0 L665.0,803.8 L664.2,804.4 L663.0,805.2 L661.8,806.1 L661.0,806.8 L660.0,807.4 L658.8,808.3 L657.6,809.1 L656.7,809.7 L655.8,810.4 L654.6,811.2 L653.4,812.0 L652.3,812.7 L651.4,813.3 L650.4,814.0 L649.2,814.7 L648.0,815.5 L646.8,816.3 L645.9,816.9 L644.9,817.5 L643.9,818.2 L642.7,818.9 L641.5,819.6 L640.3,820.3 L639.1,821.1 L638.0,821.7 L637.0,822.3 L636.0,822.9 L634.9,823.5 L633.7,824.2 L632.5,824.9 L631.3,825.5 L630.1,826.2 L628.9,826.9 L627.7,827.5 L626.5,828.2 L625.3,828.8 L624.1,829.4 L623.0,830.0 L621.8,830.6 L620.6,831.2 L619.5,831.8 L618.3,832.4 L617.1,833.0 L615.9,833.6 L614.6,834.2 L613.4,834.8 L612.1,835.4 L610.9,836.0 L609.7,836.5 L608.5,837.1 L607.3,837.6 L606.1,838.1 L604.9,838.7 L603.7,839.2 L602.5,839.7 L601.3,840.2 L600.0,840.8 L598.6,841.4 L597.2,841.9 L595.9,842.5 L594.7,843.0 L593.5,843.5 L592.3,843.9 L591.1,844.4 L589.9,844.9 L588.5,845.5 L587.0,846.1 L585.7,846.6 L584.6,847.1 L583.4,847.6 L582.2,848.1 L581.0,848.6 L579.7,849.1 L578.2,849.7 L576.8,850.3 L575.6,850.8 L574.4,851.3 L573.2,851.8 L572.0,852.3 L570.8,852.7 L569.4,853.3 L568.0,853.9 L566.6,854.4 L565.4,854.9 L564.2,855.4 L563.0,855.9 L561.8,856.4 L560.6,856.9 L559.2,857.5 L557.7,858.1 L556.4,858.6 L555.2,859.1 L554.0,859.5 L552.8,860.0 L551.6,860.5 L550.3,861.0 L548.8,861.6 L547.4,862.2 L546.2,862.7 L545.0,863.2 L543.8,863.6 L542.6,864.1 L541.4,864.6 L539.9,865.2 L538.4,865.8 L537.2,866.2 L536.0,866.7 L534.8,867.2 L533.6,867.7 L532.3,868.2 L530.8,868.8 L529.4,869.3 L528.2,869.8 L527.0,870.2 L525.8,870.7 L524.7,871.2 L523.2,871.8 L521.7,872.4 L520.5,872.9 L519.3,873.3 L518.1,873.8 L516.9,874.3 L515.7,874.8 L514.2,875.4 L512.7,875.9 L511.5,876.4 L510.3,876.9 L509.1,877.4 L507.9,877.9 L506.7,878.3 L505.1,878.9 L503.7,879.5 L502.5,880.0 L501.3,880.4 L500.1,880.9 L498.9,881.4 L497.5,881.9 L495.9,882.5 L494.7,883.0 L493.5,883.4 L492.3,883.9 L491.1,884.3 L489.7,884.9 L488.1,885.5 L486.9,885.9 L485.7,886.4 L484.5,886.8 L483.3,887.3 L481.7,887.9 L480.3,888.4 L479.1,888.8 L477.9,889.3 L476.7,889.7 L475.2,890.3 L473.7,890.8 L472.5,891.2 L471.3,891.7 L470.1,892.1 L468.7,892.6 L467.1,893.2 L465.9,893.7 L464.8,894.1 L463.6,894.6 L462.3,895.0 L460.7,895.6 L459.4,896.1 L458.2,896.6 L457.0,897.0 L455.8,897.5 L454.3,898.0 L452.8,898.6 L451.6,899.0 L450.4,899.5 L449.2,899.9 L447.9,900.4 L446.2,901.0 L446.2,901.0"/>
<path d="M622.0,663.0 L622.9,663.6 L624.1,664.4 L625.3,665.2 L626.4,666.0 L627.3,666.6 L628.3,667.3 L629.5,668.1 L630.7,668.9 L631.7,669.6 L632.6,670.2 L633.7,670.9 L634.9,671.6 L636.1,672.4 L637.2,673.1 L638.1,673.7 L639.1,674.3 L640.3,675.1 L641.5,675.9 L642.7,676.6 L643.7,677.3 L644.6,677.9 L645.6,678.6 L646.8,679.4 L648.0,680.2 L649.1,680.9 L650.0,681.5 L651.0,682.2 L652.2,683.0 L653.4,683.9 L654.2,684.5 L655.2,685.3 L656.4,686.2 L657.3,686.9 L658.2,687.6 L659.4,688.5 L660.3,689.2 L661.2,690.0 L662.4,691.0 L663.2,691.6 L664.2,692.5 L665.3,693.4 L666.0,694.0 L667.2,695.0 L668.1,695.8 L669.0,696.6 L670.1,697.6 L670.8,698.3 L672.0,699.4 L672.7,700.0 L673.8,701.1 L674.5,701.8 L675.0,702.2"/>
<path d="M545.0,663.0 L545.7,663.6 L546.8,664.5 L547.9,665.4 L548.6,666.0 L549.8,667.0 L550.7,667.8 L551.6,668.5 L552.8,669.5 L553.5,670.2 L554.6,671.1 L555.7,671.9 L556.4,672.6 L557.6,673.6 L558.5,674.3 L559.4,675.1 L560.6,676.1 L561.3,676.7 L562.4,677.7 L563.4,678.5 L564.2,679.2 L565.4,680.3 L566.1,680.9 L567.2,681.9 L568.1,682.7 L569.0,683.5 L570.0,684.5 L570.8,685.2 L571.9,686.3 L572.6,686.9 L573.7,688.1 L574.4,688.7 L575.5,689.8 L576.2,690.6 L577.2,691.6 L578.0,692.5 L578.8,693.4 L579.8,694.4 L580.5,695.2 L581.5,696.4 L582.2,697.2 L583.0,698.2 L584.0,699.3 L584.6,700.0 L585.5,701.2 L586.3,702.2 L586.9,703.0 L587.8,704.2 L588.7,705.4 L589.3,706.2 L590.0,707.1 L590.9,708.3 L591.7,709.5 L592.3,710.5 L592.9,711.5 L593.6,712.5 L594.3,713.7 L595.0,714.9 L595.7,716.1 L596.4,717.3 L597.0,718.5 L597.6,719.7 L598.2,720.9 L598.8,722.1 L599.3,723.2 L599.8,724.4 L600.3,725.6 L600.7,726.8 L601.3,728.5 L601.7,729.8 L602.1,731.0 L602.5,732.5 L602.9,734.0 L603.1,735.2 L603.5,737.0 L603.7,738.6 L603.9,739.9 L604.0,741.7 L604.1,743.5 L604.2,745.3 L604.1,747.1 L604.1,748.9 L603.9,750.7 L603.7,752.1 L603.5,753.7 L603.1,755.5 L602.9,756.6 L602.5,758.0 L602.1,759.6 L601.7,760.8 L601.3,762.0 L600.7,763.7 L600.2,765.0 L599.7,766.2 L599.2,767.4 L598.6,768.6 L598.0,769.8 L597.4,771.0 L596.8,772.2 L596.1,773.4 L595.4,774.5 L594.7,775.6 L594.1,776.5 L593.4,777.5 L592.6,778.7 L591.8,779.9 L591.1,780.8 L590.4,781.7 L589.5,782.9 L588.7,783.8 L588.0,784.7 L587.0,785.9 L586.3,786.7 L585.5,787.7 L584.6,788.7 L583.8,789.5 L582.8,790.6 L582.1,791.2 L581.0,792.4 L580.4,793.0 L579.2,794.2 L578.5,794.8 L577.4,795.9 L576.6,796.6 L575.6,797.6 L574.7,798.4 L573.8,799.2 L572.7,800.2 L572.0,800.8 L570.8,801.8 L569.9,802.6 L569.0,803.4 L567.8,804.4 L567.1,805.0 L566.0,805.9 L564.9,806.8 L564.2,807.4 L563.0,808.3 L561.9,809.1 L561.2,809.7 L560.0,810.6 L558.8,811.5 L558.0,812.1 L557.0,812.9 L555.8,813.8 L554.8,814.5 L554.0,815.1 L552.8,815.9 L551.6,816.8 L550.6,817.5 L549.7,818.1 L548.6,818.8 L547.4,819.7 L546.2,820.5 L545.3,821.1 L544.4,821.7 L543.2,822.5 L542.0,823.2 L540.8,824.0 L539.8,824.6 L538.9,825.2 L537.8,825.9 L536.6,826.7 L535.4,827.4 L534.2,828.2 L533.2,828.8 L532.2,829.4 L531.2,830.0 L530.0,830.7 L528.8,831.4 L527.6,832.2 L526.4,832.9 L525.3,833.6 L524.2,834.2 L523.2,834.8 L522.2,835.4 L521.1,836.0 L519.9,836.7 L518.7,837.4 L517.5,838.1 L516.3,838.7 L515.1,839.4 L513.9,840.1 L512.7,840.7 L511.6,841.4 L510.5,841.9 L509.4,842.5 L508.3,843.1 L507.2,843.7 L506.1,844.3 L504.9,845.0 L503.7,845.6 L502.5,846.2 L501.3,846.9 L500.1,847.5 L498.9,848.1 L497.7,848.7 L496.5,849.3 L495.3,850.0 L494.1,850.6 L492.9,851.2 L491.7,851.7 L490.5,852.3 L489.3,852.9 L488.1,853.5 L486.9,854.0 L485.7,854.6 L484.5,855.1 L483.3,855.7 L482.0,856.3 L480.7,856.9 L479.4,857.5 L478.0,858.1 L476.7,858.6 L475.5,859.1 L474.3,859.6 L473.1,860.2 L471.9,860.7 L470.7,861.2 L469.5,861.7 L468.3,862.2 L466.9,862.8 L465.5,863.4 L464.2,864.0 L463.0,864.5 L461.8,865.0 L460.6,865.5 L459.4,866.0 L458.2,866.5 L457.0,867.0 L455.6,867.6 L454.2,868.2 L452.9,868.8 L451.6,869.4 L450.4,869.9 L449.2,870.4 L448.0,871.0 L446.8,871.5 L445.6,872.0 L444.4,872.6 L443.2,873.1 L442.0,873.7 L440.8,874.2 L439.6,874.8 L438.2,875.4 L436.9,875.9 L436.0,876.3"/>
<path d="M469.9,663.0 L470.7,663.8 L471.8,664.8 L472.5,665.4 L473.7,666.6 L474.4,667.2 L475.5,668.2 L476.3,669.0 L477.3,669.9 L478.2,670.8 L479.1,671.6 L480.1,672.5 L480.9,673.4 L481.9,674.3 L482.7,675.1 L483.7,676.1 L484.5,676.9 L485.5,677.9 L486.3,678.8 L487.2,679.7 L488.1,680.7 L488.8,681.5 L489.9,682.7 L490.5,683.4 L491.5,684.5 L492.3,685.4 L493.0,686.3 L494.1,687.5 L494.7,688.2 L495.5,689.2 L496.5,690.4 L497.1,691.2 L497.9,692.2 L498.8,693.4 L499.5,694.4 L500.1,695.3 L500.9,696.4 L501.7,697.6 L502.5,698.8 L503.1,699.8 L503.7,700.7 L504.3,701.8 L505.1,703.0 L505.7,704.2 L506.4,705.4 L507.1,706.5 L507.7,707.7 L508.3,708.9 L508.9,710.1 L509.5,711.3 L510.0,712.5 L510.6,713.7 L511.1,714.9 L511.6,716.1 L512.1,717.3 L512.7,718.9 L513.2,720.3 L513.6,721.5 L513.9,722.6 L514.5,724.4 L514.8,725.6 L515.1,726.8 L515.5,728.6 L515.7,729.8 L516.0,731.6 L516.3,733.2 L516.4,734.6 L516.6,736.4 L516.7,738.2 L516.8,739.9 L516.8,741.7 L516.7,743.5 L516.6,745.3 L516.4,747.1 L516.3,748.5 L516.0,750.1 L515.7,751.9 L515.4,753.1 L515.1,754.7 L514.7,756.1 L514.4,757.2 L513.9,759.0 L513.5,760.2 L513.0,761.4 L512.6,762.6 L512.1,764.0 L511.5,765.5 L510.9,766.8 L510.4,768.0 L509.9,769.2 L509.3,770.4 L508.7,771.6 L508.1,772.8 L507.5,773.9 L506.8,775.1 L506.2,776.3 L505.5,777.5 L504.9,778.5 L504.3,779.5 L503.6,780.5 L502.9,781.7 L502.1,782.9 L501.3,784.1 L500.7,784.9 L500.0,785.9 L499.1,787.1 L498.3,788.2 L497.7,789.0 L496.9,790.1 L495.9,791.2 L495.3,792.0 L494.5,793.0 L493.5,794.2 L492.9,794.9 L491.9,796.0 L491.1,796.9 L490.3,797.8 L489.3,798.9 L488.7,799.6 L487.5,800.8 L486.9,801.4 L485.8,802.6 L485.1,803.2 L483.9,804.4 L483.3,805.0 L482.1,806.1 L481.4,806.8 L480.3,807.8 L479.5,808.5 L478.5,809.4 L477.4,810.3 L476.7,810.9 L475.5,811.9 L474.6,812.7 L473.7,813.4 L472.5,814.4 L471.6,815.1 L470.7,815.8 L469.5,816.7 L468.5,817.5 L467.7,818.1 L466.5,818.9 L465.4,819.8 L464.4,820.5 L463.5,821.1 L462.4,821.8 L461.2,822.6 L460.0,823.4 L459.0,824.1 L458.1,824.6 L457.0,825.4 L455.8,826.1 L454.6,826.9 L453.4,827.6 L452.4,828.2 L451.4,828.8 L450.4,829.5 L449.2,830.2 L448.0,830.9 L446.8,831.6 L445.6,832.3 L444.4,833.0 L443.4,833.6 L442.4,834.2 L441.4,834.8 L440.2,835.5 L439.0,836.2 L437.8,836.9 L436.6,837.5 L436.0,837.9"/>
</g>
<path class="ax" d="M55.5,17 V255.5 H294"/>
<path class="bd" d="M56,17.5 H294"/>
<path class="bdr" d="M294.5,17 V255"/>
<path class="ax" d="M55.5,255 V262.5"/>
<path class="ax" d="M115.2,255 V262.5"/>
<path class="ax" d="M175.0,255 V262.5"/>
<path class="ax" d="M234.8,255 V262.5"/>
<path class="ax" d="M294.5,255 V262.5"/>
<path class="ax" d="M48,255.5 H55"/>
<path class="ax" d="M48,196.0 H55"/>
<path class="ax" d="M48,136.5 H55"/>
<path class="ax" d="M48,77.0 H55"/>
<path class="ax" d="M48,17.5 H55"/>
<text class="le" font-size="32.32" transform="translate(-0.12,32.00) scale(0.952,1)">A</text>
<path class="ax" d="M435.5,17 V255.5 H674"/>
<path class="bd" d="M436,17.5 H674"/>
<path class="bdr" d="M674.5,17 V255"/>
<path class="ax" d="M435.5,255 V262.5"/>
<path class="ax" d="M495.2,255 V262.5"/>
<path class="ax" d="M555.0,255 V262.5"/>
<path class="ax" d="M614.8,255 V262.5"/>
<path class="ax" d="M674.5,255 V262.5"/>
<path class="ax" d="M428,255.5 H435"/>
<path class="ax" d="M428,196.0 H435"/>
<path class="ax" d="M428,136.5 H435"/>
<path class="ax" d="M428,77.0 H435"/>
<path class="ax" d="M428,17.5 H435"/>
<text class="le" font-size="32.17" transform="translate(372.62,31.90) scale(0.836,1)">B</text>
<path class="axl" d="M56.5,324 V562.5 H296"/>
<path class="bd" d="M58,324.5 H296"/>
<path class="bdr" d="M296.5,324 V562"/>
<path class="ax" d="M57.5,562 V569.5"/>
<path class="ax" d="M117.2,562 V569.5"/>
<path class="ax" d="M177.0,562 V569.5"/>
<path class="ax" d="M236.8,562 V569.5"/>
<path class="ax" d="M296.5,562 V569.5"/>
<path class="ax" d="M50,562.5 H57"/>
<path class="ax" d="M50,503.0 H57"/>
<path class="ax" d="M50,443.5 H57"/>
<path class="ax" d="M50,384.0 H57"/>
<path class="ax" d="M50,324.5 H57"/>
<text class="le" font-size="32.54" transform="translate(0.58,329.67) scale(0.785,1)">C</text>
<path class="axl" d="M436.5,328 V567.5 H676"/>
<path class="bd" d="M438,328.5 H676"/>
<path class="bdr" d="M676.5,328 V567"/>
<path class="ax" d="M437.5,567 V574.5"/>
<path class="ax" d="M497.2,567 V574.5"/>
<path class="ax" d="M557.0,567 V574.5"/>
<path class="ax" d="M616.8,567 V574.5"/>
<path class="ax" d="M676.5,567 V574.5"/>
<path class="ax" d="M430,567.5 H437"/>
<path class="ax" d="M430,507.8 H437"/>
<path class="ax" d="M430,448.0 H437"/>
<path class="ax" d="M430,388.2 H437"/>
<path class="ax" d="M430,328.5 H437"/>
<text class="le" font-size="32.17" transform="translate(377.75,329.80) scale(0.953,1)">D</text>
<path class="ax" d="M62.5,663 V901.5 H301"/>
<path class="bd" d="M63,663.5 H301"/>
<path class="bdr" d="M301.5,663 V901"/>
<path class="ax" d="M62.5,901 V908.5"/>
<path class="ax" d="M122.2,901 V908.5"/>
<path class="ax" d="M182.0,901 V908.5"/>
<path class="ax" d="M241.8,901 V908.5"/>
<path class="ax" d="M301.5,901 V908.5"/>
<path class="ax" d="M55,901.5 H62"/>
<path class="ax" d="M55,842.0 H62"/>
<path class="ax" d="M55,782.5 H62"/>
<path class="ax" d="M55,723.0 H62"/>
<path class="ax" d="M55,663.5 H62"/>
<text class="le" font-size="32.75" transform="translate(1.16,664.60) scale(0.714,1)">E</text>
<path class="axl" d="M435.5,663 V901.5 H675"/>
<path class="bd" d="M437,663.5 H675"/>
<path class="bdr" d="M675.5,663 V901"/>
<path class="ax" d="M436.5,901 V908.5"/>
<path class="ax" d="M496.2,901 V908.5"/>
<path class="ax" d="M556.0,901 V908.5"/>
<path class="ax" d="M615.8,901 V908.5"/>
<path class="ax" d="M675.5,901 V908.5"/>
<path class="ax" d="M429,901.5 H436"/>
<path class="ax" d="M429,842.0 H436"/>
<path class="ax" d="M429,782.5 H436"/>
<path class="ax" d="M429,723.0 H436"/>
<path class="ax" d="M429,663.5 H436"/>
<text class="le" font-size="32.61" transform="translate(384.39,664.60) scale(0.791,1)">F</text>
</svg>
<svg width="685" height="952" class="lbs">
<defs><clipPath id="clipC"><rect x="0" y="0" width="295.6" height="952"/></clipPath></defs>
<rect x="212.0" y="20.6" width="32.0" height="9.2"/><text x="228.0" y="28.90">73.3738</text>
<rect x="159.5" y="66.2" width="30.5" height="9.2"/><text x="174.8" y="74.45">76.4429</text>
<rect x="227.4" y="151.0" width="31.9" height="9.2"/><text x="243.4" y="159.20">79.5119</text>
<rect x="147.8" y="156.8" width="31.8" height="9.2"/><text x="163.7" y="165.05">76.4429</text>
<rect x="119.0" y="198.5" width="32.0" height="9.2"/><text x="135.0" y="206.75">73.3738</text>
<rect x="92.7" y="220.2" width="31.5" height="9.2"/><text x="108.5" y="228.45">70.3048</text>
<rect x="63.4" y="234.2" width="31.9" height="9.2"/><text x="79.3" y="242.50">67.2357</text>
<rect x="442.9" y="42.9" width="31.5" height="9.2"/><text x="458.6" y="51.15">72.9008</text>
<rect x="476.2" y="90.5" width="31.5" height="9.2"/><text x="491.9" y="98.75">71.4571</text>
<rect x="592.5" y="51.6" width="31.9" height="9.2"/><text x="608.5" y="59.85">70.0135</text>
<rect x="556.6" y="147.4" width="31.6" height="9.2"/><text x="572.4" y="155.65">71.4571</text>
<rect x="598.1" y="180.7" width="32.1" height="9.2"/><text x="614.2" y="188.95">72.9008</text>
<rect x="622.3" y="205.6" width="31.6" height="9.2"/><text x="638.1" y="213.85">74.3444</text>
<rect x="642.5" y="227.8" width="27.1" height="9.2"/><text x="656.0" y="236.00">75.788</text>
<rect x="178.1" y="376.5" width="31.5" height="9.2"/><text x="193.8" y="384.75">72.4534</text>
<rect x="148.1" y="415.2" width="31.5" height="9.2"/><text x="163.8" y="423.50">71.0477</text>
<rect x="230.0" y="410.0" width="31.5" height="9.2"/><text x="245.8" y="418.25">73.8592</text>
<rect x="261.8" y="416.0" width="27.2" height="9.2"/><text x="275.4" y="424.25">75.265</text>
<g clip-path="url(#clipC)"><rect x="263.1" y="350.2" width="36.3" height="9.2"/><text x="281.2" y="358.45">76.6708</text></g>
<rect x="534.2" y="339.4" width="32.0" height="9.2"/><text x="550.2" y="347.65">65.7077</text>
<rect x="534.2" y="365.0" width="32.0" height="9.2"/><text x="550.2" y="373.30">69.4869</text>
<rect x="533.4" y="396.8" width="26.6" height="9.2"/><text x="546.7" y="405.05">73.266</text>
<rect x="563.9" y="456.5" width="32.1" height="9.2"/><text x="580.0" y="464.75">77.0452</text>
<rect x="474.1" y="487.2" width="31.6" height="9.2"/><text x="489.9" y="495.45">80.8243</text>
<rect x="90.6" y="714.4" width="27.1" height="9.2"/><text x="104.2" y="722.70">65.524</text>
<rect x="124.0" y="772.8" width="31.9" height="9.2"/><text x="139.9" y="781.05">68.5706</text>
<rect x="175.4" y="784.9" width="32.6" height="9.2"/><text x="191.7" y="793.20">71.6172</text>
<rect x="224.2" y="778.8" width="31.6" height="9.2"/><text x="240.0" y="787.00">74.6638</text>
<rect x="265.8" y="778.8" width="31.9" height="9.2"/><text x="281.8" y="787.00">77.7104</text>
<rect x="497.0" y="751.7" width="32.2" height="9.2"/><text x="513.1" y="759.95">73.0068</text>
<rect x="562.5" y="784.4" width="32.3" height="9.2"/><text x="578.6" y="792.65">69.7056</text>
<rect x="632.6" y="671.1" width="31.9" height="9.2"/><text x="648.5" y="679.35">66.4044</text>
<rect x="550.9" y="844.9" width="31.7" height="9.2"/><text x="566.8" y="853.15">66.4044</text>
<rect x="580.8" y="865.5" width="31.6" height="9.2"/><text x="596.6" y="873.75">63.1032</text>
<rect x="619.4" y="879.9" width="31.5" height="9.2"/><text x="635.1" y="888.15">59.8019</text>
</svg>
</body></html>
